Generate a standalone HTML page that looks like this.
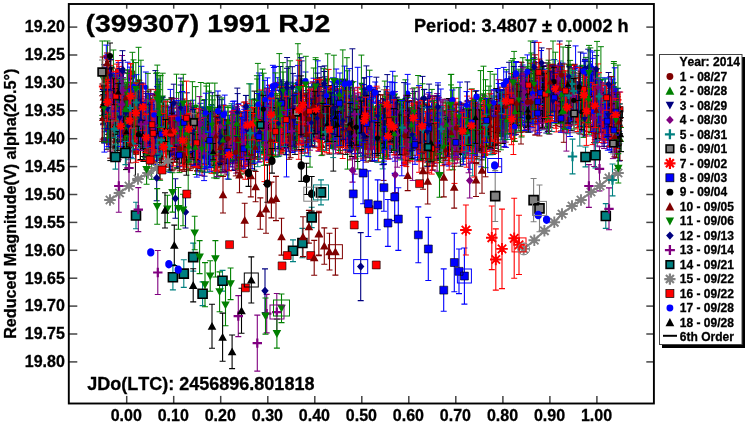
<!DOCTYPE html>
<html><head><meta charset="utf-8"><style>
html,body{margin:0;padding:0;background:#fff;width:748px;height:424px;overflow:hidden}
svg{display:block}
text{font-family:"Liberation Sans",Arial,sans-serif;font-weight:bold;fill:#000;font-kerning:none;stroke:#000;stroke-width:0.3px}
.yl{font-size:16px;text-anchor:end}
.xl{font-size:16px;text-anchor:middle}
.lg{font-size:12px}
</style></head><body>
<svg width="748" height="424" viewBox="0 0 748 424">
<rect width="748" height="424" fill="#fff"/>
<g id="data"><g stroke-width="1" fill="none"><path fill="#008000" d="M413 117.7l3.2 5.7h-6.3zM569.8 100.7l3.2 5.7h-6.3zM429.6 121.9l3.2 5.7h-6.3zM200.4 139.4l3.2 5.7h-6.3zM379.4 134.1l3.2 5.7h-6.3zM295.8 119.2l3.2 5.7h-6.3zM353.5 104.4l3.2 5.7h-6.3zM444.9 139l3.2 5.7h-6.3zM249 142.3l3.2 5.7h-6.3zM283 120l3.2 5.7h-6.3zM347.5 116.8l3.2 5.7h-6.3zM595.3 101.1l3.2 5.7h-6.3zM207.9 145.3l3.2 5.7h-6.3zM442.4 130.9l3.2 5.7h-6.3zM215.7 148.7l3.2 5.7h-6.3zM202.4 124.3l3.2 5.7h-6.3zM533.7 93l3.2 5.7h-6.3zM405.9 128l3.2 5.7h-6.3zM271.8 129.9l3.2 5.7h-6.3zM225.1 128.5l3.2 5.7h-6.3zM341.7 110.7l3.2 5.7h-6.3zM553.7 91.4l3.2 5.7h-6.3zM277.7 113.9l3.2 5.7h-6.3zM504.8 115.1l3.2 5.7h-6.3zM464.8 130.5l3.2 5.7h-6.3zM382.4 141l3.2 5.7h-6.3zM186.1 141l3.2 5.7h-6.3zM283.1 108.6l3.2 5.7h-6.3zM175.7 141.6l3.2 5.7h-6.3zM267.2 135.8l3.2 5.7h-6.3zM363.1 121l3.2 5.7h-6.3zM362.1 107.4l3.2 5.7h-6.3zM137.2 115.4l3.2 5.7h-6.3zM262.2 120.6l3.2 5.7h-6.3zM277.3 122.9l3.2 5.7h-6.3zM232.4 131.5l3.2 5.7h-6.3zM295.7 114.2l3.2 5.7h-6.3zM189.4 135.6l3.2 5.7h-6.3zM349 132.3l3.2 5.7h-6.3zM214.7 119.3l3.2 5.7h-6.3zM517.8 95.4l3.2 5.7h-6.3zM177.7 128.5l3.2 5.7h-6.3zM361.4 114.9l3.2 5.7h-6.3zM503.1 117l3.2 5.7h-6.3zM545.6 96.3l3.2 5.7h-6.3zM282.2 117.2l3.2 5.7h-6.3zM436.5 111.5l3.2 5.7h-6.3zM439.5 127.9l3.2 5.7h-6.3zM320.3 109.8l3.2 5.7h-6.3zM300.8 92l3.2 5.7h-6.3zM547.9 101.6l3.2 5.7h-6.3zM357 119.6l3.2 5.7h-6.3zM376.9 131.2l3.2 5.7h-6.3zM605.6 104.5l3.2 5.7h-6.3zM488.4 120.7l3.2 5.7h-6.3zM194.5 132.2l3.2 5.7h-6.3zM228.8 152.9l3.2 5.7h-6.3zM197.4 138.9l3.2 5.7h-6.3zM568.3 78.3l3.2 5.7h-6.3zM165.1 129.1l3.2 5.7h-6.3zM221 159.1l3.2 5.7h-6.3zM413.2 131.4l3.2 5.7h-6.3zM271.1 135.4l3.2 5.7h-6.3zM238 135.2l3.2 5.7h-6.3zM176.8 146.3l3.2 5.7h-6.3zM246.3 128.4l3.2 5.7h-6.3zM426.8 135.8l3.2 5.7h-6.3zM275.6 107l3.2 5.7h-6.3zM369.7 134.2l3.2 5.7h-6.3zM512.9 102l3.2 5.7h-6.3zM339.6 120.2l3.2 5.7h-6.3zM484 127.2l3.2 5.7h-6.3zM485.1 113.1l3.2 5.7h-6.3zM343.8 106.2l3.2 5.7h-6.3zM340 120.8l3.2 5.7h-6.3zM379.3 118.6l3.2 5.7h-6.3zM527.7 91.8l3.2 5.7h-6.3zM520.5 95l3.2 5.7h-6.3zM331.5 120.6l3.2 5.7h-6.3zM600.4 89.9l3.2 5.7h-6.3zM468.3 134.4l3.2 5.7h-6.3zM270.6 128.1l3.2 5.7h-6.3zM217.6 148.6l3.2 5.7h-6.3zM367.9 114.6l3.2 5.7h-6.3zM512.8 93.2l3.2 5.7h-6.3zM435.8 117.6l3.2 5.7h-6.3zM126.2 118.3l3.2 5.7h-6.3zM440.5 144.6l3.2 5.7h-6.3zM546.8 103.6l3.2 5.7h-6.3zM145.2 134l3.2 5.7h-6.3zM593 80.5l3.2 5.7h-6.3zM116.9 106.7l3.2 5.7h-6.3zM531.1 91.7l3.2 5.7h-6.3zM151.7 136.3l3.2 5.7h-6.3zM386.7 139.2l3.2 5.7h-6.3zM220.3 124.7l3.2 5.7h-6.3zM353.4 113.5l3.2 5.7h-6.3zM494.4 112.5l3.2 5.7h-6.3zM336.5 117.7l3.2 5.7h-6.3zM435.1 136.8l3.2 5.7h-6.3zM247.2 142.5l3.2 5.7h-6.3zM365 135.7l3.2 5.7h-6.3zM620.9 136.3l3.2 5.7h-6.3zM195.7 143.5l3.2 5.7h-6.3zM143.2 125.6l3.2 5.7h-6.3zM211.2 127.2l3.2 5.7h-6.3zM240.8 143.4l3.2 5.7h-6.3zM115.7 112.6l3.2 5.7h-6.3zM194.8 142.5l3.2 5.7h-6.3zM411.7 144.2l3.2 5.7h-6.3zM228 132.1l3.2 5.7h-6.3zM238.4 144l3.2 5.7h-6.3zM618 125.1l3.2 5.7h-6.3zM107.6 109l3.2 5.7h-6.3zM262.9 131l3.2 5.7h-6.3zM252.8 136.3l3.2 5.7h-6.3zM252.9 128.4l3.2 5.7h-6.3zM262.8 122.8l3.2 5.7h-6.3zM214.6 144.8l3.2 5.7h-6.3zM358.3 117.6l3.2 5.7h-6.3zM540.3 80.6l3.2 5.7h-6.3zM385.4 116.7l3.2 5.7h-6.3zM214.1 162.1l3.2 5.7h-6.3zM356.8 110.4l3.2 5.7h-6.3zM402.8 116l3.2 5.7h-6.3zM216.6 146.6l3.2 5.7h-6.3zM489.8 124.7l3.2 5.7h-6.3zM589 108.3l3.2 5.7h-6.3zM196.6 121.7l3.2 5.7h-6.3zM500.2 121.5l3.2 5.7h-6.3zM571.2 87l3.2 5.7h-6.3zM458 138.6l3.2 5.7h-6.3zM500.9 131.4l3.2 5.7h-6.3zM205.3 131.2l3.2 5.7h-6.3zM389.7 114.6l3.2 5.7h-6.3zM137 106.2l3.2 5.7h-6.3zM407.5 116.4l3.2 5.7h-6.3zM550.1 95.9l3.2 5.7h-6.3zM351 97.3l3.2 5.7h-6.3zM188.2 144l3.2 5.7h-6.3zM532.9 85.9l3.2 5.7h-6.3zM565.3 97.6l3.2 5.7h-6.3zM306.4 122.1l3.2 5.7h-6.3zM520.7 96.5l3.2 5.7h-6.3zM250.3 140.2l3.2 5.7h-6.3zM160.1 151.1l3.2 5.7h-6.3zM127.3 127.8l3.2 5.7h-6.3zM133.9 110l3.2 5.7h-6.3zM485.5 120.5l3.2 5.7h-6.3zM253.3 137.3l3.2 5.7h-6.3zM310 124l3.2 5.7h-6.3zM314.3 102.3l3.2 5.7h-6.3zM442.7 127.7l3.2 5.7h-6.3zM296.9 114.9l3.2 5.7h-6.3zM400.6 117.8l3.2 5.7h-6.3zM380.6 128.4l3.2 5.7h-6.3zM452.8 137.1l3.2 5.7h-6.3zM583.6 106.9l3.2 5.7h-6.3zM347.4 110.7l3.2 5.7h-6.3zM561.5 97.9l3.2 5.7h-6.3zM470.1 120.1l3.2 5.7h-6.3zM487.6 115.6l3.2 5.7h-6.3zM118.2 89.8l3.2 5.7h-6.3zM421.4 129.2l3.2 5.7h-6.3zM297.4 106.7l3.2 5.7h-6.3zM329.2 99.8l3.2 5.7h-6.3zM400.9 127.6l3.2 5.7h-6.3zM474.1 125.5l3.2 5.7h-6.3zM134.9 105.1l3.2 5.7h-6.3zM197.3 126.7l3.2 5.7h-6.3zM321.4 125.8l3.2 5.7h-6.3zM354.6 124.3l3.2 5.7h-6.3zM526.9 91.3l3.2 5.7h-6.3zM272 136.8l3.2 5.7h-6.3zM559.8 76.6l3.2 5.7h-6.3zM433.4 127.3l3.2 5.7h-6.3zM347.1 106.7l3.2 5.7h-6.3zM306.2 97.6l3.2 5.7h-6.3zM556.2 104.1l3.2 5.7h-6.3zM108.9 122.9l3.2 5.7h-6.3zM521.5 120.8l3.2 5.7h-6.3zM268.8 139.9l3.2 5.7h-6.3zM386.8 138l3.2 5.7h-6.3zM277.2 114.8l3.2 5.7h-6.3zM275.6 111.8l3.2 5.7h-6.3zM606.7 99.6l3.2 5.7h-6.3zM444.8 130.9l3.2 5.7h-6.3zM533.7 86.3l3.2 5.7h-6.3zM474.2 119.9l3.2 5.7h-6.3zM429.5 131.1l3.2 5.7h-6.3zM586 98.8l3.2 5.7h-6.3zM505.1 110.4l3.2 5.7h-6.3zM472.6 119.6l3.2 5.7h-6.3zM357.7 132.2l3.2 5.7h-6.3zM402.9 117.3l3.2 5.7h-6.3zM573.8 96.5l3.2 5.7h-6.3zM171.4 121.1l3.2 5.7h-6.3zM373.9 122.7l3.2 5.7h-6.3zM135.9 93.7l3.2 5.7h-6.3z"/><path fill="#000" d="M155.6 134a2.6 2.6 0 1 0 5.2 0a2.6 2.6 0 1 0 -5.2 0M252.4 130.1a2.6 2.6 0 1 0 5.2 0a2.6 2.6 0 1 0 -5.2 0M146.1 111.9a2.6 2.6 0 1 0 5.2 0a2.6 2.6 0 1 0 -5.2 0M140.7 139.7a2.6 2.6 0 1 0 5.2 0a2.6 2.6 0 1 0 -5.2 0M243.5 131.3a2.6 2.6 0 1 0 5.2 0a2.6 2.6 0 1 0 -5.2 0M120.7 115.5a2.6 2.6 0 1 0 5.2 0a2.6 2.6 0 1 0 -5.2 0M132.8 139.4a2.6 2.6 0 1 0 5.2 0a2.6 2.6 0 1 0 -5.2 0M539.4 105.6a2.6 2.6 0 1 0 5.2 0a2.6 2.6 0 1 0 -5.2 0M257.5 128.2a2.6 2.6 0 1 0 5.2 0a2.6 2.6 0 1 0 -5.2 0M557.8 95a2.6 2.6 0 1 0 5.2 0a2.6 2.6 0 1 0 -5.2 0M165.1 120a2.6 2.6 0 1 0 5.2 0a2.6 2.6 0 1 0 -5.2 0M373 139.7a2.6 2.6 0 1 0 5.2 0a2.6 2.6 0 1 0 -5.2 0M246.7 142.5a2.6 2.6 0 1 0 5.2 0a2.6 2.6 0 1 0 -5.2 0M346.3 126.1a2.6 2.6 0 1 0 5.2 0a2.6 2.6 0 1 0 -5.2 0M126.2 131.9a2.6 2.6 0 1 0 5.2 0a2.6 2.6 0 1 0 -5.2 0M256.6 115.7a2.6 2.6 0 1 0 5.2 0a2.6 2.6 0 1 0 -5.2 0M446.4 136.3a2.6 2.6 0 1 0 5.2 0a2.6 2.6 0 1 0 -5.2 0M539.9 110.4a2.6 2.6 0 1 0 5.2 0a2.6 2.6 0 1 0 -5.2 0M615.1 118.5a2.6 2.6 0 1 0 5.2 0a2.6 2.6 0 1 0 -5.2 0M262.3 123.1a2.6 2.6 0 1 0 5.2 0a2.6 2.6 0 1 0 -5.2 0M101.2 77.6a2.6 2.6 0 1 0 5.2 0a2.6 2.6 0 1 0 -5.2 0M457.2 130.8a2.6 2.6 0 1 0 5.2 0a2.6 2.6 0 1 0 -5.2 0M513.5 108.5a2.6 2.6 0 1 0 5.2 0a2.6 2.6 0 1 0 -5.2 0M108.7 83.2a2.6 2.6 0 1 0 5.2 0a2.6 2.6 0 1 0 -5.2 0M174.7 126.1a2.6 2.6 0 1 0 5.2 0a2.6 2.6 0 1 0 -5.2 0M362.4 123.4a2.6 2.6 0 1 0 5.2 0a2.6 2.6 0 1 0 -5.2 0M236.4 133.2a2.6 2.6 0 1 0 5.2 0a2.6 2.6 0 1 0 -5.2 0M270.3 115.3a2.6 2.6 0 1 0 5.2 0a2.6 2.6 0 1 0 -5.2 0M353 133.9a2.6 2.6 0 1 0 5.2 0a2.6 2.6 0 1 0 -5.2 0M184.1 121.1a2.6 2.6 0 1 0 5.2 0a2.6 2.6 0 1 0 -5.2 0M156.6 115.7a2.6 2.6 0 1 0 5.2 0a2.6 2.6 0 1 0 -5.2 0M384.2 137.5a2.6 2.6 0 1 0 5.2 0a2.6 2.6 0 1 0 -5.2 0M577.9 108.1a2.6 2.6 0 1 0 5.2 0a2.6 2.6 0 1 0 -5.2 0M243.9 122.2a2.6 2.6 0 1 0 5.2 0a2.6 2.6 0 1 0 -5.2 0M610.9 130.9a2.6 2.6 0 1 0 5.2 0a2.6 2.6 0 1 0 -5.2 0M601.5 112.6a2.6 2.6 0 1 0 5.2 0a2.6 2.6 0 1 0 -5.2 0M181.3 132.1a2.6 2.6 0 1 0 5.2 0a2.6 2.6 0 1 0 -5.2 0M497.2 100.4a2.6 2.6 0 1 0 5.2 0a2.6 2.6 0 1 0 -5.2 0M268.1 123.5a2.6 2.6 0 1 0 5.2 0a2.6 2.6 0 1 0 -5.2 0M493.3 128.1a2.6 2.6 0 1 0 5.2 0a2.6 2.6 0 1 0 -5.2 0M137.8 145.6a2.6 2.6 0 1 0 5.2 0a2.6 2.6 0 1 0 -5.2 0M578 88.7a2.6 2.6 0 1 0 5.2 0a2.6 2.6 0 1 0 -5.2 0M523.5 81.6a2.6 2.6 0 1 0 5.2 0a2.6 2.6 0 1 0 -5.2 0M539.9 91a2.6 2.6 0 1 0 5.2 0a2.6 2.6 0 1 0 -5.2 0M527.9 102.6a2.6 2.6 0 1 0 5.2 0a2.6 2.6 0 1 0 -5.2 0M255.1 135.2a2.6 2.6 0 1 0 5.2 0a2.6 2.6 0 1 0 -5.2 0M347.8 97.6a2.6 2.6 0 1 0 5.2 0a2.6 2.6 0 1 0 -5.2 0M163.2 123.9a2.6 2.6 0 1 0 5.2 0a2.6 2.6 0 1 0 -5.2 0M260.6 124.1a2.6 2.6 0 1 0 5.2 0a2.6 2.6 0 1 0 -5.2 0M522.8 85.4a2.6 2.6 0 1 0 5.2 0a2.6 2.6 0 1 0 -5.2 0M179.3 142.2a2.6 2.6 0 1 0 5.2 0a2.6 2.6 0 1 0 -5.2 0M589.8 81.3a2.6 2.6 0 1 0 5.2 0a2.6 2.6 0 1 0 -5.2 0M416.4 147.3a2.6 2.6 0 1 0 5.2 0a2.6 2.6 0 1 0 -5.2 0M553.4 91.2a2.6 2.6 0 1 0 5.2 0a2.6 2.6 0 1 0 -5.2 0M583.3 107a2.6 2.6 0 1 0 5.2 0a2.6 2.6 0 1 0 -5.2 0M371.8 133.6a2.6 2.6 0 1 0 5.2 0a2.6 2.6 0 1 0 -5.2 0M194.7 138.1a2.6 2.6 0 1 0 5.2 0a2.6 2.6 0 1 0 -5.2 0M613.5 120.7a2.6 2.6 0 1 0 5.2 0a2.6 2.6 0 1 0 -5.2 0M323.5 97.8a2.6 2.6 0 1 0 5.2 0a2.6 2.6 0 1 0 -5.2 0M390.9 130.5a2.6 2.6 0 1 0 5.2 0a2.6 2.6 0 1 0 -5.2 0M432.7 143.6a2.6 2.6 0 1 0 5.2 0a2.6 2.6 0 1 0 -5.2 0M238.7 151.4a2.6 2.6 0 1 0 5.2 0a2.6 2.6 0 1 0 -5.2 0M159.8 139.7a2.6 2.6 0 1 0 5.2 0a2.6 2.6 0 1 0 -5.2 0M365.3 131a2.6 2.6 0 1 0 5.2 0a2.6 2.6 0 1 0 -5.2 0M501.1 101.3a2.6 2.6 0 1 0 5.2 0a2.6 2.6 0 1 0 -5.2 0M548.2 87.3a2.6 2.6 0 1 0 5.2 0a2.6 2.6 0 1 0 -5.2 0M141 135.3a2.6 2.6 0 1 0 5.2 0a2.6 2.6 0 1 0 -5.2 0M342.4 88.5a2.6 2.6 0 1 0 5.2 0a2.6 2.6 0 1 0 -5.2 0M404.6 121.8a2.6 2.6 0 1 0 5.2 0a2.6 2.6 0 1 0 -5.2 0M236.7 146.2a2.6 2.6 0 1 0 5.2 0a2.6 2.6 0 1 0 -5.2 0M294.3 107.5a2.6 2.6 0 1 0 5.2 0a2.6 2.6 0 1 0 -5.2 0M147.4 138.6a2.6 2.6 0 1 0 5.2 0a2.6 2.6 0 1 0 -5.2 0M561.7 90.9a2.6 2.6 0 1 0 5.2 0a2.6 2.6 0 1 0 -5.2 0M487.2 130.4a2.6 2.6 0 1 0 5.2 0a2.6 2.6 0 1 0 -5.2 0M217.9 134.7a2.6 2.6 0 1 0 5.2 0a2.6 2.6 0 1 0 -5.2 0M424.9 124.6a2.6 2.6 0 1 0 5.2 0a2.6 2.6 0 1 0 -5.2 0M192.6 133.9a2.6 2.6 0 1 0 5.2 0a2.6 2.6 0 1 0 -5.2 0M249 133.8a2.6 2.6 0 1 0 5.2 0a2.6 2.6 0 1 0 -5.2 0M243.6 126a2.6 2.6 0 1 0 5.2 0a2.6 2.6 0 1 0 -5.2 0M374.7 110a2.6 2.6 0 1 0 5.2 0a2.6 2.6 0 1 0 -5.2 0M109 79.4a2.6 2.6 0 1 0 5.2 0a2.6 2.6 0 1 0 -5.2 0M265.9 132.4a2.6 2.6 0 1 0 5.2 0a2.6 2.6 0 1 0 -5.2 0M115.2 141.1a2.6 2.6 0 1 0 5.2 0a2.6 2.6 0 1 0 -5.2 0M490.6 128.4a2.6 2.6 0 1 0 5.2 0a2.6 2.6 0 1 0 -5.2 0M381 131.5a2.6 2.6 0 1 0 5.2 0a2.6 2.6 0 1 0 -5.2 0M556 89.7a2.6 2.6 0 1 0 5.2 0a2.6 2.6 0 1 0 -5.2 0M476.6 127.6a2.6 2.6 0 1 0 5.2 0a2.6 2.6 0 1 0 -5.2 0M318 123.8a2.6 2.6 0 1 0 5.2 0a2.6 2.6 0 1 0 -5.2 0M375.4 145.8a2.6 2.6 0 1 0 5.2 0a2.6 2.6 0 1 0 -5.2 0M187.3 129a2.6 2.6 0 1 0 5.2 0a2.6 2.6 0 1 0 -5.2 0M387.7 121.6a2.6 2.6 0 1 0 5.2 0a2.6 2.6 0 1 0 -5.2 0M445.2 132.4a2.6 2.6 0 1 0 5.2 0a2.6 2.6 0 1 0 -5.2 0M437.2 139.1a2.6 2.6 0 1 0 5.2 0a2.6 2.6 0 1 0 -5.2 0M617.5 126.1a2.6 2.6 0 1 0 5.2 0a2.6 2.6 0 1 0 -5.2 0M539.9 109a2.6 2.6 0 1 0 5.2 0a2.6 2.6 0 1 0 -5.2 0M409.5 139.9a2.6 2.6 0 1 0 5.2 0a2.6 2.6 0 1 0 -5.2 0M540.2 96.3a2.6 2.6 0 1 0 5.2 0a2.6 2.6 0 1 0 -5.2 0M205.9 143a2.6 2.6 0 1 0 5.2 0a2.6 2.6 0 1 0 -5.2 0M427.3 154.6a2.6 2.6 0 1 0 5.2 0a2.6 2.6 0 1 0 -5.2 0M445.9 137.6a2.6 2.6 0 1 0 5.2 0a2.6 2.6 0 1 0 -5.2 0M313.6 107.5a2.6 2.6 0 1 0 5.2 0a2.6 2.6 0 1 0 -5.2 0M168.8 118.2a2.6 2.6 0 1 0 5.2 0a2.6 2.6 0 1 0 -5.2 0M476.7 130.4a2.6 2.6 0 1 0 5.2 0a2.6 2.6 0 1 0 -5.2 0M540.4 89.4a2.6 2.6 0 1 0 5.2 0a2.6 2.6 0 1 0 -5.2 0M523.8 104.5a2.6 2.6 0 1 0 5.2 0a2.6 2.6 0 1 0 -5.2 0M397.1 118.4a2.6 2.6 0 1 0 5.2 0a2.6 2.6 0 1 0 -5.2 0M309.9 117a2.6 2.6 0 1 0 5.2 0a2.6 2.6 0 1 0 -5.2 0M111.6 147.4a2.6 2.6 0 1 0 5.2 0a2.6 2.6 0 1 0 -5.2 0M169.3 121.5a2.6 2.6 0 1 0 5.2 0a2.6 2.6 0 1 0 -5.2 0M327.6 105.7a2.6 2.6 0 1 0 5.2 0a2.6 2.6 0 1 0 -5.2 0M222.2 150.7a2.6 2.6 0 1 0 5.2 0a2.6 2.6 0 1 0 -5.2 0M147.1 135.5a2.6 2.6 0 1 0 5.2 0a2.6 2.6 0 1 0 -5.2 0M498.8 105a2.6 2.6 0 1 0 5.2 0a2.6 2.6 0 1 0 -5.2 0M189.9 145.5a2.6 2.6 0 1 0 5.2 0a2.6 2.6 0 1 0 -5.2 0M303.6 114.6a2.6 2.6 0 1 0 5.2 0a2.6 2.6 0 1 0 -5.2 0M381.6 127a2.6 2.6 0 1 0 5.2 0a2.6 2.6 0 1 0 -5.2 0M514.4 104.7a2.6 2.6 0 1 0 5.2 0a2.6 2.6 0 1 0 -5.2 0M606.4 105.5a2.6 2.6 0 1 0 5.2 0a2.6 2.6 0 1 0 -5.2 0M111 91.8a2.6 2.6 0 1 0 5.2 0a2.6 2.6 0 1 0 -5.2 0M446.3 114.9a2.6 2.6 0 1 0 5.2 0a2.6 2.6 0 1 0 -5.2 0M363.7 116.2a2.6 2.6 0 1 0 5.2 0a2.6 2.6 0 1 0 -5.2 0M154.8 124.6a2.6 2.6 0 1 0 5.2 0a2.6 2.6 0 1 0 -5.2 0M485.8 117.6a2.6 2.6 0 1 0 5.2 0a2.6 2.6 0 1 0 -5.2 0M313.4 107.1a2.6 2.6 0 1 0 5.2 0a2.6 2.6 0 1 0 -5.2 0M330.5 122.8a2.6 2.6 0 1 0 5.2 0a2.6 2.6 0 1 0 -5.2 0M445.3 128.6a2.6 2.6 0 1 0 5.2 0a2.6 2.6 0 1 0 -5.2 0M394.9 145a2.6 2.6 0 1 0 5.2 0a2.6 2.6 0 1 0 -5.2 0M417.4 125.4a2.6 2.6 0 1 0 5.2 0a2.6 2.6 0 1 0 -5.2 0M121.8 119.4a2.6 2.6 0 1 0 5.2 0a2.6 2.6 0 1 0 -5.2 0M591.7 111.3a2.6 2.6 0 1 0 5.2 0a2.6 2.6 0 1 0 -5.2 0M193.2 147.1a2.6 2.6 0 1 0 5.2 0a2.6 2.6 0 1 0 -5.2 0M320.5 119.5a2.6 2.6 0 1 0 5.2 0a2.6 2.6 0 1 0 -5.2 0M516.6 101.4a2.6 2.6 0 1 0 5.2 0a2.6 2.6 0 1 0 -5.2 0"/><path fill="#00f" stroke="#000" stroke-width=".6" d="M559.6 92h5.8v5.8h-5.8zM600.7 114.6h5.8v5.8h-5.8zM435.2 136.1h5.8v5.8h-5.8zM407.7 134.3h5.8v5.8h-5.8zM506.5 114.7h5.8v5.8h-5.8zM343.9 121.9h5.8v5.8h-5.8zM379.5 135.6h5.8v5.8h-5.8zM384.6 143.5h5.8v5.8h-5.8zM258 119.5h5.8v5.8h-5.8zM283.6 139.5h5.8v5.8h-5.8zM500.5 112.9h5.8v5.8h-5.8zM154 135.2h5.8v5.8h-5.8zM227.3 143.2h5.8v5.8h-5.8zM359.6 110.4h5.8v5.8h-5.8zM249.4 152.6h5.8v5.8h-5.8zM304.2 115.2h5.8v5.8h-5.8zM357.7 130.2h5.8v5.8h-5.8zM593.7 128.4h5.8v5.8h-5.8zM530.9 87.7h5.8v5.8h-5.8zM602.1 119.2h5.8v5.8h-5.8zM302.4 133.6h5.8v5.8h-5.8zM262.7 126.6h5.8v5.8h-5.8zM298.7 126.1h5.8v5.8h-5.8zM341.1 90.4h5.8v5.8h-5.8zM530.5 98.5h5.8v5.8h-5.8zM316.2 131h5.8v5.8h-5.8zM349.2 129.1h5.8v5.8h-5.8zM293.5 113.9h5.8v5.8h-5.8zM350.2 116.7h5.8v5.8h-5.8zM271.7 131.2h5.8v5.8h-5.8zM527.8 111.4h5.8v5.8h-5.8zM206.3 149.3h5.8v5.8h-5.8zM122.9 119.8h5.8v5.8h-5.8zM343 134.4h5.8v5.8h-5.8zM461 119.8h5.8v5.8h-5.8zM613.5 122.4h5.8v5.8h-5.8zM226.5 136.7h5.8v5.8h-5.8zM288.9 127.9h5.8v5.8h-5.8zM609.5 106.8h5.8v5.8h-5.8zM430.6 132.4h5.8v5.8h-5.8zM468.4 130.9h5.8v5.8h-5.8zM448.7 137.1h5.8v5.8h-5.8zM229.9 131.6h5.8v5.8h-5.8zM402.1 114h5.8v5.8h-5.8zM196.9 145.5h5.8v5.8h-5.8zM386.6 130.4h5.8v5.8h-5.8zM451.9 133.7h5.8v5.8h-5.8zM530 104.2h5.8v5.8h-5.8zM128 134.8h5.8v5.8h-5.8zM548.6 88.6h5.8v5.8h-5.8zM437.9 118.9h5.8v5.8h-5.8zM156.5 136.5h5.8v5.8h-5.8zM518.6 108.8h5.8v5.8h-5.8zM115.1 100.7h5.8v5.8h-5.8zM232 137.7h5.8v5.8h-5.8zM232.1 130.7h5.8v5.8h-5.8zM119.3 118.8h5.8v5.8h-5.8zM275.2 129.6h5.8v5.8h-5.8zM608.4 124.9h5.8v5.8h-5.8zM480.6 135h5.8v5.8h-5.8zM445.9 135.5h5.8v5.8h-5.8zM459.7 136.5h5.8v5.8h-5.8zM269.4 134.9h5.8v5.8h-5.8zM360.5 106.6h5.8v5.8h-5.8zM255.8 119h5.8v5.8h-5.8zM154.9 129.7h5.8v5.8h-5.8zM171.8 124h5.8v5.8h-5.8zM293.5 123.9h5.8v5.8h-5.8zM447.9 120.1h5.8v5.8h-5.8zM442.2 137.1h5.8v5.8h-5.8zM573.9 100.1h5.8v5.8h-5.8zM589.2 113.7h5.8v5.8h-5.8zM156.5 116.2h5.8v5.8h-5.8zM345.9 131.1h5.8v5.8h-5.8zM241.9 131.8h5.8v5.8h-5.8zM414.6 129.7h5.8v5.8h-5.8zM153.5 134.1h5.8v5.8h-5.8zM376.2 113.7h5.8v5.8h-5.8zM578.5 108.2h5.8v5.8h-5.8zM533 93.4h5.8v5.8h-5.8zM197.6 120.2h5.8v5.8h-5.8zM197.8 143.1h5.8v5.8h-5.8zM291.9 120.8h5.8v5.8h-5.8zM143.7 128.8h5.8v5.8h-5.8zM137.5 112h5.8v5.8h-5.8zM594.2 96.4h5.8v5.8h-5.8zM392 123.4h5.8v5.8h-5.8zM232 135.3h5.8v5.8h-5.8zM230.3 138.2h5.8v5.8h-5.8zM234.3 133.5h5.8v5.8h-5.8zM414.6 132.5h5.8v5.8h-5.8zM379.5 124.3h5.8v5.8h-5.8zM565.3 98.2h5.8v5.8h-5.8zM360.1 130.9h5.8v5.8h-5.8zM328 134.4h5.8v5.8h-5.8zM116.2 101.4h5.8v5.8h-5.8zM603.6 123.9h5.8v5.8h-5.8zM607.3 109.9h5.8v5.8h-5.8zM279.8 119.5h5.8v5.8h-5.8zM553.9 90.8h5.8v5.8h-5.8zM329.5 106.6h5.8v5.8h-5.8zM101.9 110.6h5.8v5.8h-5.8zM472.1 138.7h5.8v5.8h-5.8zM167.5 128h5.8v5.8h-5.8zM133 125.2h5.8v5.8h-5.8zM322.2 115.6h5.8v5.8h-5.8zM296 111.7h5.8v5.8h-5.8zM409.5 131.1h5.8v5.8h-5.8zM191.6 144.4h5.8v5.8h-5.8zM394.8 143.4h5.8v5.8h-5.8zM264.5 131.7h5.8v5.8h-5.8zM460.5 139.1h5.8v5.8h-5.8zM606.2 121.4h5.8v5.8h-5.8zM503 121.2h5.8v5.8h-5.8zM424.2 146.3h5.8v5.8h-5.8zM511.7 99.9h5.8v5.8h-5.8zM595.2 102.1h5.8v5.8h-5.8zM540.5 87h5.8v5.8h-5.8zM169.4 126.1h5.8v5.8h-5.8zM167.1 148.1h5.8v5.8h-5.8zM417.6 130.9h5.8v5.8h-5.8zM481.4 131.3h5.8v5.8h-5.8zM549.2 81h5.8v5.8h-5.8zM225.3 134.7h5.8v5.8h-5.8zM518.2 97.6h5.8v5.8h-5.8zM501.5 121.8h5.8v5.8h-5.8zM269 115.7h5.8v5.8h-5.8zM187.4 131.7h5.8v5.8h-5.8zM613.2 128.6h5.8v5.8h-5.8zM535.7 113.3h5.8v5.8h-5.8zM367.8 121.2h5.8v5.8h-5.8zM216.8 130.7h5.8v5.8h-5.8zM455.4 131.9h5.8v5.8h-5.8zM176.1 133.4h5.8v5.8h-5.8zM201.2 141h5.8v5.8h-5.8zM116.6 115h5.8v5.8h-5.8zM203 142.8h5.8v5.8h-5.8zM612.9 113.6h5.8v5.8h-5.8zM470.1 117.7h5.8v5.8h-5.8zM105.4 125.4h5.8v5.8h-5.8zM264.1 142.7h5.8v5.8h-5.8zM209.6 141.6h5.8v5.8h-5.8zM287.9 106.9h5.8v5.8h-5.8zM289.3 133.5h5.8v5.8h-5.8zM368.6 118.3h5.8v5.8h-5.8zM101.5 137.5h5.8v5.8h-5.8zM604.9 122.6h5.8v5.8h-5.8zM130.7 108.7h5.8v5.8h-5.8zM498.5 112h5.8v5.8h-5.8zM201.2 133.6h5.8v5.8h-5.8zM521.7 106.1h5.8v5.8h-5.8zM418.1 129.8h5.8v5.8h-5.8zM243.4 131.6h5.8v5.8h-5.8zM193.9 156.5h5.8v5.8h-5.8zM530 106.2h5.8v5.8h-5.8zM564.8 104.2h5.8v5.8h-5.8zM507.9 107.5h5.8v5.8h-5.8zM276.4 130.3h5.8v5.8h-5.8zM201.7 133.2h5.8v5.8h-5.8zM495.8 102.2h5.8v5.8h-5.8zM196 141.2h5.8v5.8h-5.8zM527 102.2h5.8v5.8h-5.8zM606.8 125.1h5.8v5.8h-5.8zM117.1 106.3h5.8v5.8h-5.8zM153.8 127.8h5.8v5.8h-5.8zM435.1 128.1h5.8v5.8h-5.8zM176.9 124h5.8v5.8h-5.8zM567.1 107.5h5.8v5.8h-5.8zM304.8 122.1h5.8v5.8h-5.8zM336.6 114.8h5.8v5.8h-5.8zM381.1 137.4h5.8v5.8h-5.8zM142.3 129.3h5.8v5.8h-5.8zM251.2 138.8h5.8v5.8h-5.8zM205 146.2h5.8v5.8h-5.8zM145.3 130.8h5.8v5.8h-5.8zM595.5 98.6h5.8v5.8h-5.8zM126.8 112.8h5.8v5.8h-5.8zM561.6 86.7h5.8v5.8h-5.8zM371.4 137.7h5.8v5.8h-5.8zM201.6 152.6h5.8v5.8h-5.8zM356.7 127.4h5.8v5.8h-5.8zM112.4 84.9h5.8v5.8h-5.8zM207.1 150.9h5.8v5.8h-5.8zM602.8 109h5.8v5.8h-5.8zM238.6 135.5h5.8v5.8h-5.8zM472.4 128.7h5.8v5.8h-5.8zM191.4 146.3h5.8v5.8h-5.8zM347.4 123.7h5.8v5.8h-5.8zM284.3 100.3h5.8v5.8h-5.8zM351.6 125.5h5.8v5.8h-5.8zM437.6 124.8h5.8v5.8h-5.8zM565.4 99.4h5.8v5.8h-5.8zM305.4 133h5.8v5.8h-5.8z"/><path fill="#000" d="M493.3 117.4l3.2 5.7h-6.3zM512.4 93.6l3.2 5.7h-6.3zM125.5 106.8l3.2 5.7h-6.3zM382.8 119.2l3.2 5.7h-6.3zM126 131.8l3.2 5.7h-6.3zM265.9 123.9l3.2 5.7h-6.3zM132.3 117.2l3.2 5.7h-6.3zM589.7 92.2l3.2 5.7h-6.3zM157.6 138.5l3.2 5.7h-6.3zM302 125.4l3.2 5.7h-6.3zM255.1 122.3l3.2 5.7h-6.3zM601.2 118.2l3.2 5.7h-6.3zM103.3 105.8l3.2 5.7h-6.3zM286.5 142.8l3.2 5.7h-6.3zM109.2 127.9l3.2 5.7h-6.3zM428.9 129.5l3.2 5.7h-6.3zM126.9 116.8l3.2 5.7h-6.3zM345.8 134.3l3.2 5.7h-6.3zM289.8 120.7l3.2 5.7h-6.3zM345.7 125.3l3.2 5.7h-6.3zM151.3 122.4l3.2 5.7h-6.3zM312.8 112.7l3.2 5.7h-6.3zM613.1 117.5l3.2 5.7h-6.3zM144.2 142.9l3.2 5.7h-6.3zM377.9 102.8l3.2 5.7h-6.3zM108.2 94.8l3.2 5.7h-6.3zM350 99.9l3.2 5.7h-6.3zM262.8 121.3l3.2 5.7h-6.3zM272.1 130.3l3.2 5.7h-6.3zM317.8 107.8l3.2 5.7h-6.3zM163.4 109.2l3.2 5.7h-6.3zM420.7 146.8l3.2 5.7h-6.3zM492.9 127.7l3.2 5.7h-6.3zM526.1 102.4l3.2 5.7h-6.3zM500.2 108.9l3.2 5.7h-6.3zM497.7 128.4l3.2 5.7h-6.3zM203.9 127.1l3.2 5.7h-6.3zM197.3 136.2l3.2 5.7h-6.3zM597.1 100.8l3.2 5.7h-6.3zM481.7 138.7l3.2 5.7h-6.3zM149.2 115.8l3.2 5.7h-6.3zM204.7 150.6l3.2 5.7h-6.3zM400.5 133.3l3.2 5.7h-6.3zM262.9 134.4l3.2 5.7h-6.3zM397.7 117.2l3.2 5.7h-6.3zM439.1 129.2l3.2 5.7h-6.3zM391.6 126.2l3.2 5.7h-6.3zM395.5 120.9l3.2 5.7h-6.3zM296.5 107.3l3.2 5.7h-6.3zM324.5 103.8l3.2 5.7h-6.3zM352.6 127.8l3.2 5.7h-6.3zM345 92.1l3.2 5.7h-6.3zM111.3 133.3l3.2 5.7h-6.3zM298.5 113.9l3.2 5.7h-6.3zM120.5 106.3l3.2 5.7h-6.3zM457.8 129.5l3.2 5.7h-6.3zM330.6 97.4l3.2 5.7h-6.3zM329.4 135.5l3.2 5.7h-6.3zM207.1 132.2l3.2 5.7h-6.3zM316.7 114.2l3.2 5.7h-6.3zM383.5 138.2l3.2 5.7h-6.3zM442.4 127.4l3.2 5.7h-6.3zM199.1 150.8l3.2 5.7h-6.3zM396.8 110.9l3.2 5.7h-6.3zM476.6 130l3.2 5.7h-6.3zM266.3 128.8l3.2 5.7h-6.3zM328.6 123.3l3.2 5.7h-6.3zM240.6 133.9l3.2 5.7h-6.3zM295 133.6l3.2 5.7h-6.3zM204.4 130.6l3.2 5.7h-6.3zM192.1 141.4l3.2 5.7h-6.3zM571 114.8l3.2 5.7h-6.3zM212.1 150.2l3.2 5.7h-6.3zM607 116.6l3.2 5.7h-6.3zM619.9 115.6l3.2 5.7h-6.3zM119 96.7l3.2 5.7h-6.3zM247.5 132.8l3.2 5.7h-6.3zM460.4 146.8l3.2 5.7h-6.3zM351.8 138.5l3.2 5.7h-6.3zM535.1 89.4l3.2 5.7h-6.3zM515.9 114l3.2 5.7h-6.3zM403.4 115.3l3.2 5.7h-6.3zM474.2 109l3.2 5.7h-6.3zM408.5 118.1l3.2 5.7h-6.3zM618.3 123.3l3.2 5.7h-6.3zM161 140.8l3.2 5.7h-6.3zM351.5 126l3.2 5.7h-6.3zM110.7 106.6l3.2 5.7h-6.3zM289.6 112.9l3.2 5.7h-6.3zM597.9 124.4l3.2 5.7h-6.3zM226.8 138.5l3.2 5.7h-6.3zM276.3 122.8l3.2 5.7h-6.3zM609.3 116.8l3.2 5.7h-6.3zM217.6 132.9l3.2 5.7h-6.3zM502.9 121.5l3.2 5.7h-6.3zM486.8 119.6l3.2 5.7h-6.3zM539.2 88.5l3.2 5.7h-6.3zM193.5 135.6l3.2 5.7h-6.3zM129.4 124.7l3.2 5.7h-6.3zM617.1 104l3.2 5.7h-6.3zM215.9 129l3.2 5.7h-6.3zM441.7 128.8l3.2 5.7h-6.3zM220.4 150.1l3.2 5.7h-6.3zM163.3 125.8l3.2 5.7h-6.3zM544.8 102.2l3.2 5.7h-6.3zM617.6 131.7l3.2 5.7h-6.3zM339 121.5l3.2 5.7h-6.3zM132.7 116.5l3.2 5.7h-6.3zM496.2 107.5l3.2 5.7h-6.3zM430 128l3.2 5.7h-6.3zM333.3 132.6l3.2 5.7h-6.3zM222.2 158.3l3.2 5.7h-6.3zM612 110.7l3.2 5.7h-6.3zM357.3 135.1l3.2 5.7h-6.3zM211.1 147.8l3.2 5.7h-6.3zM254.4 127.4l3.2 5.7h-6.3zM423.7 117l3.2 5.7h-6.3zM399.5 131.6l3.2 5.7h-6.3zM542.8 73.5l3.2 5.7h-6.3zM110.3 136.5l3.2 5.7h-6.3zM171.9 121.8l3.2 5.7h-6.3zM544.1 92.8l3.2 5.7h-6.3zM407.9 113.4l3.2 5.7h-6.3zM513.3 99.4l3.2 5.7h-6.3zM208 123.3l3.2 5.7h-6.3zM489.8 123.6l3.2 5.7h-6.3zM424.2 142.3l3.2 5.7h-6.3zM529.5 78.4l3.2 5.7h-6.3zM390.6 113.7l3.2 5.7h-6.3zM186.4 157.9l3.2 5.7h-6.3zM123.4 127l3.2 5.7h-6.3zM115.1 104.5l3.2 5.7h-6.3zM328.2 106.6l3.2 5.7h-6.3zM177.1 154.3l3.2 5.7h-6.3zM272.6 114.8l3.2 5.7h-6.3z"/><path fill="none" stroke="#800080" stroke-width="2.2" d="M598.6 118.5h6.9M602.1 115.1v6.9M244.6 132.5h6.9M248.1 129.1v6.9M487.8 106.4h6.9M491.3 102.9v6.9M429.4 130.2h6.9M432.8 126.8v6.9M358.8 126.5h6.9M362.2 123v6.9M177.7 125.1h6.9M181.2 121.7v6.9M257.6 119.6h6.9M261 116.2v6.9M107.1 101.6h6.9M110.6 98.1v6.9M121.2 109.2h6.9M124.7 105.8v6.9M378.6 126.5h6.9M382.1 123.1v6.9M360.4 123.3h6.9M363.9 119.9v6.9M133.3 128.7h6.9M136.7 125.3v6.9M465.2 139.4h6.9M468.6 136v6.9M262.1 126.2h6.9M265.5 122.8v6.9M577 111h6.9M580.4 107.5v6.9M351.7 109.9h6.9M355.1 106.5v6.9M126.3 132.9h6.9M129.7 129.4v6.9M480.7 119.6h6.9M484.1 116.2v6.9M543.5 87.1h6.9M547 83.7v6.9M274.6 121.6h6.9M278.1 118.1v6.9M326.7 120.7h6.9M330.1 117.3v6.9M412.8 128.3h6.9M416.2 124.8v6.9M468.9 130.7h6.9M472.3 127.2v6.9M434.6 130.1h6.9M438 126.7v6.9M311.8 124.4h6.9M315.2 120.9v6.9M482 126.9h6.9M485.4 123.5v6.9M300.7 124.1h6.9M304.1 120.7v6.9M605.9 127.1h6.9M609.3 123.7v6.9M124.8 100.1h6.9M128.3 96.7v6.9M267.3 111.5h6.9M270.8 108v6.9M354.4 126.9h6.9M357.8 123.5v6.9M171.4 141.4h6.9M174.8 138v6.9M235.6 149.6h6.9M239 146.1v6.9M424.4 122.3h6.9M427.9 118.8v6.9M443.6 131.9h6.9M447 128.5v6.9M239.3 139.6h6.9M242.7 136.2v6.9M186.8 117.4h6.9M190.2 114v6.9M517.5 91.5h6.9M520.9 88.1v6.9M187.7 121.8h6.9M191.2 118.4v6.9M159.9 123.4h6.9M163.3 120v6.9M397.2 134.8h6.9M400.6 131.3v6.9M233.5 129.8h6.9M236.9 126.3v6.9M488.2 120h6.9M491.6 116.6v6.9M536.4 98.2h6.9M539.8 94.8v6.9M244.6 133.2h6.9M248 129.7v6.9M468.1 122.9h6.9M471.6 119.5v6.9M536.5 85.9h6.9M539.9 82.5v6.9M495.6 119.8h6.9M499.1 116.3v6.9M459.2 129.1h6.9M462.6 125.6v6.9M505.9 112.2h6.9M509.4 108.8v6.9M429 126.9h6.9M432.5 123.4v6.9M601.3 113.9h6.9M604.7 110.5v6.9M539.6 90.2h6.9M543 86.8v6.9M141.6 120h6.9M145.1 116.5v6.9M581 93h6.9M584.5 89.5v6.9M341.7 110.2h6.9M345.1 106.8v6.9M172.2 138.4h6.9M175.6 134.9v6.9M481.5 122h6.9M485 118.5v6.9M175.2 130.6h6.9M178.7 127.2v6.9M500.8 119.1h6.9M504.2 115.7v6.9M234.9 128.9h6.9M238.3 125.4v6.9M315.1 107.7h6.9M318.5 104.2v6.9M390.7 119.7h6.9M394.1 116.3v6.9M267.2 104.7h6.9M270.6 101.3v6.9M359.6 137.5h6.9M363 134v6.9M228.7 139h6.9M232.2 135.6v6.9M402.1 138.1h6.9M405.5 134.7v6.9M554.4 96.5h6.9M557.8 93v6.9M553.2 89.6h6.9M556.6 86.1v6.9M143 136.1h6.9M146.4 132.7v6.9M495.1 123.3h6.9M498.5 119.8v6.9M172.8 132.9h6.9M176.2 129.5v6.9M356.4 135.3h6.9M359.9 131.9v6.9M446.9 136h6.9M450.4 132.6v6.9M296.1 118.5h6.9M299.5 115.1v6.9M450.8 128.7h6.9M454.2 125.3v6.9M275.7 129h6.9M279.2 125.6v6.9M435.4 127.3h6.9M438.8 123.9v6.9M386.3 127.9h6.9M389.7 124.5v6.9M612.3 122.1h6.9M615.8 118.7v6.9M308.1 108.3h6.9M311.6 104.9v6.9M147.8 135.2h6.9M151.2 131.7v6.9M197.8 136.7h6.9M201.2 133.3v6.9M238 144.6h6.9M241.5 141.2v6.9M219.4 150.3h6.9M222.9 146.9v6.9M217.4 140.2h6.9M220.8 136.7v6.9M331.3 129.5h6.9M334.7 126.1v6.9M616 113.7h6.9M619.4 110.3v6.9M450.7 145.6h6.9M454.2 142.2v6.9M305.1 103.8h6.9M308.5 100.4v6.9M149.1 122.2h6.9M152.6 118.7v6.9M321.7 113.8h6.9M325.1 110.3v6.9M469.6 133.7h6.9M473.1 130.3v6.9M266.4 117h6.9M269.9 113.5v6.9M368 116.9h6.9M371.4 113.5v6.9M281.7 107.9h6.9M285.1 104.5v6.9M561 98.7h6.9M564.5 95.3v6.9M118.7 94.2h6.9M122.1 90.7v6.9M473.9 128.3h6.9M477.4 124.8v6.9M608.5 109.1h6.9M611.9 105.6v6.9M612.3 126.5h6.9M615.7 123.1v6.9M463.4 127.3h6.9M466.8 123.8v6.9M405.4 139.5h6.9M408.9 136.1v6.9M451.4 137.2h6.9M454.8 133.8v6.9M446.4 127.8h6.9M449.9 124.4v6.9M511.7 100.9h6.9M515.1 97.5v6.9M446.2 119h6.9M449.6 115.6v6.9M486.9 124.1h6.9M490.4 120.7v6.9"/><path fill="none" stroke="#f00" stroke-width="1.9" d="M195.9 137.6h8.5M200.1 133.4v8.5M197.1 134.6l6.1 6.1M197.1 140.7l6.1 -6.1M142 135h8.5M146.3 130.7v8.5M143.2 131.9l6.1 6.1M143.2 138l6.1 -6.1M437.3 130.6h8.5M441.5 126.4v8.5M438.5 127.6l6.1 6.1M438.5 133.7l6.1 -6.1M599.1 111.9h8.5M603.4 107.7v8.5M600.3 108.9l6.1 6.1M600.3 115l6.1 -6.1M379.5 126.1h8.5M383.8 121.8v8.5M380.7 123l6.1 6.1M380.7 129.2l6.1 -6.1M356.4 117.7h8.5M360.6 113.4v8.5M357.6 114.6l6.1 6.1M357.6 120.8l6.1 -6.1M297.8 133h8.5M302 128.7v8.5M299 129.9l6.1 6.1M299 136.1l6.1 -6.1M598.9 110.3h8.5M603.2 106.1v8.5M600.1 107.3l6.1 6.1M600.1 113.4l6.1 -6.1M593.6 93h8.5M597.9 88.7v8.5M594.8 89.9l6.1 6.1M594.8 96l6.1 -6.1M514.6 104.7h8.5M518.9 100.5v8.5M515.8 101.6l6.1 6.1M515.8 107.8l6.1 -6.1M114.8 115.2h8.5M119.1 110.9v8.5M116 112.1l6.1 6.1M116 118.3l6.1 -6.1M437.3 130.3h8.5M441.6 126.1v8.5M438.5 127.3l6.1 6.1M438.5 133.4l6.1 -6.1M172.3 132.2h8.5M176.5 128v8.5M173.5 129.2l6.1 6.1M173.5 135.3l6.1 -6.1M552 103.4h8.5M556.3 99.2v8.5M553.2 100.4l6.1 6.1M553.2 106.5l6.1 -6.1M256.4 132.8h8.5M260.7 128.5v8.5M257.6 129.7l6.1 6.1M257.6 135.8l6.1 -6.1M334.2 124.3h8.5M338.5 120.1v8.5M335.4 121.3l6.1 6.1M335.4 127.4l6.1 -6.1M558.1 114.2h8.5M562.4 109.9v8.5M559.3 111.1l6.1 6.1M559.3 117.2l6.1 -6.1M594.7 91.6h8.5M599 87.3v8.5M595.9 88.5l6.1 6.1M595.9 94.7l6.1 -6.1M288.7 127.5h8.5M292.9 123.3v8.5M289.9 124.5l6.1 6.1M289.9 130.6l6.1 -6.1M154.1 132.4h8.5M158.3 128.2v8.5M155.3 129.4l6.1 6.1M155.3 135.5l6.1 -6.1M392.4 142.1h8.5M396.6 137.8v8.5M393.6 139l6.1 6.1M393.6 145.1l6.1 -6.1M468.4 112.5h8.5M472.7 108.2v8.5M469.6 109.4l6.1 6.1M469.6 115.6l6.1 -6.1M367.3 142.2h8.5M371.6 137.9v8.5M368.5 139.1l6.1 6.1M368.5 145.2l6.1 -6.1M537.1 91.9h8.5M541.3 87.6v8.5M538.2 88.8l6.1 6.1M538.2 94.9l6.1 -6.1M281 104h8.5M285.3 99.7v8.5M282.2 100.9l6.1 6.1M282.2 107l6.1 -6.1M132 115.8h8.5M136.2 111.6v8.5M133.2 112.8l6.1 6.1M133.2 118.9l6.1 -6.1M110.2 120.3h8.5M114.5 116.1v8.5M111.4 117.3l6.1 6.1M111.4 123.4l6.1 -6.1M135.9 139.8h8.5M140.1 135.5v8.5M137.1 136.7l6.1 6.1M137.1 142.8l6.1 -6.1M367.7 121.3h8.5M371.9 117v8.5M368.9 118.2l6.1 6.1M368.9 124.4l6.1 -6.1M452 130.4h8.5M456.2 126.2v8.5M453.2 127.4l6.1 6.1M453.2 133.5l6.1 -6.1M154.3 114.4h8.5M158.5 110.2v8.5M155.5 111.4l6.1 6.1M155.5 117.5l6.1 -6.1M547.2 87h8.5M551.5 82.7v8.5M548.4 83.9l6.1 6.1M548.4 90l6.1 -6.1M601.6 112.8h8.5M605.8 108.6v8.5M602.8 109.8l6.1 6.1M602.8 115.9l6.1 -6.1M380.4 133.1h8.5M384.7 128.8v8.5M381.6 130l6.1 6.1M381.6 136.2l6.1 -6.1M399.4 133.2h8.5M403.7 129v8.5M400.6 130.2l6.1 6.1M400.6 136.3l6.1 -6.1M374.3 132.8h8.5M378.6 128.5v8.5M375.5 129.7l6.1 6.1M375.5 135.8l6.1 -6.1M316 120.9h8.5M320.2 116.6v8.5M317.2 117.8l6.1 6.1M317.2 124l6.1 -6.1M250.3 128.3h8.5M254.5 124.1v8.5M251.4 125.2l6.1 6.1M251.4 131.4l6.1 -6.1M437.9 135.7h8.5M442.2 131.5v8.5M439.1 132.7l6.1 6.1M439.1 138.8l6.1 -6.1M182.7 129.5h8.5M187 125.3v8.5M183.9 126.5l6.1 6.1M183.9 132.6l6.1 -6.1M415.1 121.9h8.5M419.4 117.6v8.5M416.3 118.8l6.1 6.1M416.3 124.9l6.1 -6.1M247 138.2h8.5M251.2 133.9v8.5M248.2 135.1l6.1 6.1M248.2 141.2l6.1 -6.1M558.4 101.4h8.5M562.6 97.1v8.5M559.6 98.3l6.1 6.1M559.6 104.5l6.1 -6.1M579 100.8h8.5M583.3 96.6v8.5M580.2 97.7l6.1 6.1M580.2 103.9l6.1 -6.1M468.4 133.3h8.5M472.7 129v8.5M469.6 130.2l6.1 6.1M469.6 136.4l6.1 -6.1M476.9 124.2h8.5M481.1 119.9v8.5M478.1 121.1l6.1 6.1M478.1 127.2l6.1 -6.1M450.2 141.6h8.5M454.5 137.3v8.5M451.4 138.5l6.1 6.1M451.4 144.7l6.1 -6.1M343.9 114.1h8.5M348.2 109.8v8.5M345.1 111l6.1 6.1M345.1 117.2l6.1 -6.1M211.6 150.5h8.5M215.8 146.3v8.5M212.7 147.4l6.1 6.1M212.7 153.6l6.1 -6.1M270.8 132.7h8.5M275 128.5v8.5M272 129.7l6.1 6.1M272 135.8l6.1 -6.1M510.6 107.3h8.5M514.9 103.1v8.5M511.8 104.2l6.1 6.1M511.8 110.4l6.1 -6.1M441.4 121.2h8.5M445.7 117v8.5M442.6 118.2l6.1 6.1M442.6 124.3l6.1 -6.1M322.4 127.2h8.5M326.6 122.9v8.5M323.6 124.1l6.1 6.1M323.6 130.3l6.1 -6.1M157.8 128.2h8.5M162.1 124v8.5M159 125.2l6.1 6.1M159 131.3l6.1 -6.1M147.5 114.4h8.5M151.7 110.1v8.5M148.7 111.3l6.1 6.1M148.7 117.5l6.1 -6.1M101.7 82.7h8.5M106 78.4v8.5M102.9 79.6l6.1 6.1M102.9 85.8l6.1 -6.1M582.1 109.8h8.5M586.4 105.6v8.5M583.3 106.7l6.1 6.1M583.3 112.9l6.1 -6.1M338.5 132h8.5M342.7 127.7v8.5M339.6 128.9l6.1 6.1M339.6 135.1l6.1 -6.1M98.9 86.5h8.5M103.2 82.2v8.5M100.1 83.4l6.1 6.1M100.1 89.6l6.1 -6.1M360.7 128.3h8.5M365 124v8.5M361.9 125.2l6.1 6.1M361.9 131.3l6.1 -6.1M571.6 101.7h8.5M575.8 97.4v8.5M572.8 98.6l6.1 6.1M572.8 104.7l6.1 -6.1M418.6 135.5h8.5M422.9 131.3v8.5M419.8 132.5l6.1 6.1M419.8 138.6l6.1 -6.1M419.3 119.5h8.5M423.5 115.2v8.5M420.5 116.4l6.1 6.1M420.5 122.6l6.1 -6.1M280.5 112.8h8.5M284.8 108.6v8.5M281.7 109.8l6.1 6.1M281.7 115.9l6.1 -6.1M452.6 140.2h8.5M456.9 136v8.5M453.8 137.1l6.1 6.1M453.8 143.3l6.1 -6.1M450.9 131.7h8.5M455.2 127.5v8.5M452.1 128.7l6.1 6.1M452.1 134.8l6.1 -6.1M211.4 144.8h8.5M215.6 140.6v8.5M212.6 141.8l6.1 6.1M212.6 147.9l6.1 -6.1M194.1 138h8.5M198.4 133.7v8.5M195.3 134.9l6.1 6.1M195.3 141l6.1 -6.1M110.8 113h8.5M115.1 108.7v8.5M112 109.9l6.1 6.1M112 116.1l6.1 -6.1M150.7 131h8.5M155 126.7v8.5M151.9 127.9l6.1 6.1M151.9 134l6.1 -6.1M151.4 120.1h8.5M155.7 115.8v8.5M152.6 117l6.1 6.1M152.6 123.2l6.1 -6.1M202.7 141.6h8.5M206.9 137.4v8.5M203.9 138.6l6.1 6.1M203.9 144.7l6.1 -6.1M429.3 137.7h8.5M433.5 133.5v8.5M430.5 134.6l6.1 6.1M430.5 140.8l6.1 -6.1M575 117.7h8.5M579.2 113.5v8.5M576.2 114.6l6.1 6.1M576.2 120.8l6.1 -6.1M114.5 119h8.5M118.8 114.7v8.5M115.7 115.9l6.1 6.1M115.7 122l6.1 -6.1M178.6 141.6h8.5M182.9 137.3v8.5M179.8 138.5l6.1 6.1M179.8 144.6l6.1 -6.1M162.7 136.2h8.5M167 132v8.5M163.9 133.2l6.1 6.1M163.9 139.3l6.1 -6.1M441.9 127.5h8.5M446.2 123.2v8.5M443.1 124.4l6.1 6.1M443.1 130.6l6.1 -6.1M468 123.6h8.5M472.3 119.3v8.5M469.2 120.5l6.1 6.1M469.2 126.7l6.1 -6.1M147.5 142.8h8.5M151.8 138.5v8.5M148.7 139.7l6.1 6.1M148.7 145.8l6.1 -6.1M593 117.6h8.5M597.3 113.3v8.5M594.2 114.5l6.1 6.1M594.2 120.6l6.1 -6.1M482.2 135.9h8.5M486.5 131.7v8.5M483.4 132.9l6.1 6.1M483.4 139l6.1 -6.1M247.4 116.8h8.5M251.6 112.5v8.5M248.6 113.7l6.1 6.1M248.6 119.9l6.1 -6.1M325.5 112.2h8.5M329.8 108v8.5M326.7 109.2l6.1 6.1M326.7 115.3l6.1 -6.1M545 98.8h8.5M549.2 94.5v8.5M546.1 95.7l6.1 6.1M546.1 101.8l6.1 -6.1M351.4 124.5h8.5M355.7 120.3v8.5M352.6 121.5l6.1 6.1M352.6 127.6l6.1 -6.1M595.3 116.6h8.5M599.5 112.3v8.5M596.5 113.5l6.1 6.1M596.5 119.6l6.1 -6.1M313.9 113.8h8.5M318.2 109.5v8.5M315.1 110.7l6.1 6.1M315.1 116.8l6.1 -6.1M472.2 121.6h8.5M476.5 117.3v8.5M473.4 118.5l6.1 6.1M473.4 124.7l6.1 -6.1M263.5 130.3h8.5M267.8 126v8.5M264.7 127.2l6.1 6.1M264.7 133.3l6.1 -6.1M379.8 119.2h8.5M384.1 115v8.5M381 116.2l6.1 6.1M381 122.3l6.1 -6.1M207.4 157.1h8.5M211.6 152.9v8.5M208.6 154.1l6.1 6.1M208.6 160.2l6.1 -6.1M550.8 90.9h8.5M555.1 86.7v8.5M552 87.9l6.1 6.1M552 94l6.1 -6.1M125 105.8h8.5M129.3 101.5v8.5M126.2 102.7l6.1 6.1M126.2 108.9l6.1 -6.1M222.7 147.4h8.5M227 143.1v8.5M223.9 144.3l6.1 6.1M223.9 150.5l6.1 -6.1M140.7 121.9h8.5M145 117.6v8.5M141.9 118.8l6.1 6.1M141.9 124.9l6.1 -6.1M262.2 115.1h8.5M266.5 110.8v8.5M263.4 112l6.1 6.1M263.4 118.2l6.1 -6.1M542 95.8h8.5M546.2 91.5v8.5M543.2 92.7l6.1 6.1M543.2 98.8l6.1 -6.1M112.8 91.2h8.5M117 86.9v8.5M114 88.1l6.1 6.1M114 94.3l6.1 -6.1M564.3 104.2h8.5M568.6 100v8.5M565.5 101.1l6.1 6.1M565.5 107.3l6.1 -6.1M429.8 129.7h8.5M434 125.5v8.5M431 126.7l6.1 6.1M431 132.8l6.1 -6.1M108.4 101.2h8.5M112.6 96.9v8.5M109.6 98.1l6.1 6.1M109.6 104.3l6.1 -6.1M273.9 135.3h8.5M278.1 131.1v8.5M275.1 132.3l6.1 6.1M275.1 138.4l6.1 -6.1M597.8 103h8.5M602.1 98.7v8.5M599 99.9l6.1 6.1M599 106l6.1 -6.1M233.8 142h8.5M238.1 137.8v8.5M235 139l6.1 6.1M235 145.1l6.1 -6.1M169.1 137.1h8.5M173.3 132.9v8.5M170.2 134.1l6.1 6.1M170.2 140.2l6.1 -6.1M462.4 143.3h8.5M466.7 139v8.5M463.6 140.2l6.1 6.1M463.6 146.3l6.1 -6.1M157.4 135.5h8.5M161.7 131.3v8.5M158.6 132.4l6.1 6.1M158.6 138.6l6.1 -6.1M363.8 122.1h8.5M368.1 117.9v8.5M365 119.1l6.1 6.1M365 125.2l6.1 -6.1M610.5 116.1h8.5M614.8 111.8v8.5M611.7 113l6.1 6.1M611.7 119.2l6.1 -6.1M174.4 128.8h8.5M178.7 124.6v8.5M175.6 125.7l6.1 6.1M175.6 131.9l6.1 -6.1M296.3 111.1h8.5M300.6 106.8v8.5M297.5 108l6.1 6.1M297.5 114.1l6.1 -6.1M506.9 104.1h8.5M511.2 99.8v8.5M508.1 101l6.1 6.1M508.1 107.2l6.1 -6.1M278.7 125.6h8.5M283 121.4v8.5M279.9 122.6l6.1 6.1M279.9 128.7l6.1 -6.1M160.8 117.2h8.5M165.1 112.9v8.5M162 114.1l6.1 6.1M162 120.3l6.1 -6.1M428.2 130h8.5M432.5 125.8v8.5M429.4 127l6.1 6.1M429.4 133.1l6.1 -6.1M346 131.1h8.5M350.2 126.8v8.5M347.1 128l6.1 6.1M347.1 134.1l6.1 -6.1M480.7 126.7h8.5M485 122.4v8.5M481.9 123.6l6.1 6.1M481.9 129.8l6.1 -6.1M526.6 94.8h8.5M530.8 90.6v8.5M527.8 91.8l6.1 6.1M527.8 97.9l6.1 -6.1M482.4 126h8.5M486.6 121.8v8.5M483.6 123l6.1 6.1M483.6 129.1l6.1 -6.1M212.5 148.9h8.5M216.8 144.6v8.5M213.7 145.8l6.1 6.1M213.7 152l6.1 -6.1M299.6 128.5h8.5M303.9 124.3v8.5M300.8 125.5l6.1 6.1M300.8 131.6l6.1 -6.1M451.4 121.2h8.5M455.7 116.9v8.5M452.6 118.1l6.1 6.1M452.6 124.2l6.1 -6.1M580.3 106.5h8.5M584.6 102.2v8.5M581.5 103.4l6.1 6.1M581.5 109.6l6.1 -6.1M513.4 97.5h8.5M517.7 93.2v8.5M514.6 94.4l6.1 6.1M514.6 100.6l6.1 -6.1M588.6 105h8.5M592.9 100.7v8.5M589.8 101.9l6.1 6.1M589.8 108.1l6.1 -6.1M334.3 101.4h8.5M338.6 97.1v8.5M335.5 98.3l6.1 6.1M335.5 104.4l6.1 -6.1M239.1 136.7h8.5M243.3 132.5v8.5M240.3 133.7l6.1 6.1M240.3 139.8l6.1 -6.1M421.2 136.4h8.5M425.5 132.1v8.5M422.4 133.3l6.1 6.1M422.4 139.4l6.1 -6.1M422.6 133.1h8.5M426.8 128.8v8.5M423.8 130l6.1 6.1M423.8 136.2l6.1 -6.1M318.4 132.5h8.5M322.7 128.2v8.5M319.6 129.4l6.1 6.1M319.6 135.6l6.1 -6.1M589.7 110.1h8.5M594 105.9v8.5M590.9 107l6.1 6.1M590.9 113.2l6.1 -6.1M399.7 131.7h8.5M404 127.5v8.5M400.9 128.7l6.1 6.1M400.9 134.8l6.1 -6.1M462.8 119.8h8.5M467.1 115.5v8.5M464 116.7l6.1 6.1M464 122.9l6.1 -6.1M249.1 136.7h8.5M253.4 132.4v8.5M250.3 133.6l6.1 6.1M250.3 139.7l6.1 -6.1M343 123.4h8.5M347.2 119.1v8.5M344.2 120.3l6.1 6.1M344.2 126.4l6.1 -6.1M414.9 129.8h8.5M419.1 125.5v8.5M416.1 126.7l6.1 6.1M416.1 132.9l6.1 -6.1M276.8 126.6h8.5M281 122.3v8.5M278 123.5l6.1 6.1M278 129.7l6.1 -6.1M340.1 129.6h8.5M344.3 125.4v8.5M341.3 126.6l6.1 6.1M341.3 132.7l6.1 -6.1M315.1 110.5h8.5M319.4 106.3v8.5M316.3 107.5l6.1 6.1M316.3 113.6l6.1 -6.1M103.4 114.8h8.5M107.6 110.5v8.5M104.6 111.7l6.1 6.1M104.6 117.9l6.1 -6.1M350.1 108.2h8.5M354.3 103.9v8.5M351.3 105.1l6.1 6.1M351.3 111.2l6.1 -6.1M574.7 95.8h8.5M579 91.6v8.5M575.9 92.7l6.1 6.1M575.9 98.9l6.1 -6.1M241.1 140.6h8.5M245.3 136.3v8.5M242.3 137.5l6.1 6.1M242.3 143.7l6.1 -6.1M411 134.5h8.5M415.3 130.3v8.5M412.2 131.5l6.1 6.1M412.2 137.6l6.1 -6.1M277.3 119.9h8.5M281.6 115.6v8.5M278.5 116.8l6.1 6.1M278.5 122.9l6.1 -6.1M265.2 134.4h8.5M269.5 130.2v8.5M266.4 131.4l6.1 6.1M266.4 137.5l6.1 -6.1M510 108.3h8.5M514.2 104v8.5M511.2 105.2l6.1 6.1M511.2 111.3l6.1 -6.1M545 97.2h8.5M549.2 92.9v8.5M546.1 94.1l6.1 6.1M546.1 100.2l6.1 -6.1M582.1 119.8h8.5M586.4 115.5v8.5M583.3 116.7l6.1 6.1M583.3 122.8l6.1 -6.1M573.5 113h8.5M577.8 108.7v8.5M574.7 109.9l6.1 6.1M574.7 116.1l6.1 -6.1M343.2 124.5h8.5M347.5 120.2v8.5M344.4 121.4l6.1 6.1M344.4 127.5l6.1 -6.1M368.8 129.8h8.5M373.1 125.6v8.5M370 126.8l6.1 6.1M370 132.9l6.1 -6.1M532.6 95.8h8.5M536.9 91.6v8.5M533.8 92.8l6.1 6.1M533.8 98.9l6.1 -6.1M550 87h8.5M554.3 82.7v8.5M551.2 83.9l6.1 6.1M551.2 90l6.1 -6.1M517.4 105.1h8.5M521.7 100.8v8.5M518.6 102l6.1 6.1M518.6 108.2l6.1 -6.1M450.4 138.8h8.5M454.7 134.5v8.5M451.6 135.7l6.1 6.1M451.6 141.8l6.1 -6.1M398.6 151.3h8.5M402.9 147v8.5M399.8 148.2l6.1 6.1M399.8 154.3l6.1 -6.1M329.3 118.7h8.5M333.6 114.4v8.5M330.5 115.6l6.1 6.1M330.5 121.7l6.1 -6.1M295.5 128.1h8.5M299.8 123.8v8.5M296.7 125l6.1 6.1M296.7 131.2l6.1 -6.1M412.3 128.5h8.5M416.6 124.3v8.5M413.5 125.5l6.1 6.1M413.5 131.6l6.1 -6.1M309.8 109.4h8.5M314.1 105.1v8.5M311 106.3l6.1 6.1M311 112.4l6.1 -6.1M314.9 117.8h8.5M319.2 113.5v8.5M316.1 114.7l6.1 6.1M316.1 120.9l6.1 -6.1M444.3 135.6h8.5M448.5 131.4v8.5M445.4 132.6l6.1 6.1M445.4 138.7l6.1 -6.1M600.7 108.4h8.5M605 104.2v8.5M601.9 105.4l6.1 6.1M601.9 111.5l6.1 -6.1M205.4 131.4h8.5M209.7 127.2v8.5M206.6 128.4l6.1 6.1M206.6 134.5l6.1 -6.1M485.4 122.5h8.5M489.7 118.2v8.5M486.6 119.4l6.1 6.1M486.6 125.5l6.1 -6.1M588.5 113.6h8.5M592.7 109.4v8.5M589.7 110.6l6.1 6.1M589.7 116.7l6.1 -6.1M541.4 99.6h8.5M545.7 95.3v8.5M542.6 96.5l6.1 6.1M542.6 102.6l6.1 -6.1M414.9 132.9h8.5M419.1 128.6v8.5M416.1 129.8l6.1 6.1M416.1 135.9l6.1 -6.1M487.4 128.6h8.5M491.6 124.3v8.5M488.6 125.5l6.1 6.1M488.6 131.7l6.1 -6.1M181.8 142h8.5M186.1 137.7v8.5M183 138.9l6.1 6.1M183 145l6.1 -6.1M204.2 138.4h8.5M208.5 134.1v8.5M205.4 135.3l6.1 6.1M205.4 141.5l6.1 -6.1M303.2 130.4h8.5M307.4 126.1v8.5M304.4 127.3l6.1 6.1M304.4 133.5l6.1 -6.1M504 93.1h8.5M508.3 88.8v8.5M505.2 90l6.1 6.1M505.2 96.1l6.1 -6.1M266.7 133.5h8.5M270.9 129.2v8.5M267.9 130.4l6.1 6.1M267.9 136.6l6.1 -6.1M104 73.2h8.5M108.2 68.9v8.5M105.2 70.1l6.1 6.1M105.2 76.3l6.1 -6.1M294.4 126.6h8.5M298.6 122.4v8.5M295.6 123.6l6.1 6.1M295.6 129.7l6.1 -6.1M150.1 138.8h8.5M154.4 134.6v8.5M151.3 135.8l6.1 6.1M151.3 141.9l6.1 -6.1M431.8 142.8h8.5M436.1 138.5v8.5M433 139.7l6.1 6.1M433 145.9l6.1 -6.1M147.5 127h8.5M151.8 122.7v8.5M148.7 123.9l6.1 6.1M148.7 130l6.1 -6.1M607.5 114.4h8.5M611.8 110.1v8.5M608.7 111.3l6.1 6.1M608.7 117.4l6.1 -6.1M129.9 128.3h8.5M134.2 124v8.5M131.1 125.2l6.1 6.1M131.1 131.3l6.1 -6.1M544.5 93.8h8.5M548.8 89.5v8.5M545.7 90.7l6.1 6.1M545.7 96.8l6.1 -6.1M276.5 112.6h8.5M280.7 108.3v8.5M277.7 109.5l6.1 6.1M277.7 115.7l6.1 -6.1M277.1 109h8.5M281.3 104.7v8.5M278.3 105.9l6.1 6.1M278.3 112.1l6.1 -6.1M262.9 113.9h8.5M267.2 109.6v8.5M264.1 110.8l6.1 6.1M264.1 116.9l6.1 -6.1M440.7 137.3h8.5M445 133v8.5M441.9 134.2l6.1 6.1M441.9 140.3l6.1 -6.1M445.1 139.5h8.5M449.4 135.2v8.5M446.3 136.4l6.1 6.1M446.3 142.5l6.1 -6.1M399.7 145.7h8.5M404 141.4v8.5M400.9 142.6l6.1 6.1M400.9 148.7l6.1 -6.1M192.6 138.2h8.5M196.9 134v8.5M193.8 135.1l6.1 6.1M193.8 141.3l6.1 -6.1M551.5 97.3h8.5M555.7 93.1v8.5M552.7 94.3l6.1 6.1M552.7 100.4l6.1 -6.1M260.2 152.4h8.5M264.5 148.1v8.5M261.4 149.3l6.1 6.1M261.4 155.4l6.1 -6.1M582.1 106.3h8.5M586.3 102.1v8.5M583.3 103.3l6.1 6.1M583.3 109.4l6.1 -6.1M612 136.1h8.5M616.3 131.8v8.5M613.2 133l6.1 6.1M613.2 139.2l6.1 -6.1M142.4 129.3h8.5M146.7 125.1v8.5M143.6 126.3l6.1 6.1M143.6 132.4l6.1 -6.1M267.1 120.4h8.5M271.4 116.1v8.5M268.3 117.3l6.1 6.1M268.3 123.4l6.1 -6.1M313.9 119.4h8.5M318.2 115.2v8.5M315.1 116.4l6.1 6.1M315.1 122.5l6.1 -6.1M255.7 133.3h8.5M260 129v8.5M256.9 130.2l6.1 6.1M256.9 136.3l6.1 -6.1M200.7 150.9h8.5M205 146.7v8.5M201.9 147.8l6.1 6.1M201.9 154l6.1 -6.1M240.9 145.9h8.5M245.1 141.7v8.5M242.1 142.9l6.1 6.1M242.1 149l6.1 -6.1"/><path fill="#000080" d="M338.8 112.3l3.2 -5.7h-6.3zM441.7 133l3.2 -5.7h-6.3zM204.6 159.7l3.2 -5.7h-6.3zM222.4 147.4l3.2 -5.7h-6.3zM563.1 97.7l3.2 -5.7h-6.3zM347 106l3.2 -5.7h-6.3zM486 127.4l3.2 -5.7h-6.3zM341.8 107.6l3.2 -5.7h-6.3zM436.6 138.2l3.2 -5.7h-6.3zM546.9 101.1l3.2 -5.7h-6.3zM284.5 123l3.2 -5.7h-6.3zM553.9 92.5l3.2 -5.7h-6.3zM333.7 109.9l3.2 -5.7h-6.3zM549.5 107.4l3.2 -5.7h-6.3zM144.6 143.3l3.2 -5.7h-6.3zM138.4 119.3l3.2 -5.7h-6.3zM548.8 89.3l3.2 -5.7h-6.3zM336.6 107.6l3.2 -5.7h-6.3zM355.6 140.9l3.2 -5.7h-6.3zM537.7 107l3.2 -5.7h-6.3zM374.7 139.1l3.2 -5.7h-6.3zM206.7 136.7l3.2 -5.7h-6.3zM529.1 104.2l3.2 -5.7h-6.3zM327.9 124.4l3.2 -5.7h-6.3zM285.6 134.4l3.2 -5.7h-6.3zM314.5 129.3l3.2 -5.7h-6.3zM545.7 102.8l3.2 -5.7h-6.3zM348.4 115.1l3.2 -5.7h-6.3zM286.2 135.6l3.2 -5.7h-6.3zM546.3 109.2l3.2 -5.7h-6.3zM558.7 80.5l3.2 -5.7h-6.3zM255.4 130.2l3.2 -5.7h-6.3zM154.4 125l3.2 -5.7h-6.3zM162.1 126.4l3.2 -5.7h-6.3zM325.7 117.3l3.2 -5.7h-6.3zM145.6 141.8l3.2 -5.7h-6.3zM578 95.6l3.2 -5.7h-6.3zM560.9 89.6l3.2 -5.7h-6.3zM589.7 89.2l3.2 -5.7h-6.3zM547.8 116.7l3.2 -5.7h-6.3zM594.8 117.4l3.2 -5.7h-6.3zM441.5 142.4l3.2 -5.7h-6.3zM555.8 82l3.2 -5.7h-6.3zM393.3 126.8l3.2 -5.7h-6.3zM604.1 127.1l3.2 -5.7h-6.3zM135.2 107.1l3.2 -5.7h-6.3zM329 131.9l3.2 -5.7h-6.3zM283.5 130l3.2 -5.7h-6.3zM417.6 145.9l3.2 -5.7h-6.3zM104 90.2l3.2 -5.7h-6.3zM283 120.6l3.2 -5.7h-6.3zM465.7 144.7l3.2 -5.7h-6.3zM378 128.8l3.2 -5.7h-6.3zM344.8 104.5l3.2 -5.7h-6.3zM498.6 119.6l3.2 -5.7h-6.3zM533.6 91l3.2 -5.7h-6.3zM591.5 87l3.2 -5.7h-6.3zM282 119.5l3.2 -5.7h-6.3zM619.3 149.3l3.2 -5.7h-6.3zM241 147.3l3.2 -5.7h-6.3zM154.7 135.8l3.2 -5.7h-6.3zM325.3 110.6l3.2 -5.7h-6.3zM162.8 126.4l3.2 -5.7h-6.3zM383.5 114.6l3.2 -5.7h-6.3zM420.7 138.9l3.2 -5.7h-6.3zM146.7 147.5l3.2 -5.7h-6.3zM247.1 132.6l3.2 -5.7h-6.3zM201.8 148.2l3.2 -5.7h-6.3zM286.3 119.4l3.2 -5.7h-6.3zM332.7 113.2l3.2 -5.7h-6.3zM428.5 139.4l3.2 -5.7h-6.3zM196.7 143.5l3.2 -5.7h-6.3zM466.1 125.1l3.2 -5.7h-6.3zM300.7 113.9l3.2 -5.7h-6.3zM417.8 118.7l3.2 -5.7h-6.3zM299.2 112.9l3.2 -5.7h-6.3zM263.3 123.1l3.2 -5.7h-6.3zM600.7 121.5l3.2 -5.7h-6.3zM339.7 115.1l3.2 -5.7h-6.3zM610.9 127.1l3.2 -5.7h-6.3zM599.5 107.8l3.2 -5.7h-6.3zM579.5 107.3l3.2 -5.7h-6.3zM485.2 128.2l3.2 -5.7h-6.3zM305.3 132.7l3.2 -5.7h-6.3zM599.3 103.4l3.2 -5.7h-6.3zM173.2 141.6l3.2 -5.7h-6.3zM463.4 123.7l3.2 -5.7h-6.3zM146.1 110.7l3.2 -5.7h-6.3zM314 123.8l3.2 -5.7h-6.3zM604.8 114l3.2 -5.7h-6.3zM119.5 90.4l3.2 -5.7h-6.3zM567.3 110.9l3.2 -5.7h-6.3zM219.2 133.5l3.2 -5.7h-6.3zM232.8 165.3l3.2 -5.7h-6.3zM357.2 138.4l3.2 -5.7h-6.3zM217.6 151.4l3.2 -5.7h-6.3zM194.3 134.7l3.2 -5.7h-6.3zM288.3 133.4l3.2 -5.7h-6.3zM564.8 116.2l3.2 -5.7h-6.3zM410 137.3l3.2 -5.7h-6.3zM300.9 100.4l3.2 -5.7h-6.3zM414.1 134.1l3.2 -5.7h-6.3zM423.3 127.8l3.2 -5.7h-6.3zM307.6 127.1l3.2 -5.7h-6.3zM228.9 161.1l3.2 -5.7h-6.3zM470.9 137.8l3.2 -5.7h-6.3zM409.2 115.4l3.2 -5.7h-6.3zM149.4 127l3.2 -5.7h-6.3zM378 117.6l3.2 -5.7h-6.3zM331.4 116.4l3.2 -5.7h-6.3zM236.4 144.5l3.2 -5.7h-6.3zM196.2 144.7l3.2 -5.7h-6.3zM337.3 114.5l3.2 -5.7h-6.3zM578.7 105.3l3.2 -5.7h-6.3zM595.5 91l3.2 -5.7h-6.3zM528.7 106.6l3.2 -5.7h-6.3zM319 115.8l3.2 -5.7h-6.3zM315.6 118.3l3.2 -5.7h-6.3zM385.2 118.6l3.2 -5.7h-6.3zM360.4 118.4l3.2 -5.7h-6.3zM487.7 120l3.2 -5.7h-6.3zM365 117.9l3.2 -5.7h-6.3z"/><path fill="#f00" stroke="#000" stroke-width=".6" d="M209.3 131.1h5.8v5.8h-5.8zM596.7 97.2h5.8v5.8h-5.8zM479.7 127.1h5.8v5.8h-5.8zM179.3 124.1h5.8v5.8h-5.8zM244.4 138.1h5.8v5.8h-5.8zM125.4 112.8h5.8v5.8h-5.8zM105.9 112.8h5.8v5.8h-5.8zM232.2 119.4h5.8v5.8h-5.8zM359.5 105.7h5.8v5.8h-5.8zM392.6 122.8h5.8v5.8h-5.8zM425.6 124.6h5.8v5.8h-5.8zM106.2 95.8h5.8v5.8h-5.8zM460.4 119.1h5.8v5.8h-5.8zM325.7 102.9h5.8v5.8h-5.8zM613.3 128.2h5.8v5.8h-5.8zM587.4 100h5.8v5.8h-5.8zM518.8 100h5.8v5.8h-5.8zM601.9 102.6h5.8v5.8h-5.8zM290.4 113.3h5.8v5.8h-5.8zM181.7 148.8h5.8v5.8h-5.8zM348 114.2h5.8v5.8h-5.8zM547.3 71.5h5.8v5.8h-5.8zM107.8 73.9h5.8v5.8h-5.8zM300.5 113.9h5.8v5.8h-5.8zM348.1 119.3h5.8v5.8h-5.8zM250.6 128.8h5.8v5.8h-5.8zM194.3 146.7h5.8v5.8h-5.8zM182 140.5h5.8v5.8h-5.8zM425 135.1h5.8v5.8h-5.8zM615.9 119.5h5.8v5.8h-5.8zM403.2 110.8h5.8v5.8h-5.8zM199.1 150.3h5.8v5.8h-5.8zM325.7 101h5.8v5.8h-5.8zM344 132.8h5.8v5.8h-5.8zM403.2 133.3h5.8v5.8h-5.8zM150.8 127.9h5.8v5.8h-5.8zM351.5 116h5.8v5.8h-5.8zM493.4 115.2h5.8v5.8h-5.8zM290 106.9h5.8v5.8h-5.8zM384.6 109.1h5.8v5.8h-5.8zM376.9 132.1h5.8v5.8h-5.8zM595.8 113.8h5.8v5.8h-5.8zM510.7 111.4h5.8v5.8h-5.8zM447 125.4h5.8v5.8h-5.8zM507.7 118.1h5.8v5.8h-5.8zM515.8 102h5.8v5.8h-5.8zM451.6 150.1h5.8v5.8h-5.8zM397.5 116.9h5.8v5.8h-5.8zM144.5 138.5h5.8v5.8h-5.8zM369.4 135.1h5.8v5.8h-5.8zM478.8 116.3h5.8v5.8h-5.8zM373 133.4h5.8v5.8h-5.8zM525.3 96.8h5.8v5.8h-5.8zM543.7 82.6h5.8v5.8h-5.8zM344.2 114.9h5.8v5.8h-5.8zM154.3 134.5h5.8v5.8h-5.8zM492.4 124.3h5.8v5.8h-5.8zM220.5 144.8h5.8v5.8h-5.8zM437 126.6h5.8v5.8h-5.8zM550.9 93.1h5.8v5.8h-5.8zM482.4 128.1h5.8v5.8h-5.8zM354.4 121.8h5.8v5.8h-5.8zM481.1 117.2h5.8v5.8h-5.8zM409.1 132.6h5.8v5.8h-5.8zM327 118.1h5.8v5.8h-5.8zM617.3 106.5h5.8v5.8h-5.8zM322.7 108.8h5.8v5.8h-5.8zM389 128.3h5.8v5.8h-5.8zM214.9 129.2h5.8v5.8h-5.8zM265.3 141.5h5.8v5.8h-5.8zM238.8 146.5h5.8v5.8h-5.8zM577 96.2h5.8v5.8h-5.8zM461.9 119.2h5.8v5.8h-5.8zM558.2 83.8h5.8v5.8h-5.8zM382.4 132.2h5.8v5.8h-5.8zM247.3 136.3h5.8v5.8h-5.8zM179.1 132h5.8v5.8h-5.8zM324.5 115.2h5.8v5.8h-5.8zM570.8 80.8h5.8v5.8h-5.8zM502.7 92.5h5.8v5.8h-5.8zM613.8 124.1h5.8v5.8h-5.8zM445.1 138.2h5.8v5.8h-5.8zM330.2 117h5.8v5.8h-5.8zM266.2 126.5h5.8v5.8h-5.8zM600.3 114.2h5.8v5.8h-5.8zM548.1 95.3h5.8v5.8h-5.8zM506.8 103.6h5.8v5.8h-5.8zM305.3 122.1h5.8v5.8h-5.8zM544.4 88.9h5.8v5.8h-5.8zM363.9 127.6h5.8v5.8h-5.8zM319.2 129.6h5.8v5.8h-5.8zM341.7 100.7h5.8v5.8h-5.8zM540.7 98.9h5.8v5.8h-5.8zM300.8 116.9h5.8v5.8h-5.8zM237.8 123.4h5.8v5.8h-5.8zM228 131.7h5.8v5.8h-5.8zM405.5 142h5.8v5.8h-5.8zM271.2 114.1h5.8v5.8h-5.8zM287.6 121.6h5.8v5.8h-5.8zM158.3 123.6h5.8v5.8h-5.8zM133.2 148.7h5.8v5.8h-5.8zM319.9 123.3h5.8v5.8h-5.8zM195.3 134.2h5.8v5.8h-5.8zM459 135.2h5.8v5.8h-5.8zM556.7 90.1h5.8v5.8h-5.8zM300.1 117.9h5.8v5.8h-5.8zM418.7 127.3h5.8v5.8h-5.8zM556 82.8h5.8v5.8h-5.8zM599.3 110.9h5.8v5.8h-5.8zM584.1 107.1h5.8v5.8h-5.8zM212.1 142.9h5.8v5.8h-5.8zM105.7 93.5h5.8v5.8h-5.8zM609.7 119.7h5.8v5.8h-5.8zM470.9 122.8h5.8v5.8h-5.8zM576.9 111.2h5.8v5.8h-5.8zM574.6 116.9h5.8v5.8h-5.8zM495 109h5.8v5.8h-5.8zM298.8 123.5h5.8v5.8h-5.8zM369.7 109.6h5.8v5.8h-5.8zM465.3 131.2h5.8v5.8h-5.8zM430.5 124.5h5.8v5.8h-5.8zM376.1 133.8h5.8v5.8h-5.8zM403.5 140h5.8v5.8h-5.8zM476 123.2h5.8v5.8h-5.8zM524.1 98.2h5.8v5.8h-5.8zM447.1 123.9h5.8v5.8h-5.8zM533.2 106.4h5.8v5.8h-5.8zM237.3 142.3h5.8v5.8h-5.8zM244 124.6h5.8v5.8h-5.8zM222.9 147.5h5.8v5.8h-5.8zM446.4 138.1h5.8v5.8h-5.8zM411.5 110.8h5.8v5.8h-5.8zM216.5 128.3h5.8v5.8h-5.8zM547.5 77.7h5.8v5.8h-5.8zM181.9 139.7h5.8v5.8h-5.8zM555.4 100.1h5.8v5.8h-5.8zM220.5 119.3h5.8v5.8h-5.8zM191.8 132.1h5.8v5.8h-5.8zM430.1 139.8h5.8v5.8h-5.8zM265.8 140.2h5.8v5.8h-5.8zM326.3 105.6h5.8v5.8h-5.8zM453.2 123.8h5.8v5.8h-5.8zM368.2 114.9h5.8v5.8h-5.8zM471.5 128h5.8v5.8h-5.8zM303.6 107.7h5.8v5.8h-5.8zM517.1 91.8h5.8v5.8h-5.8zM270.5 134.7h5.8v5.8h-5.8zM166 130h5.8v5.8h-5.8zM283.2 116.8h5.8v5.8h-5.8zM563.7 103.7h5.8v5.8h-5.8zM549.4 102.1h5.8v5.8h-5.8zM189.1 126.6h5.8v5.8h-5.8zM231.2 122.8h5.8v5.8h-5.8zM277.6 134h5.8v5.8h-5.8zM265.9 144.4h5.8v5.8h-5.8zM537.9 87.3h5.8v5.8h-5.8zM253.9 129.3h5.8v5.8h-5.8zM213.9 141.2h5.8v5.8h-5.8zM527.1 101.8h5.8v5.8h-5.8zM425.2 125.1h5.8v5.8h-5.8zM443.9 128.4h5.8v5.8h-5.8zM504.4 104.3h5.8v5.8h-5.8zM141.9 140.7h5.8v5.8h-5.8zM318.1 92.7h5.8v5.8h-5.8zM339.8 92.4h5.8v5.8h-5.8zM585.1 110.5h5.8v5.8h-5.8zM556.4 76.5h5.8v5.8h-5.8zM115.2 69.3h5.8v5.8h-5.8zM402.2 136.4h5.8v5.8h-5.8zM427.9 131.5h5.8v5.8h-5.8zM215.7 122h5.8v5.8h-5.8zM268.7 112.6h5.8v5.8h-5.8zM104.6 95h5.8v5.8h-5.8zM544.8 94.1h5.8v5.8h-5.8zM583 97.9h5.8v5.8h-5.8zM185.3 133.4h5.8v5.8h-5.8zM510.5 124.5h5.8v5.8h-5.8zM288.9 108.6h5.8v5.8h-5.8zM201.9 131h5.8v5.8h-5.8zM131.4 120.3h5.8v5.8h-5.8zM327.2 132.2h5.8v5.8h-5.8zM322.4 102.2h5.8v5.8h-5.8zM372.4 142.7h5.8v5.8h-5.8zM607.5 118.2h5.8v5.8h-5.8zM491.4 125.4h5.8v5.8h-5.8zM336 134.5h5.8v5.8h-5.8zM453.9 139.7h5.8v5.8h-5.8zM183.7 123.7h5.8v5.8h-5.8zM355 98.2h5.8v5.8h-5.8zM471.6 136.9h5.8v5.8h-5.8zM251.1 133.5h5.8v5.8h-5.8zM373.7 108.6h5.8v5.8h-5.8zM385.3 105.1h5.8v5.8h-5.8zM109.1 100.3h5.8v5.8h-5.8zM163.3 141.5h5.8v5.8h-5.8zM131.6 101h5.8v5.8h-5.8zM213.9 142.4h5.8v5.8h-5.8zM194.9 139.4h5.8v5.8h-5.8zM488.1 121.9h5.8v5.8h-5.8zM352.6 144.5h5.8v5.8h-5.8zM110.2 100.2h5.8v5.8h-5.8zM160 130.4h5.8v5.8h-5.8zM580.1 100.7h5.8v5.8h-5.8zM258.3 107.5h5.8v5.8h-5.8zM190.3 139.9h5.8v5.8h-5.8zM494.2 123.6h5.8v5.8h-5.8zM481.7 131.4h5.8v5.8h-5.8zM481.7 119.4h5.8v5.8h-5.8zM607 123.8h5.8v5.8h-5.8zM425.9 133.3h5.8v5.8h-5.8zM273.1 103.2h5.8v5.8h-5.8zM401.7 110.2h5.8v5.8h-5.8zM556.7 66.4h5.8v5.8h-5.8z"/><path fill="#008080" stroke="#000" stroke-width="1.6" d="M431 131.3h6.6v6.6h-6.6zM592.2 126.6h6.6v6.6h-6.6zM551.7 99.8h6.6v6.6h-6.6zM486.8 135.7h6.6v6.6h-6.6zM399.7 138.1h6.6v6.6h-6.6zM450.5 133.3h6.6v6.6h-6.6zM139.7 137.2h6.6v6.6h-6.6zM262.1 137.9h6.6v6.6h-6.6zM128.6 119.1h6.6v6.6h-6.6zM392.9 110.4h6.6v6.6h-6.6zM577.6 108.5h6.6v6.6h-6.6zM331 110.4h6.6v6.6h-6.6zM194.8 154.4h6.6v6.6h-6.6zM485.7 116.3h6.6v6.6h-6.6zM459.2 147.8h6.6v6.6h-6.6zM336.6 140.7h6.6v6.6h-6.6zM306.6 134.5h6.6v6.6h-6.6zM510.6 104.5h6.6v6.6h-6.6zM615.5 111.4h6.6v6.6h-6.6zM263.3 115.9h6.6v6.6h-6.6zM572.7 92.5h6.6v6.6h-6.6zM459.5 123.8h6.6v6.6h-6.6zM115.5 127.7h6.6v6.6h-6.6zM357.3 141.2h6.6v6.6h-6.6zM564.2 112.5h6.6v6.6h-6.6zM530.4 108.9h6.6v6.6h-6.6zM600.8 105.4h6.6v6.6h-6.6zM214 160.6h6.6v6.6h-6.6zM165.6 156.8h6.6v6.6h-6.6zM268.3 133h6.6v6.6h-6.6zM301.4 138h6.6v6.6h-6.6zM329.9 140.8h6.6v6.6h-6.6zM158.4 137.3h6.6v6.6h-6.6zM153.8 144.9h6.6v6.6h-6.6z"/><path fill="#00f" d="M337.3 82.7a2.6 2.6 0 1 0 5.2 0a2.6 2.6 0 1 0 -5.2 0M109.2 102.5a2.6 2.6 0 1 0 5.2 0a2.6 2.6 0 1 0 -5.2 0M457.6 128.6a2.6 2.6 0 1 0 5.2 0a2.6 2.6 0 1 0 -5.2 0M231.8 109.4a2.6 2.6 0 1 0 5.2 0a2.6 2.6 0 1 0 -5.2 0M589.9 108.2a2.6 2.6 0 1 0 5.2 0a2.6 2.6 0 1 0 -5.2 0M501.2 115.5a2.6 2.6 0 1 0 5.2 0a2.6 2.6 0 1 0 -5.2 0M478.6 139.8a2.6 2.6 0 1 0 5.2 0a2.6 2.6 0 1 0 -5.2 0M233.1 129.6a2.6 2.6 0 1 0 5.2 0a2.6 2.6 0 1 0 -5.2 0M116.9 95.3a2.6 2.6 0 1 0 5.2 0a2.6 2.6 0 1 0 -5.2 0M458.9 127.2a2.6 2.6 0 1 0 5.2 0a2.6 2.6 0 1 0 -5.2 0M548.4 90.7a2.6 2.6 0 1 0 5.2 0a2.6 2.6 0 1 0 -5.2 0M311 85a2.6 2.6 0 1 0 5.2 0a2.6 2.6 0 1 0 -5.2 0M520 74.7a2.6 2.6 0 1 0 5.2 0a2.6 2.6 0 1 0 -5.2 0M501.6 114.9a2.6 2.6 0 1 0 5.2 0a2.6 2.6 0 1 0 -5.2 0M503.7 81a2.6 2.6 0 1 0 5.2 0a2.6 2.6 0 1 0 -5.2 0M256.5 98.5a2.6 2.6 0 1 0 5.2 0a2.6 2.6 0 1 0 -5.2 0M348.4 108.4a2.6 2.6 0 1 0 5.2 0a2.6 2.6 0 1 0 -5.2 0M154.5 98.2a2.6 2.6 0 1 0 5.2 0a2.6 2.6 0 1 0 -5.2 0M235.9 112.2a2.6 2.6 0 1 0 5.2 0a2.6 2.6 0 1 0 -5.2 0M271.3 89a2.6 2.6 0 1 0 5.2 0a2.6 2.6 0 1 0 -5.2 0M334.9 98.7a2.6 2.6 0 1 0 5.2 0a2.6 2.6 0 1 0 -5.2 0M457.4 129.8a2.6 2.6 0 1 0 5.2 0a2.6 2.6 0 1 0 -5.2 0M411.3 109.7a2.6 2.6 0 1 0 5.2 0a2.6 2.6 0 1 0 -5.2 0M284.6 98.8a2.6 2.6 0 1 0 5.2 0a2.6 2.6 0 1 0 -5.2 0M532.2 63.1a2.6 2.6 0 1 0 5.2 0a2.6 2.6 0 1 0 -5.2 0M390.6 121.8a2.6 2.6 0 1 0 5.2 0a2.6 2.6 0 1 0 -5.2 0M365.5 101.6a2.6 2.6 0 1 0 5.2 0a2.6 2.6 0 1 0 -5.2 0M116.2 78.2a2.6 2.6 0 1 0 5.2 0a2.6 2.6 0 1 0 -5.2 0M383.8 92.9a2.6 2.6 0 1 0 5.2 0a2.6 2.6 0 1 0 -5.2 0M130.3 94.9a2.6 2.6 0 1 0 5.2 0a2.6 2.6 0 1 0 -5.2 0M612.1 111.2a2.6 2.6 0 1 0 5.2 0a2.6 2.6 0 1 0 -5.2 0M551.6 73.4a2.6 2.6 0 1 0 5.2 0a2.6 2.6 0 1 0 -5.2 0M577.2 84.3a2.6 2.6 0 1 0 5.2 0a2.6 2.6 0 1 0 -5.2 0M197.5 143.2a2.6 2.6 0 1 0 5.2 0a2.6 2.6 0 1 0 -5.2 0M125.1 97.7a2.6 2.6 0 1 0 5.2 0a2.6 2.6 0 1 0 -5.2 0M495.1 90.3a2.6 2.6 0 1 0 5.2 0a2.6 2.6 0 1 0 -5.2 0M609.9 85.6a2.6 2.6 0 1 0 5.2 0a2.6 2.6 0 1 0 -5.2 0M170.8 118.4a2.6 2.6 0 1 0 5.2 0a2.6 2.6 0 1 0 -5.2 0M105 110.3a2.6 2.6 0 1 0 5.2 0a2.6 2.6 0 1 0 -5.2 0M317 100.7a2.6 2.6 0 1 0 5.2 0a2.6 2.6 0 1 0 -5.2 0M316.7 117.4a2.6 2.6 0 1 0 5.2 0a2.6 2.6 0 1 0 -5.2 0M355.1 97.5a2.6 2.6 0 1 0 5.2 0a2.6 2.6 0 1 0 -5.2 0M610.6 110.1a2.6 2.6 0 1 0 5.2 0a2.6 2.6 0 1 0 -5.2 0M573 67.1a2.6 2.6 0 1 0 5.2 0a2.6 2.6 0 1 0 -5.2 0M263.4 107.9a2.6 2.6 0 1 0 5.2 0a2.6 2.6 0 1 0 -5.2 0M523.3 90.6a2.6 2.6 0 1 0 5.2 0a2.6 2.6 0 1 0 -5.2 0M368.9 110.7a2.6 2.6 0 1 0 5.2 0a2.6 2.6 0 1 0 -5.2 0M227 145.4a2.6 2.6 0 1 0 5.2 0a2.6 2.6 0 1 0 -5.2 0M581.3 71.4a2.6 2.6 0 1 0 5.2 0a2.6 2.6 0 1 0 -5.2 0M106.8 83.8a2.6 2.6 0 1 0 5.2 0a2.6 2.6 0 1 0 -5.2 0M188.7 134.6a2.6 2.6 0 1 0 5.2 0a2.6 2.6 0 1 0 -5.2 0M339 91.7a2.6 2.6 0 1 0 5.2 0a2.6 2.6 0 1 0 -5.2 0M614.8 110.3a2.6 2.6 0 1 0 5.2 0a2.6 2.6 0 1 0 -5.2 0M270.3 86.1a2.6 2.6 0 1 0 5.2 0a2.6 2.6 0 1 0 -5.2 0M426.6 116.7a2.6 2.6 0 1 0 5.2 0a2.6 2.6 0 1 0 -5.2 0M429.2 126a2.6 2.6 0 1 0 5.2 0a2.6 2.6 0 1 0 -5.2 0M540.7 86.8a2.6 2.6 0 1 0 5.2 0a2.6 2.6 0 1 0 -5.2 0M535.2 86.3a2.6 2.6 0 1 0 5.2 0a2.6 2.6 0 1 0 -5.2 0M538.4 69.9a2.6 2.6 0 1 0 5.2 0a2.6 2.6 0 1 0 -5.2 0M123.4 104.8a2.6 2.6 0 1 0 5.2 0a2.6 2.6 0 1 0 -5.2 0M294.6 83.9a2.6 2.6 0 1 0 5.2 0a2.6 2.6 0 1 0 -5.2 0M127.3 78.1a2.6 2.6 0 1 0 5.2 0a2.6 2.6 0 1 0 -5.2 0M467.3 137a2.6 2.6 0 1 0 5.2 0a2.6 2.6 0 1 0 -5.2 0M333.6 80.3a2.6 2.6 0 1 0 5.2 0a2.6 2.6 0 1 0 -5.2 0M375.8 110.8a2.6 2.6 0 1 0 5.2 0a2.6 2.6 0 1 0 -5.2 0M133.7 86.5a2.6 2.6 0 1 0 5.2 0a2.6 2.6 0 1 0 -5.2 0M222.1 113.6a2.6 2.6 0 1 0 5.2 0a2.6 2.6 0 1 0 -5.2 0M524.7 71.8a2.6 2.6 0 1 0 5.2 0a2.6 2.6 0 1 0 -5.2 0M429.3 125.2a2.6 2.6 0 1 0 5.2 0a2.6 2.6 0 1 0 -5.2 0M516.1 88.1a2.6 2.6 0 1 0 5.2 0a2.6 2.6 0 1 0 -5.2 0M302.9 81.2a2.6 2.6 0 1 0 5.2 0a2.6 2.6 0 1 0 -5.2 0M604.7 107.1a2.6 2.6 0 1 0 5.2 0a2.6 2.6 0 1 0 -5.2 0M155.3 96.8a2.6 2.6 0 1 0 5.2 0a2.6 2.6 0 1 0 -5.2 0M513.5 73.8a2.6 2.6 0 1 0 5.2 0a2.6 2.6 0 1 0 -5.2 0M220.5 154.3a2.6 2.6 0 1 0 5.2 0a2.6 2.6 0 1 0 -5.2 0M266.3 106.1a2.6 2.6 0 1 0 5.2 0a2.6 2.6 0 1 0 -5.2 0M326 119.7a2.6 2.6 0 1 0 5.2 0a2.6 2.6 0 1 0 -5.2 0M272.5 85.3a2.6 2.6 0 1 0 5.2 0a2.6 2.6 0 1 0 -5.2 0M136.4 98.5a2.6 2.6 0 1 0 5.2 0a2.6 2.6 0 1 0 -5.2 0M587.6 65.6a2.6 2.6 0 1 0 5.2 0a2.6 2.6 0 1 0 -5.2 0M220.8 114.9a2.6 2.6 0 1 0 5.2 0a2.6 2.6 0 1 0 -5.2 0M590 72.8a2.6 2.6 0 1 0 5.2 0a2.6 2.6 0 1 0 -5.2 0M599.4 92.6a2.6 2.6 0 1 0 5.2 0a2.6 2.6 0 1 0 -5.2 0M284.3 113a2.6 2.6 0 1 0 5.2 0a2.6 2.6 0 1 0 -5.2 0M215.3 111a2.6 2.6 0 1 0 5.2 0a2.6 2.6 0 1 0 -5.2 0M344.3 127.7a2.6 2.6 0 1 0 5.2 0a2.6 2.6 0 1 0 -5.2 0M230.3 114.4a2.6 2.6 0 1 0 5.2 0a2.6 2.6 0 1 0 -5.2 0M171.6 133.7a2.6 2.6 0 1 0 5.2 0a2.6 2.6 0 1 0 -5.2 0M525 86.9a2.6 2.6 0 1 0 5.2 0a2.6 2.6 0 1 0 -5.2 0M275.2 84.1a2.6 2.6 0 1 0 5.2 0a2.6 2.6 0 1 0 -5.2 0M315.1 80.5a2.6 2.6 0 1 0 5.2 0a2.6 2.6 0 1 0 -5.2 0M286.1 108.9a2.6 2.6 0 1 0 5.2 0a2.6 2.6 0 1 0 -5.2 0M607.4 86.6a2.6 2.6 0 1 0 5.2 0a2.6 2.6 0 1 0 -5.2 0M127.8 120a2.6 2.6 0 1 0 5.2 0a2.6 2.6 0 1 0 -5.2 0M403.8 109.6a2.6 2.6 0 1 0 5.2 0a2.6 2.6 0 1 0 -5.2 0M435.4 98.6a2.6 2.6 0 1 0 5.2 0a2.6 2.6 0 1 0 -5.2 0M392 101.2a2.6 2.6 0 1 0 5.2 0a2.6 2.6 0 1 0 -5.2 0M501.1 84.6a2.6 2.6 0 1 0 5.2 0a2.6 2.6 0 1 0 -5.2 0M428.9 121.5a2.6 2.6 0 1 0 5.2 0a2.6 2.6 0 1 0 -5.2 0M498.4 118.1a2.6 2.6 0 1 0 5.2 0a2.6 2.6 0 1 0 -5.2 0M390.5 130a2.6 2.6 0 1 0 5.2 0a2.6 2.6 0 1 0 -5.2 0M307.3 99.1a2.6 2.6 0 1 0 5.2 0a2.6 2.6 0 1 0 -5.2 0M342.7 109.8a2.6 2.6 0 1 0 5.2 0a2.6 2.6 0 1 0 -5.2 0M389.3 98.3a2.6 2.6 0 1 0 5.2 0a2.6 2.6 0 1 0 -5.2 0M612.2 89a2.6 2.6 0 1 0 5.2 0a2.6 2.6 0 1 0 -5.2 0M346.6 83.3a2.6 2.6 0 1 0 5.2 0a2.6 2.6 0 1 0 -5.2 0M190.4 121.5a2.6 2.6 0 1 0 5.2 0a2.6 2.6 0 1 0 -5.2 0M473.8 96.7a2.6 2.6 0 1 0 5.2 0a2.6 2.6 0 1 0 -5.2 0M364.9 121.3a2.6 2.6 0 1 0 5.2 0a2.6 2.6 0 1 0 -5.2 0M434.7 108.5a2.6 2.6 0 1 0 5.2 0a2.6 2.6 0 1 0 -5.2 0M510.5 108.6a2.6 2.6 0 1 0 5.2 0a2.6 2.6 0 1 0 -5.2 0M466.9 132a2.6 2.6 0 1 0 5.2 0a2.6 2.6 0 1 0 -5.2 0M501.3 110.3a2.6 2.6 0 1 0 5.2 0a2.6 2.6 0 1 0 -5.2 0M138.8 84.7a2.6 2.6 0 1 0 5.2 0a2.6 2.6 0 1 0 -5.2 0M222.4 129.5a2.6 2.6 0 1 0 5.2 0a2.6 2.6 0 1 0 -5.2 0M143.2 87.3a2.6 2.6 0 1 0 5.2 0a2.6 2.6 0 1 0 -5.2 0M508.4 96.3a2.6 2.6 0 1 0 5.2 0a2.6 2.6 0 1 0 -5.2 0M430.8 129.8a2.6 2.6 0 1 0 5.2 0a2.6 2.6 0 1 0 -5.2 0M172.6 141a2.6 2.6 0 1 0 5.2 0a2.6 2.6 0 1 0 -5.2 0M295.2 86.2a2.6 2.6 0 1 0 5.2 0a2.6 2.6 0 1 0 -5.2 0M372.6 92.6a2.6 2.6 0 1 0 5.2 0a2.6 2.6 0 1 0 -5.2 0M257.1 95.6a2.6 2.6 0 1 0 5.2 0a2.6 2.6 0 1 0 -5.2 0M520.1 107.2a2.6 2.6 0 1 0 5.2 0a2.6 2.6 0 1 0 -5.2 0M373.8 125.3a2.6 2.6 0 1 0 5.2 0a2.6 2.6 0 1 0 -5.2 0M331.1 88.4a2.6 2.6 0 1 0 5.2 0a2.6 2.6 0 1 0 -5.2 0M405 96.4a2.6 2.6 0 1 0 5.2 0a2.6 2.6 0 1 0 -5.2 0M132.7 109.1a2.6 2.6 0 1 0 5.2 0a2.6 2.6 0 1 0 -5.2 0M166.2 124.8a2.6 2.6 0 1 0 5.2 0a2.6 2.6 0 1 0 -5.2 0M588.1 94.9a2.6 2.6 0 1 0 5.2 0a2.6 2.6 0 1 0 -5.2 0M589.8 68a2.6 2.6 0 1 0 5.2 0a2.6 2.6 0 1 0 -5.2 0M117.2 95.1a2.6 2.6 0 1 0 5.2 0a2.6 2.6 0 1 0 -5.2 0M367 87.9a2.6 2.6 0 1 0 5.2 0a2.6 2.6 0 1 0 -5.2 0M209.4 112.4a2.6 2.6 0 1 0 5.2 0a2.6 2.6 0 1 0 -5.2 0M282.8 104.5a2.6 2.6 0 1 0 5.2 0a2.6 2.6 0 1 0 -5.2 0M242.1 127.9a2.6 2.6 0 1 0 5.2 0a2.6 2.6 0 1 0 -5.2 0M341.9 84a2.6 2.6 0 1 0 5.2 0a2.6 2.6 0 1 0 -5.2 0M118 120.2a2.6 2.6 0 1 0 5.2 0a2.6 2.6 0 1 0 -5.2 0M411.1 130.8a2.6 2.6 0 1 0 5.2 0a2.6 2.6 0 1 0 -5.2 0M103.6 56.7a2.6 2.6 0 1 0 5.2 0a2.6 2.6 0 1 0 -5.2 0M401.8 126.1a2.6 2.6 0 1 0 5.2 0a2.6 2.6 0 1 0 -5.2 0M364.5 102.9a2.6 2.6 0 1 0 5.2 0a2.6 2.6 0 1 0 -5.2 0M583.5 101.2a2.6 2.6 0 1 0 5.2 0a2.6 2.6 0 1 0 -5.2 0M405 93.2a2.6 2.6 0 1 0 5.2 0a2.6 2.6 0 1 0 -5.2 0M457.4 103.6a2.6 2.6 0 1 0 5.2 0a2.6 2.6 0 1 0 -5.2 0M241.6 121.2a2.6 2.6 0 1 0 5.2 0a2.6 2.6 0 1 0 -5.2 0M330.3 97.9a2.6 2.6 0 1 0 5.2 0a2.6 2.6 0 1 0 -5.2 0M530.6 65.2a2.6 2.6 0 1 0 5.2 0a2.6 2.6 0 1 0 -5.2 0M447.3 125.1a2.6 2.6 0 1 0 5.2 0a2.6 2.6 0 1 0 -5.2 0M182.8 122.2a2.6 2.6 0 1 0 5.2 0a2.6 2.6 0 1 0 -5.2 0M582.4 75.7a2.6 2.6 0 1 0 5.2 0a2.6 2.6 0 1 0 -5.2 0M569.6 99.7a2.6 2.6 0 1 0 5.2 0a2.6 2.6 0 1 0 -5.2 0M535.4 102.4a2.6 2.6 0 1 0 5.2 0a2.6 2.6 0 1 0 -5.2 0M424.7 114.9a2.6 2.6 0 1 0 5.2 0a2.6 2.6 0 1 0 -5.2 0M234.4 140.7a2.6 2.6 0 1 0 5.2 0a2.6 2.6 0 1 0 -5.2 0M270.2 110.2a2.6 2.6 0 1 0 5.2 0a2.6 2.6 0 1 0 -5.2 0M112.4 93.5a2.6 2.6 0 1 0 5.2 0a2.6 2.6 0 1 0 -5.2 0M207.9 121.6a2.6 2.6 0 1 0 5.2 0a2.6 2.6 0 1 0 -5.2 0M416.4 102.6a2.6 2.6 0 1 0 5.2 0a2.6 2.6 0 1 0 -5.2 0M419.5 128a2.6 2.6 0 1 0 5.2 0a2.6 2.6 0 1 0 -5.2 0M255.3 112.6a2.6 2.6 0 1 0 5.2 0a2.6 2.6 0 1 0 -5.2 0M522.2 82.2a2.6 2.6 0 1 0 5.2 0a2.6 2.6 0 1 0 -5.2 0M370.7 94.9a2.6 2.6 0 1 0 5.2 0a2.6 2.6 0 1 0 -5.2 0M179.5 109a2.6 2.6 0 1 0 5.2 0a2.6 2.6 0 1 0 -5.2 0M147 107.1a2.6 2.6 0 1 0 5.2 0a2.6 2.6 0 1 0 -5.2 0M240.3 122.4a2.6 2.6 0 1 0 5.2 0a2.6 2.6 0 1 0 -5.2 0M602.2 99a2.6 2.6 0 1 0 5.2 0a2.6 2.6 0 1 0 -5.2 0M144.5 117.5a2.6 2.6 0 1 0 5.2 0a2.6 2.6 0 1 0 -5.2 0M449.8 100.1a2.6 2.6 0 1 0 5.2 0a2.6 2.6 0 1 0 -5.2 0M264.9 96.4a2.6 2.6 0 1 0 5.2 0a2.6 2.6 0 1 0 -5.2 0M522.1 88.9a2.6 2.6 0 1 0 5.2 0a2.6 2.6 0 1 0 -5.2 0M399.2 138.2a2.6 2.6 0 1 0 5.2 0a2.6 2.6 0 1 0 -5.2 0M127.5 127.4a2.6 2.6 0 1 0 5.2 0a2.6 2.6 0 1 0 -5.2 0M292.4 109.5a2.6 2.6 0 1 0 5.2 0a2.6 2.6 0 1 0 -5.2 0"/><path fill="#800000" d="M426.4 133.3a2.6 2.6 0 1 0 5.2 0a2.6 2.6 0 1 0 -5.2 0M408.1 119.7a2.6 2.6 0 1 0 5.2 0a2.6 2.6 0 1 0 -5.2 0M521.4 112.9a2.6 2.6 0 1 0 5.2 0a2.6 2.6 0 1 0 -5.2 0M542.6 93.6a2.6 2.6 0 1 0 5.2 0a2.6 2.6 0 1 0 -5.2 0M206.3 137.1a2.6 2.6 0 1 0 5.2 0a2.6 2.6 0 1 0 -5.2 0M241.2 121a2.6 2.6 0 1 0 5.2 0a2.6 2.6 0 1 0 -5.2 0M223.3 135.5a2.6 2.6 0 1 0 5.2 0a2.6 2.6 0 1 0 -5.2 0M531.8 88a2.6 2.6 0 1 0 5.2 0a2.6 2.6 0 1 0 -5.2 0M569.8 80.8a2.6 2.6 0 1 0 5.2 0a2.6 2.6 0 1 0 -5.2 0M157.8 134.4a2.6 2.6 0 1 0 5.2 0a2.6 2.6 0 1 0 -5.2 0M491.6 130.4a2.6 2.6 0 1 0 5.2 0a2.6 2.6 0 1 0 -5.2 0M363.9 133.4a2.6 2.6 0 1 0 5.2 0a2.6 2.6 0 1 0 -5.2 0M177.4 145.8a2.6 2.6 0 1 0 5.2 0a2.6 2.6 0 1 0 -5.2 0M215.3 144.2a2.6 2.6 0 1 0 5.2 0a2.6 2.6 0 1 0 -5.2 0M464.4 130.9a2.6 2.6 0 1 0 5.2 0a2.6 2.6 0 1 0 -5.2 0M494.3 112.1a2.6 2.6 0 1 0 5.2 0a2.6 2.6 0 1 0 -5.2 0M108.2 82.5a2.6 2.6 0 1 0 5.2 0a2.6 2.6 0 1 0 -5.2 0M474.4 147.5a2.6 2.6 0 1 0 5.2 0a2.6 2.6 0 1 0 -5.2 0M282 119.3a2.6 2.6 0 1 0 5.2 0a2.6 2.6 0 1 0 -5.2 0M436.3 125a2.6 2.6 0 1 0 5.2 0a2.6 2.6 0 1 0 -5.2 0M481 146a2.6 2.6 0 1 0 5.2 0a2.6 2.6 0 1 0 -5.2 0M449.7 138.3a2.6 2.6 0 1 0 5.2 0a2.6 2.6 0 1 0 -5.2 0M154.6 129.9a2.6 2.6 0 1 0 5.2 0a2.6 2.6 0 1 0 -5.2 0M522.4 110.1a2.6 2.6 0 1 0 5.2 0a2.6 2.6 0 1 0 -5.2 0M116.9 116.8a2.6 2.6 0 1 0 5.2 0a2.6 2.6 0 1 0 -5.2 0M187.5 140.7a2.6 2.6 0 1 0 5.2 0a2.6 2.6 0 1 0 -5.2 0M410.2 125.2a2.6 2.6 0 1 0 5.2 0a2.6 2.6 0 1 0 -5.2 0M381 149.1a2.6 2.6 0 1 0 5.2 0a2.6 2.6 0 1 0 -5.2 0M349.3 120.2a2.6 2.6 0 1 0 5.2 0a2.6 2.6 0 1 0 -5.2 0M396.2 117.7a2.6 2.6 0 1 0 5.2 0a2.6 2.6 0 1 0 -5.2 0M560.2 105.9a2.6 2.6 0 1 0 5.2 0a2.6 2.6 0 1 0 -5.2 0M266.7 119.2a2.6 2.6 0 1 0 5.2 0a2.6 2.6 0 1 0 -5.2 0M132.2 111.5a2.6 2.6 0 1 0 5.2 0a2.6 2.6 0 1 0 -5.2 0M551.6 81.1a2.6 2.6 0 1 0 5.2 0a2.6 2.6 0 1 0 -5.2 0M465.4 135.8a2.6 2.6 0 1 0 5.2 0a2.6 2.6 0 1 0 -5.2 0M472.3 122.7a2.6 2.6 0 1 0 5.2 0a2.6 2.6 0 1 0 -5.2 0M347.4 150.5a2.6 2.6 0 1 0 5.2 0a2.6 2.6 0 1 0 -5.2 0M148.7 134a2.6 2.6 0 1 0 5.2 0a2.6 2.6 0 1 0 -5.2 0M440.2 148.6a2.6 2.6 0 1 0 5.2 0a2.6 2.6 0 1 0 -5.2 0M497.3 105.3a2.6 2.6 0 1 0 5.2 0a2.6 2.6 0 1 0 -5.2 0M474.3 126.7a2.6 2.6 0 1 0 5.2 0a2.6 2.6 0 1 0 -5.2 0M177.1 135.2a2.6 2.6 0 1 0 5.2 0a2.6 2.6 0 1 0 -5.2 0M533 111.1a2.6 2.6 0 1 0 5.2 0a2.6 2.6 0 1 0 -5.2 0M223.7 155.3a2.6 2.6 0 1 0 5.2 0a2.6 2.6 0 1 0 -5.2 0M540.3 94.6a2.6 2.6 0 1 0 5.2 0a2.6 2.6 0 1 0 -5.2 0M373.5 124.8a2.6 2.6 0 1 0 5.2 0a2.6 2.6 0 1 0 -5.2 0M576.2 90.7a2.6 2.6 0 1 0 5.2 0a2.6 2.6 0 1 0 -5.2 0M561 106.3a2.6 2.6 0 1 0 5.2 0a2.6 2.6 0 1 0 -5.2 0M446.5 125.1a2.6 2.6 0 1 0 5.2 0a2.6 2.6 0 1 0 -5.2 0M133 131.6a2.6 2.6 0 1 0 5.2 0a2.6 2.6 0 1 0 -5.2 0M329.7 124.6a2.6 2.6 0 1 0 5.2 0a2.6 2.6 0 1 0 -5.2 0M142.9 102.3a2.6 2.6 0 1 0 5.2 0a2.6 2.6 0 1 0 -5.2 0M565.5 99.4a2.6 2.6 0 1 0 5.2 0a2.6 2.6 0 1 0 -5.2 0M104.3 128.8a2.6 2.6 0 1 0 5.2 0a2.6 2.6 0 1 0 -5.2 0M286.5 130a2.6 2.6 0 1 0 5.2 0a2.6 2.6 0 1 0 -5.2 0M236.7 133.2a2.6 2.6 0 1 0 5.2 0a2.6 2.6 0 1 0 -5.2 0M392.6 125.2a2.6 2.6 0 1 0 5.2 0a2.6 2.6 0 1 0 -5.2 0M598.9 105.4a2.6 2.6 0 1 0 5.2 0a2.6 2.6 0 1 0 -5.2 0M267.1 123.1a2.6 2.6 0 1 0 5.2 0a2.6 2.6 0 1 0 -5.2 0M300.7 104.8a2.6 2.6 0 1 0 5.2 0a2.6 2.6 0 1 0 -5.2 0M552.7 102.3a2.6 2.6 0 1 0 5.2 0a2.6 2.6 0 1 0 -5.2 0M344.8 98.4a2.6 2.6 0 1 0 5.2 0a2.6 2.6 0 1 0 -5.2 0M538.5 81.2a2.6 2.6 0 1 0 5.2 0a2.6 2.6 0 1 0 -5.2 0M281 104.2a2.6 2.6 0 1 0 5.2 0a2.6 2.6 0 1 0 -5.2 0M194 143.9a2.6 2.6 0 1 0 5.2 0a2.6 2.6 0 1 0 -5.2 0M170.3 146.1a2.6 2.6 0 1 0 5.2 0a2.6 2.6 0 1 0 -5.2 0M378 109.5a2.6 2.6 0 1 0 5.2 0a2.6 2.6 0 1 0 -5.2 0M474.5 134.3a2.6 2.6 0 1 0 5.2 0a2.6 2.6 0 1 0 -5.2 0M461.2 125.6a2.6 2.6 0 1 0 5.2 0a2.6 2.6 0 1 0 -5.2 0M274.4 125.7a2.6 2.6 0 1 0 5.2 0a2.6 2.6 0 1 0 -5.2 0M426.8 135a2.6 2.6 0 1 0 5.2 0a2.6 2.6 0 1 0 -5.2 0M564.1 102.8a2.6 2.6 0 1 0 5.2 0a2.6 2.6 0 1 0 -5.2 0M566.6 107.6a2.6 2.6 0 1 0 5.2 0a2.6 2.6 0 1 0 -5.2 0M166.8 154.4a2.6 2.6 0 1 0 5.2 0a2.6 2.6 0 1 0 -5.2 0M332.2 107.6a2.6 2.6 0 1 0 5.2 0a2.6 2.6 0 1 0 -5.2 0M167.1 123.2a2.6 2.6 0 1 0 5.2 0a2.6 2.6 0 1 0 -5.2 0M123.7 96.7a2.6 2.6 0 1 0 5.2 0a2.6 2.6 0 1 0 -5.2 0M467.1 125.8a2.6 2.6 0 1 0 5.2 0a2.6 2.6 0 1 0 -5.2 0M567.3 95.8a2.6 2.6 0 1 0 5.2 0a2.6 2.6 0 1 0 -5.2 0M586.3 115.1a2.6 2.6 0 1 0 5.2 0a2.6 2.6 0 1 0 -5.2 0M530.8 90.9a2.6 2.6 0 1 0 5.2 0a2.6 2.6 0 1 0 -5.2 0M430 149.7a2.6 2.6 0 1 0 5.2 0a2.6 2.6 0 1 0 -5.2 0M441.7 120.9a2.6 2.6 0 1 0 5.2 0a2.6 2.6 0 1 0 -5.2 0M596.8 120.1a2.6 2.6 0 1 0 5.2 0a2.6 2.6 0 1 0 -5.2 0M551.4 100.4a2.6 2.6 0 1 0 5.2 0a2.6 2.6 0 1 0 -5.2 0M260.4 124.5a2.6 2.6 0 1 0 5.2 0a2.6 2.6 0 1 0 -5.2 0M360.9 129.5a2.6 2.6 0 1 0 5.2 0a2.6 2.6 0 1 0 -5.2 0M148.6 118.8a2.6 2.6 0 1 0 5.2 0a2.6 2.6 0 1 0 -5.2 0M146.8 124a2.6 2.6 0 1 0 5.2 0a2.6 2.6 0 1 0 -5.2 0M352.2 139.1a2.6 2.6 0 1 0 5.2 0a2.6 2.6 0 1 0 -5.2 0M561.6 84.7a2.6 2.6 0 1 0 5.2 0a2.6 2.6 0 1 0 -5.2 0M194.6 161.2a2.6 2.6 0 1 0 5.2 0a2.6 2.6 0 1 0 -5.2 0M130.9 119.5a2.6 2.6 0 1 0 5.2 0a2.6 2.6 0 1 0 -5.2 0M360.1 135.3a2.6 2.6 0 1 0 5.2 0a2.6 2.6 0 1 0 -5.2 0M536.8 97.5a2.6 2.6 0 1 0 5.2 0a2.6 2.6 0 1 0 -5.2 0M360.1 133.9a2.6 2.6 0 1 0 5.2 0a2.6 2.6 0 1 0 -5.2 0M431.6 115.5a2.6 2.6 0 1 0 5.2 0a2.6 2.6 0 1 0 -5.2 0M351.2 128.8a2.6 2.6 0 1 0 5.2 0a2.6 2.6 0 1 0 -5.2 0M414.7 122.5a2.6 2.6 0 1 0 5.2 0a2.6 2.6 0 1 0 -5.2 0M531.9 88.5a2.6 2.6 0 1 0 5.2 0a2.6 2.6 0 1 0 -5.2 0M205.6 136.7a2.6 2.6 0 1 0 5.2 0a2.6 2.6 0 1 0 -5.2 0M285.1 122.5a2.6 2.6 0 1 0 5.2 0a2.6 2.6 0 1 0 -5.2 0M375.3 116.3a2.6 2.6 0 1 0 5.2 0a2.6 2.6 0 1 0 -5.2 0M136.7 102.7a2.6 2.6 0 1 0 5.2 0a2.6 2.6 0 1 0 -5.2 0M374.6 106.9a2.6 2.6 0 1 0 5.2 0a2.6 2.6 0 1 0 -5.2 0M509.4 108.7a2.6 2.6 0 1 0 5.2 0a2.6 2.6 0 1 0 -5.2 0M491.8 136.5a2.6 2.6 0 1 0 5.2 0a2.6 2.6 0 1 0 -5.2 0M496.6 107.7a2.6 2.6 0 1 0 5.2 0a2.6 2.6 0 1 0 -5.2 0M166.3 133.9a2.6 2.6 0 1 0 5.2 0a2.6 2.6 0 1 0 -5.2 0M315.7 98.9a2.6 2.6 0 1 0 5.2 0a2.6 2.6 0 1 0 -5.2 0M328.5 113.7a2.6 2.6 0 1 0 5.2 0a2.6 2.6 0 1 0 -5.2 0M593 101.4a2.6 2.6 0 1 0 5.2 0a2.6 2.6 0 1 0 -5.2 0M184.5 147.3a2.6 2.6 0 1 0 5.2 0a2.6 2.6 0 1 0 -5.2 0M335.2 112.5a2.6 2.6 0 1 0 5.2 0a2.6 2.6 0 1 0 -5.2 0M493.3 121.8a2.6 2.6 0 1 0 5.2 0a2.6 2.6 0 1 0 -5.2 0M364.7 128.5a2.6 2.6 0 1 0 5.2 0a2.6 2.6 0 1 0 -5.2 0M212.2 131a2.6 2.6 0 1 0 5.2 0a2.6 2.6 0 1 0 -5.2 0M440.2 120.4a2.6 2.6 0 1 0 5.2 0a2.6 2.6 0 1 0 -5.2 0M479.2 137.6a2.6 2.6 0 1 0 5.2 0a2.6 2.6 0 1 0 -5.2 0M276.9 103.5a2.6 2.6 0 1 0 5.2 0a2.6 2.6 0 1 0 -5.2 0M287.6 121.7a2.6 2.6 0 1 0 5.2 0a2.6 2.6 0 1 0 -5.2 0M424.4 138.8a2.6 2.6 0 1 0 5.2 0a2.6 2.6 0 1 0 -5.2 0M566.1 115.8a2.6 2.6 0 1 0 5.2 0a2.6 2.6 0 1 0 -5.2 0M587.9 114.5a2.6 2.6 0 1 0 5.2 0a2.6 2.6 0 1 0 -5.2 0M417.2 132.1a2.6 2.6 0 1 0 5.2 0a2.6 2.6 0 1 0 -5.2 0M372.1 131.2a2.6 2.6 0 1 0 5.2 0a2.6 2.6 0 1 0 -5.2 0M132.4 128.8a2.6 2.6 0 1 0 5.2 0a2.6 2.6 0 1 0 -5.2 0M591.4 126.7a2.6 2.6 0 1 0 5.2 0a2.6 2.6 0 1 0 -5.2 0M443.2 141.2a2.6 2.6 0 1 0 5.2 0a2.6 2.6 0 1 0 -5.2 0M343.4 114.6a2.6 2.6 0 1 0 5.2 0a2.6 2.6 0 1 0 -5.2 0M185.8 132.2a2.6 2.6 0 1 0 5.2 0a2.6 2.6 0 1 0 -5.2 0M592.9 120.8a2.6 2.6 0 1 0 5.2 0a2.6 2.6 0 1 0 -5.2 0M474 121.8a2.6 2.6 0 1 0 5.2 0a2.6 2.6 0 1 0 -5.2 0M494.9 120.6a2.6 2.6 0 1 0 5.2 0a2.6 2.6 0 1 0 -5.2 0M171.7 138.7a2.6 2.6 0 1 0 5.2 0a2.6 2.6 0 1 0 -5.2 0M427.3 125.5a2.6 2.6 0 1 0 5.2 0a2.6 2.6 0 1 0 -5.2 0M219.8 146.6a2.6 2.6 0 1 0 5.2 0a2.6 2.6 0 1 0 -5.2 0M323.6 126.6a2.6 2.6 0 1 0 5.2 0a2.6 2.6 0 1 0 -5.2 0M608.8 106.8a2.6 2.6 0 1 0 5.2 0a2.6 2.6 0 1 0 -5.2 0M532.4 112.3a2.6 2.6 0 1 0 5.2 0a2.6 2.6 0 1 0 -5.2 0M546.5 72.2a2.6 2.6 0 1 0 5.2 0a2.6 2.6 0 1 0 -5.2 0M404.9 111.2a2.6 2.6 0 1 0 5.2 0a2.6 2.6 0 1 0 -5.2 0M365.9 119.9a2.6 2.6 0 1 0 5.2 0a2.6 2.6 0 1 0 -5.2 0M363.4 147.5a2.6 2.6 0 1 0 5.2 0a2.6 2.6 0 1 0 -5.2 0M149 115.9a2.6 2.6 0 1 0 5.2 0a2.6 2.6 0 1 0 -5.2 0M244 138.3a2.6 2.6 0 1 0 5.2 0a2.6 2.6 0 1 0 -5.2 0M239 130.4a2.6 2.6 0 1 0 5.2 0a2.6 2.6 0 1 0 -5.2 0M236.1 147.1a2.6 2.6 0 1 0 5.2 0a2.6 2.6 0 1 0 -5.2 0M343.4 107.2a2.6 2.6 0 1 0 5.2 0a2.6 2.6 0 1 0 -5.2 0M148.1 112.9a2.6 2.6 0 1 0 5.2 0a2.6 2.6 0 1 0 -5.2 0M357.1 125.7a2.6 2.6 0 1 0 5.2 0a2.6 2.6 0 1 0 -5.2 0M550.4 87.6a2.6 2.6 0 1 0 5.2 0a2.6 2.6 0 1 0 -5.2 0M324.4 108.5a2.6 2.6 0 1 0 5.2 0a2.6 2.6 0 1 0 -5.2 0M431.5 144.9a2.6 2.6 0 1 0 5.2 0a2.6 2.6 0 1 0 -5.2 0M169 121.3a2.6 2.6 0 1 0 5.2 0a2.6 2.6 0 1 0 -5.2 0M572.7 89.7a2.6 2.6 0 1 0 5.2 0a2.6 2.6 0 1 0 -5.2 0M293.5 112.7a2.6 2.6 0 1 0 5.2 0a2.6 2.6 0 1 0 -5.2 0M517.7 108.5a2.6 2.6 0 1 0 5.2 0a2.6 2.6 0 1 0 -5.2 0M555.2 84.7a2.6 2.6 0 1 0 5.2 0a2.6 2.6 0 1 0 -5.2 0"/><path fill="#000080" d="M149.2 104.2l2.7 3 -2.7 3 -2.7 -3zM596.2 65.9l2.7 3 -2.7 3 -2.7 -3zM422.5 95.2l2.7 3 -2.7 3 -2.7 -3zM541.6 59.8l2.7 3 -2.7 3 -2.7 -3zM367 115.9l2.7 3 -2.7 3 -2.7 -3zM267.4 117l2.7 3 -2.7 3 -2.7 -3zM306.3 92.3l2.7 3 -2.7 3 -2.7 -3zM429.1 93.8l2.7 3 -2.7 3 -2.7 -3zM186.9 105.8l2.7 3 -2.7 3 -2.7 -3zM155.4 91.2l2.7 3 -2.7 3 -2.7 -3zM237.6 105.8l2.7 3 -2.7 3 -2.7 -3zM171.6 114.1l2.7 3 -2.7 3 -2.7 -3zM559.7 61l2.7 3 -2.7 3 -2.7 -3zM324.7 77.6l2.7 3 -2.7 3 -2.7 -3zM226.5 147.5l2.7 3 -2.7 3 -2.7 -3zM324.8 83.4l2.7 3 -2.7 3 -2.7 -3zM428.8 116.9l2.7 3 -2.7 3 -2.7 -3zM129.9 95.8l2.7 3 -2.7 3 -2.7 -3zM246 103.3l2.7 3 -2.7 3 -2.7 -3zM240 128.2l2.7 3 -2.7 3 -2.7 -3zM366.4 100.3l2.7 3 -2.7 3 -2.7 -3zM159.8 127.1l2.7 3 -2.7 3 -2.7 -3zM162.8 117.4l2.7 3 -2.7 3 -2.7 -3zM516.9 85.7l2.7 3 -2.7 3 -2.7 -3zM418.3 111.9l2.7 3 -2.7 3 -2.7 -3zM204.1 106.8l2.7 3 -2.7 3 -2.7 -3zM221 139.1l2.7 3 -2.7 3 -2.7 -3zM366.4 88l2.7 3 -2.7 3 -2.7 -3zM284.8 106.3l2.7 3 -2.7 3 -2.7 -3zM371.9 109.6l2.7 3 -2.7 3 -2.7 -3zM123.4 82.3l2.7 3 -2.7 3 -2.7 -3zM364.1 87.1l2.7 3 -2.7 3 -2.7 -3zM387.3 94.2l2.7 3 -2.7 3 -2.7 -3zM488.5 122.1l2.7 3 -2.7 3 -2.7 -3zM123 66.1l2.7 3 -2.7 3 -2.7 -3zM372.5 135.6l2.7 3 -2.7 3 -2.7 -3zM103 104.1l2.7 3 -2.7 3 -2.7 -3zM280.3 88l2.7 3 -2.7 3 -2.7 -3zM261.5 120.5l2.7 3 -2.7 3 -2.7 -3zM585 65.3l2.7 3 -2.7 3 -2.7 -3zM588.2 64.3l2.7 3 -2.7 3 -2.7 -3zM293 84.1l2.7 3 -2.7 3 -2.7 -3zM438 103.9l2.7 3 -2.7 3 -2.7 -3zM587.7 103l2.7 3 -2.7 3 -2.7 -3zM461.8 114.6l2.7 3 -2.7 3 -2.7 -3zM584.7 80.4l2.7 3 -2.7 3 -2.7 -3zM321 83.3l2.7 3 -2.7 3 -2.7 -3zM585.9 94.7l2.7 3 -2.7 3 -2.7 -3zM583.9 106.1l2.7 3 -2.7 3 -2.7 -3zM544 86.1l2.7 3 -2.7 3 -2.7 -3zM478.2 119.7l2.7 3 -2.7 3 -2.7 -3zM364 89.8l2.7 3 -2.7 3 -2.7 -3zM394.1 106.4l2.7 3 -2.7 3 -2.7 -3zM180.9 100.1l2.7 3 -2.7 3 -2.7 -3zM212.3 109.7l2.7 3 -2.7 3 -2.7 -3zM449.1 116.3l2.7 3 -2.7 3 -2.7 -3zM616.4 113.6l2.7 3 -2.7 3 -2.7 -3zM376.4 93.1l2.7 3 -2.7 3 -2.7 -3zM358.9 138.9l2.7 3 -2.7 3 -2.7 -3zM480.4 116l2.7 3 -2.7 3 -2.7 -3zM109.4 95.5l2.7 3 -2.7 3 -2.7 -3zM373.2 107.2l2.7 3 -2.7 3 -2.7 -3zM193.5 138.8l2.7 3 -2.7 3 -2.7 -3zM509.1 76.9l2.7 3 -2.7 3 -2.7 -3zM183.3 128.4l2.7 3 -2.7 3 -2.7 -3zM221.3 109.8l2.7 3 -2.7 3 -2.7 -3zM526.8 89.7l2.7 3 -2.7 3 -2.7 -3zM404.1 96.7l2.7 3 -2.7 3 -2.7 -3zM424.3 95.4l2.7 3 -2.7 3 -2.7 -3zM138.3 106.1l2.7 3 -2.7 3 -2.7 -3zM576.7 101.5l2.7 3 -2.7 3 -2.7 -3zM343.6 116.6l2.7 3 -2.7 3 -2.7 -3zM418.5 113.3l2.7 3 -2.7 3 -2.7 -3zM594 83.3l2.7 3 -2.7 3 -2.7 -3zM173.8 99.9l2.7 3 -2.7 3 -2.7 -3zM328 118.1l2.7 3 -2.7 3 -2.7 -3zM120.9 117.2l2.7 3 -2.7 3 -2.7 -3zM276.9 121.5l2.7 3 -2.7 3 -2.7 -3zM122.5 67.8l2.7 3 -2.7 3 -2.7 -3zM270.7 125.4l2.7 3 -2.7 3 -2.7 -3zM219.3 104.3l2.7 3 -2.7 3 -2.7 -3zM424.2 95.2l2.7 3 -2.7 3 -2.7 -3zM104 99.5l2.7 3 -2.7 3 -2.7 -3zM323.1 112.5l2.7 3 -2.7 3 -2.7 -3zM467.3 97.9l2.7 3 -2.7 3 -2.7 -3zM352.4 79.2l2.7 3 -2.7 3 -2.7 -3zM533.1 89.4l2.7 3 -2.7 3 -2.7 -3zM534.2 64.2l2.7 3 -2.7 3 -2.7 -3zM282.8 89.3l2.7 3 -2.7 3 -2.7 -3zM301.7 78.8l2.7 3 -2.7 3 -2.7 -3zM520.7 85.6l2.7 3 -2.7 3 -2.7 -3zM324.2 80.6l2.7 3 -2.7 3 -2.7 -3zM513.8 74.6l2.7 3 -2.7 3 -2.7 -3zM317.8 117.9l2.7 3 -2.7 3 -2.7 -3zM371.6 102.9l2.7 3 -2.7 3 -2.7 -3zM245.9 104.8l2.7 3 -2.7 3 -2.7 -3zM287.1 84.7l2.7 3 -2.7 3 -2.7 -3zM447.5 133.8l2.7 3 -2.7 3 -2.7 -3zM580.6 64.5l2.7 3 -2.7 3 -2.7 -3zM437.6 118.4l2.7 3 -2.7 3 -2.7 -3zM520.9 89l2.7 3 -2.7 3 -2.7 -3zM608.6 81.1l2.7 3 -2.7 3 -2.7 -3zM491.8 105.9l2.7 3 -2.7 3 -2.7 -3zM414.3 112.5l2.7 3 -2.7 3 -2.7 -3zM365.1 112.9l2.7 3 -2.7 3 -2.7 -3zM389.9 119.6l2.7 3 -2.7 3 -2.7 -3zM259.8 126.7l2.7 3 -2.7 3 -2.7 -3zM396.5 108.1l2.7 3 -2.7 3 -2.7 -3z"/><path fill="#800000" d="M472.6 131.9l3.2 5.7h-6.3zM428.8 134.6l3.2 5.7h-6.3zM296.1 113.2l3.2 5.7h-6.3zM482.8 127.1l3.2 5.7h-6.3zM217.8 140.8l3.2 5.7h-6.3zM282.1 109.5l3.2 5.7h-6.3zM548.9 92.3l3.2 5.7h-6.3zM109.5 129.7l3.2 5.7h-6.3zM411.5 116.8l3.2 5.7h-6.3zM288.4 120.5l3.2 5.7h-6.3zM485.5 141.1l3.2 5.7h-6.3zM314.9 133.3l3.2 5.7h-6.3zM212 124.1l3.2 5.7h-6.3zM609 135.4l3.2 5.7h-6.3zM250 148.5l3.2 5.7h-6.3zM485.9 120.8l3.2 5.7h-6.3zM286.6 120.4l3.2 5.7h-6.3zM126.1 128l3.2 5.7h-6.3zM126.7 118.3l3.2 5.7h-6.3zM244.1 148.5l3.2 5.7h-6.3zM620 136.2l3.2 5.7h-6.3zM505.7 117.5l3.2 5.7h-6.3zM216.5 144.5l3.2 5.7h-6.3zM519.5 104.4l3.2 5.7h-6.3zM502.2 102.7l3.2 5.7h-6.3zM189.9 142.3l3.2 5.7h-6.3zM133.6 126.6l3.2 5.7h-6.3zM270.9 131.4l3.2 5.7h-6.3zM601.2 97.5l3.2 5.7h-6.3zM156.5 150.4l3.2 5.7h-6.3zM541.8 98l3.2 5.7h-6.3zM108.1 117l3.2 5.7h-6.3zM277.1 115.6l3.2 5.7h-6.3zM216.6 142.7l3.2 5.7h-6.3zM148.6 122.5l3.2 5.7h-6.3zM312 123.1l3.2 5.7h-6.3zM155.7 128.9l3.2 5.7h-6.3zM145.4 129.2l3.2 5.7h-6.3zM548.9 113.2l3.2 5.7h-6.3zM215 120.8l3.2 5.7h-6.3zM319.8 109.4l3.2 5.7h-6.3zM578.3 109.3l3.2 5.7h-6.3zM412 131.7l3.2 5.7h-6.3zM407.7 147.8l3.2 5.7h-6.3zM432.3 132.9l3.2 5.7h-6.3zM190.3 116.6l3.2 5.7h-6.3zM609.3 121.4l3.2 5.7h-6.3zM517.8 95l3.2 5.7h-6.3zM540.9 91.4l3.2 5.7h-6.3zM563.8 105.6l3.2 5.7h-6.3zM315.2 102.2l3.2 5.7h-6.3zM495.3 131.7l3.2 5.7h-6.3zM305 122.7l3.2 5.7h-6.3zM482.9 119.7l3.2 5.7h-6.3zM447.6 132l3.2 5.7h-6.3zM160.4 140.2l3.2 5.7h-6.3zM463.1 143.8l3.2 5.7h-6.3zM545.9 99.7l3.2 5.7h-6.3zM289.6 108.9l3.2 5.7h-6.3zM216.2 129.4l3.2 5.7h-6.3zM616.4 130.3l3.2 5.7h-6.3zM414.9 131.4l3.2 5.7h-6.3zM199 143l3.2 5.7h-6.3zM263.8 119.2l3.2 5.7h-6.3zM521 99.9l3.2 5.7h-6.3zM609.9 105.5l3.2 5.7h-6.3zM148.3 132.6l3.2 5.7h-6.3zM392.7 122.9l3.2 5.7h-6.3zM343.1 110.6l3.2 5.7h-6.3zM558.6 93.8l3.2 5.7h-6.3zM161.6 147.4l3.2 5.7h-6.3zM606.6 110.3l3.2 5.7h-6.3zM386.5 137.7l3.2 5.7h-6.3zM550.5 106.1l3.2 5.7h-6.3zM322.4 142.3l3.2 5.7h-6.3zM282 123.6l3.2 5.7h-6.3zM307.1 132.1l3.2 5.7h-6.3zM191.1 149.5l3.2 5.7h-6.3zM436.9 143.2l3.2 5.7h-6.3zM271.8 133.1l3.2 5.7h-6.3zM220 152.4l3.2 5.7h-6.3zM583.7 100.9l3.2 5.7h-6.3zM558.5 98.2l3.2 5.7h-6.3zM160.3 133.9l3.2 5.7h-6.3zM349.6 120.2l3.2 5.7h-6.3zM212.9 146.1l3.2 5.7h-6.3zM548.8 107.7l3.2 5.7h-6.3zM131.2 123.7l3.2 5.7h-6.3zM161.5 134.1l3.2 5.7h-6.3zM132.8 125.5l3.2 5.7h-6.3zM294.9 110.8l3.2 5.7h-6.3zM432.9 149.4l3.2 5.7h-6.3zM435.6 114.8l3.2 5.7h-6.3zM298.2 86l3.2 5.7h-6.3zM530.8 103.6l3.2 5.7h-6.3zM514.5 117.7l3.2 5.7h-6.3zM153.7 142.4l3.2 5.7h-6.3zM153.9 115.3l3.2 5.7h-6.3zM121.2 98.3l3.2 5.7h-6.3zM426.9 126.3l3.2 5.7h-6.3zM436.3 137.4l3.2 5.7h-6.3zM280.8 125.5l3.2 5.7h-6.3zM587.4 100.2l3.2 5.7h-6.3zM304.5 127.8l3.2 5.7h-6.3zM106.2 87.9l3.2 5.7h-6.3zM110.2 132.3l3.2 5.7h-6.3zM312 120.3l3.2 5.7h-6.3zM340.7 129.6l3.2 5.7h-6.3zM382.2 127.8l3.2 5.7h-6.3zM337 129.5l3.2 5.7h-6.3zM238.7 149.5l3.2 5.7h-6.3zM313.2 100l3.2 5.7h-6.3zM281 129.8l3.2 5.7h-6.3zM184.2 146.5l3.2 5.7h-6.3zM113.3 130.6l3.2 5.7h-6.3zM448.1 124l3.2 5.7h-6.3zM264.3 111.4l3.2 5.7h-6.3zM382.6 101.2l3.2 5.7h-6.3zM193.9 147l3.2 5.7h-6.3zM165.6 142.7l3.2 5.7h-6.3zM560.3 113.3l3.2 5.7h-6.3zM275.7 111.9l3.2 5.7h-6.3zM307.9 110.9l3.2 5.7h-6.3zM168.9 132.6l3.2 5.7h-6.3zM614.4 133.9l3.2 5.7h-6.3zM560.9 107.4l3.2 5.7h-6.3zM303.1 118.1l3.2 5.7h-6.3zM171.9 155.9l3.2 5.7h-6.3zM195.5 141.2l3.2 5.7h-6.3zM584.6 112.7l3.2 5.7h-6.3zM128.1 125.4l3.2 5.7h-6.3zM296.7 131.4l3.2 5.7h-6.3zM177.7 136.4l3.2 5.7h-6.3zM316.8 110.7l3.2 5.7h-6.3zM559.9 82.7l3.2 5.7h-6.3zM186.1 134.3l3.2 5.7h-6.3zM165.2 124l3.2 5.7h-6.3zM482.1 139.8l3.2 5.7h-6.3zM240.6 146l3.2 5.7h-6.3zM107.9 104.8l3.2 5.7h-6.3zM409.9 116.5l3.2 5.7h-6.3zM179.1 151.1l3.2 5.7h-6.3zM422.6 146.4l3.2 5.7h-6.3zM402.7 121.5l3.2 5.7h-6.3zM148.9 141.2l3.2 5.7h-6.3zM300.7 118.4l3.2 5.7h-6.3zM514 102.4l3.2 5.7h-6.3zM102.7 94.9l3.2 5.7h-6.3zM616.5 122l3.2 5.7h-6.3zM159.8 150.4l3.2 5.7h-6.3zM251.4 132.5l3.2 5.7h-6.3zM237.9 147.6l3.2 5.7h-6.3zM407 139.2l3.2 5.7h-6.3zM290.6 133.4l3.2 5.7h-6.3zM574.8 80.3l3.2 5.7h-6.3zM476.2 143.3l3.2 5.7h-6.3zM536 79.9l3.2 5.7h-6.3zM283.8 113l3.2 5.7h-6.3zM292.5 120.3l3.2 5.7h-6.3zM184.3 115.9l3.2 5.7h-6.3zM554.8 105.9l3.2 5.7h-6.3zM371 122.4l3.2 5.7h-6.3zM418 123.2l3.2 5.7h-6.3zM289.1 132.6l3.2 5.7h-6.3zM260.3 116.7l3.2 5.7h-6.3zM538.5 96.8l3.2 5.7h-6.3zM130.3 100.1l3.2 5.7h-6.3zM498.7 121.8l3.2 5.7h-6.3zM539.3 86.9l3.2 5.7h-6.3zM356.3 128.3l3.2 5.7h-6.3z"/><path fill="#800080" d="M312.9 102.9l2.7 3 -2.7 3 -2.7 -3zM232.2 121.5l2.7 3 -2.7 3 -2.7 -3zM397.3 146.7l2.7 3 -2.7 3 -2.7 -3zM526.1 79.4l2.7 3 -2.7 3 -2.7 -3zM257.8 129.6l2.7 3 -2.7 3 -2.7 -3zM509.1 106.7l2.7 3 -2.7 3 -2.7 -3zM432.3 142l2.7 3 -2.7 3 -2.7 -3zM236.2 154.5l2.7 3 -2.7 3 -2.7 -3zM116.4 91.8l2.7 3 -2.7 3 -2.7 -3zM521.6 91.3l2.7 3 -2.7 3 -2.7 -3zM321.1 127l2.7 3 -2.7 3 -2.7 -3zM479 120.6l2.7 3 -2.7 3 -2.7 -3zM507.4 112.6l2.7 3 -2.7 3 -2.7 -3zM227.4 141.2l2.7 3 -2.7 3 -2.7 -3zM457.4 140.6l2.7 3 -2.7 3 -2.7 -3zM315 102l2.7 3 -2.7 3 -2.7 -3zM335 101.8l2.7 3 -2.7 3 -2.7 -3zM467.5 127.3l2.7 3 -2.7 3 -2.7 -3zM122 84.1l2.7 3 -2.7 3 -2.7 -3zM355 134.1l2.7 3 -2.7 3 -2.7 -3zM361 114.8l2.7 3 -2.7 3 -2.7 -3zM157.7 114.1l2.7 3 -2.7 3 -2.7 -3zM517.4 105l2.7 3 -2.7 3 -2.7 -3zM227.1 135.5l2.7 3 -2.7 3 -2.7 -3zM121.8 113.8l2.7 3 -2.7 3 -2.7 -3zM574.5 104.4l2.7 3 -2.7 3 -2.7 -3zM604.1 121.6l2.7 3 -2.7 3 -2.7 -3zM492.3 135l2.7 3 -2.7 3 -2.7 -3zM616.6 130.9l2.7 3 -2.7 3 -2.7 -3zM162.6 129.1l2.7 3 -2.7 3 -2.7 -3zM334.3 133.5l2.7 3 -2.7 3 -2.7 -3zM437.1 129.4l2.7 3 -2.7 3 -2.7 -3zM181.6 137.1l2.7 3 -2.7 3 -2.7 -3zM412.6 131.6l2.7 3 -2.7 3 -2.7 -3zM150.4 137.7l2.7 3 -2.7 3 -2.7 -3zM533.1 109.2l2.7 3 -2.7 3 -2.7 -3zM148.6 100.4l2.7 3 -2.7 3 -2.7 -3zM315.7 125.3l2.7 3 -2.7 3 -2.7 -3zM192.2 136.3l2.7 3 -2.7 3 -2.7 -3zM560.3 88.5l2.7 3 -2.7 3 -2.7 -3zM245 152.1l2.7 3 -2.7 3 -2.7 -3zM584.9 87l2.7 3 -2.7 3 -2.7 -3zM125.7 113.9l2.7 3 -2.7 3 -2.7 -3zM433.9 126.6l2.7 3 -2.7 3 -2.7 -3zM392.3 136.9l2.7 3 -2.7 3 -2.7 -3zM560.8 93.9l2.7 3 -2.7 3 -2.7 -3zM586.5 105.2l2.7 3 -2.7 3 -2.7 -3zM319.5 112.3l2.7 3 -2.7 3 -2.7 -3zM516.8 97.6l2.7 3 -2.7 3 -2.7 -3zM232.8 150.1l2.7 3 -2.7 3 -2.7 -3zM255.5 122.7l2.7 3 -2.7 3 -2.7 -3zM289.4 112.2l2.7 3 -2.7 3 -2.7 -3zM566.4 112.5l2.7 3 -2.7 3 -2.7 -3zM574 91.5l2.7 3 -2.7 3 -2.7 -3zM246.3 137.1l2.7 3 -2.7 3 -2.7 -3zM541.4 108.7l2.7 3 -2.7 3 -2.7 -3zM329.3 120.5l2.7 3 -2.7 3 -2.7 -3zM286.4 129.9l2.7 3 -2.7 3 -2.7 -3zM548.6 98.3l2.7 3 -2.7 3 -2.7 -3zM313.8 99.7l2.7 3 -2.7 3 -2.7 -3zM449.9 134.3l2.7 3 -2.7 3 -2.7 -3zM110 124.4l2.7 3 -2.7 3 -2.7 -3zM206.6 150.1l2.7 3 -2.7 3 -2.7 -3zM456.8 124.7l2.7 3 -2.7 3 -2.7 -3zM234.3 145.8l2.7 3 -2.7 3 -2.7 -3zM551.1 84.8l2.7 3 -2.7 3 -2.7 -3zM515.3 98.1l2.7 3 -2.7 3 -2.7 -3zM587.1 101.7l2.7 3 -2.7 3 -2.7 -3zM397.4 136.9l2.7 3 -2.7 3 -2.7 -3zM264.5 143.4l2.7 3 -2.7 3 -2.7 -3zM549.5 121.5l2.7 3 -2.7 3 -2.7 -3zM156.6 101.4l2.7 3 -2.7 3 -2.7 -3zM188.9 123.7l2.7 3 -2.7 3 -2.7 -3zM143 110l2.7 3 -2.7 3 -2.7 -3zM150.1 116.1l2.7 3 -2.7 3 -2.7 -3zM160.5 142.3l2.7 3 -2.7 3 -2.7 -3zM403.9 128l2.7 3 -2.7 3 -2.7 -3zM137.3 103l2.7 3 -2.7 3 -2.7 -3zM414 130.3l2.7 3 -2.7 3 -2.7 -3zM200.4 140.7l2.7 3 -2.7 3 -2.7 -3zM428.7 132.6l2.7 3 -2.7 3 -2.7 -3zM123.2 118.3l2.7 3 -2.7 3 -2.7 -3zM400.4 132.3l2.7 3 -2.7 3 -2.7 -3zM529.4 110.9l2.7 3 -2.7 3 -2.7 -3zM346.9 97.7l2.7 3 -2.7 3 -2.7 -3zM539.2 109.4l2.7 3 -2.7 3 -2.7 -3zM612.9 120.9l2.7 3 -2.7 3 -2.7 -3zM483.6 135.8l2.7 3 -2.7 3 -2.7 -3zM393.9 119.7l2.7 3 -2.7 3 -2.7 -3zM614.2 101.9l2.7 3 -2.7 3 -2.7 -3zM432.6 117.3l2.7 3 -2.7 3 -2.7 -3zM146.6 116.2l2.7 3 -2.7 3 -2.7 -3zM335.6 137.7l2.7 3 -2.7 3 -2.7 -3zM597.2 128.3l2.7 3 -2.7 3 -2.7 -3zM176.3 115.8l2.7 3 -2.7 3 -2.7 -3zM465 131.2l2.7 3 -2.7 3 -2.7 -3zM523.8 91.9l2.7 3 -2.7 3 -2.7 -3zM310 126.7l2.7 3 -2.7 3 -2.7 -3zM505.7 102.1l2.7 3 -2.7 3 -2.7 -3zM135.6 133.5l2.7 3 -2.7 3 -2.7 -3zM370.2 135.9l2.7 3 -2.7 3 -2.7 -3zM454 127l2.7 3 -2.7 3 -2.7 -3zM395 132.1l2.7 3 -2.7 3 -2.7 -3zM155.5 124.8l2.7 3 -2.7 3 -2.7 -3zM217 156.4l2.7 3 -2.7 3 -2.7 -3zM465 128.7l2.7 3 -2.7 3 -2.7 -3zM609.8 121.7l2.7 3 -2.7 3 -2.7 -3zM144.3 125.9l2.7 3 -2.7 3 -2.7 -3zM119.7 120.3l2.7 3 -2.7 3 -2.7 -3zM247 138.8l2.7 3 -2.7 3 -2.7 -3zM599.9 100l2.7 3 -2.7 3 -2.7 -3zM513.9 122.5l2.7 3 -2.7 3 -2.7 -3zM134 99.4l2.7 3 -2.7 3 -2.7 -3zM512.9 101.7l2.7 3 -2.7 3 -2.7 -3zM461.3 122l2.7 3 -2.7 3 -2.7 -3zM407.3 130.8l2.7 3 -2.7 3 -2.7 -3zM224.8 154.8l2.7 3 -2.7 3 -2.7 -3zM544.2 95.4l2.7 3 -2.7 3 -2.7 -3zM212.5 134.7l2.7 3 -2.7 3 -2.7 -3zM543.7 116l2.7 3 -2.7 3 -2.7 -3zM415.3 113.1l2.7 3 -2.7 3 -2.7 -3zM231.8 126.3l2.7 3 -2.7 3 -2.7 -3zM503 124.8l2.7 3 -2.7 3 -2.7 -3zM605.2 104.4l2.7 3 -2.7 3 -2.7 -3zM368.2 129.4l2.7 3 -2.7 3 -2.7 -3zM520.5 83.7l2.7 3 -2.7 3 -2.7 -3zM558.7 98.9l2.7 3 -2.7 3 -2.7 -3zM120.6 84.8l2.7 3 -2.7 3 -2.7 -3zM280.4 129.9l2.7 3 -2.7 3 -2.7 -3zM131.4 120l2.7 3 -2.7 3 -2.7 -3zM407.2 118.9l2.7 3 -2.7 3 -2.7 -3zM446.1 123.4l2.7 3 -2.7 3 -2.7 -3zM363.4 118.5l2.7 3 -2.7 3 -2.7 -3zM358.6 106.2l2.7 3 -2.7 3 -2.7 -3zM557.2 92.9l2.7 3 -2.7 3 -2.7 -3zM334.8 117l2.7 3 -2.7 3 -2.7 -3zM114 109.1l2.7 3 -2.7 3 -2.7 -3zM183.7 136.4l2.7 3 -2.7 3 -2.7 -3zM601.5 99.6l2.7 3 -2.7 3 -2.7 -3zM303.2 118.5l2.7 3 -2.7 3 -2.7 -3zM271.8 107.2l2.7 3 -2.7 3 -2.7 -3zM248 146.9l2.7 3 -2.7 3 -2.7 -3zM419.1 133.9l2.7 3 -2.7 3 -2.7 -3zM441 106.3l2.7 3 -2.7 3 -2.7 -3zM601.2 111.2l2.7 3 -2.7 3 -2.7 -3zM264.8 127.8l2.7 3 -2.7 3 -2.7 -3zM372 130.2l2.7 3 -2.7 3 -2.7 -3z"/><path fill="none" stroke="#008080" stroke-width="2.2" d="M552.8 95.5h6.9M556.3 92v6.9M289 107h6.9M292.4 103.6v6.9M595.6 95.9h6.9M599 92.5v6.9M539.3 106.2h6.9M542.7 102.7v6.9M170.7 122.7h6.9M174.2 119.3v6.9M349.8 123.3h6.9M353.3 119.9v6.9M416 125.3h6.9M419.5 121.9v6.9M216.1 130.2h6.9M219.5 126.7v6.9M142.9 137.5h6.9M146.3 134v6.9M136.2 128.1h6.9M139.6 124.6v6.9M379.3 134h6.9M382.7 130.6v6.9M169.9 123.9h6.9M173.3 120.5v6.9M228.2 118.3h6.9M231.6 114.9v6.9M254.3 139.2h6.9M257.7 135.7v6.9M289.8 123.6h6.9M293.2 120.2v6.9M145.2 120.7h6.9M148.7 117.3v6.9M485.1 121.8h6.9M488.6 118.3v6.9M399.3 131.6h6.9M402.7 128.1v6.9M150.4 152h6.9M153.8 148.5v6.9M271 114.8h6.9M274.4 111.4v6.9M331.4 111.3h6.9M334.9 107.9v6.9M177.8 132.9h6.9M181.2 129.4v6.9M241.2 126.1h6.9M244.6 122.6v6.9M231.1 128.6h6.9M234.5 125.1v6.9M203.6 134.4h6.9M207.1 131v6.9M124.7 147h6.9M128.1 143.5v6.9M266.7 138.5h6.9M270.2 135v6.9M266.6 123.6h6.9M270.1 120.1v6.9M325.8 126.5h6.9M329.2 123.1v6.9M396 125.8h6.9M399.4 122.4v6.9M474.1 121.3h6.9M477.5 117.9v6.9M136.3 124.5h6.9M139.7 121.1v6.9M114 130.8h6.9M117.5 127.4v6.9M576.4 106.1h6.9M579.8 102.6v6.9M548.4 105.2h6.9M551.8 101.8v6.9M510.6 113.1h6.9M514 109.7v6.9M196.4 132.6h6.9M199.8 129.2v6.9M147.2 116.3h6.9M150.6 112.9v6.9M481.7 128.5h6.9M485.1 125.1v6.9M363.8 105.1h6.9M367.2 101.7v6.9M438.2 131h6.9M441.6 127.5v6.9M258.7 133.7h6.9M262.1 130.3v6.9M473.4 151.4h6.9M476.8 148v6.9M251.1 128.5h6.9M254.6 125.1v6.9M296.2 117.2h6.9M299.6 113.8v6.9M104.8 126.4h6.9M108.3 123v6.9M313.6 113.9h6.9M317 110.5v6.9M490.6 115.1h6.9M494 111.7v6.9M455.2 139.7h6.9M458.6 136.3v6.9M570.2 106.3h6.9M573.6 102.8v6.9M226.5 137.2h6.9M229.9 133.8v6.9M146.6 130.2h6.9M150.1 126.7v6.9M366.3 136.9h6.9M369.7 133.5v6.9M368.7 137.9h6.9M372.2 134.4v6.9M112.5 124.3h6.9M115.9 120.8v6.9M330.4 113.9h6.9M333.8 110.5v6.9M367.2 122.8h6.9M370.6 119.3v6.9M477 133.2h6.9M480.4 129.8v6.9M508.9 121.4h6.9M512.4 117.9v6.9M317.6 103.2h6.9M321.1 99.7v6.9M351.5 116.2h6.9M354.9 112.8v6.9M269.3 113.9h6.9M272.8 110.4v6.9M595 103.9h6.9M598.4 100.4v6.9M286.8 116.4h6.9M290.3 112.9v6.9M571.4 101h6.9M574.9 97.6v6.9M488.6 117h6.9M492 113.5v6.9M295.6 131.2h6.9M299 127.7v6.9M335.7 118.6h6.9M339.1 115.2v6.9M406.5 134.8h6.9M409.9 131.3v6.9M292.5 114h6.9M295.9 110.6v6.9M185.4 143.8h6.9M188.8 140.4v6.9M150.2 131.7h6.9M153.6 128.2v6.9M423.4 124.6h6.9M426.8 121.2v6.9M333.5 121.1h6.9M336.9 117.7v6.9M453 139.7h6.9M456.5 136.2v6.9M208.6 139.1h6.9M212 135.6v6.9M522.1 107.6h6.9M525.6 104.1v6.9M165 137.2h6.9M168.4 133.8v6.9M430.6 141.2h6.9M434.1 137.7v6.9M293.8 98.9h6.9M297.3 95.5v6.9M392.6 136.1h6.9M396 132.7v6.9M292.2 111.8h6.9M295.6 108.3v6.9M386.2 118.5h6.9M389.6 115.1v6.9M279.4 97.2h6.9M282.9 93.8v6.9M373.9 146.6h6.9M377.3 143.1v6.9M263.1 108.9h6.9M266.6 105.5v6.9M488.5 126.4h6.9M491.9 123v6.9M118.4 99.5h6.9M121.9 96.1v6.9M592.6 99.3h6.9M596.1 95.8v6.9M139.4 131.3h6.9M142.8 127.9v6.9M370.1 119.1h6.9M373.5 115.7v6.9M247.2 114.2h6.9M250.7 110.8v6.9M504.3 121.2h6.9M507.7 117.8v6.9M207.5 143.3h6.9M210.9 139.9v6.9M208.1 139h6.9M211.5 135.5v6.9M443.6 119.2h6.9M447 115.8v6.9M537.7 86.8h6.9M541.1 83.3v6.9M161.4 116.8h6.9M164.8 113.3v6.9M469.3 143.8h6.9M472.7 140.3v6.9M594.4 124.1h6.9M597.8 120.7v6.9M487.8 135.5h6.9M491.2 132v6.9M262.3 112.4h6.9M265.7 109v6.9M436.6 123.3h6.9M440 119.8v6.9M309.2 124.4h6.9M312.6 120.9v6.9M346.1 129.7h6.9M349.5 126.3v6.9M556.4 77h6.9M559.8 73.6v6.9M143.6 119.8h6.9M147.1 116.3v6.9M142.5 136.7h6.9M146 133.2v6.9M388.1 139.6h6.9M391.5 136.2v6.9M462.1 130.9h6.9M465.6 127.5v6.9M614.4 119.3h6.9M617.8 115.9v6.9M601.6 90.7h6.9M605 87.3v6.9M354.7 124.9h6.9M358.2 121.4v6.9M576.1 110.6h6.9M579.5 107.2v6.9M592.2 108h6.9M595.6 104.6v6.9M117.7 88.3h6.9M121.1 84.8v6.9M117.1 134.8h6.9M120.5 131.3v6.9M264.1 123.2h6.9M267.5 119.7v6.9M281.1 133.3h6.9M284.5 129.8v6.9M183.1 125.3h6.9M186.6 121.8v6.9M245.8 129.5h6.9M249.3 126.1v6.9M119.4 100.6h6.9M122.8 97.2v6.9M307.3 124.6h6.9M310.7 121.1v6.9M204.1 152h6.9M207.6 148.5v6.9"/><path fill="#008000" d="M319.1 112.8l3.2 -5.7h-6.3zM102.3 81.3l3.2 -5.7h-6.3zM132.4 88.2l3.2 -5.7h-6.3zM494.2 107.2l3.2 -5.7h-6.3zM313.7 103.8l3.2 -5.7h-6.3zM156.1 122.3l3.2 -5.7h-6.3zM514.1 77.5l3.2 -5.7h-6.3zM453.8 112.9l3.2 -5.7h-6.3zM600.9 84.8l3.2 -5.7h-6.3zM548.6 82.4l3.2 -5.7h-6.3zM107.4 81l3.2 -5.7h-6.3zM590.3 81.4l3.2 -5.7h-6.3zM506.4 103.2l3.2 -5.7h-6.3zM534.2 87.6l3.2 -5.7h-6.3zM450.8 107.9l3.2 -5.7h-6.3zM188.2 134.7l3.2 -5.7h-6.3zM471.9 121.8l3.2 -5.7h-6.3zM321.8 106.8l3.2 -5.7h-6.3zM315.6 91.6l3.2 -5.7h-6.3zM613.9 91.7l3.2 -5.7h-6.3zM256.9 112.4l3.2 -5.7h-6.3zM395 99.1l3.2 -5.7h-6.3zM568.9 69.9l3.2 -5.7h-6.3zM209.5 112l3.2 -5.7h-6.3zM249.2 120l3.2 -5.7h-6.3zM138.6 85l3.2 -5.7h-6.3zM606.3 122.3l3.2 -5.7h-6.3zM299.5 92.1l3.2 -5.7h-6.3zM613.8 87.8l3.2 -5.7h-6.3zM589.9 87.7l3.2 -5.7h-6.3zM531.4 88l3.2 -5.7h-6.3zM116.4 99.6l3.2 -5.7h-6.3zM257.1 108.6l3.2 -5.7h-6.3zM483.5 98.9l3.2 -5.7h-6.3zM178.7 119.2l3.2 -5.7h-6.3zM522.8 85.2l3.2 -5.7h-6.3zM431.9 116.3l3.2 -5.7h-6.3zM263.7 122.5l3.2 -5.7h-6.3zM334.1 115.6l3.2 -5.7h-6.3zM422.5 114.3l3.2 -5.7h-6.3zM133.5 108.2l3.2 -5.7h-6.3zM405.4 116.5l3.2 -5.7h-6.3zM297.9 96.6l3.2 -5.7h-6.3zM573.7 102l3.2 -5.7h-6.3zM418.1 111.7l3.2 -5.7h-6.3zM200.8 112l3.2 -5.7h-6.3zM553 78.8l3.2 -5.7h-6.3zM179.4 141.4l3.2 -5.7h-6.3zM563.1 84.1l3.2 -5.7h-6.3zM490.2 104.4l3.2 -5.7h-6.3zM323.6 104.9l3.2 -5.7h-6.3zM451.3 108.1l3.2 -5.7h-6.3zM127.5 106.5l3.2 -5.7h-6.3zM355.4 120.2l3.2 -5.7h-6.3zM585.9 92l3.2 -5.7h-6.3zM305.8 87.6l3.2 -5.7h-6.3zM315.7 89.5l3.2 -5.7h-6.3zM513 85.7l3.2 -5.7h-6.3zM157.3 97.3l3.2 -5.7h-6.3zM407.4 135.4l3.2 -5.7h-6.3zM162.7 101.1l3.2 -5.7h-6.3zM167.4 136.2l3.2 -5.7h-6.3zM522.8 95.9l3.2 -5.7h-6.3zM346.9 94.5l3.2 -5.7h-6.3zM282.9 89.6l3.2 -5.7h-6.3zM257.9 114.6l3.2 -5.7h-6.3zM176.5 107.1l3.2 -5.7h-6.3zM392 123.9l3.2 -5.7h-6.3zM160.7 103.2l3.2 -5.7h-6.3zM290.1 106.8l3.2 -5.7h-6.3zM597 73.7l3.2 -5.7h-6.3zM157 102.5l3.2 -5.7h-6.3zM127.2 108.6l3.2 -5.7h-6.3zM192.4 111.5l3.2 -5.7h-6.3zM147.9 108.5l3.2 -5.7h-6.3zM369.6 105.2l3.2 -5.7h-6.3zM113.4 79.1l3.2 -5.7h-6.3zM183.3 106.7l3.2 -5.7h-6.3zM485.5 119l3.2 -5.7h-6.3zM555.4 80.8l3.2 -5.7h-6.3zM548.6 104.2l3.2 -5.7h-6.3zM617.9 101.7l3.2 -5.7h-6.3zM293.4 119.2l3.2 -5.7h-6.3zM208.8 116.6l3.2 -5.7h-6.3zM195.7 110.4l3.2 -5.7h-6.3zM232.5 140.5l3.2 -5.7h-6.3zM206.2 120.1l3.2 -5.7h-6.3zM451 110.2l3.2 -5.7h-6.3zM327.7 84l3.2 -5.7h-6.3zM333.2 120l3.2 -5.7h-6.3zM333.9 84.2l3.2 -5.7h-6.3zM140.9 92.6l3.2 -5.7h-6.3zM182.6 118.2l3.2 -5.7h-6.3zM159.5 119.8l3.2 -5.7h-6.3zM511.5 94.6l3.2 -5.7h-6.3zM385.2 124.6l3.2 -5.7h-6.3zM131.6 109.6l3.2 -5.7h-6.3zM158.2 117.3l3.2 -5.7h-6.3zM159.1 104.3l3.2 -5.7h-6.3zM149.3 122.7l3.2 -5.7h-6.3zM206.4 120.1l3.2 -5.7h-6.3zM214.8 120.8l3.2 -5.7h-6.3zM262.5 96.4l3.2 -5.7h-6.3zM570.1 82.9l3.2 -5.7h-6.3zM212.9 133.9l3.2 -5.7h-6.3zM589 76.2l3.2 -5.7h-6.3zM530.7 74.3l3.2 -5.7h-6.3zM384.8 118.3l3.2 -5.7h-6.3zM135.8 92l3.2 -5.7h-6.3zM596.9 89.5l3.2 -5.7h-6.3zM288.5 104l3.2 -5.7h-6.3zM528.9 93.7l3.2 -5.7h-6.3zM204.7 136.3l3.2 -5.7h-6.3zM361.4 88.5l3.2 -5.7h-6.3z"/><path fill="#808080" stroke="#000" stroke-width="1.6" d="M380.5 123.6h6.6v6.6h-6.6zM127.1 114.1h6.6v6.6h-6.6zM346.2 115h6.6v6.6h-6.6zM288.8 113h6.6v6.6h-6.6zM539.2 112.6h6.6v6.6h-6.6zM214.5 140.4h6.6v6.6h-6.6zM440.6 110.9h6.6v6.6h-6.6zM608.2 132.7h6.6v6.6h-6.6zM404.9 142.3h6.6v6.6h-6.6zM487.6 119.4h6.6v6.6h-6.6zM446.1 113.7h6.6v6.6h-6.6zM550.1 88.9h6.6v6.6h-6.6zM223.7 156h6.6v6.6h-6.6zM533.5 77.7h6.6v6.6h-6.6zM512 89.3h6.6v6.6h-6.6zM177 121.7h6.6v6.6h-6.6zM244.3 136.3h6.6v6.6h-6.6zM152 112.3h6.6v6.6h-6.6zM555.5 80.7h6.6v6.6h-6.6zM562 114.3h6.6v6.6h-6.6zM475.8 126.3h6.6v6.6h-6.6zM240.7 123.8h6.6v6.6h-6.6zM106.7 99.6h6.6v6.6h-6.6zM489 123.1h6.6v6.6h-6.6zM214.3 139.9h6.6v6.6h-6.6zM187.6 128.3h6.6v6.6h-6.6zM108.6 124.6h6.6v6.6h-6.6zM300.1 127.3h6.6v6.6h-6.6zM344.4 100.6h6.6v6.6h-6.6zM439.4 135.4h6.6v6.6h-6.6z"/><path stroke="#800000" d="M109.4 93v26.9m-3 -26.9h6m-6 26.9h6M121.9 70.1v30.4m-3 -30.4h6m-6 30.4h6M134.8 85.3v36.4m-3 -36.4h6m-6 36.4h6M109.8 80.4v39.3m-3 -39.3h6m-6 39.3h6"/><path stroke="#f00" d="M128.7 73.2v32.9m-3 -32.9h6m-6 32.9h6M129.6 85.2v17.2m-3 -17.2h6m-6 17.2h6M119.3 66.4v20.4m-3 -20.4h6m-6 20.4h6M112.8 68.3v25.1m-3 -25.1h6m-6 25.1h6M114.6 85v16.2m-3 -16.2h6m-6 16.2h6M134.5 108.6v19.2m-3 -19.2h6m-6 19.2h6M111.6 80.6v17.3m-3 -17.3h6m-6 17.3h6M124 118.5v17.9m-3 -17.9h6m-6 17.9h6M116.8 64.1v30.7m-3 -30.7h6m-6 30.7h6M105.2 89.8v35.3m-3 -35.3h6m-6 35.3h6M130.9 63.8v21.6m-3 -21.6h6m-6 21.6h6M109 97.7v29.5m-3 -29.5h6m-6 29.5h6"/><path fill="#800000" d="M109.4 102.4l4 7.2h-8z"/><path fill="#800000" d="M118.6 85.2a3.3 3.3 0 1 0 6.6 0a3.3 3.3 0 1 0 -6.6 0M131.5 103.5a3.3 3.3 0 1 0 6.6 0a3.3 3.3 0 1 0 -6.6 0M106.5 100.1a3.3 3.3 0 1 0 6.6 0a3.3 3.3 0 1 0 -6.6 0"/><path fill="#f00" stroke="#000" stroke-width=".6" d="M125 86h7.4v7.4h-7.4zM125.9 90.1h7.4v7.4h-7.4zM115.7 72.9h7.4v7.4h-7.4zM109.1 77.2h7.4v7.4h-7.4zM120.3 123.8h7.4v7.4h-7.4zM113.1 75.7h7.4v7.4h-7.4zM127.2 70.9h7.4v7.4h-7.4z"/><path fill="none" stroke="#f00" stroke-width="1.9" d="M109.2 93.1h10.8M114.6 87.7v10.8M110.7 89.2l7.8 7.8M110.7 97l7.8 -7.8M129.1 118.2h10.8M134.5 112.8v10.8M130.6 114.3l7.8 7.8M130.6 122.1l7.8 -7.8M106.2 89.3h10.8M111.6 83.8v10.8M107.7 85.4l7.8 7.8M107.7 93.2l7.8 -7.8M99.8 107.5h10.8M105.2 102.1v10.8M101.3 103.6l7.8 7.8M101.3 111.4l7.8 -7.8M103.6 112.4h10.8M109 107v10.8M105.1 108.5l7.8 7.8M105.1 116.3l7.8 -7.8"/><path stroke="#008000" d="M413 93.4v54.8m-3 -54.8h6m-6 54.8h6M569.8 83.4v40.9m-3 -40.9h6m-6 40.9h6M429.6 102.2v45.7m-3 -45.7h6m-6 45.7h6M200.4 113.1v58.9m-3 -58.9h6m-6 58.9h6M379.4 123.7v27.1m-3 -27.1h6m-6 27.1h6M319.1 77.6v64.1m-3 -64.1h6m-6 64.1h6M295.8 99.9v44.8m-3 -44.8h6m-6 44.8h6M353.5 81.7v51.7m-3 -51.7h6m-6 51.7h6M444.9 130v24.2m-3 -24.2h6m-6 24.2h6M102.3 41v74.4m-3 -74.4h6m-6 74.4h6M132.4 52.3v65.5m-3 -65.5h6m-6 65.5h6M249 125.1v40.8m-3 -40.8h6m-6 40.8h6M283 93.3v59.7m-3 -59.7h6m-6 59.7h6M494.2 74.2v59.7m-3 -59.7h6m-6 59.7h6M313.7 68v65.2m-3 -65.2h6m-6 65.2h6M347.5 70.8v98.3m-3 -98.3h6m-6 98.3h6M156.1 73.3v91.7m-3 -91.7h6m-6 91.7h6M514.1 51.4v45.8m-3 -45.8h6m-6 45.8h6M453.8 87.8v44m-3 -44h6m-6 44h6M595.3 75.3v58m-3 -58h6m-6 58h6M600.9 46.7v69.9m-3 -69.9h6m-6 69.9h6M207.9 133.3v30.2m-3 -30.2h6m-6 30.2h6M442.4 115.4v37.2m-3 -37.2h6m-6 37.2h6M548.6 60.2v38.1m-3 -38.1h6m-6 38.1h6M107.4 41v73.6m-3 -73.6h6m-6 73.6h6M590.3 47.9v60.5m-3 -60.5h6m-6 60.5h6M215.7 130v43.7m-3 -43.7h6m-6 43.7h6M202.4 108.1v38.7m-3 -38.7h6m-6 38.7h6M533.7 73.3v45.6m-3 -45.6h6m-6 45.6h6M405.9 108.9v44.6m-3 -44.6h6m-6 44.6h6M506.4 69.7v60.6m-3 -60.6h6m-6 60.6h6M271.8 122.5v21m-3 -21h6m-6 21h6M534.2 57.6v53.7m-3 -53.7h6m-6 53.7h6M225.1 107.1v49.3m-3 -49.3h6m-6 49.3h6M341.7 94.2v39.2m-3 -39.2h6m-6 39.2h6M553.7 73.1v43m-3 -43h6m-6 43h6M450.8 74.5v60.5m-3 -60.5h6m-6 60.5h6M277.7 98.1v37.8m-3 -37.8h6m-6 37.8h6"/><path stroke="#000" d="M158.2 125.9v16.2m-3 -16.2h6m-6 16.2h6M493.3 101.9v37.2m-3 -37.2h6m-6 37.2h6M512.4 73.6v46.4m-3 -46.4h6m-6 46.4h6M125.5 90.5v38.9m-3 -38.9h6m-6 38.9h6M255.1 108.8v42.6m-3 -42.6h6m-6 42.6h6M148.7 91v41.8m-3 -41.8h6m-6 41.8h6M382.8 102.5v39.7m-3 -39.7h6m-6 39.7h6M143.3 117.9v43.5m-3 -43.5h6m-6 43.5h6M126 100.4v69.2m-3 -69.2h6m-6 69.2h6M265.9 108v38.1m-3 -38.1h6m-6 38.1h6M246.1 116v30.5m-3 -30.5h6m-6 30.5h6M132.3 98.8v43.1m-3 -43.1h6m-6 43.1h6M589.7 81.8v27.3m-3 -27.3h6m-6 27.3h6M157.6 130.4v22.6m-3 -22.6h6m-6 22.6h6M302 114.2v28.9m-3 -28.9h6m-6 28.9h6M123.3 100.7v29.6m-3 -29.6h6m-6 29.6h6M135.4 98.7v81.4m-3 -81.4h6m-6 81.4h6M255.1 116.9v17.2m-3 -17.2h6m-6 17.2h6M542 83.6v44m-3 -44h6m-6 44h6M601.2 111.2v20.4m-3 -20.4h6m-6 20.4h6M260.1 109.4v37.5m-3 -37.5h6m-6 37.5h6M560.4 73.6v42.8m-3 -42.8h6m-6 42.8h6M167.7 107.7v24.7m-3 -24.7h6m-6 24.7h6M375.6 126.1v27.3m-3 -27.3h6m-6 27.3h6M249.3 121.9v41.2m-3 -41.2h6m-6 41.2h6M103.3 94.5v28.8m-3 -28.8h6m-6 28.8h6M286.5 137v17.8m-3 -17.8h6m-6 17.8h6M109.2 117.9v26.3m-3 -26.3h6m-6 26.3h6M349 106.4v39.2m-3 -39.2h6m-6 39.2h6M428.9 118.4v28.6m-3 -28.6h6m-6 28.6h6M126.9 109.1v21.8m-3 -21.8h6m-6 21.8h6M345.8 120.5v33.9m-3 -33.9h6m-6 33.9h6M289.8 105.3v37.2m-3 -37.2h6m-6 37.2h6M128.8 119.9v23.9m-3 -23.9h6m-6 23.9h6M259.2 95v41.3m-3 -41.3h6m-6 41.3h6M345.7 107.1v42.9m-3 -42.9h6m-6 42.9h6M151.3 113.6v24.1m-3 -24.1h6m-6 24.1h6M449.1 128v16.6m-3 -16.6h6m-6 16.6h6M312.8 95v41.7m-3 -41.7h6m-6 41.7h6M542.5 99.7v21.6m-3 -21.6h6m-6 21.6h6"/><path stroke="#00f" d="M562.4 63.1v63.6m-3 -63.6h6m-6 63.6h6M339.9 73v19.5m-3 -19.5h6m-6 19.5h6M603.6 91.7v51.6m-3 -51.6h6m-6 51.6h6M111.8 92.7v19.6m-3 -19.6h6m-6 19.6h6M438 118.7v40.5m-3 -40.5h6m-6 40.5h6M460.2 107.2v42.8m-3 -42.8h6m-6 42.8h6M234.4 101.1v16.5m-3 -16.5h6m-6 16.5h6M592.5 92.1v32.3m-3 -32.3h6m-6 32.3h6M503.9 99.4v32.3m-3 -32.3h6m-6 32.3h6M481.2 112.7v54.1m-3 -54.1h6m-6 54.1h6M235.7 118.5v22.2m-3 -22.2h6m-6 22.2h6M119.5 78.2v34.3m-3 -34.3h6m-6 34.3h6M461.5 105.3v44m-3 -44h6m-6 44h6M410.6 117.3v39.8m-3 -39.8h6m-6 39.8h6M551 74.4v32.7m-3 -32.7h6m-6 32.7h6M509.4 101.8v31.6m-3 -31.6h6m-6 31.6h6M346.8 111.6v26.5m-3 -26.5h6m-6 26.5h6M313.6 78.2v13.7m-3 -13.7h6m-6 13.7h6M382.4 112.3v52.4m-3 -52.4h6m-6 52.4h6M387.5 134.3v24.2m-3 -24.2h6m-6 24.2h6M522.6 65v19.3m-3 -19.3h6m-6 19.3h6M260.9 105.8v33.2m-3 -33.2h6m-6 33.2h6M286.5 107.8v69.1m-3 -69.1h6m-6 69.1h6M503.4 95.3v40.9m-3 -40.9h6m-6 40.9h6M156.8 111.5v53m-3 -53h6m-6 53h6M230.2 125.4v41.2m-3 -41.2h6m-6 41.2h6M504.2 94.7v40.2m-3 -40.2h6m-6 40.2h6M362.4 98.5v29.5m-3 -29.5h6m-6 29.5h6M506.3 71.9v18.2m-3 -18.2h6m-6 18.2h6M252.2 142.4v26.2m-3 -26.2h6m-6 26.2h6M307 96.4v43.2m-3 -43.2h6m-6 43.2h6M360.6 113.3v39.4m-3 -39.4h6m-6 39.4h6M596.6 120.8v21m-3 -21h6m-6 21h6M259.1 73v51m-3 -51h6m-6 51h6M533.8 73.9v33.5m-3 -33.5h6m-6 33.5h6M604.9 106.5v31.3m-3 -31.3h6m-6 31.3h6M351 95.3v26.2m-3 -26.2h6m-6 26.2h6M305.3 120v33.1m-3 -33.1h6m-6 33.1h6M265.5 115.7v27.6m-3 -27.6h6m-6 27.6h6M157.1 86.6v23.3m-3 -23.3h6m-6 23.3h6M238.5 103.7v16.9m-3 -16.9h6m-6 16.9h6M301.6 106.8v44.5m-3 -44.5h6m-6 44.5h6M273.9 67.5v43.2m-3 -43.2h6m-6 43.2h6M337.6 81.6v34.3m-3 -34.3h6m-6 34.3h6M344 81.1v24.3m-3 -24.3h6m-6 24.3h6M460.1 110.7v38.3m-3 -38.3h6m-6 38.3h6M413.9 98.3v22.8m-3 -22.8h6m-6 22.8h6M287.3 89.5v18.7m-3 -18.7h6m-6 18.7h6M533.3 81.3v40m-3 -40h6m-6 40h6M319.1 116.7v34.5m-3 -34.5h6m-6 34.5h6M352.1 114.6v34.8m-3 -34.8h6m-6 34.8h6M534.9 41v44.3m-3 -44.3h6m-6 44.3h6M393.2 109.1v25.3m-3 -25.3h6m-6 25.3h6"/><path stroke="#800080" d="M602.1 90.4v56.1m-3 -56.1h6m-6 56.1h6M312.9 81.7v48.3m-3 -48.3h6m-6 48.3h6M248.1 107.5v50.1m-3 -50.1h6m-6 50.1h6M491.3 93.8v25.1m-3 -25.1h6m-6 25.1h6M432.8 107.7v45m-3 -45h6m-6 45h6M362.2 108v36.8m-3 -36.8h6m-6 36.8h6M232.2 105.8v37.5m-3 -37.5h6m-6 37.5h6M397.3 132.2v35m-3 -35h6m-6 35h6M181.2 109.4v31.4m-3 -31.4h6m-6 31.4h6M526.1 73.9v17.1m-3 -17.1h6m-6 17.1h6M261 105.8v27.5m-3 -27.5h6m-6 27.5h6M110.6 75v53.2m-3 -53.2h6m-6 53.2h6M257.8 116.3v32.6m-3 -32.6h6m-6 32.6h6M509.1 89.9v39.6m-3 -39.6h6m-6 39.6h6M432.3 119.7v50.7m-3 -50.7h6m-6 50.7h6M236.2 141.9v31.2m-3 -31.2h6m-6 31.2h6M124.7 84.6v49.3m-3 -49.3h6m-6 49.3h6M116.4 74.4v40.9m-3 -40.9h6m-6 40.9h6M382.1 102.6v47.9m-3 -47.9h6m-6 47.9h6M521.6 62.5v63.7m-3 -63.7h6m-6 63.7h6M321.1 110.7v38.8m-3 -38.8h6m-6 38.8h6M479 99.5v48.2m-3 -48.2h6m-6 48.2h6M363.9 110.3v26m-3 -26h6m-6 26h6M507.4 102.2v27m-3 -27h6m-6 27h6M227.4 127v34.6m-3 -34.6h6m-6 34.6h6M136.7 107.8v41.8m-3 -41.8h6m-6 41.8h6M468.6 106v66.8m-3 -66.8h6m-6 66.8h6M457.4 124.4v38.5m-3 -38.5h6m-6 38.5h6M315 96.2v17.6m-3 -17.6h6m-6 17.6h6M265.5 91.7v69.1m-3 -69.1h6m-6 69.1h6M335 89.1v31.3m-3 -31.3h6m-6 31.3h6M580.4 87.8v46.4m-3 -46.4h6m-6 46.4h6M355.1 93.1v33.7m-3 -33.7h6m-6 33.7h6M467.5 116.9v26.8m-3 -26.8h6m-6 26.8h6M129.7 114.8v36.1m-3 -36.1h6m-6 36.1h6M484.1 95.2v48.8m-3 -48.8h6m-6 48.8h6M547 62.9v48.4m-3 -48.4h6m-6 48.4h6M278.1 108.2v26.7m-3 -26.7h6m-6 26.7h6"/><path stroke="#f00" d="M200.1 120.8v33.7m-3 -33.7h6m-6 33.7h6M212.2 124.5v19m-3 -19h6m-6 19h6M146.3 117.4v35.1m-3 -35.1h6m-6 35.1h6M441.5 108v45.3m-3 -45.3h6m-6 45.3h6M599.6 88.1v24m-3 -24h6m-6 24h6M482.6 114.2v31.7m-3 -31.7h6m-6 31.7h6M182.2 116.1v21.6m-3 -21.6h6m-6 21.6h6M247.3 125.2v31.7m-3 -31.7h6m-6 31.7h6M128.3 99v33.4m-3 -33.4h6m-6 33.4h6M108.8 104.1v23.3m-3 -23.3h6m-6 23.3h6M603.4 88.1v47.8m-3 -47.8h6m-6 47.8h6M383.8 110.2v31.8m-3 -31.8h6m-6 31.8h6M235.1 108.6v27.3m-3 -27.3h6m-6 27.3h6M360.6 92.4v50.6m-3 -50.6h6m-6 50.6h6M302 112.8v40.4m-3 -40.4h6m-6 40.4h6M362.4 84.6v48.1m-3 -48.1h6m-6 48.1h6M603.2 89.5v41.6m-3 -41.6h6m-6 41.6h6M395.5 110.8v29.8m-3 -29.8h6m-6 29.8h6M428.5 107.4v40.1m-3 -40.1h6m-6 40.1h6M597.9 63.9v58.2m-3 -58.2h6m-6 58.2h6M518.9 82.3v44.9m-3 -44.9h6m-6 44.9h6M109.1 87.2v23m-3 -23h6m-6 23h6M463.3 109.3v25.4m-3 -25.4h6m-6 25.4h6M119.1 95.6v39.2m-3 -39.2h6m-6 39.2h6M441.6 107.1v46.4m-3 -46.4h6m-6 46.4h6M328.6 85.7v40.2m-3 -40.2h6m-6 40.2h6M176.5 102.3v59.9m-3 -59.9h6m-6 59.9h6M616.1 110v42.2m-3 -42.2h6m-6 42.2h6M590.3 78.2v49.3m-3 -49.3h6m-6 49.3h6M556.3 74.9v57m-3 -57h6m-6 57h6M260.7 107.8v50m-3 -50h6m-6 50h6M338.5 96v56.6m-3 -56.6h6m-6 56.6h6M562.4 101.2v25.8m-3 -25.8h6m-6 25.8h6M521.7 85.2v35.3m-3 -35.3h6m-6 35.3h6M599 72.7v37.8m-3 -37.8h6m-6 37.8h6M292.9 108.4v38.2m-3 -38.2h6m-6 38.2h6M604.7 90.9v29.1m-3 -29.1h6m-6 29.1h6M158.3 110.1v44.6m-3 -44.6h6m-6 44.6h6M396.6 128.9v26.3m-3 -26.3h6m-6 26.3h6M293.3 100.4v31.6m-3 -31.6h6m-6 31.6h6M184.6 137.4v28.7m-3 -28.7h6m-6 28.7h6M350.8 97.3v39.5m-3 -39.5h6m-6 39.5h6M472.7 98.8v27.4m-3 -27.4h6m-6 27.4h6M371.6 129.3v25.8m-3 -25.8h6m-6 25.8h6M550.2 65.1v18.6m-3 -18.6h6m-6 18.6h6M541.3 66.9v49.9m-3 -49.9h6m-6 49.9h6M285.3 83.5v41m-3 -41h6m-6 41h6M110.7 65.4v23m-3 -23h6m-6 23h6M136.2 95.6v40.5m-3 -40.5h6m-6 40.5h6M114.5 98.5v43.7m-3 -43.7h6m-6 43.7h6M140.1 119v41.6m-3 -41.6h6m-6 41.6h6M371.9 93.7v55.2m-3 -55.2h6m-6 55.2h6M303.4 106.1v21.4m-3 -21.4h6m-6 21.4h6M456.2 102.2v56.5m-3 -56.5h6m-6 56.5h6M158.5 99.8v29.3m-3 -29.3h6m-6 29.3h6M351 105.2v33.9m-3 -33.9h6m-6 33.9h6"/><path stroke="#000080" d="M338.8 98.6v21.1m-3 -21.1h6m-6 21.1h6M441.7 107.9v44m-3 -44h6m-6 44h6M149.2 95.3v23.8m-3 -23.8h6m-6 23.8h6M596.2 55.6v26.7m-3 -26.7h6m-6 26.7h6M204.6 137v39.2m-3 -39.2h6m-6 39.2h6M422.5 76.4v43.7m-3 -43.7h6m-6 43.7h6M222.4 132.1v24.4m-3 -24.4h6m-6 24.4h6M563.1 85.8v17.4m-3 -17.4h6m-6 17.4h6M541.6 47.9v29.9m-3 -29.9h6m-6 29.9h6M347 86.4v32.9m-3 -32.9h6m-6 32.9h6M486 98.7v51.1m-3 -51.1h6m-6 51.1h6M341.8 79.5v49.8m-3 -49.8h6m-6 49.8h6M436.6 110.9v48.2m-3 -48.2h6m-6 48.2h6M367 96.7v44.3m-3 -44.3h6m-6 44.3h6M546.9 81.1v33.8m-3 -33.8h6m-6 33.8h6M284.5 93.6v52.4m-3 -52.4h6m-6 52.4h6M267.4 95.5v48.9m-3 -48.9h6m-6 48.9h6M553.9 69.2v40.3m-3 -40.3h6m-6 40.3h6M333.7 88.1v37.2m-3 -37.2h6m-6 37.2h6M306.3 83.4v23.8m-3 -23.8h6m-6 23.8h6M429.1 84.1v25.5m-3 -25.5h6m-6 25.5h6M186.9 92.8v32m-3 -32h6m-6 32h6M549.5 84.9v38.7m-3 -38.7h6m-6 38.7h6M144.6 130.5v19.2m-3 -19.2h6m-6 19.2h6M155.4 70.6v47.3m-3 -47.3h6m-6 47.3h6M138.4 103.9v24.3m-3 -24.3h6m-6 24.3h6M237.6 93.6v30.5m-3 -30.5h6m-6 30.5h6M548.8 65.2v41.9m-3 -41.9h6m-6 41.9h6M336.6 90v28.9m-3 -28.9h6m-6 28.9h6"/><path stroke="#008080" d="M434.3 114.7v39.8m-3 -39.8h6m-6 39.8h6M595.5 116.9v26m-3 -26h6m-6 26h6M555 87.8v30.6m-3 -30.6h6m-6 30.6h6M556.3 79.7v31.5m-3 -31.5h6m-6 31.5h6M292.4 96.6v20.9m-3 -20.9h6m-6 20.9h6M490.1 123.4v31.3m-3 -31.3h6m-6 31.3h6M403 131.1v20.7m-3 -20.7h6m-6 20.7h6M453.8 125.8v21.5m-3 -21.5h6m-6 21.5h6M599 82.1v27.6m-3 -27.6h6m-6 27.6h6M542.7 82.4v47.5m-3 -47.5h6m-6 47.5h6M174.2 102.5v40.5m-3 -40.5h6m-6 40.5h6M353.3 106.6v33.6m-3 -33.6h6m-6 33.6h6M419.5 101.7v47.3m-3 -47.3h6m-6 47.3h6M219.5 117.7v25.1m-3 -25.1h6m-6 25.1h6M146.3 115.4v44.2m-3 -44.2h6m-6 44.2h6M139.6 110.9v34.3m-3 -34.3h6m-6 34.3h6M382.7 99.2v69.7m-3 -69.7h6m-6 69.7h6M143 130.1v20.7m-3 -20.7h6m-6 20.7h6M265.4 131.4v19.6m-3 -19.6h6m-6 19.6h6M173.3 111.4v24.9m-3 -24.9h6m-6 24.9h6M231.6 103.7v29.2m-3 -29.2h6m-6 29.2h6M131.9 111.5v21.7m-3 -21.7h6m-6 21.7h6M257.7 111.7v55m-3 -55h6m-6 55h6M293.2 102.8v41.6m-3 -41.6h6m-6 41.6h6M148.7 97.6v46.3m-3 -46.3h6m-6 46.3h6M396.2 102.2v23m-3 -23h6m-6 23h6M488.6 100.7v42m-3 -42h6m-6 42h6M402.7 107.9v47.5m-3 -47.5h6m-6 47.5h6M153.8 142.4v19.1m-3 -19.1h6m-6 19.1h6"/><path stroke="#800000" d="M429 113.7v39.2m-3 -39.2h6m-6 39.2h6M472.6 119.5v31.1m-3 -31.1h6m-6 31.1h6M410.7 108.1v23.2m-3 -23.2h6m-6 23.2h6M428.8 113.9v47.8m-3 -47.8h6m-6 47.8h6M524 93.8v38.2m-3 -38.2h6m-6 38.2h6M296.1 101.8v29.3m-3 -29.3h6m-6 29.3h6M482.8 110.7v39.1m-3 -39.1h6m-6 39.1h6M545.2 77.6v32m-3 -32h6m-6 32h6M208.9 118.3v37.8m-3 -37.8h6m-6 37.8h6M217.8 131.7v24.5m-3 -24.5h6m-6 24.5h6M282.1 100.2v25.1m-3 -25.1h6m-6 25.1h6M243.8 102.2v37.5m-3 -37.5h6m-6 37.5h6M226 120v30.9m-3 -30.9h6m-6 30.9h6M548.9 85.4v20.1m-3 -20.1h6m-6 20.1h6M109.5 121.4v22.8m-3 -22.8h6m-6 22.8h6M411.5 100.5v38.8m-3 -38.8h6m-6 38.8h6M534.4 67v42m-3 -42h6m-6 42h6M572.4 68v25.6m-3 -25.6h6m-6 25.6h6M288.4 107.2v32.8m-3 -32.8h6m-6 32.8h6M160.5 118.1v32.5m-3 -32.5h6m-6 32.5h6M485.5 111.8v65m-3 -65h6m-6 65h6M314.9 125.3v22.4m-3 -22.4h6m-6 22.4h6M212 113.9v26.8m-3 -26.8h6m-6 26.8h6M609 129.9v17.2m-3 -17.2h6m-6 17.2h6M250 125.3v52.7m-3 -52.7h6m-6 52.7h6M485.9 111.1v25.6m-3 -25.6h6m-6 25.6h6M286.6 104.3v38.5m-3 -38.5h6m-6 38.5h6M494.2 107.8v45.3m-3 -45.3h6m-6 45.3h6M366.5 123.9v19m-3 -19h6m-6 19h6M180 137v17.5m-3 -17.5h6m-6 17.5h6M126.1 107.7v46.9m-3 -46.9h6m-6 46.9h6M217.9 121.1v46.1m-3 -46.1h6m-6 46.1h6M126.7 110.9v21.2m-3 -21.2h6m-6 21.2h6M467.1 113v35.9m-3 -35.9h6m-6 35.9h6M244.1 130.2v43m-3 -43h6m-6 43h6M496.9 96v32.3m-3 -32.3h6m-6 32.3h6M620 118.3v42.1m-3 -42.1h6m-6 42.1h6M505.7 99.2v42.9m-3 -42.9h6m-6 42.9h6M216.5 138.7v18.1m-3 -18.1h6m-6 18.1h6M519.5 94v27.3m-3 -27.3h6m-6 27.3h6M110.8 59.9v45m-3 -45h6m-6 45h6M477 136.5v22.1m-3 -22.1h6m-6 22.1h6M502.2 89.6v32.6m-3 -32.6h6m-6 32.6h6M284.6 102.9v32.7m-3 -32.7h6m-6 32.7h6M438.9 113.3v23.3m-3 -23.3h6m-6 23.3h6M189.9 126.2v38.4m-3 -38.4h6m-6 38.4h6M133.6 107.5v44.4m-3 -44.4h6m-6 44.4h6M483.7 135.4v21.2m-3 -21.2h6m-6 21.2h6M270.9 112.1v44.9m-3 -44.9h6m-6 44.9h6M452.3 117.8v41m-3 -41h6m-6 41h6"/><path stroke="#808080" d="M383.8 89.7v74.6m-3 -74.6h6m-6 74.6h6M130.4 102.2v30.4m-3 -30.4h6m-6 30.4h6M349.5 102.7v31.3m-3 -31.3h6m-6 31.3h6M292.1 96.8v39.1m-3 -39.1h6m-6 39.1h6M542.5 103.1v25.7m-3 -25.7h6m-6 25.7h6"/><path stroke="#000080" d="M171.6 99.8v34.6m-3 -34.6h6m-6 34.6h6M355.6 116.6v42.3m-3 -42.3h6m-6 42.3h6M537.7 85.6v36.5m-3 -36.5h6m-6 36.5h6M374.7 110.8v50.3m-3 -50.3h6m-6 50.3h6M559.7 41v46.1m-3 -46.1h6m-6 46.1h6M324.7 65.9v29.4m-3 -29.4h6m-6 29.4h6M226.5 130.9v39.4m-3 -39.4h6m-6 39.4h6M324.8 76.8v19.3m-3 -19.3h6m-6 19.3h6M206.7 109.9v47.4m-3 -47.4h6m-6 47.4h6M428.8 107.5v25m-3 -25h6m-6 25h6M529.1 83.1v35.8m-3 -35.8h6m-6 35.8h6M327.9 96.8v48.8m-3 -48.8h6m-6 48.8h6M129.9 89.3v19.2m-3 -19.2h6m-6 19.2h6M285.6 108.1v46.4m-3 -46.4h6m-6 46.4h6M314.5 106.1v40.1m-3 -40.1h6m-6 40.1h6M246 95.4v21.8m-3 -21.8h6m-6 21.8h6M240 113.3v35.9m-3 -35.9h6m-6 35.9h6M545.7 81.6v36m-3 -36h6m-6 36h6M348.4 87.1v49.6m-3 -49.6h6m-6 49.6h6M286.2 118.1v28.7m-3 -28.7h6m-6 28.7h6M366.4 88v30.7m-3 -30.7h6m-6 30.7h6M546.3 79.1v53.9m-3 -53.9h6m-6 53.9h6M159.8 111.2v37.8m-3 -37.8h6m-6 37.8h6M558.7 66.6v21.4m-3 -21.4h6m-6 21.4h6M162.8 97.2v46.4m-3 -46.4h6m-6 46.4h6M255.4 114.4v25.4m-3 -25.4h6m-6 25.4h6M154.4 104.6v34.5m-3 -34.5h6m-6 34.5h6M516.9 71v35.5m-3 -35.5h6m-6 35.5h6M162.1 99.2v48m-3 -48h6m-6 48h6M325.7 89.5v49.1m-3 -49.1h6m-6 49.1h6M145.6 123.6v30.1m-3 -30.1h6m-6 30.1h6"/><path stroke="#800000" d="M601.2 84.1v33.1m-3 -33.1h6m-6 33.1h6M156.5 138.3v30.6m-3 -30.6h6m-6 30.6h6M541.8 79.1v44.1m-3 -44.1h6m-6 44.1h6M108.1 99.3v41.8m-3 -41.8h6m-6 41.8h6M277.1 102v33.6m-3 -33.6h6m-6 33.6h6M216.6 120.7v50.2m-3 -50.2h6m-6 50.2h6M157.2 108.4v42.9m-3 -42.9h6m-6 42.9h6M148.6 107.2v36.8m-3 -36.8h6m-6 36.8h6M312 106.4v39.7m-3 -39.7h6m-6 39.7h6M155.7 115.7v32.7m-3 -32.7h6m-6 32.7h6M145.4 113.9v37m-3 -37h6m-6 37h6M525 89.3v41.7m-3 -41.7h6m-6 41.7h6M119.5 106.4v20.8m-3 -20.8h6m-6 20.8h6M190.1 110.8v59.8m-3 -59.8h6m-6 59.8h6M412.8 105.2v40.1m-3 -40.1h6m-6 40.1h6M548.9 106v20.7m-3 -20.7h6m-6 20.7h6M215 109v30m-3 -30h6m-6 30h6M319.8 77.7v69.7m-3 -69.7h6m-6 69.7h6M383.6 117.9v62.5m-3 -62.5h6m-6 62.5h6M578.3 97.6v29.9m-3 -29.9h6m-6 29.9h6M351.9 109.9v20.6m-3 -20.6h6m-6 20.6h6M398.8 104.7v26m-3 -26h6m-6 26h6M412 122.1v25.6m-3 -25.6h6m-6 25.6h6M407.7 139.7v22.5m-3 -22.5h6m-6 22.5h6M432.3 116.7v38.6m-3 -38.6h6m-6 38.6h6M190.3 100.8v37.8m-3 -37.8h6m-6 37.8h6M609.3 103.3v42.6m-3 -42.6h6m-6 42.6h6M517.8 75.8v44.8m-3 -44.8h6m-6 44.8h6M540.9 74v41.2m-3 -41.2h6m-6 41.2h6M563.8 75.2v67.1m-3 -67.1h6m-6 67.1h6M562.8 89.3v33.2m-3 -33.2h6m-6 33.2h6M269.3 107.3v23.8m-3 -23.8h6m-6 23.8h6M134.8 98.2v26.7m-3 -26.7h6m-6 26.7h6M315.2 91.2v28.3m-3 -28.3h6m-6 28.3h6M554.2 66.1v30.1m-3 -30.1h6m-6 30.1h6M468 116.3v38.8m-3 -38.8h6m-6 38.8h6M474.9 99.4v46.6m-3 -46.6h6m-6 46.6h6M350 141.1v18.8m-3 -18.8h6m-6 18.8h6M495.3 125.2v19.4m-3 -19.4h6m-6 19.4h6M305 106.1v39.6m-3 -39.6h6m-6 39.6h6M151.3 114.8v38.5m-3 -38.5h6m-6 38.5h6M482.9 101.9v42m-3 -42h6m-6 42h6M442.8 139.8v17.5m-3 -17.5h6m-6 17.5h6M447.6 119.4v31.4m-3 -31.4h6m-6 31.4h6M499.9 87.1v36.4m-3 -36.4h6m-6 36.4h6M476.9 103.4v46.6m-3 -46.6h6m-6 46.6h6M179.7 112.8v44.9m-3 -44.9h6m-6 44.9h6M535.6 100v22.1m-3 -22.1h6m-6 22.1h6M160.4 127.1v32.6m-3 -32.6h6m-6 32.6h6M463.1 129.8v34.4m-3 -34.4h6m-6 34.4h6M545.9 93.5v18.6m-3 -18.6h6m-6 18.6h6M226.3 135.7v39.3m-3 -39.3h6m-6 39.3h6M542.9 75v39.3m-3 -39.3h6m-6 39.3h6M376.2 112.7v24.1m-3 -24.1h6m-6 24.1h6M578.8 75.1v31.2m-3 -31.2h6m-6 31.2h6"/><path stroke="#f00" d="M253.5 109.2v44.8m-3 -44.8h6m-6 44.8h6M551.5 64.4v45.2m-3 -45.2h6m-6 45.2h6M605.8 83v59.6m-3 -59.6h6m-6 59.6h6M384.7 108.9v48.4m-3 -48.4h6m-6 48.4h6M197.2 128.1v43m-3 -43h6m-6 43h6M184.9 122.5v41.9m-3 -41.9h6m-6 41.9h6M403.7 113.1v40.3m-3 -40.3h6m-6 40.3h6M378.6 103.7v58.2m-3 -58.2h6m-6 58.2h6M427.9 123.6v28.8m-3 -28.8h6m-6 28.8h6M320.2 92.1v57.6m-3 -57.6h6m-6 57.6h6M618.8 99.9v45m-3 -45h6m-6 45h6M254.5 99.6v57.5m-3 -57.5h6m-6 57.5h6M442.2 105.7v60m-3 -60h6m-6 60h6M406.1 95.3v36.9m-3 -36.9h6m-6 36.9h6M202 130.8v44.8m-3 -44.8h6m-6 44.8h6M187 104.8v49.4m-3 -49.4h6m-6 49.4h6M419.4 104.4v34.9m-3 -34.9h6m-6 34.9h6M328.6 69.4v68.9m-3 -68.9h6m-6 68.9h6M346.9 123.1v25.1m-3 -25.1h6m-6 25.1h6M251.2 120.6v35.1m-3 -35.1h6m-6 35.1h6M562.6 70.7v61.4m-3 -61.4h6m-6 61.4h6M583.3 73.9v53.8m-3 -53.8h6m-6 53.8h6M406.1 119.8v32.6m-3 -32.6h6m-6 32.6h6M153.7 109.8v42m-3 -42h6m-6 42h6M354.4 109.8v18.2m-3 -18.2h6m-6 18.2h6M472.7 116v34.5m-3 -34.5h6m-6 34.5h6M496.3 106.6v23.1m-3 -23.1h6m-6 23.1h6M481.1 97.4v53.5m-3 -53.5h6m-6 53.5h6M292.9 85.5v48.5m-3 -48.5h6m-6 48.5h6M454.5 129.4v24.5m-3 -24.5h6m-6 24.5h6M348.2 99.9v28.4m-3 -28.4h6m-6 28.4h6M215.8 130.6v39.9m-3 -39.9h6m-6 39.9h6M387.5 96.2v31.6m-3 -31.6h6m-6 31.6h6M275 116.3v32.9m-3 -32.9h6m-6 32.9h6M379.8 116.5v36.8m-3 -36.8h6m-6 36.8h6M598.7 96.4v40.5m-3 -40.5h6m-6 40.5h6M513.6 94.3v39.9m-3 -39.9h6m-6 39.9h6M449.9 107v42.7m-3 -42.7h6m-6 42.7h6M514.9 82.2v50.2m-3 -50.2h6m-6 50.2h6M510.6 102.5v36.9m-3 -36.9h6m-6 36.9h6M518.7 84.9v40.1m-3 -40.1h6m-6 40.1h6M445.7 99.4v43.7m-3 -43.7h6m-6 43.7h6M454.5 122.5v60.9m-3 -60.9h6m-6 60.9h6M326.6 101.6v51.2m-3 -51.2h6m-6 51.2h6M162.1 106.7v43m-3 -43h6m-6 43h6M400.4 111.6v16.4m-3 -16.4h6m-6 16.4h6M147.4 125.7v31.3m-3 -31.3h6m-6 31.3h6M372.3 129.8v16.6m-3 -16.6h6m-6 16.6h6M481.7 104.4v29.5m-3 -29.5h6m-6 29.5h6M375.8 124v24.4m-3 -24.4h6m-6 24.4h6M151.7 99.6v29.5m-3 -29.5h6m-6 29.5h6M528.2 82.4v34.6m-3 -34.6h6m-6 34.6h6M106 55.8v53.8m-3 -53.8h6m-6 53.8h6M546.6 72.8v25.3m-3 -25.3h6m-6 25.3h6M586.4 88.2v43.3m-3 -43.3h6m-6 43.3h6M342.7 105.4v53.1m-3 -53.1h6m-6 53.1h6M103.2 68.5v36.1m-3 -36.1h6m-6 36.1h6M347.1 93.2v49.2m-3 -49.2h6m-6 49.2h6"/><path stroke="#008000" d="M504.8 107.9v20.8m-3 -20.8h6m-6 20.8h6M188.2 111.4v40.4m-3 -40.4h6m-6 40.4h6M464.8 109.3v48.8m-3 -48.8h6m-6 48.8h6M471.9 88.9v59.4m-3 -59.4h6m-6 59.4h6M382.4 126.1v36m-3 -36h6m-6 36h6M321.8 80.1v47.1m-3 -47.1h6m-6 47.1h6M186.1 130.6v27.2m-3 -27.2h6m-6 27.2h6M283.1 84.2v55.2m-3 -55.2h6m-6 55.2h6M175.7 134.5v20.4m-3 -20.4h6m-6 20.4h6M267.2 118.3v41.2m-3 -41.2h6m-6 41.2h6M363.1 102v44.3m-3 -44.3h6m-6 44.3h6M315.6 57.7v61.5m-3 -61.5h6m-6 61.5h6M362.1 89.3v42.5m-3 -42.5h6m-6 42.5h6M137.2 101.4v34.4m-3 -34.4h6m-6 34.4h6M262.2 100.2v47.1m-3 -47.1h6m-6 47.1h6M277.3 113.8v24.7m-3 -24.7h6m-6 24.7h6M613.9 61.5v54.1m-3 -54.1h6m-6 54.1h6M256.9 75.7v67.1m-3 -67.1h6m-6 67.1h6M232.4 107.9v53.5m-3 -53.5h6m-6 53.5h6M395 76v39.9m-3 -39.9h6m-6 39.9h6M295.7 87.4v59.9m-3 -59.9h6m-6 59.9h6M568.9 41v51.6m-3 -51.6h6m-6 51.6h6M209.5 83.1v51.4m-3 -51.4h6m-6 51.4h6M189.4 115.9v45.7m-3 -45.7h6m-6 45.7h6M349 122.8v25.2m-3 -25.2h6m-6 25.2h6M214.7 107.4v30.3m-3 -30.3h6m-6 30.3h6M517.8 78.6v39.8m-3 -39.8h6m-6 39.8h6M177.7 107.7v48m-3 -48h6m-6 48h6M361.4 88.2v59.7m-3 -59.7h6m-6 59.7h6M249.2 83.8v66m-3 -66h6m-6 66h6M138.6 47.3v69.2m-3 -69.2h6m-6 69.2h6M503.1 105.3v29.6m-3 -29.6h6m-6 29.6h6M606.3 98.8v40.6m-3 -40.6h6m-6 40.6h6M299.5 53.9v70m-3 -70h6m-6 70h6M613.8 63.4v42.6m-3 -42.6h6m-6 42.6h6M545.6 71.9v55.1m-3 -55.1h6m-6 55.1h6M282.2 94.9v50.9m-3 -50.9h6m-6 50.9h6M436.5 100.4v28.5m-3 -28.5h6m-6 28.5h6M439.5 110.7v40.7m-3 -40.7h6m-6 40.7h6M320.3 83.2v59.5m-3 -59.5h6m-6 59.5h6M300.8 78.8v32.8m-3 -32.8h6m-6 32.8h6M547.9 81.2v47.1m-3 -47.1h6m-6 47.1h6M357 104.6v36.3m-3 -36.3h6m-6 36.3h6M376.9 111.8v45.2m-3 -45.2h6m-6 45.2h6M589.9 61.6v45.8m-3 -45.8h6m-6 45.8h6"/><path stroke="#800080" d="M330.1 93.1v55.3m-3 -55.3h6m-6 55.3h6M416.2 109.1v38.4m-3 -38.4h6m-6 38.4h6M122 55.5v63.2m-3 -63.2h6m-6 63.2h6M472.3 103.3v54.8m-3 -54.8h6m-6 54.8h6M355 116.7v40.9m-3 -40.9h6m-6 40.9h6M438 105.7v48.8m-3 -48.8h6m-6 48.8h6M361 99v37.8m-3 -37.8h6m-6 37.8h6M157.7 106.4v21.5m-3 -21.5h6m-6 21.5h6M315.2 107.6v33.6m-3 -33.6h6m-6 33.6h6M485.4 98.6v56.7m-3 -56.7h6m-6 56.7h6M304.1 106.3v35.7m-3 -35.7h6m-6 35.7h6M609.3 107.9v38.4m-3 -38.4h6m-6 38.4h6M517.4 87.8v40.4m-3 -40.4h6m-6 40.4h6M227.1 115.4v46.2m-3 -46.2h6m-6 46.2h6M121.8 91.6v50.5m-3 -50.5h6m-6 50.5h6M128.3 70.4v59.6m-3 -59.6h6m-6 59.6h6M574.5 82.9v49.2m-3 -49.2h6m-6 49.2h6M604.1 100.7v47.8m-3 -47.8h6m-6 47.8h6M492.3 127.6v20.9m-3 -20.9h6m-6 20.9h6M616.6 113.1v41.5m-3 -41.5h6m-6 41.5h6M162.6 112.8v38.7m-3 -38.7h6m-6 38.7h6M270.8 96.7v29.6m-3 -29.6h6m-6 29.6h6M357.8 97.6v58.7m-3 -58.7h6m-6 58.7h6M334.3 127.1v18.8m-3 -18.8h6m-6 18.8h6M437.1 93.6v77.6m-3 -77.6h6m-6 77.6h6M174.8 121.6v39.7m-3 -39.7h6m-6 39.7h6M239 132.3v34.5m-3 -34.5h6m-6 34.5h6M427.9 94.1v56.3m-3 -56.3h6m-6 56.3h6M181.6 116.2v47.8m-3 -47.8h6m-6 47.8h6M412.6 88.8v91.6m-3 -91.6h6m-6 91.6h6M150.4 117.5v46.4m-3 -46.4h6m-6 46.4h6M533.1 93.4v37.6m-3 -37.6h6m-6 37.6h6M447 99v65.9m-3 -65.9h6m-6 65.9h6M148.6 93.3v20.2m-3 -20.2h6m-6 20.2h6M242.7 119.7v39.9m-3 -39.9h6m-6 39.9h6M315.7 118.2v20.2m-3 -20.2h6m-6 20.2h6M192.2 120.9v36.7m-3 -36.7h6m-6 36.7h6M560.3 65.6v51.7m-3 -51.7h6m-6 51.7h6M190.2 103.1v28.6m-3 -28.6h6m-6 28.6h6M520.9 76.9v29.1m-3 -29.1h6m-6 29.1h6"/><path stroke="#008080" d="M274.4 98.7v32.3m-3 -32.3h6m-6 32.3h6M334.9 87.6v47.4m-3 -47.4h6m-6 47.4h6M181.2 102.3v61.1m-3 -61.1h6m-6 61.1h6M244.6 115.1v21.9m-3 -21.9h6m-6 21.9h6M234.5 106.2v44.7m-3 -44.7h6m-6 44.7h6M207.1 125.4v18.1m-3 -18.1h6m-6 18.1h6M128.1 134.3v25.4m-3 -25.4h6m-6 25.4h6M270.2 126.6v23.7m-3 -23.7h6m-6 23.7h6M580.9 97.1v29.2m-3 -29.2h6m-6 29.2h6M270.1 106.9v33.4m-3 -33.4h6m-6 33.4h6M334.3 103.1v21.1m-3 -21.1h6m-6 21.1h6M329.2 111.3v30.4m-3 -30.4h6m-6 30.4h6M198.1 144.6v26.1m-3 -26.1h6m-6 26.1h6M489 99.7v39.7m-3 -39.7h6m-6 39.7h6M399.4 103.8v44m-3 -44h6m-6 44h6M477.5 101.9v38.8m-3 -38.8h6m-6 38.8h6M139.7 101.4v46.3m-3 -46.3h6m-6 46.3h6M117.5 108.4v44.8m-3 -44.8h6m-6 44.8h6M579.8 66.1v79.9m-3 -79.9h6m-6 79.9h6"/><path stroke="#000" d="M613.1 102.3v36.6m-3 -36.6h6m-6 36.6h6M144.2 131.1v29.9m-3 -29.9h6m-6 29.9h6M617.7 99.8v37.3m-3 -37.3h6m-6 37.3h6M377.9 91.7v28.4m-3 -28.4h6m-6 28.4h6M108.2 61.4v73m-3 -73h6m-6 73h6M350 87.9v30.3m-3 -30.3h6m-6 30.3h6M262.8 106.3v36.2m-3 -36.2h6m-6 36.2h6M264.9 114.7v16.8m-3 -16.8h6m-6 16.8h6M272.1 112.2v42.7m-3 -42.7h6m-6 42.7h6M103.9 69.1v17m-3 -17h6m-6 17h6M317.8 98.8v24.3m-3 -24.3h6m-6 24.3h6M163.4 101v22.7m-3 -22.7h6m-6 22.7h6M420.7 139.8v20.3m-3 -20.3h6m-6 20.3h6M492.9 107.5v46.8m-3 -46.8h6m-6 46.8h6M459.9 111.5v38.6m-3 -38.6h6m-6 38.6h6M516.1 94.2v28.7m-3 -28.7h6m-6 28.7h6M111.3 67.9v30.6m-3 -30.6h6m-6 30.6h6M526.1 83.5v44m-3 -44h6m-6 44h6M500.2 91v42.2m-3 -42.2h6m-6 42.2h6M497.7 117.7v27.6m-3 -27.6h6m-6 27.6h6M177.3 115.7v20.8m-3 -20.8h6m-6 20.8h6M365 110.3v26.3m-3 -26.3h6m-6 26.3h6M203.9 110v40.5m-3 -40.5h6m-6 40.5h6M197.3 118.1v42.5m-3 -42.5h6m-6 42.5h6M239 124.8v16.9m-3 -16.9h6m-6 16.9h6M597.1 89.7v28.4m-3 -28.4h6m-6 28.4h6M272.9 105.2v20.2m-3 -20.2h6m-6 20.2h6M481.7 123.9v36m-3 -36h6m-6 36h6M355.6 114.2v39.5m-3 -39.5h6m-6 39.5h6M186.7 106.2v29.8m-3 -29.8h6m-6 29.8h6M149.2 103.5v30.8m-3 -30.8h6m-6 30.8h6M159.3 102.1v27.2m-3 -27.2h6m-6 27.2h6M386.8 119.8v35.3m-3 -35.3h6m-6 35.3h6"/><path stroke="#00f" d="M368.1 87.4v28.5m-3 -28.5h6m-6 28.5h6M296.4 95.6v42.4m-3 -42.4h6m-6 42.4h6M118.8 62.6v31.2m-3 -31.2h6m-6 31.2h6M353.1 108v23.1m-3 -23.1h6m-6 23.1h6M274.6 117.1v33.9m-3 -33.9h6m-6 33.9h6M530.7 103.8v21.1m-3 -21.1h6m-6 21.1h6M386.4 86.6v12.6m-3 -12.6h6m-6 12.6h6M132.9 82.2v25.2m-3 -25.2h6m-6 25.2h6M614.7 100.9v20.5m-3 -20.5h6m-6 20.5h6M209.2 137.6v29.2m-3 -29.2h6m-6 29.2h6M554.3 59.6v27.6m-3 -27.6h6m-6 27.6h6M579.8 70.1v28.4m-3 -28.4h6m-6 28.4h6M200.1 131.1v24.3m-3 -24.3h6m-6 24.3h6M127.7 62.2v71.1m-3 -71.1h6m-6 71.1h6M497.7 68.5v43.4m-3 -43.4h6m-6 43.4h6M612.5 79.1v13.2m-3 -13.2h6m-6 13.2h6M125.8 110.9v23.6m-3 -23.6h6m-6 23.6h6M345.9 124.7v25.1m-3 -25.1h6m-6 25.1h6M463.9 111.4v22.7m-3 -22.7h6m-6 22.7h6M173.4 98.3v40.3m-3 -40.3h6m-6 40.3h6M107.6 89.2v42.1m-3 -42.1h6m-6 42.1h6M616.4 97.7v55.2m-3 -55.2h6m-6 55.2h6M319.6 85.4v30.6m-3 -30.6h6m-6 30.6h6M319.3 97.3v40.3m-3 -40.3h6m-6 40.3h6M357.7 67.3v60.5m-3 -60.5h6m-6 60.5h6M229.4 115.6v48m-3 -48h6m-6 48h6M291.7 110.8v39.9m-3 -39.9h6m-6 39.9h6M613.2 103v14.2m-3 -14.2h6m-6 14.2h6M612.4 86v47.3m-3 -47.3h6m-6 47.3h6M575.6 45.9v42.4m-3 -42.4h6m-6 42.4h6M433.5 107.4v55.9m-3 -55.9h6m-6 55.9h6M471.3 122.1v23.4m-3 -23.4h6m-6 23.4h6M451.6 122.7v34.5m-3 -34.5h6m-6 34.5h6M232.8 111.6v45.7m-3 -45.7h6m-6 45.7h6M266 97.4v21.1m-3 -21.1h6m-6 21.1h6M525.9 83.6v14m-3 -14h6m-6 14h6M371.5 103.1v15.2m-3 -15.2h6m-6 15.2h6M405 100.3v33.2m-3 -33.2h6m-6 33.2h6M199.8 121.7v53.4m-3 -53.4h6m-6 53.4h6M229.6 138.9v12.9m-3 -12.9h6m-6 12.9h6M389.5 119.2v28.2m-3 -28.2h6m-6 28.2h6M454.8 117.6v37.9m-3 -37.9h6m-6 37.9h6M532.8 86.9v40.4m-3 -40.4h6m-6 40.4h6M583.9 53.2v36.5m-3 -36.5h6m-6 36.5h6M130.9 118v39.4m-3 -39.4h6m-6 39.4h6M551.5 77.3v28.4m-3 -28.4h6m-6 28.4h6M440.8 89v65.7m-3 -65.7h6m-6 65.7h6M109.4 68.2v31.3m-3 -31.3h6m-6 31.3h6M191.3 124.4v20.5m-3 -20.5h6m-6 20.5h6M159.4 124.8v29.2m-3 -29.2h6m-6 29.2h6M341.7 82.5v18.3m-3 -18.3h6m-6 18.3h6M521.4 93v37.4m-3 -37.4h6m-6 37.4h6M117.9 89.5v28.2m-3 -28.2h6m-6 28.2h6"/><path stroke="#808080" d="M217.8 122.7v42m-3 -42h6m-6 42h6M443.9 99.1v30.1m-3 -30.1h6m-6 30.1h6M611.5 119.8v32.3m-3 -32.3h6m-6 32.3h6M408.2 128.3v34.7m-3 -34.7h6m-6 34.7h6"/><path stroke="#00f" d="M234.9 122v37.3m-3 -37.3h6m-6 37.3h6M235 109.1v48.9m-3 -48.9h6m-6 48.9h6M122.2 95.3v52.8m-3 -52.8h6m-6 52.8h6M278.1 108.4v48.2m-3 -48.2h6m-6 48.2h6M617.5 88.6v43.4m-3 -43.4h6m-6 43.4h6M611.3 103.3v49m-3 -49h6m-6 49h6M272.9 65.3v41.8m-3 -41.8h6m-6 41.8h6M483.5 118.8v38.3m-3 -38.3h6m-6 38.3h6M429.2 92.6v48.2m-3 -48.2h6m-6 48.2h6M431.8 112.5v26.8m-3 -26.8h6m-6 26.8h6M448.8 110.6v55.5m-3 -55.5h6m-6 55.5h6M462.6 119.6v39.5m-3 -39.5h6m-6 39.5h6M272.3 126.7v22m-3 -22h6m-6 22h6M543.4 65.8v41.9m-3 -41.9h6m-6 41.9h6M363.4 84.5v50.1m-3 -50.1h6m-6 50.1h6M537.8 67.7v37.1m-3 -37.1h6m-6 37.1h6M541 50.5v39m-3 -39h6m-6 39h6M258.7 109.4v25.1m-3 -25.1h6m-6 25.1h6M157.8 104.9v55.4m-3 -55.4h6m-6 55.4h6M174.7 114.2v25.5m-3 -25.5h6m-6 25.5h6M296.4 104.3v45.1m-3 -45.1h6m-6 45.1h6M450.8 98.6v48.8m-3 -48.8h6m-6 48.8h6M445.1 115.5v49.1m-3 -49.1h6m-6 49.1h6M576.8 92.4v21.2m-3 -21.2h6m-6 21.2h6M126.1 91.8v26m-3 -26h6m-6 26h6M592.1 97.2v38.7m-3 -38.7h6m-6 38.7h6M297.2 75.9v16m-3 -16h6m-6 16h6M159.4 81.3v75.5m-3 -75.5h6m-6 75.5h6M348.8 115.2v37.4m-3 -37.4h6m-6 37.4h6M129.9 67.1v21.9m-3 -21.9h6m-6 21.9h6M244.8 123.8v21.7m-3 -21.7h6m-6 21.7h6M417.5 107.3v50.5m-3 -50.5h6m-6 50.5h6M470 104.8v64.5m-3 -64.5h6m-6 64.5h6M336.2 69v22.5m-3 -22.5h6m-6 22.5h6M378.4 100.5v20.8m-3 -20.8h6m-6 20.8h6M156.4 126.7v20.7m-3 -20.7h6m-6 20.7h6M136.4 74.6v24m-3 -24h6m-6 24h6M224.7 95.1v37m-3 -37h6m-6 37h6M379.1 104.7v23.8m-3 -23.8h6m-6 23.8h6M527.4 54.9v33.7m-3 -33.7h6m-6 33.7h6M432 106.2v37.9m-3 -37.9h6m-6 37.9h6M518.7 73v30.2m-3 -30.2h6m-6 30.2h6M305.5 72v18.6m-3 -18.6h6m-6 18.6h6M581.4 90.2v41.7m-3 -41.7h6m-6 41.7h6M535.9 75.2v42.3m-3 -42.3h6m-6 42.3h6M607.3 94.1v26.2m-3 -26.2h6m-6 26.2h6M158 79.1v35.5m-3 -35.5h6m-6 35.5h6M516.1 61.5v24.6m-3 -24.6h6m-6 24.6h6M200.5 103.3v39.6m-3 -39.6h6m-6 39.6h6M223.1 138.9v30.8m-3 -30.8h6m-6 30.8h6M200.7 128.5v34.8m-3 -34.8h6m-6 34.8h6M268.9 85.4v41.5m-3 -41.5h6m-6 41.5h6M328.6 103.3v32.9m-3 -32.9h6m-6 32.9h6M294.8 96.2v55m-3 -55h6m-6 55h6M146.6 119.7v24m-3 -24h6m-6 24h6M140.4 87.4v54.9m-3 -54.9h6m-6 54.9h6M597.1 74.1v50.6m-3 -50.6h6m-6 50.6h6"/><path stroke="#000" d="M580.5 98.8v18.5m-3 -18.5h6m-6 18.5h6M204.7 135.5v36.6m-3 -36.6h6m-6 36.6h6M246.5 112.3v19.9m-3 -19.9h6m-6 19.9h6M613.5 109.9v41.9m-3 -41.9h6m-6 41.9h6M400.5 123v26.9m-3 -26.9h6m-6 26.9h6M604.1 92.2v40.9m-3 -40.9h6m-6 40.9h6M183.9 110.6v43.1m-3 -43.1h6m-6 43.1h6M262.9 122.8v29.5m-3 -29.5h6m-6 29.5h6M397.7 99.4v41.9m-3 -41.9h6m-6 41.9h6M499.8 92.4v16.2m-3 -16.2h6m-6 16.2h6M439.1 113.6v37.4m-3 -37.4h6m-6 37.4h6M391.6 106.2v46.2m-3 -46.2h6m-6 46.2h6M395.5 102v44.1m-3 -44.1h6m-6 44.1h6M296.5 96.2v28.6m-3 -28.6h6m-6 28.6h6M324.5 85.2v43.5m-3 -43.5h6m-6 43.5h6M270.7 111.8v23.4m-3 -23.4h6m-6 23.4h6M352.6 121.3v19.4m-3 -19.4h6m-6 19.4h6M345 81.4v27.6m-3 -27.6h6m-6 27.6h6M495.9 108v40.3m-3 -40.3h6m-6 40.3h6M111.3 125.5v22.1m-3 -22.1h6m-6 22.1h6M298.5 93.3v47.6m-3 -47.6h6m-6 47.6h6M140.5 131.8v27.7m-3 -27.7h6m-6 27.7h6M120.5 98.3v22.3m-3 -22.3h6m-6 22.3h6M580.6 71.3v34.7m-3 -34.7h6m-6 34.7h6M526.1 69v25.1m-3 -25.1h6m-6 25.1h6M542.5 77.7v26.6m-3 -26.6h6m-6 26.6h6M530.5 81v43m-3 -43h6m-6 43h6M257.8 113.6v43.1m-3 -43.1h6m-6 43.1h6M457.8 118.9v27.6m-3 -27.6h6m-6 27.6h6M350.4 87.7v20m-3 -20h6m-6 20h6M330.6 85.6v29.9m-3 -29.9h6m-6 29.9h6M165.9 105.2v37.6m-3 -37.6h6m-6 37.6h6M263.2 116.1v16m-3 -16h6m-6 16h6M525.4 75v20.8m-3 -20.8h6m-6 20.8h6M181.9 121.4v41.5m-3 -41.5h6m-6 41.5h6M329.4 123.2v30.9m-3 -30.9h6m-6 30.9h6M592.4 68.1v26.4m-3 -26.4h6m-6 26.4h6M419.1 134.5v25.5m-3 -25.5h6m-6 25.5h6M207.1 124.7v21.3m-3 -21.3h6m-6 21.3h6M556 72.3v37.8m-3 -37.8h6m-6 37.8h6M585.9 87.5v38.9m-3 -38.9h6m-6 38.9h6M316.7 103.7v27.2m-3 -27.2h6m-6 27.2h6M374.4 123v21.3m-3 -21.3h6m-6 21.3h6M197.3 123.4v29.4m-3 -29.4h6m-6 29.4h6M616.2 99.9v41.5m-3 -41.5h6m-6 41.5h6"/><path stroke="#800000" d="M563.6 85.8v41.1m-3 -41.1h6m-6 41.1h6M289.6 102.6v18.8m-3 -18.8h6m-6 18.8h6M216.2 112.1v40.9m-3 -40.9h6m-6 40.9h6M616.4 114.9v37.1m-3 -37.1h6m-6 37.1h6M414.9 120.4v28.3m-3 -28.3h6m-6 28.3h6M199 123.8v44.7m-3 -44.7h6m-6 44.7h6M449.1 116v18.1m-3 -18.1h6m-6 18.1h6M263.8 101.1v42.5m-3 -42.5h6m-6 42.5h6M135.6 110.8v41.4m-3 -41.4h6m-6 41.4h6M521 62.1v81.9m-3 -81.9h6m-6 81.9h6M332.3 101.1v47m-3 -47h6m-6 47h6M609.9 88.4v40.6m-3 -40.6h6m-6 40.6h6M148.3 116v39.4m-3 -39.4h6m-6 39.4h6M145.5 91.7v21m-3 -21h6m-6 21h6M392.7 112.9v26.2m-3 -26.2h6m-6 26.2h6M343.1 96.9v33.7m-3 -33.7h6m-6 33.7h6M568.1 75.6v47.5m-3 -47.5h6m-6 47.5h6M558.6 73.6v46.9m-3 -46.9h6m-6 46.9h6M161.6 134v33.1m-3 -33.1h6m-6 33.1h6M106.9 108v41.6m-3 -41.6h6m-6 41.6h6M289.2 100.6v58.7m-3 -58.7h6m-6 58.7h6M606.6 94.3v38.3m-3 -38.3h6m-6 38.3h6M386.5 126.7v28.3m-3 -28.3h6m-6 28.3h6M239.3 123.5v19.4m-3 -19.4h6m-6 19.4h6M550.5 90.8v36.7m-3 -36.7h6m-6 36.7h6M395.2 104.7v41.2m-3 -41.2h6m-6 41.2h6M322.4 136v18.9m-3 -18.9h6m-6 18.9h6M282 103.1v47.2m-3 -47.2h6m-6 47.2h6M601.5 85.2v40.5m-3 -40.5h6m-6 40.5h6M269.7 107.4v31.3m-3 -31.3h6m-6 31.3h6M303.3 82.8v44.1m-3 -44.1h6m-6 44.1h6M555.4 79v46.6m-3 -46.6h6m-6 46.6h6M347.4 83.9v29.1m-3 -29.1h6m-6 29.1h6M307.1 122.5v25.5m-3 -25.5h6m-6 25.5h6M191.1 136.5v32.3m-3 -32.3h6m-6 32.3h6M436.9 132.1v28.5m-3 -28.5h6m-6 28.5h6M541.1 72.9v16.6m-3 -16.6h6m-6 16.6h6M271.8 113.7v44.9m-3 -44.9h6m-6 44.9h6M283.6 94.3v19.8m-3 -19.8h6m-6 19.8h6M220 138.5v34.1m-3 -34.1h6m-6 34.1h6M196.6 122.9v42.2m-3 -42.2h6m-6 42.2h6M172.9 122.1v47.8m-3 -47.8h6m-6 47.8h6M583.7 90.9v26.3m-3 -26.3h6m-6 26.3h6M380.6 94.9v29.3m-3 -29.3h6m-6 29.3h6M477.1 112.2v44.3m-3 -44.3h6m-6 44.3h6M558.5 79v44.8m-3 -44.8h6m-6 44.8h6M463.8 103.2v44.8m-3 -44.8h6m-6 44.8h6M160.3 115.5v43m-3 -43h6m-6 43h6M349.6 114.2v18.4m-3 -18.4h6m-6 18.4h6"/><path stroke="#008000" d="M531.4 53v63.7m-3 -63.7h6m-6 63.7h6M605.6 78.9v57.5m-3 -57.5h6m-6 57.5h6M116.4 77.2v38.3m-3 -38.3h6m-6 38.3h6M488.4 99.2v49.3m-3 -49.3h6m-6 49.3h6M194.5 105.4v59.9m-3 -59.9h6m-6 59.9h6M257.1 79v52.9m-3 -52.9h6m-6 52.9h6M228.8 132.9v46.4m-3 -46.4h6m-6 46.4h6M483.5 66.2v59.2m-3 -59.2h6m-6 59.2h6M197.4 113.5v57m-3 -57h6m-6 57h6M178.7 92.6v46.9m-3 -46.9h6m-6 46.9h6M522.8 57.7v48.7m-3 -48.7h6m-6 48.7h6M568.3 47.5v68m-3 -68h6m-6 68h6M165.1 113.4v37.7m-3 -37.7h6m-6 37.7h6M221 149.1v26.3m-3 -26.3h6m-6 26.3h6M431.9 89.4v47.3m-3 -47.3h6m-6 47.3h6M413.2 113.6v42m-3 -42h6m-6 42h6M271.1 113.5v50.1m-3 -50.1h6m-6 50.1h6M238 119.6v37.5m-3 -37.5h6m-6 37.5h6M176.8 131.3v36.3m-3 -36.3h6m-6 36.3h6M263.7 73.2v92.1m-3 -92.1h6m-6 92.1h6M246.3 108.8v45.6m-3 -45.6h6m-6 45.6h6M426.8 112v53.9m-3 -53.9h6m-6 53.9h6M275.6 95.5v29.2m-3 -29.2h6m-6 29.2h6M369.7 113.8v47.2m-3 -47.2h6m-6 47.2h6M334.1 84.2v56.6m-3 -56.6h6m-6 56.6h6M512.9 82.3v45.7m-3 -45.7h6m-6 45.7h6M339.6 96.2v54.3m-3 -54.3h6m-6 54.3h6M484 106.3v48.2m-3 -48.2h6m-6 48.2h6M485.1 96.2v40m-3 -40h6m-6 40h6M422.5 83.8v54.9m-3 -54.9h6m-6 54.9h6M133.5 59.9v90.2m-3 -90.2h6m-6 90.2h6M405.4 79.8v67.1m-3 -67.1h6m-6 67.1h6M297.9 43.7v99.6m-3 -99.6h6m-6 99.6h6M343.8 86.9v44.8m-3 -44.8h6m-6 44.8h6M573.7 72.8v52.2m-3 -52.2h6m-6 52.2h6M418.1 75.5v66.1m-3 -66.1h6m-6 66.1h6M340 101.5v44.8m-3 -44.8h6m-6 44.8h6M200.8 82.5v52.6m-3 -52.6h6m-6 52.6h6"/><path stroke="#008080" d="M551.8 79v52.5m-3 -52.5h6m-6 52.5h6M514 94.2v37.9m-3 -37.9h6m-6 37.9h6M199.8 117.2v30.9m-3 -30.9h6m-6 30.9h6M150.6 100.1v32.5m-3 -32.5h6m-6 32.5h6M462.5 141v20.3m-3 -20.3h6m-6 20.3h6M485.1 116.9v23.3m-3 -23.3h6m-6 23.3h6M367.2 94.1v22.1m-3 -22.1h6m-6 22.1h6M441.6 118v25.9m-3 -25.9h6m-6 25.9h6M262.1 114.1v39.3m-3 -39.3h6m-6 39.3h6M476.8 143.1v16.6m-3 -16.6h6m-6 16.6h6M254.6 98.8v59.4m-3 -59.4h6m-6 59.4h6M339.9 133.8v20.3m-3 -20.3h6m-6 20.3h6M299.6 97v40.5m-3 -40.5h6m-6 40.5h6M108.3 103.8v45.1m-3 -45.1h6m-6 45.1h6M317 92.5v42.9m-3 -42.9h6m-6 42.9h6M494 106.9v16.5m-3 -16.5h6m-6 16.5h6M458.6 129.1v21.2m-3 -21.2h6m-6 21.2h6M573.6 90.7v31.1m-3 -31.1h6m-6 31.1h6M309.9 128.5v18.7m-3 -18.7h6m-6 18.7h6M229.9 119.5v35.4m-3 -35.4h6m-6 35.4h6M150.1 108.2v43.8m-3 -43.8h6m-6 43.8h6M369.7 119.1v35.6m-3 -35.6h6m-6 35.6h6M372.2 115.1v45.4m-3 -45.4h6m-6 45.4h6"/><path stroke="#000080" d="M418.3 99.3v31.2m-3 -31.2h6m-6 31.2h6M578 81.8v21.2m-3 -21.2h6m-6 21.2h6M204.1 100.4v18.9m-3 -18.9h6m-6 18.9h6M560.9 70.1v32.7m-3 -32.7h6m-6 32.7h6M589.7 71.4v29.2m-3 -29.2h6m-6 29.2h6M221 120.6v43m-3 -43h6m-6 43h6M366.4 65.9v50.4m-3 -50.4h6m-6 50.4h6M547.8 95.5v36m-3 -36h6m-6 36h6M594.8 88.9v50.7m-3 -50.7h6m-6 50.7h6M441.5 130.8v16.9m-3 -16.9h6m-6 16.9h6M555.8 70.1v17.4m-3 -17.4h6m-6 17.4h6M393.3 108.6v30.1m-3 -30.1h6m-6 30.1h6M604.1 101.6v44.7m-3 -44.7h6m-6 44.7h6M284.8 96.5v25.5m-3 -25.5h6m-6 25.5h6M371.9 90.8v43.6m-3 -43.6h6m-6 43.6h6M123.4 72.4v25.9m-3 -25.9h6m-6 25.9h6M135.2 92.3v23.4m-3 -23.4h6m-6 23.4h6M364.1 78.1v24m-3 -24h6m-6 24h6M387.3 74.6v45.3m-3 -45.3h6m-6 45.3h6M329 111.6v34.2m-3 -34.2h6m-6 34.2h6M283.5 105.1v43.5m-3 -43.5h6m-6 43.5h6M488.5 112.9v24.4m-3 -24.4h6m-6 24.4h6M417.6 125.7v34.3m-3 -34.3h6m-6 34.3h6M104 64.7v44.8m-3 -44.8h6m-6 44.8h6M123 60.4v17.4m-3 -17.4h6m-6 17.4h6M283 91.8v51.3m-3 -51.3h6m-6 51.3h6M372.5 115.8v45.5m-3 -45.5h6m-6 45.5h6M103 89.5v35.2m-3 -35.2h6m-6 35.2h6M465.7 124.9v33.2m-3 -33.2h6m-6 33.2h6M280.3 66.5v49m-3 -49h6m-6 49h6"/><path stroke="#800080" d="M191.2 103.6v36.5m-3 -36.5h6m-6 36.5h6M163.3 107.5v31.9m-3 -31.9h6m-6 31.9h6M245 143.7v22.8m-3 -22.8h6m-6 22.8h6M584.9 77.4v25.3m-3 -25.3h6m-6 25.3h6M125.7 105.3v23.4m-3 -23.4h6m-6 23.4h6M433.9 109.5v40.3m-3 -40.3h6m-6 40.3h6M400.6 122.4v24.7m-3 -24.7h6m-6 24.7h6M236.9 106.7v46.1m-3 -46.1h6m-6 46.1h6M392.3 131.4v17m-3 -17h6m-6 17h6M491.6 90.6v58.9m-3 -58.9h6m-6 58.9h6M539.8 82.5v31.5m-3 -31.5h6m-6 31.5h6M560.8 83v27.8m-3 -27.8h6m-6 27.8h6M586.5 95.9v24.6m-3 -24.6h6m-6 24.6h6M248 115.5v35.2m-3 -35.2h6m-6 35.2h6M471.6 98.1v49.6m-3 -49.6h6m-6 49.6h6M319.5 90.8v49m-3 -49h6m-6 49h6M539.9 71.4v29m-3 -29h6m-6 29h6M516.8 75.6v50.1m-3 -50.1h6m-6 50.1h6M499.1 107.3v24.9m-3 -24.9h6m-6 24.9h6M232.8 142.7v20.9m-3 -20.9h6m-6 20.9h6M255.5 113.7v24.1m-3 -24.1h6m-6 24.1h6M289.4 89.5v51.6m-3 -51.6h6m-6 51.6h6M566.4 79.9v71.2m-3 -71.2h6m-6 71.2h6M462.6 110.4v37.3m-3 -37.3h6m-6 37.3h6M574 79.2v30.8m-3 -30.8h6m-6 30.8h6M509.4 87.2v50m-3 -50h6m-6 50h6M432.5 100.1v53.6m-3 -53.6h6m-6 53.6h6M246.3 119.7v40.8m-3 -40.8h6m-6 40.8h6M541.4 97.4v28.7m-3 -28.7h6m-6 28.7h6M604.7 87v53.7m-3 -53.7h6m-6 53.7h6M329.3 112.5v21.9m-3 -21.9h6m-6 21.9h6M286.4 116.9v32m-3 -32h6m-6 32h6M543 62.9v54.5m-3 -54.5h6m-6 54.5h6M548.6 77.7v47.2m-3 -47.2h6m-6 47.2h6M313.8 93.4v18.7m-3 -18.7h6m-6 18.7h6M145.1 96.3v47.3m-3 -47.3h6m-6 47.3h6M584.5 79.4v27.2m-3 -27.2h6m-6 27.2h6M345.1 90.8v38.8m-3 -38.8h6m-6 38.8h6"/><path stroke="#f00" d="M365 102.5v51.5m-3 -51.5h6m-6 51.5h6M575.8 78.9v45.6m-3 -45.6h6m-6 45.6h6M157.2 121.9v30.9m-3 -30.9h6m-6 30.9h6M422.9 117.5v36.1m-3 -36.1h6m-6 36.1h6M495.3 115.3v23.8m-3 -23.8h6m-6 23.8h6M223.4 130.4v34.5m-3 -34.5h6m-6 34.5h6M439.9 110.6v37.8m-3 -37.8h6m-6 37.8h6M423.5 100.3v38.4m-3 -38.4h6m-6 38.4h6M284.8 84.6v56.5m-3 -56.5h6m-6 56.5h6M456.9 128.1v24.2m-3 -24.2h6m-6 24.2h6M553.7 87v17.8m-3 -17.8h6m-6 17.8h6M485.3 108.2v45.6m-3 -45.6h6m-6 45.6h6M357.3 107.7v34m-3 -34h6m-6 34h6M484 100.5v39.2m-3 -39.2h6m-6 39.2h6M455.2 104.9v53.5m-3 -53.5h6m-6 53.5h6M412 109.8v51.4m-3 -51.4h6m-6 51.4h6M215.6 120.9v47.9m-3 -47.9h6m-6 47.9h6M198.4 108.5v58.9m-3 -58.9h6m-6 58.9h6M115.1 99v28m-3 -28h6m-6 28h6M329.9 106.8v28.5m-3 -28.5h6m-6 28.5h6M620.2 92.1v34.6m-3 -34.6h6m-6 34.6h6M155 112.3v37.3m-3 -37.3h6m-6 37.3h6M325.6 87.9v47.6m-3 -47.6h6m-6 47.6h6M155.7 89.7v60.9m-3 -60.9h6m-6 60.9h6M206.9 113.4v56.4m-3 -56.4h6m-6 56.4h6M391.9 111.9v38.6m-3 -38.6h6m-6 38.6h6M433.5 109.3v56.7m-3 -56.7h6m-6 56.7h6M579.2 101.9v31.7m-3 -31.7h6m-6 31.7h6M118.8 87.7v62.5m-3 -62.5h6m-6 62.5h6M217.8 110.2v43.7m-3 -43.7h6m-6 43.7h6M268.2 129.8v29.3m-3 -29.3h6m-6 29.3h6M182.9 113.5v56.1m-3 -56.1h6m-6 56.1h6M167 110.7v51m-3 -51h6m-6 51h6M446.2 112.2v30.6m-3 -30.6h6m-6 30.6h6M472.3 100.6v46m-3 -46h6m-6 46h6M151.8 123.8v37.9m-3 -37.9h6m-6 37.9h6M597.3 97.3v40.5m-3 -40.5h6m-6 40.5h6M241.7 127.4v43.9m-3 -43.9h6m-6 43.9h6M486.5 117.8v36.2m-3 -36.2h6m-6 36.2h6M579.9 77.3v43.5m-3 -43.5h6m-6 43.5h6M464.8 109.7v24.8m-3 -24.8h6m-6 24.8h6M251.6 99.9v33.7m-3 -33.7h6m-6 33.7h6M561.1 73.5v26.3m-3 -26.3h6m-6 26.3h6M329.8 87.6v49.3m-3 -49.3h6m-6 49.3h6M385.3 114.8v40.6m-3 -40.6h6m-6 40.6h6M250.2 126.3v25.8m-3 -25.8h6m-6 25.8h6M182 117.1v35.5m-3 -35.5h6m-6 35.5h6M549.2 80.2v37.1m-3 -37.1h6m-6 37.1h6M327.4 103v30.1m-3 -30.1h6m-6 30.1h6M573.6 65.5v36.4m-3 -36.4h6m-6 36.4h6M505.6 85.7v19.3m-3 -19.3h6m-6 19.3h6M355.7 107.8v33.5m-3 -33.5h6m-6 33.5h6M616.7 118.3v17.5m-3 -17.5h6m-6 17.5h6M448 125.1v31.9m-3 -31.9h6m-6 31.9h6M333.1 95.8v48m-3 -48h6m-6 48h6M269.1 121.3v16.1m-3 -16.1h6m-6 16.1h6M603.2 94.2v45.7m-3 -45.7h6m-6 45.7h6M551 75.5v45.3m-3 -45.3h6m-6 45.3h6"/><path stroke="#000" d="M326.1 86.9v21.8m-3 -21.8h6m-6 21.8h6M383.5 118.1v46.5m-3 -46.5h6m-6 46.5h6M393.5 111.9v37.3m-3 -37.3h6m-6 37.3h6M435.3 131.4v24.4m-3 -24.4h6m-6 24.4h6M241.3 136.8v29.1m-3 -29.1h6m-6 29.1h6M162.4 122.4v34.7m-3 -34.7h6m-6 34.7h6M442.4 118.6v24m-3 -24h6m-6 24h6M199.1 141v25.9m-3 -25.9h6m-6 25.9h6M396.8 97.2v33.9m-3 -33.9h6m-6 33.9h6M476.6 124.5v17.4m-3 -17.4h6m-6 17.4h6M266.3 114.2v35.5m-3 -35.5h6m-6 35.5h6M328.6 116v21m-3 -21h6m-6 21h6M367.9 104.2v53.5m-3 -53.5h6m-6 53.5h6M240.6 116.7v40.7m-3 -40.7h6m-6 40.7h6M503.7 80.2v42.2m-3 -42.2h6m-6 42.2h6M295 119v35.4m-3 -35.4h6m-6 35.4h6M204.4 110.3v46.8m-3 -46.8h6m-6 46.8h6M550.8 78.2v18.2m-3 -18.2h6m-6 18.2h6M192.1 129.2v30.7m-3 -30.7h6m-6 30.7h6M143.6 114.1v42.4m-3 -42.4h6m-6 42.4h6M571 105.6v24.8m-3 -24.8h6m-6 24.8h6M345 79.2v18.6m-3 -18.6h6m-6 18.6h6M212.1 140.9v25.1m-3 -25.1h6m-6 25.1h6M407.2 110.7v22.2m-3 -22.2h6m-6 22.2h6M607 111.8v16.1m-3 -16.1h6m-6 16.1h6M239.3 134.9v22.6m-3 -22.6h6m-6 22.6h6M296.9 92.7v29.8m-3 -29.8h6m-6 29.8h6M619.9 103.9v29.7m-3 -29.7h6m-6 29.7h6M119 86v27.6m-3 -27.6h6m-6 27.6h6M247.5 127.9v16.2m-3 -16.2h6m-6 16.2h6M150 121.8v33.6m-3 -33.6h6m-6 33.6h6M564.4 78v25.9m-3 -25.9h6m-6 25.9h6M460.4 133.7v32.5m-3 -32.5h6m-6 32.5h6M489.8 111.3v38.2m-3 -38.2h6m-6 38.2h6M220.6 117.9v33.6m-3 -33.6h6m-6 33.6h6"/><path stroke="#00f" d="M394.9 91.5v69.7m-3 -69.7h6m-6 69.7h6M275.1 66.4v37.8m-3 -37.8h6m-6 37.8h6M234.8 114v48.5m-3 -48.5h6m-6 48.5h6M233.2 124.8v32.6m-3 -32.6h6m-6 32.6h6M237.2 109.7v53.4m-3 -53.4h6m-6 53.4h6M417.5 113.6v43.6m-3 -43.6h6m-6 43.6h6M382.4 102.1v50.2m-3 -50.2h6m-6 50.2h6M139.1 92v12.8m-3 -12.8h6m-6 12.8h6M590.2 50.8v29.6m-3 -29.6h6m-6 29.6h6M568.2 74.9v52.4m-3 -52.4h6m-6 52.4h6M363 107.2v53.2m-3 -53.2h6m-6 53.2h6M223.4 104.9v19.9m-3 -19.9h6m-6 19.9h6M592.6 58.3v28.8m-3 -28.8h6m-6 28.8h6M602 85.3v14.6m-3 -14.6h6m-6 14.6h6M286.9 100.7v24.5m-3 -24.5h6m-6 24.5h6M330.9 126v22.6m-3 -22.6h6m-6 22.6h6M217.9 91v40.1m-3 -40.1h6m-6 40.1h6M346.9 113.6v28.2m-3 -28.2h6m-6 28.2h6M119.1 77v54.5m-3 -54.5h6m-6 54.5h6M606.5 116.1v21.3m-3 -21.3h6m-6 21.3h6M610.2 97.3v31m-3 -31h6m-6 31h6M282.7 103.4v38m-3 -38h6m-6 38h6M556.8 66.2v55m-3 -55h6m-6 55h6M332.4 81.7v55.5m-3 -55.5h6m-6 55.5h6M104.8 95.1v36.7m-3 -36.7h6m-6 36.7h6M475 128.3v26.6m-3 -26.6h6m-6 26.6h6M232.9 101.3v26.2m-3 -26.2h6m-6 26.2h6M174.2 112.7v42m-3 -42h6m-6 42h6M527.6 71.7v30.3m-3 -30.3h6m-6 30.3h6M277.8 77.7v12.8m-3 -12.8h6m-6 12.8h6M170.4 89.4v83m-3 -83h6m-6 83h6M317.7 60.8v39.5m-3 -39.5h6m-6 39.5h6M288.7 91.9v34m-3 -34h6m-6 34h6M610 77v19.1m-3 -19.1h6m-6 19.1h6M135.9 106.5v43.2m-3 -43.2h6m-6 43.2h6M325.1 94.3v48.5m-3 -48.5h6m-6 48.5h6M130.5 100.9v38.2m-3 -38.2h6m-6 38.2h6M406.4 96.7v25.7m-3 -25.7h6m-6 25.7h6M438 82.8v31.7m-3 -31.7h6m-6 31.7h6M298.9 88.7v51.8m-3 -51.8h6m-6 51.8h6M412.4 110v48m-3 -48h6m-6 48h6M394.6 82.6v37.2m-3 -37.2h6m-6 37.2h6M503.7 67.4v34.4m-3 -34.4h6m-6 34.4h6M194.5 129.9v34.6m-3 -34.6h6m-6 34.6h6M431.5 101.5v40m-3 -40h6m-6 40h6M397.7 135.1v22.4m-3 -22.4h6m-6 22.4h6M267.4 115.9v37.4m-3 -37.4h6m-6 37.4h6M463.4 119.3v45.5m-3 -45.5h6m-6 45.5h6M501 104.2v27.7m-3 -27.7h6m-6 27.7h6M393.1 123.7v12.6m-3 -12.6h6m-6 12.6h6M609.1 112.3v23.9m-3 -23.9h6m-6 23.9h6M505.9 100.7v46.7m-3 -46.7h6m-6 46.7h6M427.1 137.6v23.1m-3 -23.1h6m-6 23.1h6M514.5 75.4v54.7m-3 -54.7h6m-6 54.7h6M598.1 85.8v38.2m-3 -38.2h6m-6 38.2h6M310 86.7v24.9m-3 -24.9h6m-6 24.9h6M543.4 69.3v41.1m-3 -41.1h6m-6 41.1h6"/><path stroke="#800000" d="M212.9 138.4v21.8m-3 -21.8h6m-6 21.8h6M277 112.6v26.3m-3 -26.3h6m-6 26.3h6M548.8 90.7v40.3m-3 -40.3h6m-6 40.3h6M429.4 115.5v39m-3 -39h6m-6 39h6M566.7 82.2v41.2m-3 -41.2h6m-6 41.2h6M131.2 111.9v29.9m-3 -29.9h6m-6 29.9h6M161.5 117.2v40.2m-3 -40.2h6m-6 40.2h6M569.2 88.9v37.5m-3 -37.5h6m-6 37.5h6M169.4 145.2v18.3m-3 -18.3h6m-6 18.3h6M132.8 115.7v25.9m-3 -25.9h6m-6 25.9h6M334.8 97.8v19.6m-3 -19.6h6m-6 19.6h6M169.7 106.9v32.6m-3 -32.6h6m-6 32.6h6M126.3 84.1v25.3m-3 -25.3h6m-6 25.3h6M469.7 104.2v43.3m-3 -43.3h6m-6 43.3h6M569.9 81v29.6m-3 -29.6h6m-6 29.6h6M588.9 104v22.2m-3 -22.2h6m-6 22.2h6M294.9 105.3v17.4m-3 -17.4h6m-6 17.4h6M432.9 135.2v34.7m-3 -34.7h6m-6 34.7h6M435.6 108.8v18.5m-3 -18.5h6m-6 18.5h6M533.4 70.6v40.6m-3 -40.6h6m-6 40.6h6M298.2 80.1v18.2m-3 -18.2h6m-6 18.2h6M530.8 90.5v32.6m-3 -32.6h6m-6 32.6h6M514.5 100.3v41.2m-3 -41.2h6m-6 41.2h6M432.6 140.7v18.1m-3 -18.1h6m-6 18.1h6M153.7 128.2v34.8m-3 -34.8h6m-6 34.8h6M444.3 111v19.8m-3 -19.8h6m-6 19.8h6M599.4 107.5v25.1m-3 -25.1h6m-6 25.1h6M554 85.2v30.5m-3 -30.5h6m-6 30.5h6M153.9 95.1v46.7m-3 -46.7h6m-6 46.7h6M263 102.7v43.6m-3 -43.6h6m-6 43.6h6M121.2 91.8v19.2m-3 -19.2h6m-6 19.2h6M426.9 119.5v20m-3 -20h6m-6 20h6M436.3 132.5v16.1m-3 -16.1h6m-6 16.1h6M280.8 105.1v47.1m-3 -47.1h6m-6 47.1h6M587.4 84.1v38.6m-3 -38.6h6m-6 38.6h6M363.5 115.5v28.1m-3 -28.1h6m-6 28.1h6M151.2 109v19.5m-3 -19.5h6m-6 19.5h6M304.5 120v21.8m-3 -21.8h6m-6 21.8h6"/><path stroke="#f00" d="M599.5 90.7v51.8m-3 -51.8h6m-6 51.8h6M318.2 87.6v52.3m-3 -52.3h6m-6 52.3h6M476.5 97.9v47.4m-3 -47.4h6m-6 47.4h6M267.8 103.4v53.7m-3 -53.7h6m-6 53.7h6M509.7 81.5v49.9m-3 -49.9h6m-6 49.9h6M384.1 99v40.6m-3 -40.6h6m-6 40.6h6M308.1 107.1v35.7m-3 -35.7h6m-6 35.7h6M211.6 140.9v32.4m-3 -32.4h6m-6 32.4h6M547.3 81.8v20.1m-3 -20.1h6m-6 20.1h6M366.8 111.9v37.3m-3 -37.3h6m-6 37.3h6M555.1 66.7v48.4m-3 -48.4h6m-6 48.4h6M322.1 122.4v20.2m-3 -20.2h6m-6 20.2h6M129.3 93.8v24m-3 -24h6m-6 24h6M227 125.3v44.2m-3 -44.2h6m-6 44.2h6M145 101.3v41.2m-3 -41.2h6m-6 41.2h6M344.6 85.5v36.1m-3 -36.1h6m-6 36.1h6M266.5 93v44.1m-3 -44.1h6m-6 44.1h6M543.6 92.5v18.5m-3 -18.5h6m-6 18.5h6M303.7 97.8v44.1m-3 -44.1h6m-6 44.1h6M240.7 111.4v29.8m-3 -29.8h6m-6 29.8h6M230.9 112.2v44.9m-3 -44.9h6m-6 44.9h6M408.4 129v31.7m-3 -31.7h6m-6 31.7h6M546.2 78.5v34.5m-3 -34.5h6m-6 34.5h6M117 78.6v25.1m-3 -25.1h6m-6 25.1h6M568.6 76.1v56.2m-3 -56.2h6m-6 56.2h6M434 102.4v54.7m-3 -54.7h6m-6 54.7h6M274 93.7v46.7m-3 -46.7h6m-6 46.7h6M290.5 104.9v39.2m-3 -39.2h6m-6 39.2h6M161.2 105.5v41.9m-3 -41.9h6m-6 41.9h6M136.1 140.9v21.4m-3 -21.4h6m-6 21.4h6M322.8 113.1v26.2m-3 -26.2h6m-6 26.2h6M112.6 80v42.4m-3 -42.4h6m-6 42.4h6M198.2 119.1v36m-3 -36h6m-6 36h6M461.9 124.1v28m-3 -28h6m-6 28h6M559.6 67.2v51.5m-3 -51.5h6m-6 51.5h6M303 97.1v47.4m-3 -47.4h6m-6 47.4h6M421.5 111.3v37.7m-3 -37.7h6m-6 37.7h6M558.9 75.2v20.9m-3 -20.9h6m-6 20.9h6M602.2 88.8v50m-3 -50h6m-6 50h6M278.1 122.4v25.9m-3 -25.9h6m-6 25.9h6M587 88.5v42.9m-3 -42.9h6m-6 42.9h6M602.1 85.6v34.7m-3 -34.7h6m-6 34.7h6M215 120.6v50.2m-3 -50.2h6m-6 50.2h6M108.6 84.3v24.1m-3 -24.1h6m-6 24.1h6M238.1 115.7v52.7m-3 -52.7h6m-6 52.7h6M612.6 99.5v46.2m-3 -46.2h6m-6 46.2h6M473.8 102.9v45.5m-3 -45.5h6m-6 45.5h6M579.7 100.7v26.7m-3 -26.7h6m-6 26.7h6M577.5 111.5v16.5m-3 -16.5h6m-6 16.5h6M497.9 99.5v24.8m-3 -24.8h6m-6 24.8h6M173.3 108.3v57.6m-3 -57.6h6m-6 57.6h6M466.7 119.4v47.8m-3 -47.8h6m-6 47.8h6M301.7 102.4v48m-3 -48h6m-6 48h6M161.7 123.3v24.5m-3 -24.5h6m-6 24.5h6M372.6 96.1v32.8m-3 -32.8h6m-6 32.8h6M368.1 90.4v63.4m-3 -63.4h6m-6 63.4h6"/><path stroke="#800080" d="M175.6 122.7v31.4m-3 -31.4h6m-6 31.4h6M485 108.8v26.4m-3 -26.4h6m-6 26.4h6M449.9 123.2v28.3m-3 -28.3h6m-6 28.3h6M178.7 116.9v27.5m-3 -27.5h6m-6 27.5h6M504.2 91.1v56m-3 -56h6m-6 56h6M110 103.7v47.5m-3 -47.5h6m-6 47.5h6M238.3 104.5v48.8m-3 -48.8h6m-6 48.8h6M206.6 138.6v29.1m-3 -29.1h6m-6 29.1h6M456.8 103.6v48.1m-3 -48.1h6m-6 48.1h6M234.3 128.3v41.1m-3 -41.1h6m-6 41.1h6M318.5 93.2v28.9m-3 -28.9h6m-6 28.9h6M394.1 92v55.3m-3 -55.3h6m-6 55.3h6M551.1 66.4v42.9m-3 -42.9h6m-6 42.9h6M270.6 91.9v25.8m-3 -25.8h6m-6 25.8h6M515.3 83.3v35.7m-3 -35.7h6m-6 35.7h6M587.1 86.6v36.3m-3 -36.3h6m-6 36.3h6M397.4 124v31.8m-3 -31.8h6m-6 31.8h6M363 115.8v43.3m-3 -43.3h6m-6 43.3h6M264.5 133.9v25.2m-3 -25.2h6m-6 25.2h6M232.2 111v56m-3 -56h6m-6 56h6M549.5 114.9v19.3m-3 -19.3h6m-6 19.3h6M405.5 111.7v52.9m-3 -52.9h6m-6 52.9h6M156.6 92.2v24.4m-3 -24.4h6m-6 24.4h6M188.9 108.1v37.1m-3 -37.1h6m-6 37.1h6M143 83.2v59.6m-3 -59.6h6m-6 59.6h6M557.8 79.2v34.6m-3 -34.6h6m-6 34.6h6M556.6 71.7v35.7m-3 -35.7h6m-6 35.7h6M150.1 102.5v33.2m-3 -33.2h6m-6 33.2h6M146.4 115.8v40.6m-3 -40.6h6m-6 40.6h6M160.5 130.5v29.8m-3 -29.8h6m-6 29.8h6M403.9 109.5v43.1m-3 -43.1h6m-6 43.1h6M137.3 87.5v37m-3 -37h6m-6 37h6"/><path stroke="#008000" d="M553 41v69.3m-3 -69.3h6m-6 69.3h6M179.4 103.8v68.8m-3 -68.8h6m-6 68.8h6M563.1 47v67.8m-3 -67.8h6m-6 67.8h6M490.2 71.5v59.5m-3 -59.5h6m-6 59.5h6M379.3 109.2v25.1m-3 -25.1h6m-6 25.1h6M527.7 59.9v70.1m-3 -70.1h6m-6 70.1h6M520.5 78.6v39.2m-3 -39.2h6m-6 39.2h6M331.5 99.1v49.3m-3 -49.3h6m-6 49.3h6M600.4 80.1v26m-3 -26h6m-6 26h6M323.6 68.7v66.1m-3 -66.1h6m-6 66.1h6M468.3 125.7v23.7m-3 -23.7h6m-6 23.7h6M270.6 121.3v20.1m-3 -20.1h6m-6 20.1h6M217.6 131.8v40m-3 -40h6m-6 40h6M367.9 91.7v52.1m-3 -52.1h6m-6 52.1h6M451.3 74.3v61.3m-3 -61.3h6m-6 61.3h6M127.5 69.8v67m-3 -67h6m-6 67h6M512.8 82.2v28.4m-3 -28.4h6m-6 28.4h6M435.8 103.9v33.9m-3 -33.9h6m-6 33.9h6M355.4 97.4v39.3m-3 -39.3h6m-6 39.3h6M126.2 92.4v58.2m-3 -58.2h6m-6 58.2h6M440.5 133.1v29.3m-3 -29.3h6m-6 29.3h6M546.8 91.7v30.1m-3 -30.1h6m-6 30.1h6M145.2 116.7v40.9m-3 -40.9h6m-6 40.9h6M593 68.2v30.9m-3 -30.9h6m-6 30.9h6M116.9 99.1v21.7m-3 -21.7h6m-6 21.7h6M531.1 70.1v49.5m-3 -49.5h6m-6 49.5h6M585.9 57.4v63m-3 -63h6m-6 63h6M305.8 56.3v56.2m-3 -56.2h6m-6 56.2h6M151.7 99.7v79.6m-3 -79.6h6m-6 79.6h6M386.7 126.2v32.4m-3 -32.4h6m-6 32.4h6M220.3 116.7v22.3m-3 -22.3h6m-6 22.3h6M353.4 95.8v41.7m-3 -41.7h6m-6 41.7h6M494.4 97v37.3m-3 -37.3h6m-6 37.3h6M336.5 94.6v52.5m-3 -52.5h6m-6 52.5h6M435.1 124.8v30.2m-3 -30.2h6m-6 30.2h6M247.2 132.2v26.9m-3 -26.9h6m-6 26.9h6M365 120.6v36.4m-3 -36.4h6m-6 36.4h6M315.7 59.6v53.6m-3 -53.6h6m-6 53.6h6M620.9 127.5v24m-3 -24h6m-6 24h6M195.7 118.9v55.6m-3 -55.6h6m-6 55.6h6M143.2 109.4v38.6m-3 -38.6h6m-6 38.6h6M513 58.6v47.9m-3 -47.9h6m-6 47.9h6M211.2 104.5v51.8m-3 -51.8h6m-6 51.8h6M240.8 118.8v55.4m-3 -55.4h6m-6 55.4h6M115.7 75.5v80.5m-3 -80.5h6m-6 80.5h6M194.8 124.1v43.2m-3 -43.2h6m-6 43.2h6M411.7 135.5v23.8m-3 -23.8h6m-6 23.8h6M157.3 65.1v58m-3 -58h6m-6 58h6M228 105.8v58.9m-3 -58.9h6m-6 58.9h6"/><path stroke="#000080" d="M261.5 115.2v16.8m-3 -16.8h6m-6 16.8h6M378 112.7v25.9m-3 -25.9h6m-6 25.9h6M585 59.4v17.9m-3 -17.9h6m-6 17.9h6M344.8 80.6v41.5m-3 -41.5h6m-6 41.5h6M588.2 49.2v36.1m-3 -36.1h6m-6 36.1h6M498.6 101.9v29.2m-3 -29.2h6m-6 29.2h6M293 73.4v27.5m-3 -27.5h6m-6 27.5h6M438 85.1v43.5m-3 -43.5h6m-6 43.5h6M587.7 95.2v21.5m-3 -21.5h6m-6 21.5h6M461.8 109.1v17m-3 -17h6m-6 17h6M533.6 73.3v29.2m-3 -29.2h6m-6 29.2h6M591.5 74.4v19.1m-3 -19.1h6m-6 19.1h6M282 90.4v51.8m-3 -51.8h6m-6 51.8h6M584.7 61.4v44.1m-3 -44.1h6m-6 44.1h6M619.3 131.3v29.7m-3 -29.7h6m-6 29.7h6M321 66.7v39.4m-3 -39.4h6m-6 39.4h6M241 119.2v49.9m-3 -49.9h6m-6 49.9h6M154.7 108.9v47.5m-3 -47.5h6m-6 47.5h6M325.3 83.2v48.3m-3 -48.3h6m-6 48.3h6M585.9 74v47.5m-3 -47.5h6m-6 47.5h6M583.9 87.4v43.4m-3 -43.4h6m-6 43.4h6M544 66.5v45.4m-3 -45.4h6m-6 45.4h6M478.2 97v51.6m-3 -51.6h6m-6 51.6h6M364 77.7v30.2m-3 -30.2h6m-6 30.2h6M394.1 99.4v20.1m-3 -20.1h6m-6 20.1h6M180.9 78.1v50.2m-3 -50.2h6m-6 50.2h6M212.3 92.7v40m-3 -40h6m-6 40h6M449.1 111.3v16.1m-3 -16.1h6m-6 16.1h6M162.8 114.2v18.1m-3 -18.1h6m-6 18.1h6M383.5 98.6v25.7m-3 -25.7h6m-6 25.7h6M616.4 95.1v43m-3 -43h6m-6 43h6M420.7 121.9v27.7m-3 -27.7h6m-6 27.7h6M376.4 77.2v37.8m-3 -37.8h6m-6 37.8h6M358.9 130.4v23.2m-3 -23.2h6m-6 23.2h6M146.7 131.7v25.2m-3 -25.2h6m-6 25.2h6M247.1 103.7v51.4m-3 -51.4h6m-6 51.4h6M480.4 104.8v28.4m-3 -28.4h6m-6 28.4h6M109.4 81.6v33.9m-3 -33.9h6m-6 33.9h6M373.2 89.4v41.6m-3 -41.6h6m-6 41.6h6M201.8 133.8v22.5m-3 -22.5h6m-6 22.5h6"/><path stroke="#808080" d="M490.9 104.3v36.8m-3 -36.8h6m-6 36.8h6M449.4 108.5v16.9m-3 -16.9h6m-6 16.9h6M553.4 69.7v45m-3 -45h6m-6 45h6M227 145.4v27.8m-3 -27.8h6m-6 27.8h6M536.8 64.1v33.9m-3 -33.9h6m-6 33.9h6M515.3 81.7v21.9m-3 -21.9h6m-6 21.9h6M180.3 106.6v36.8m-3 -36.8h6m-6 36.8h6M247.6 119v41.1m-3 -41.1h6m-6 41.1h6M155.3 97.7v35.7m-3 -35.7h6m-6 35.7h6M558.8 70.7v26.5m-3 -26.5h6m-6 26.5h6M565.3 109.3v16.7m-3 -16.7h6m-6 16.7h6"/><path stroke="#008080" d="M513.9 91.6v32.4m-3 -32.4h6m-6 32.4h6M115.9 100.3v47.9m-3 -47.9h6m-6 47.9h6M333.8 95.5v37m-3 -37h6m-6 37h6M370.6 103.8v37.9m-3 -37.9h6m-6 37.9h6M480.4 121.9v22.6m-3 -22.6h6m-6 22.6h6M512.4 108.5v25.8m-3 -25.8h6m-6 25.8h6M618.8 104.2v21m-3 -21h6m-6 21h6M321.1 83.6v39.1m-3 -39.1h6m-6 39.1h6M266.6 99.5v39.5m-3 -39.5h6m-6 39.5h6M354.9 107.4v17.7m-3 -17.7h6m-6 17.7h6M576 76.1v39.3m-3 -39.3h6m-6 39.3h6M462.8 113.3v27.5m-3 -27.5h6m-6 27.5h6M272.8 94.2v39.4m-3 -39.4h6m-6 39.4h6M598.4 94.4v18.9m-3 -18.9h6m-6 18.9h6M290.3 93.7v45.4m-3 -45.4h6m-6 45.4h6M574.9 78.5v44.9m-3 -44.9h6m-6 44.9h6M492 95.8v42.3m-3 -42.3h6m-6 42.3h6M299 115.3v31.8m-3 -31.8h6m-6 31.8h6M339.1 99v39.1m-3 -39.1h6m-6 39.1h6M409.9 113.5v42.6m-3 -42.6h6m-6 42.6h6"/><path stroke="#f00" d="M468.2 109.8v48.6m-3 -48.6h6m-6 48.6h6M433.4 110.7v33.3m-3 -33.3h6m-6 33.3h6M614.8 88.9v54.5m-3 -54.5h6m-6 54.5h6M178.7 105.9v45.9m-3 -45.9h6m-6 45.9h6M378.9 122.4v28.7m-3 -28.7h6m-6 28.7h6M300.6 97.5v27.2m-3 -27.2h6m-6 27.2h6M511.2 73.5v61.1m-3 -61.1h6m-6 61.1h6M283 100.1v51.1m-3 -51.1h6m-6 51.1h6M165.1 102.1v30.3m-3 -30.3h6m-6 30.3h6M432.5 98.3v63.4m-3 -63.4h6m-6 63.4h6M406.3 119.2v47.4m-3 -47.4h6m-6 47.4h6M478.9 107.8v36.4m-3 -36.4h6m-6 36.4h6M527 88.3v25.6m-3 -25.6h6m-6 25.6h6M450 113.7v26.1m-3 -26.1h6m-6 26.1h6M350.2 110.9v40.4m-3 -40.4h6m-6 40.4h6M485 98v57.5m-3 -57.5h6m-6 57.5h6M536 83.6v51.3m-3 -51.3h6m-6 51.3h6M530.8 63.3v63.2m-3 -63.2h6m-6 63.2h6M240.2 120.1v50.2m-3 -50.2h6m-6 50.2h6M246.9 103.4v48.2m-3 -48.2h6m-6 48.2h6M486.6 100.7v50.7m-3 -50.7h6m-6 50.7h6M216.8 130.7v36.5m-3 -36.5h6m-6 36.5h6M225.8 131v38.7m-3 -38.7h6m-6 38.7h6M449.2 112v58m-3 -58h6m-6 58h6M414.4 104.9v17.6m-3 -17.6h6m-6 17.6h6M219.4 111.1v40.1m-3 -40.1h6m-6 40.1h6M303.9 108.2v40.7m-3 -40.7h6m-6 40.7h6M455.7 98.3v45.7m-3 -45.7h6m-6 45.7h6M584.6 90.1v32.8m-3 -32.8h6m-6 32.8h6M550.4 67.6v26m-3 -26h6m-6 26h6M184.8 130.6v24.1m-3 -24.1h6m-6 24.1h6M558.3 94.3v17.5m-3 -17.5h6m-6 17.5h6M223.4 105.3v33.9m-3 -33.9h6m-6 33.9h6M517.7 77.3v40.4m-3 -40.4h6m-6 40.4h6M592.9 87.1v35.8m-3 -35.8h6m-6 35.8h6M338.6 88.7v25.3m-3 -25.3h6m-6 25.3h6M243.3 105.6v62.3m-3 -62.3h6m-6 62.3h6M425.5 111.6v49.5m-3 -49.5h6m-6 49.5h6M426.8 103.4v59.3m-3 -59.3h6m-6 59.3h6M194.7 115.9v38.2m-3 -38.2h6m-6 38.2h6M433 125.6v34.1m-3 -34.1h6m-6 34.1h6M268.7 132v22.2m-3 -22.2h6m-6 22.2h6M322.7 113.4v38.1m-3 -38.1h6m-6 38.1h6M594 84.6v51.1m-3 -51.1h6m-6 51.1h6M329.2 86.6v43.8m-3 -43.8h6m-6 43.8h6M404 100.2v63.1m-3 -63.1h6m-6 63.1h6M456.1 110.8v31.8m-3 -31.8h6m-6 31.8h6M467.1 96.1v47.4m-3 -47.4h6m-6 47.4h6M371.1 101.1v33.4m-3 -33.4h6m-6 33.4h6M253.4 109.1v55.1m-3 -55.1h6m-6 55.1h6M347.2 94.4v57.8m-3 -57.8h6m-6 57.8h6M474.4 118.5v24.8m-3 -24.8h6m-6 24.8h6M419.1 87.3v85m-3 -85h6m-6 85h6M281 99.3v54.5m-3 -54.5h6m-6 54.5h6M344.3 112.5v34.3m-3 -34.3h6m-6 34.3h6M319.4 79.3v62.4m-3 -62.4h6m-6 62.4h6M306.4 94.4v32.5m-3 -32.5h6m-6 32.5h6M107.6 100.2v29.2m-3 -29.2h6m-6 29.2h6M520 80.7v28m-3 -28h6m-6 28h6M273.4 119.6v36m-3 -36h6m-6 36h6M168.9 124.6v16.6m-3 -16.6h6m-6 16.6h6M354.3 90.2v35.9m-3 -35.9h6m-6 35.9h6M286.1 100.5v38.5m-3 -38.5h6m-6 38.5h6"/><path stroke="#00f" d="M345.3 95.5v28.6m-3 -28.6h6m-6 28.6h6M172.3 105v47.9m-3 -47.9h6m-6 47.9h6M392 82.1v32.4m-3 -32.4h6m-6 32.4h6M170 135.6v30.8m-3 -30.8h6m-6 30.8h6M420.5 117.7v32.2m-3 -32.2h6m-6 32.2h6M484.3 110.7v47m-3 -47h6m-6 47h6M614.8 67.8v42.6m-3 -42.6h6m-6 42.6h6M349.2 68.6v29.3m-3 -29.3h6m-6 29.3h6M193 100.2v42.6m-3 -42.6h6m-6 42.6h6M552.1 71.6v24.6m-3 -24.6h6m-6 24.6h6M228.1 122.4v30.4m-3 -30.4h6m-6 30.4h6M521.1 78.4v44.1m-3 -44.1h6m-6 44.1h6M476.4 90.7v12.1m-3 -12.1h6m-6 12.1h6M367.5 108.7v25.2m-3 -25.2h6m-6 25.2h6M504.4 102.7v43.9m-3 -43.9h6m-6 43.9h6M437.3 96.7v23.5m-3 -23.5h6m-6 23.5h6M271.9 101.4v34.4m-3 -34.4h6m-6 34.4h6M513.2 90v37.2m-3 -37.2h6m-6 37.2h6M190.3 116.3v36.5m-3 -36.5h6m-6 36.5h6M469.5 112.7v38.5m-3 -38.5h6m-6 38.5h6M616.1 105.1v52.8m-3 -52.8h6m-6 52.8h6M503.9 89.7v41.3m-3 -41.3h6m-6 41.3h6M141.4 66.3v36.9m-3 -36.9h6m-6 36.9h6M225.1 111.2v36.7m-3 -36.7h6m-6 36.7h6M145.8 72v30.5m-3 -30.5h6m-6 30.5h6M511 76.9v38.8m-3 -38.8h6m-6 38.8h6M538.6 102.2v28.1m-3 -28.1h6m-6 28.1h6M433.4 117.2v25.3m-3 -25.3h6m-6 25.3h6M175.2 124.1v33.8m-3 -33.8h6m-6 33.8h6M370.7 99.4v49.3m-3 -49.3h6m-6 49.3h6M219.7 115v37.1m-3 -37.1h6m-6 37.1h6M297.9 65.4v41.5m-3 -41.5h6m-6 41.5h6M375.2 82v21.3m-3 -21.3h6m-6 21.3h6M259.7 75.3v40.5m-3 -40.5h6m-6 40.5h6M522.7 89.5v35.4m-3 -35.4h6m-6 35.4h6M458.3 112.4v44.8m-3 -44.8h6m-6 44.8h6M179 126v20.6m-3 -20.6h6m-6 20.6h6M204.1 107.2v73.4m-3 -73.4h6m-6 73.4h6M119.5 98.7v38.5m-3 -38.5h6m-6 38.5h6M205.9 122.7v46.1m-3 -46.1h6m-6 46.1h6M376.4 110.9v28.8m-3 -28.8h6m-6 28.8h6M333.7 82.2v12.5m-3 -12.5h6m-6 12.5h6M615.7 91.5v50m-3 -50h6m-6 50h6M472.9 106.5v28.2m-3 -28.2h6m-6 28.2h6M108.3 110v36.6m-3 -36.6h6m-6 36.6h6M407.7 74.4v44m-3 -44h6m-6 44h6M135.3 88.8v40.5m-3 -40.5h6m-6 40.5h6M168.8 106.9v36m-3 -36h6m-6 36h6M266.9 131.9v27.4m-3 -27.4h6m-6 27.4h6M590.7 73.2v43.4m-3 -43.4h6m-6 43.4h6M212.5 134.2v20.6m-3 -20.6h6m-6 20.6h6M592.4 52v32.1m-3 -32.1h6m-6 32.1h6M290.8 82.2v55.1m-3 -55.1h6m-6 55.1h6"/><path stroke="#800000" d="M149.4 107.8v32.5m-3 -32.5h6m-6 32.5h6M106.2 79.5v23.2m-3 -23.2h6m-6 23.2h6M110.2 112.6v45.6m-3 -45.6h6m-6 45.6h6M312 101.2v44.5m-3 -44.5h6m-6 44.5h6M340.7 112v41.6m-3 -41.6h6m-6 41.6h6M354.8 130.5v17.1m-3 -17.1h6m-6 17.1h6M382.2 119.5v22.9m-3 -22.9h6m-6 22.9h6M564.2 64v41.5m-3 -41.5h6m-6 41.5h6M197.2 151.5v19.3m-3 -19.3h6m-6 19.3h6M337 123.8v17.7m-3 -17.7h6m-6 17.7h6M238.7 142.2v20.9m-3 -20.9h6m-6 20.9h6M313.2 91.5v23.4m-3 -23.4h6m-6 23.4h6M133.5 107.2v24.6m-3 -24.6h6m-6 24.6h6M281 116.6v32.6m-3 -32.6h6m-6 32.6h6M362.7 112.6v45.4m-3 -45.4h6m-6 45.4h6M184.2 128v43.4m-3 -43.4h6m-6 43.4h6M539.4 59.1v76.8m-3 -76.8h6m-6 76.8h6M362.7 111.5v44.8m-3 -44.8h6m-6 44.8h6M113.3 117.6v32.3m-3 -32.3h6m-6 32.3h6M434.2 96.4v38.2m-3 -38.2h6m-6 38.2h6M353.8 120.1v17.5m-3 -17.5h6m-6 17.5h6M417.3 110.4v24.3m-3 -24.3h6m-6 24.3h6M534.6 71.1v34.8m-3 -34.8h6m-6 34.8h6M448.1 105.8v42.8m-3 -42.8h6m-6 42.8h6M208.2 114.5v44.5m-3 -44.5h6m-6 44.5h6M264.3 102.3v24.5m-3 -24.5h6m-6 24.5h6M382.6 94.9v18.8m-3 -18.8h6m-6 18.8h6M193.9 136.2v27.9m-3 -27.9h6m-6 27.9h6M287.7 107.9v29.2m-3 -29.2h6m-6 29.2h6M165.6 124.6v42.4m-3 -42.4h6m-6 42.4h6M560.3 106.5v19.9m-3 -19.9h6m-6 19.9h6M377.9 101.8v29m-3 -29h6m-6 29h6M139.3 80.3v44.7m-3 -44.7h6m-6 44.7h6M275.7 95.5v39.2m-3 -39.2h6m-6 39.2h6M377.2 88v37.8m-3 -37.8h6m-6 37.8h6M512 96.4v24.5m-3 -24.5h6m-6 24.5h6M494.4 122.4v28.1m-3 -28.1h6m-6 28.1h6M307.9 90.4v47.2m-3 -47.2h6m-6 47.2h6M499.2 99.5v16.4m-3 -16.4h6m-6 16.4h6M168.9 118.4v30.9m-3 -30.9h6m-6 30.9h6M318.3 84.8v28.1m-3 -28.1h6m-6 28.1h6M168.9 120.9v29.6m-3 -29.6h6m-6 29.6h6M614.4 117.3v39.5m-3 -39.5h6m-6 39.5h6M331.1 89.7v47.9m-3 -47.9h6m-6 47.9h6"/><path stroke="#000080" d="M286.3 106.6v19.4m-3 -19.4h6m-6 19.4h6M193.5 117.1v49.4m-3 -49.4h6m-6 49.4h6M509.1 62.3v35.1m-3 -35.1h6m-6 35.1h6M332.7 99.5v20.9m-3 -20.9h6m-6 20.9h6M183.3 106.3v50.3m-3 -50.3h6m-6 50.3h6M221.3 99.7v26.2m-3 -26.2h6m-6 26.2h6M526.8 80.2v25.1m-3 -25.1h6m-6 25.1h6M428.5 111v50.5m-3 -50.5h6m-6 50.5h6M404.1 82.6v34.1m-3 -34.1h6m-6 34.1h6M196.7 119.5v41.6m-3 -41.6h6m-6 41.6h6M424.3 89.6v17.6m-3 -17.6h6m-6 17.6h6M466.1 105.9v32.1m-3 -32.1h6m-6 32.1h6M138.3 83.7v51m-3 -51h6m-6 51h6M300.7 85.6v50.3m-3 -50.3h6m-6 50.3h6M417.8 105.6v20m-3 -20h6m-6 20h6M299.2 84.6v50.3m-3 -50.3h6m-6 50.3h6M576.7 94.2v20.6m-3 -20.6h6m-6 20.6h6M343.6 109.3v20.6m-3 -20.6h6m-6 20.6h6M263.3 110.9v18.1m-3 -18.1h6m-6 18.1h6M418.5 105.2v22.3m-3 -22.3h6m-6 22.3h6M600.7 104.6v27.5m-3 -27.5h6m-6 27.5h6M594 71.2v30.4m-3 -30.4h6m-6 30.4h6M339.7 99.7v24.5m-3 -24.5h6m-6 24.5h6M173.8 84.2v37.6m-3 -37.6h6m-6 37.6h6M328 105.1v31.9m-3 -31.9h6m-6 31.9h6M120.9 103.5v33.4m-3 -33.4h6m-6 33.4h6M610.9 109.1v29.7m-3 -29.7h6m-6 29.7h6M599.5 82.5v44.3m-3 -44.3h6m-6 44.3h6M579.5 81.9v44.4m-3 -44.4h6m-6 44.4h6M276.9 108.6v31.9m-3 -31.9h6m-6 31.9h6M122.5 50.7v40.4m-3 -40.4h6m-6 40.4h6M270.7 103.9v49.2m-3 -49.2h6m-6 49.2h6M485.2 113.9v22.1m-3 -22.1h6m-6 22.1h6"/><path stroke="#008080" d="M295.9 93.1v41.9m-3 -41.9h6m-6 41.9h6M188.8 127.4v32.8m-3 -32.8h6m-6 32.8h6M153.6 109.2v44.9m-3 -44.9h6m-6 44.9h6M426.8 102.6v44.1m-3 -44.1h6m-6 44.1h6M336.9 94.5v53.3m-3 -53.3h6m-6 53.3h6M456.5 125.3v28.7m-3 -28.7h6m-6 28.7h6M212 121.1v35.9m-3 -35.9h6m-6 35.9h6M525.6 96.7v21.8m-3 -21.8h6m-6 21.8h6M168.4 125.2v24.1m-3 -24.1h6m-6 24.1h6M434.1 122.1v38.1m-3 -38.1h6m-6 38.1h6M297.3 89.4v19.1m-3 -19.1h6m-6 19.1h6M118.8 113v36.2m-3 -36.2h6m-6 36.2h6M360.6 132.6v23.8m-3 -23.8h6m-6 23.8h6M396 122.4v27.4m-3 -27.4h6m-6 27.4h6M295.6 93.5v36.5m-3 -36.5h6m-6 36.5h6M389.6 106.8v23.4m-3 -23.4h6m-6 23.4h6M282.9 84.1v26.4m-3 -26.4h6m-6 26.4h6M567.5 97.8v35.9m-3 -35.9h6m-6 35.9h6M533.7 99.6v25.1m-3 -25.1h6m-6 25.1h6M377.3 130.9v31.4m-3 -31.4h6m-6 31.4h6M604.1 99.6v18.2m-3 -18.2h6m-6 18.2h6M266.6 87.8v42.3m-3 -42.3h6m-6 42.3h6M491.9 110.3v32.3m-3 -32.3h6m-6 32.3h6M121.9 84.2v30.6m-3 -30.6h6m-6 30.6h6M596.1 83.4v31.9m-3 -31.9h6m-6 31.9h6"/><path stroke="#008000" d="M238.4 136.8v20.6m-3 -20.6h6m-6 20.6h6M618 88.2v80.2m-3 -80.2h6m-6 80.2h6M407.4 114.1v36.3m-3 -36.3h6m-6 36.3h6M162.7 73.2v49.5m-3 -49.5h6m-6 49.5h6M107.6 82.3v59.7m-3 -59.7h6m-6 59.7h6M167.4 99.4v67.2m-3 -67.2h6m-6 67.2h6M262.9 121.9v24.5m-3 -24.5h6m-6 24.5h6M252.8 118v42.8m-3 -42.8h6m-6 42.8h6M522.8 71.3v42.8m-3 -42.8h6m-6 42.8h6M346.9 57.7v67.3m-3 -67.3h6m-6 67.3h6M252.9 99.3v64.5m-3 -64.5h6m-6 64.5h6M262.8 99v54.1m-3 -54.1h6m-6 54.1h6M282.9 62.6v47.8m-3 -47.8h6m-6 47.8h6M214.6 123.5v48.9m-3 -48.9h6m-6 48.9h6M257.9 63.4v96.1m-3 -96.1h6m-6 96.1h6M358.3 96.3v48.9m-3 -48.9h6m-6 48.9h6M540.3 67.6v32.4m-3 -32.4h6m-6 32.4h6M385.4 105.2v29.3m-3 -29.3h6m-6 29.3h6M176.5 74.2v59.5m-3 -59.5h6m-6 59.5h6M392 94.2v53.2m-3 -53.2h6m-6 53.2h6M214.1 152.7v25.2m-3 -25.2h6m-6 25.2h6M160.7 75.7v48.5m-3 -48.5h6m-6 48.5h6M290.1 60.8v85.8m-3 -85.8h6m-6 85.8h6M356.8 101v25m-3 -25h6m-6 25h6M402.8 105.3v27.6m-3 -27.6h6m-6 27.6h6M597 41.4v58.3m-3 -58.3h6m-6 58.3h6M216.6 121.1v57.5m-3 -57.5h6m-6 57.5h6M157 72.8v53.2m-3 -53.2h6m-6 53.2h6M127.2 73.3v64.4m-3 -64.4h6m-6 64.4h6M489.8 109.2v37.3m-3 -37.3h6m-6 37.3h6M589 88.8v45.4m-3 -45.4h6m-6 45.4h6M196.6 112.3v25.1m-3 -25.1h6m-6 25.1h6M192.4 81.7v53.5m-3 -53.5h6m-6 53.5h6M147.9 73.4v63.9m-3 -63.9h6m-6 63.9h6M500.2 112.9v23.6m-3 -23.6h6m-6 23.6h6M369.6 70.2v63.7m-3 -63.7h6m-6 63.7h6M113.4 50v51.9m-3 -51.9h6m-6 51.9h6M183.3 74.3v58.5m-3 -58.5h6m-6 58.5h6M571.2 64.3v51.7m-3 -51.7h6m-6 51.7h6M458 124.5v34.6m-3 -34.6h6m-6 34.6h6M485.5 90.4v50.8m-3 -50.8h6m-6 50.8h6M555.4 52.2v50.7m-3 -50.7h6m-6 50.7h6"/><path stroke="#800080" d="M414 125.2v16.4m-3 -16.4h6m-6 16.4h6M200.4 121.6v44.3m-3 -44.3h6m-6 44.3h6M498.5 79.7v87.1m-3 -87.1h6m-6 87.1h6M428.7 121.5v28.2m-3 -28.2h6m-6 28.2h6M123.2 103.3v36m-3 -36h6m-6 36h6M176.2 115.4v35m-3 -35h6m-6 35h6M359.9 117.9v34.8m-3 -34.8h6m-6 34.8h6M400.4 112.4v45.8m-3 -45.8h6m-6 45.8h6M529.4 98.9v30m-3 -30h6m-6 30h6M346.9 92.7v16m-3 -16h6m-6 16h6M539.2 92.4v40m-3 -40h6m-6 40h6M612.9 89.2v69.4m-3 -69.4h6m-6 69.4h6M483.6 124.4v28.9m-3 -28.9h6m-6 28.9h6M393.9 100.9v43.6m-3 -43.6h6m-6 43.6h6M614.2 92.8v24.2m-3 -24.2h6m-6 24.2h6M450.4 121.6v28.9m-3 -28.9h6m-6 28.9h6M432.6 95.6v49.3m-3 -49.3h6m-6 49.3h6M299.5 93.4v50.2m-3 -50.2h6m-6 50.2h6M454.2 108.9v39.6m-3 -39.6h6m-6 39.6h6M146.6 109.3v20m-3 -20h6m-6 20h6M335.6 127.5v26.3m-3 -26.3h6m-6 26.3h6M279.2 103.3v51.5m-3 -51.5h6m-6 51.5h6M597.2 116.7v29.3m-3 -29.3h6m-6 29.3h6M438.8 97.4v59.9m-3 -59.9h6m-6 59.9h6M176.3 98.6v40.4m-3 -40.4h6m-6 40.4h6M465 117.2v33.9m-3 -33.9h6m-6 33.9h6M389.7 108v39.8m-3 -39.8h6m-6 39.8h6M615.8 93.3v57.6m-3 -57.6h6m-6 57.6h6M311.6 87.8v41.1m-3 -41.1h6m-6 41.1h6"/><path stroke="#000" d="M427.5 105.7v37.7m-3 -37.7h6m-6 37.7h6M351.8 126.9v29.6m-3 -29.6h6m-6 29.6h6M535.1 73.6v37.9m-3 -37.9h6m-6 37.9h6M195.2 113.6v40.5m-3 -40.5h6m-6 40.5h6M251.6 112.5v42.6m-3 -42.6h6m-6 42.6h6M246.2 110.4v31.2m-3 -31.2h6m-6 31.2h6M515.9 100v34.3m-3 -34.3h6m-6 34.3h6M377.3 94.4v31m-3 -31h6m-6 31h6M111.6 67.1v24.6m-3 -24.6h6m-6 24.6h6M268.5 121.9v20.9m-3 -20.9h6m-6 20.9h6M403.4 100.9v35.1m-3 -35.1h6m-6 35.1h6M117.8 131.6v19.1m-3 -19.1h6m-6 19.1h6M474.2 103.9v16.4m-3 -16.4h6m-6 16.4h6M493.2 110.9v35m-3 -35h6m-6 35h6M383.6 119.7v23.6m-3 -23.6h6m-6 23.6h6M408.5 113v16.6m-3 -16.6h6m-6 16.6h6M618.3 107.2v38.6m-3 -38.6h6m-6 38.6h6M161 125.3v37.3m-3 -37.3h6m-6 37.3h6M351.5 110.9v36.7m-3 -36.7h6m-6 36.7h6M110.7 101.4v16.7m-3 -16.7h6m-6 16.7h6M558.6 80.7v18m-3 -18h6m-6 18h6M289.6 98.8v34.7m-3 -34.7h6m-6 34.7h6M597.9 116.8v21.6m-3 -21.6h6m-6 21.6h6M479.2 106v43.1m-3 -43.1h6m-6 43.1h6M320.6 109.5v28.4m-3 -28.4h6m-6 28.4h6M226.8 120v43.4m-3 -43.4h6m-6 43.4h6M276.3 110.8v30.4m-3 -30.4h6m-6 30.4h6M609.3 105.2v29.5m-3 -29.5h6m-6 29.5h6M378 136.3v19m-3 -19h6m-6 19h6M217.6 95.3v81.5m-3 -81.5h6m-6 81.5h6M189.9 117.6v22.8m-3 -22.8h6m-6 22.8h6M390.3 102.6v38m-3 -38h6m-6 38h6M447.8 115.6v33.7m-3 -33.7h6m-6 33.7h6M439.8 120v38.2m-3 -38.2h6m-6 38.2h6M502.9 105.8v37.7m-3 -37.7h6m-6 37.7h6M620.1 110.8v30.5m-3 -30.5h6m-6 30.5h6M486.8 99.3v46.9m-3 -46.9h6m-6 46.9h6M539.2 72.6v37.9m-3 -37.9h6m-6 37.9h6M542.5 89.7v38.6m-3 -38.6h6m-6 38.6h6M412.1 121.4v37m-3 -37h6m-6 37h6M542.9 78.6v35.4m-3 -35.4h6m-6 35.4h6M208.5 121.4v43.2m-3 -43.2h6m-6 43.2h6M193.5 123.7v30m-3 -30h6m-6 30h6M429.9 143.3v22.7m-3 -22.7h6m-6 22.7h6"/><path stroke="#808080" d="M479.1 94.3v70.5m-3 -70.5h6m-6 70.5h6M244 106.3v41.5m-3 -41.5h6m-6 41.5h6M110 84.4v37m-3 -37h6m-6 37h6M492.3 112.6v27.5m-3 -27.5h6m-6 27.5h6"/><path stroke="#800000" d="M595.6 83.1v36.7m-3 -36.7h6m-6 36.7h6M187.1 125.3v44m-3 -44h6m-6 44h6M337.8 90.6v43.7m-3 -43.7h6m-6 43.7h6M560.9 90.3v40.6m-3 -40.6h6m-6 40.6h6M303.1 107.7v27.1m-3 -27.1h6m-6 27.1h6M495.9 103.9v35.8m-3 -35.8h6m-6 35.8h6M171.9 147.2v23.7m-3 -23.7h6m-6 23.7h6M367.4 112.6v31.7m-3 -31.7h6m-6 31.7h6M195.5 121.6v45.5m-3 -45.5h6m-6 45.5h6M584.6 97.2v37.4m-3 -37.4h6m-6 37.4h6M128.1 106.6v43.9m-3 -43.9h6m-6 43.9h6M296.7 119v31.2m-3 -31.2h6m-6 31.2h6M214.8 113.1v35.7m-3 -35.7h6m-6 35.7h6M177.7 121.8v35.5m-3 -35.5h6m-6 35.5h6M442.8 102.1v36.7m-3 -36.7h6m-6 36.7h6M316.8 97.9v31.9m-3 -31.9h6m-6 31.9h6M481.8 128.5v18.2m-3 -18.2h6m-6 18.2h6M279.5 87.4v32.3m-3 -32.3h6m-6 32.3h6M559.9 77.5v16.7m-3 -16.7h6m-6 16.7h6M186.1 115.3v44.4m-3 -44.4h6m-6 44.4h6M165.2 106.3v41.6m-3 -41.6h6m-6 41.6h6M290.3 108v27.3m-3 -27.3h6m-6 27.3h6M482.1 133.2v19.4m-3 -19.4h6m-6 19.4h6M240.6 138.6v21.2m-3 -21.2h6m-6 21.2h6M427.1 104.5v68.6m-3 -68.6h6m-6 68.6h6M568.7 106.6v18.4m-3 -18.4h6m-6 18.4h6M107.9 99v17.9m-3 -17.9h6m-6 17.9h6M590.5 96.4v36.1m-3 -36.1h6m-6 36.1h6M419.8 118.5v27.2m-3 -27.2h6m-6 27.2h6M374.7 113.5v35.4m-3 -35.4h6m-6 35.4h6M135 111.9v33.8m-3 -33.8h6m-6 33.8h6M594 110.7v31.9m-3 -31.9h6m-6 31.9h6M445.8 127.5v27.4m-3 -27.4h6m-6 27.4h6M409.9 107.8v23.8m-3 -23.8h6m-6 23.8h6M346 98.1v33m-3 -33h6m-6 33h6M179.1 142.3v24.1m-3 -24.1h6m-6 24.1h6M188.4 113.5v37.4m-3 -37.4h6m-6 37.4h6M595.6 104.4v32.9m-3 -32.9h6m-6 32.9h6M422.6 131.1v37m-3 -37h6m-6 37h6M476.6 109.3v25m-3 -25h6m-6 25h6M402.7 109.3v30.7m-3 -30.7h6m-6 30.7h6M148.9 120.7v47.4m-3 -47.4h6m-6 47.4h6M300.7 109.7v23.6m-3 -23.6h6m-6 23.6h6M497.5 110v21.2m-3 -21.2h6m-6 21.2h6M514 84.6v41.8m-3 -41.8h6m-6 41.8h6M102.7 57v82.1m-3 -82.1h6m-6 82.1h6"/><path stroke="#f00" d="M566.6 94.1v24.9m-3 -24.9h6m-6 24.9h6M579 67.4v56.8m-3 -56.8h6m-6 56.8h6M245.3 101.9v77.4m-3 -77.4h6m-6 77.4h6M415.3 120.4v28.2m-3 -28.2h6m-6 28.2h6M281.6 96.4v46.9m-3 -46.9h6m-6 46.9h6M552.3 89.1v31.8m-3 -31.8h6m-6 31.8h6M269.5 85.1v98.7m-3 -98.7h6m-6 98.7h6M514.2 78v60.5m-3 -60.5h6m-6 60.5h6M191.9 113.4v32.2m-3 -32.2h6m-6 32.2h6M234.1 110.3v30.8m-3 -30.8h6m-6 30.8h6M280.5 125.3v23.2m-3 -23.2h6m-6 23.2h6M268.8 131.9v30.7m-3 -30.7h6m-6 30.7h6M540.8 73.7v33m-3 -33h6m-6 33h6M256.8 123v18.5m-3 -18.5h6m-6 18.5h6M216.8 116.6v55m-3 -55h6m-6 55h6M549.2 77.9v38.6m-3 -38.6h6m-6 38.6h6M530 85.4v38.5m-3 -38.5h6m-6 38.5h6M428.1 111.8v32.3m-3 -32.3h6m-6 32.3h6M586.4 103.5v32.5m-3 -32.5h6m-6 32.5h6M577.8 94.5v37m-3 -37h6m-6 37h6M347.5 100.2v48.4m-3 -48.4h6m-6 48.4h6M446.8 105.3v51.9m-3 -51.9h6m-6 51.9h6M507.3 82.4v49.6m-3 -49.6h6m-6 49.6h6M144.8 134.8v17.6m-3 -17.6h6m-6 17.6h6M320.9 79.7v31.7m-3 -31.7h6m-6 31.7h6M373.1 111.4v36.8m-3 -36.8h6m-6 36.8h6M342.7 86.5v17.6m-3 -17.6h6m-6 17.6h6M588 102.1v22.6m-3 -22.6h6m-6 22.6h6M559.3 65.7v27.4m-3 -27.4h6m-6 27.4h6M118.1 60.6v23.2m-3 -23.2h6m-6 23.2h6M536.9 66.9v57.8m-3 -57.8h6m-6 57.8h6M405.1 115.2v48.1m-3 -48.1h6m-6 48.1h6M554.3 72.1v29.7m-3 -29.7h6m-6 29.7h6M521.7 74.3v61.6m-3 -61.6h6m-6 61.6h6M430.8 110.8v47.2m-3 -47.2h6m-6 47.2h6M454.7 114.3v49m-3 -49h6m-6 49h6M402.9 137.1v28.4m-3 -28.4h6m-6 28.4h6M333.6 105.7v26m-3 -26h6m-6 26h6M299.8 115.7v24.7m-3 -24.7h6m-6 24.7h6M218.6 115.4v18.8m-3 -18.8h6m-6 18.8h6M416.6 101.8v53.4m-3 -53.4h6m-6 53.4h6M314.1 90.1v38.5m-3 -38.5h6m-6 38.5h6M271.5 98.1v34.8m-3 -34.8h6m-6 34.8h6M319.2 87.6v60.5m-3 -60.5h6m-6 60.5h6M448.5 107v57.2m-3 -57.2h6m-6 57.2h6M605 83v51m-3 -51h6m-6 51h6M107.5 80.1v35.6m-3 -35.6h6m-6 35.6h6M209.7 108.9v45m-3 -45h6m-6 45h6M489.7 93.8v57.4m-3 -57.4h6m-6 57.4h6M547.7 71.9v50.2m-3 -50.2h6m-6 50.2h6M585.9 88.4v24.8m-3 -24.8h6m-6 24.8h6M188.2 115.2v42.2m-3 -42.2h6m-6 42.2h6M592.7 82.7v61.9m-3 -61.9h6m-6 61.9h6M545.7 76.9v45.3m-3 -45.3h6m-6 45.3h6M513.4 100.3v54.2m-3 -54.2h6m-6 54.2h6M291.8 87.3v48.3m-3 -48.3h6m-6 48.3h6M419.1 104.1v57.6m-3 -57.6h6m-6 57.6h6M204.8 118.5v30.7m-3 -30.7h6m-6 30.7h6M134.2 115v16.4m-3 -16.4h6m-6 16.4h6M330.1 126.5v17.2m-3 -17.2h6m-6 17.2h6M325.3 94v22.2m-3 -22.2h6m-6 22.2h6M375.3 133.9v23.4m-3 -23.4h6m-6 23.4h6"/><path stroke="#000" d="M129.4 107.7v40.2m-3 -40.2h6m-6 40.2h6M617.1 94.3v25.7m-3 -25.7h6m-6 25.7h6M448.5 120.2v34.7m-3 -34.7h6m-6 34.7h6M215.9 117.4v29.7m-3 -29.7h6m-6 29.7h6M316.2 91.8v31.2m-3 -31.2h6m-6 31.2h6M441.7 118.4v27.2m-3 -27.2h6m-6 27.2h6M171.4 97.8v40.7m-3 -40.7h6m-6 40.7h6M220.4 142.1v22.3m-3 -22.3h6m-6 22.3h6M163.3 114.2v29.4m-3 -29.4h6m-6 29.4h6M479.3 109.9v41m-3 -41h6m-6 41h6M544.8 93.8v23.1m-3 -23.1h6m-6 23.1h6M543 79.9v19m-3 -19h6m-6 19h6M617.6 121.1v27.4m-3 -27.4h6m-6 27.4h6M339 113v23.2m-3 -23.2h6m-6 23.2h6M526.4 87.1v34.8m-3 -34.8h6m-6 34.8h6M132.7 97.4v44.5m-3 -44.5h6m-6 44.5h6M496.2 88.6v44.1m-3 -44.1h6m-6 44.1h6M430 119.9v22.4m-3 -22.4h6m-6 22.4h6M333.3 100.3v70.8m-3 -70.8h6m-6 70.8h6M399.8 100.5v35.9m-3 -35.9h6m-6 35.9h6M312.5 103.3v27.4m-3 -27.4h6m-6 27.4h6M114.2 134.4v26m-3 -26h6m-6 26h6M222.2 150.6v21.6m-3 -21.6h6m-6 21.6h6M171.9 113.2v16.4m-3 -16.4h6m-6 16.4h6M330.2 92.9v25.7m-3 -25.7h6m-6 25.7h6M612 103.8v20.1m-3 -20.1h6m-6 20.1h6M224.8 130v41.4m-3 -41.4h6m-6 41.4h6M357.3 114.9v46.6m-3 -46.6h6m-6 46.6h6M211.1 140.9v20.1m-3 -20.1h6m-6 20.1h6M149.7 124.1v22.8m-3 -22.8h6m-6 22.8h6M254.4 91.1v79.1m-3 -79.1h6m-6 79.1h6M501.4 90.2v29.6m-3 -29.6h6m-6 29.6h6M423.7 99.1v42m-3 -42h6m-6 42h6"/><path stroke="#00f" d="M292.2 120.2v32.3m-3 -32.3h6m-6 32.3h6M371.5 97.5v47.3m-3 -47.3h6m-6 47.3h6M104.4 128.6v23.5m-3 -23.5h6m-6 23.5h6M607.8 100.9v49.3m-3 -49.3h6m-6 49.3h6M119.8 78.8v32.5m-3 -32.5h6m-6 32.5h6M369.6 76.7v22.4m-3 -22.4h6m-6 22.4h6M212 105.2v14.4m-3 -14.4h6m-6 14.4h6M285.4 85.3v38.4m-3 -38.4h6m-6 38.4h6M244.7 107v41.9m-3 -41.9h6m-6 41.9h6M344.5 66.1v35.8m-3 -35.8h6m-6 35.8h6M120.6 94v52.5m-3 -52.5h6m-6 52.5h6M413.7 122.7v16.3m-3 -16.3h6m-6 16.3h6M133.6 88.8v45.6m-3 -45.6h6m-6 45.6h6M106.3 45.1v23.1m-3 -23.1h6m-6 23.1h6M501.4 90v49.8m-3 -49.8h6m-6 49.8h6M404.4 104.8v42.7m-3 -42.7h6m-6 42.7h6M204.1 109.2v54.4m-3 -54.4h6m-6 54.4h6M524.6 87.4v43m-3 -43h6m-6 43h6M421 111.7v42m-3 -42h6m-6 42h6M246.3 107.5v54m-3 -54h6m-6 54h6M196.8 141.7v35.4m-3 -35.4h6m-6 35.4h6M367.1 90.9v24m-3 -24h6m-6 24h6M532.9 94.5v29.1m-3 -29.1h6m-6 29.1h6M567.7 92.8v28.6m-3 -28.6h6m-6 28.6h6M510.8 98.4v23.9m-3 -23.9h6m-6 23.9h6M279.3 119.8v26.8m-3 -26.8h6m-6 26.8h6M204.6 113.4v45.3m-3 -45.3h6m-6 45.3h6M586.2 79.5v43.4m-3 -43.4h6m-6 43.4h6M498.7 83.5v43.1m-3 -43.1h6m-6 43.1h6M198.9 126.2v35.7m-3 -35.7h6m-6 35.7h6M407.6 84v18.3m-3 -18.3h6m-6 18.3h6M529.9 78.2v53.8m-3 -53.8h6m-6 53.8h6M609.7 106.3v43.4m-3 -43.4h6m-6 43.4h6M460 82.1v43m-3 -43h6m-6 43h6M244.2 109.3v23.8m-3 -23.8h6m-6 23.8h6M332.9 77.8v40.1m-3 -40.1h6m-6 40.1h6M533.2 58.8v12.9m-3 -12.9h6m-6 12.9h6M120 82.6v53.1m-3 -53.1h6m-6 53.1h6M449.9 109.6v31m-3 -31h6m-6 31h6M185.4 106.9v30.5m-3 -30.5h6m-6 30.5h6M156.7 114.1v33.1m-3 -33.1h6m-6 33.1h6M585 60.7v30m-3 -30h6m-6 30h6M572.2 78.9v41.6m-3 -41.6h6m-6 41.6h6M438 118.4v25.2m-3 -25.2h6m-6 25.2h6M538 81.2v42.4m-3 -42.4h6m-6 42.4h6"/><path stroke="#000080" d="M305.3 112.5v34.1m-3 -34.1h6m-6 34.1h6M599.3 90.3v19.9m-3 -19.9h6m-6 19.9h6M173.2 122v32.9m-3 -32.9h6m-6 32.9h6M463.4 104.8v31.5m-3 -31.5h6m-6 31.5h6M146.1 93.7v27.7m-3 -27.7h6m-6 27.7h6M314 112.6v16.1m-3 -16.1h6m-6 16.1h6M604.8 93.2v35.1m-3 -35.1h6m-6 35.1h6M119.5 68.4v37.6m-3 -37.6h6m-6 37.6h6M219.3 96.9v20.7m-3 -20.7h6m-6 20.7h6M424.2 89.3v18m-3 -18h6m-6 18h6M104 90.3v24.3m-3 -24.3h6m-6 24.3h6M567.3 94.8v25.9m-3 -25.9h6m-6 25.9h6M219.2 111v38.7m-3 -38.7h6m-6 38.7h6M323.1 91.6v48m-3 -48h6m-6 48h6M232.8 153.7v16.8m-3 -16.8h6m-6 16.8h6M467.3 81.9v38m-3 -38h6m-6 38h6M357.2 124.5v21.4m-3 -21.4h6m-6 21.4h6M352.4 48.8v66.9m-3 -66.9h6m-6 66.9h6M533.1 80.7v23.5m-3 -23.5h6m-6 23.5h6M217.6 131.4v33.7m-3 -33.7h6m-6 33.7h6M194.3 107.9v47.2m-3 -47.2h6m-6 47.2h6M288.3 109.2v42m-3 -42h6m-6 42h6M564.8 96.6v33m-3 -33h6m-6 33h6M534.2 42.5v49.5m-3 -49.5h6m-6 49.5h6M410 117.1v34.1m-3 -34.1h6m-6 34.1h6M282.8 81.8v21.2m-3 -21.2h6m-6 21.2h6M301.7 60.9v41.8m-3 -41.8h6m-6 41.8h6M520.7 75.8v25.6m-3 -25.6h6m-6 25.6h6M300.9 57.7v79.2m-3 -79.2h6m-6 79.2h6M414.1 113.5v34.9m-3 -34.9h6m-6 34.9h6M324.2 71.5v24.3m-3 -24.3h6m-6 24.3h6"/><path stroke="#008000" d="M548.6 68.4v65.3m-3 -65.3h6m-6 65.3h6M617.9 65.1v66.8m-3 -66.8h6m-6 66.8h6M500.9 119.4v30.4m-3 -30.4h6m-6 30.4h6M293.4 83.2v65.6m-3 -65.6h6m-6 65.6h6M205.3 117v34.6m-3 -34.6h6m-6 34.6h6M208.8 91.1v44.8m-3 -44.8h6m-6 44.8h6M389.7 92.3v50.9m-3 -50.9h6m-6 50.9h6M195.7 86.6v41.2m-3 -41.2h6m-6 41.2h6M232.5 114.9v44.9m-3 -44.9h6m-6 44.9h6M206.2 83.3v67.3m-3 -67.3h6m-6 67.3h6M137 88.5v41.8m-3 -41.8h6m-6 41.8h6M407.5 97.5v44.1m-3 -44.1h6m-6 44.1h6M550.1 85.5v27m-3 -27h6m-6 27h6M351 83.4v34m-3 -34h6m-6 34h6M188.2 100.8v92.7m-3 -92.7h6m-6 92.7h6M451 84.9v44.3m-3 -44.3h6m-6 44.3h6M327.7 53.8v54m-3 -54h6m-6 54h6M333.2 95v43.6m-3 -43.6h6m-6 43.6h6M333.9 55.2v51.8m-3 -51.8h6m-6 51.8h6M532.9 71.2v35.7m-3 -35.7h6m-6 35.7h6M140.9 60.2v58.4m-3 -58.4h6m-6 58.4h6M565.3 71.9v57.6m-3 -57.6h6m-6 57.6h6M306.4 113.3v23.8m-3 -23.8h6m-6 23.8h6M520.7 86.6v26.3m-3 -26.3h6m-6 26.3h6M250.3 132.1v22.6m-3 -22.6h6m-6 22.6h6M160.1 128.2v52.1m-3 -52.1h6m-6 52.1h6M182.6 81.4v67.4m-3 -67.4h6m-6 67.4h6M127.3 106.7v48.7m-3 -48.7h6m-6 48.7h6M133.9 86.7v52.8m-3 -52.8h6m-6 52.8h6M485.5 79.7v88m-3 -88h6m-6 88h6M159.5 89.7v53.8m-3 -53.8h6m-6 53.8h6M511.5 60.8v61.2m-3 -61.2h6m-6 61.2h6M385.2 96.8v49.3m-3 -49.3h6m-6 49.3h6M253.3 119v43m-3 -43h6m-6 43h6M131.6 82.8v47.2m-3 -47.2h6m-6 47.2h6M158.2 84.5v59.3m-3 -59.3h6m-6 59.3h6M159.1 75.3v51.5m-3 -51.5h6m-6 51.5h6M310 87.3v79.8m-3 -79.8h6m-6 79.8h6M314.3 86.1v38.8m-3 -38.8h6m-6 38.8h6M442.7 110.2v41.3m-3 -41.3h6m-6 41.3h6M296.9 95.7v44.7m-3 -44.7h6m-6 44.7h6M400.6 99.4v43.3m-3 -43.3h6m-6 43.3h6M380.6 104.6v53.8m-3 -53.8h6m-6 53.8h6M452.8 110.8v59m-3 -59h6m-6 59h6M149.3 98.5v41.9m-3 -41.9h6m-6 41.9h6M583.6 82.8v54.6m-3 -54.6h6m-6 54.6h6M347.4 91.5v44.6m-3 -44.6h6m-6 44.6h6M561.5 83.9v34.4m-3 -34.4h6m-6 34.4h6M206.4 86.1v61.6m-3 -61.6h6m-6 61.6h6M470.1 102.1v42.4m-3 -42.4h6m-6 42.4h6M487.6 99.7v38.1m-3 -38.1h6m-6 38.1h6M118.2 79.5v26.9m-3 -26.9h6m-6 26.9h6"/><path stroke="#008080" d="M142.8 116.8v28.9m-3 -28.9h6m-6 28.9h6M373.5 98.7v40.9m-3 -40.9h6m-6 40.9h6M250.7 83.9v60.7m-3 -60.7h6m-6 60.7h6M507.7 103v36.5m-3 -36.5h6m-6 36.5h6M210.9 120.2v46.3m-3 -46.3h6m-6 46.3h6M211.5 117.6v42.8m-3 -42.8h6m-6 42.8h6M217.3 151.1v25.7m-3 -25.7h6m-6 25.7h6M447 100.8v37m-3 -37h6m-6 37h6M541.1 69.2v35.2m-3 -35.2h6m-6 35.2h6M164.8 101.1v31.4m-3 -31.4h6m-6 31.4h6M472.7 111.7v64.2m-3 -64.2h6m-6 64.2h6M597.8 107.9v32.5m-3 -32.5h6m-6 32.5h6M168.9 148.6v23.1m-3 -23.1h6m-6 23.1h6M491.2 116.4v38.3m-3 -38.3h6m-6 38.3h6M265.7 92.9v39.1m-3 -39.1h6m-6 39.1h6M271.6 118.6v35.4m-3 -35.4h6m-6 35.4h6M440 106.9v32.7m-3 -32.7h6m-6 32.7h6M312.6 105.5v37.7m-3 -37.7h6m-6 37.7h6M349.5 110.3v38.8m-3 -38.8h6m-6 38.8h6M559.8 61v32m-3 -32h6m-6 32h6M304.7 127.1v28.6m-3 -28.6h6m-6 28.6h6"/><path stroke="#800080" d="M151.2 106.4v57.6m-3 -57.6h6m-6 57.6h6M201.2 109.7v54.1m-3 -54.1h6m-6 54.1h6M241.5 130.3v28.7m-3 -28.7h6m-6 28.7h6M523.8 84.7v20.6m-3 -20.6h6m-6 20.6h6M310 109.4v40.8m-3 -40.8h6m-6 40.8h6M222.9 127.9v44.9m-3 -44.9h6m-6 44.9h6M220.8 119.3v41.7m-3 -41.7h6m-6 41.7h6M505.7 80.1v50m-3 -50h6m-6 50h6M135.6 128.2v16.5m-3 -16.5h6m-6 16.5h6M370.2 127.7v22.3m-3 -22.3h6m-6 22.3h6M454 105v50.1m-3 -50.1h6m-6 50.1h6M395 115.6v39.1m-3 -39.1h6m-6 39.1h6M155.5 110.8v34.1m-3 -34.1h6m-6 34.1h6M217 142.2v34.4m-3 -34.4h6m-6 34.4h6M465 110.9v41.6m-3 -41.6h6m-6 41.6h6M334.7 109.4v40.3m-3 -40.3h6m-6 40.3h6M619.4 92v43.4m-3 -43.4h6m-6 43.4h6M454.2 127.4v36.4m-3 -36.4h6m-6 36.4h6M308.5 83.2v41.2m-3 -41.2h6m-6 41.2h6M609.8 115.7v18m-3 -18h6m-6 18h6M152.6 93.5v57.4m-3 -57.4h6m-6 57.4h6M144.3 119.3v19.3m-3 -19.3h6m-6 19.3h6M325.1 89.5v48.4m-3 -48.4h6m-6 48.4h6M119.7 109.2v28.2m-3 -28.2h6m-6 28.2h6M473.1 104.8v57.8m-3 -57.8h6m-6 57.8h6M247 119.5v44.6m-3 -44.6h6m-6 44.6h6M599.9 81.7v42.6m-3 -42.6h6m-6 42.6h6M513.9 115.9v19.3m-3 -19.3h6m-6 19.3h6M134 91v22.8m-3 -22.8h6m-6 22.8h6M269.9 94.5v44.9m-3 -44.9h6m-6 44.9h6M512.9 81.2v47.1m-3 -47.1h6m-6 47.1h6M371.4 101.9v30m-3 -30h6m-6 30h6M461.3 105.7v38.6m-3 -38.6h6m-6 38.6h6M407.3 119.9v27.7m-3 -27.7h6m-6 27.7h6M224.8 143.2v29.2m-3 -29.2h6m-6 29.2h6M285.1 86.6v42.6m-3 -42.6h6m-6 42.6h6M544.2 78.9v39.1m-3 -39.1h6m-6 39.1h6M564.5 73.6v50.2m-3 -50.2h6m-6 50.2h6M212.5 115.3v45m-3 -45h6m-6 45h6M122.1 73.8v40.8m-3 -40.8h6m-6 40.8h6M543.7 109.1v19.9m-3 -19.9h6m-6 19.9h6M415.3 91.6v49.1m-3 -49.1h6m-6 49.1h6M231.8 111.7v35.2m-3 -35.2h6m-6 35.2h6"/><path stroke="#808080" d="M217.6 125.1v36.2m-3 -36.2h6m-6 36.2h6M190.9 113.1v37m-3 -37h6m-6 37h6M111.9 106.5v42.8m-3 -42.8h6m-6 42.8h6M303.4 121.9v17.4m-3 -17.4h6m-6 17.4h6"/><path stroke="#f00" d="M491.6 115.7v25.7m-3 -25.7h6m-6 25.7h6M186.1 116.7v50.5m-3 -50.5h6m-6 50.5h6M208.5 126.3v24.1m-3 -24.1h6m-6 24.1h6M307.4 107.8v45.1m-3 -45.1h6m-6 45.1h6M610.4 95.6v51.1m-3 -51.1h6m-6 51.1h6M508.3 80.8v24.6m-3 -24.6h6m-6 24.6h6M494.3 103v50.5m-3 -50.5h6m-6 50.5h6M338.9 127.5v19.7m-3 -19.7h6m-6 19.7h6M456.8 125.4v34.4m-3 -34.4h6m-6 34.4h6M186.6 114.3v24.4m-3 -24.4h6m-6 24.4h6M270.9 121.2v24.6m-3 -24.6h6m-6 24.6h6M357.9 87.3v27.6m-3 -27.6h6m-6 27.6h6M108.2 59.3v27.8m-3 -27.8h6m-6 27.8h6M298.6 108.4v36.6m-3 -36.6h6m-6 36.6h6M154.4 115.8v46.1m-3 -46.1h6m-6 46.1h6M474.5 102.6v74.5m-3 -74.5h6m-6 74.5h6M436.1 122.6v40.3m-3 -40.3h6m-6 40.3h6M151.8 99.7v54.4m-3 -54.4h6m-6 54.4h6M254 113.5v45.8m-3 -45.8h6m-6 45.8h6M376.6 86.2v50.6m-3 -50.6h6m-6 50.6h6M388.2 92.9v30.3m-3 -30.3h6m-6 30.3h6M611.8 84.9v58.9m-3 -58.9h6m-6 58.9h6M134.2 110.7v35.1m-3 -35.1h6m-6 35.1h6M112 79.3v47.7m-3 -47.7h6m-6 47.7h6M548.8 65.9v55.7m-3 -55.7h6m-6 55.7h6M280.7 98.3v28.5m-3 -28.5h6m-6 28.5h6M166.2 121.7v45.4m-3 -45.4h6m-6 45.4h6M281.3 86.6v44.8m-3 -44.8h6m-6 44.8h6M134.5 88.3v31m-3 -31h6m-6 31h6M216.8 120.3v49.8m-3 -49.8h6m-6 49.8h6M197.8 125.4v33.8m-3 -33.8h6m-6 33.8h6M490.9 109.7v30.3m-3 -30.3h6m-6 30.3h6M267.2 88.5v50.8m-3 -50.8h6m-6 50.8h6M355.5 136.3v22.3m-3 -22.3h6m-6 22.3h6M113.1 87.9v30.4m-3 -30.4h6m-6 30.4h6M162.9 113.6v39.5m-3 -39.5h6m-6 39.5h6M583 92.6v22.1m-3 -22.1h6m-6 22.1h6M261.2 90v40.9m-3 -40.9h6m-6 40.9h6M445 119.8v34.9m-3 -34.9h6m-6 34.9h6M449.4 116.1v46.8m-3 -46.8h6m-6 46.8h6M193.2 118.6v48.3m-3 -48.3h6m-6 48.3h6M404 128.9v33.5m-3 -33.5h6m-6 33.5h6M196.9 108.7v59m-3 -59h6m-6 59h6M555.7 66.4v61.8m-3 -61.8h6m-6 61.8h6M264.5 123.1v58.5m-3 -58.5h6m-6 58.5h6M586.3 88.7v35.2m-3 -35.2h6m-6 35.2h6M616.3 123.6v25m-3 -25h6m-6 25h6M146.7 113.8v31.1m-3 -31.1h6m-6 31.1h6M271.4 91v58.8m-3 -58.8h6m-6 58.8h6M318.2 87.9v63m-3 -63h6m-6 63h6M497 110.6v31.7m-3 -31.7h6m-6 31.7h6M260 104.9v56.8m-3 -56.8h6m-6 56.8h6M484.6 116v36.6m-3 -36.6h6m-6 36.6h6M484.6 105.5v33.6m-3 -33.6h6m-6 33.6h6M205 137.2v27.5m-3 -27.5h6m-6 27.5h6M609.9 107.2v39.1m-3 -39.1h6m-6 39.1h6M428.8 100.1v72.2m-3 -72.2h6m-6 72.2h6M276 83v46.3m-3 -46.3h6m-6 46.3h6M245.1 126.6v38.7m-3 -38.7h6m-6 38.7h6M404.5 101.5v23.3m-3 -23.3h6m-6 23.3h6M559.5 44.1v50.4m-3 -50.4h6m-6 50.4h6"/><path stroke="#008000" d="M421.4 105.3v54.3m-3 -54.3h6m-6 54.3h6M297.4 97v25.7m-3 -25.7h6m-6 25.7h6M214.8 83.1v69m-3 -69h6m-6 69h6M329.2 91.3v23.3m-3 -23.3h6m-6 23.3h6M400.9 101.5v58.4m-3 -58.4h6m-6 58.4h6M474.1 117.8v21.6m-3 -21.6h6m-6 21.6h6M262.5 69.1v48.3m-3 -48.3h6m-6 48.3h6M570.1 60.4v38.7m-3 -38.7h6m-6 38.7h6M134.9 82.4v51.8m-3 -51.8h6m-6 51.8h6M212.9 99.9v61.6m-3 -61.6h6m-6 61.6h6M197.3 118.4v22.9m-3 -22.9h6m-6 22.9h6M321.4 102.3v53.3m-3 -53.3h6m-6 53.3h6M589 45.4v55.3m-3 -55.3h6m-6 55.3h6M530.7 41v60.3m-3 -60.3h6m-6 60.3h6M354.6 107v40.9m-3 -40.9h6m-6 40.9h6M526.9 66.7v55.4m-3 -55.4h6m-6 55.4h6M272 123.5v33m-3 -33h6m-6 33h6M559.8 65.3v29m-3 -29h6m-6 29h6M384.8 81.1v68m-3 -68h6m-6 68h6M433.4 100.9v59.1m-3 -59.1h6m-6 59.1h6M347.1 93v33.7m-3 -33.7h6m-6 33.7h6M306.2 86.5v28.5m-3 -28.5h6m-6 28.5h6M556.2 90.8v32.9m-3 -32.9h6m-6 32.9h6M135.8 62.6v52.4m-3 -52.4h6m-6 52.4h6M108.9 114.2v23.7m-3 -23.7h6m-6 23.7h6M521.5 110.9v26.1m-3 -26.1h6m-6 26.1h6M268.8 130.8v24.5m-3 -24.5h6m-6 24.5h6M386.8 125.8v30.6m-3 -30.6h6m-6 30.6h6M277.2 93.7v48.6m-3 -48.6h6m-6 48.6h6M275.6 72.9v84.1m-3 -84.1h6m-6 84.1h6M606.7 92.2v21.2m-3 -21.2h6m-6 21.2h6M444.8 116.6v34.9m-3 -34.9h6m-6 34.9h6M596.9 50.4v71.8m-3 -71.8h6m-6 71.8h6M533.7 70.2v38.4m-3 -38.4h6m-6 38.4h6M474.2 99.2v47.7m-3 -47.7h6m-6 47.7h6M288.5 66.7v68.3m-3 -68.3h6m-6 68.3h6M429.5 108.2v52.1m-3 -52.1h6m-6 52.1h6M586 79.8v44.2m-3 -44.2h6m-6 44.2h6M505.1 87.4v52.4m-3 -52.4h6m-6 52.4h6M528.9 60.3v60.5m-3 -60.5h6m-6 60.5h6M204.7 99.5v67.4m-3 -67.4h6m-6 67.4h6M472.6 109.4v26.7m-3 -26.7h6m-6 26.7h6M357.7 101.7v67.3m-3 -67.3h6m-6 67.3h6M402.9 101.6v37.8m-3 -37.8h6m-6 37.8h6M361.4 55.1v60.6m-3 -60.6h6m-6 60.6h6M573.8 70.3v58.7m-3 -58.7h6m-6 58.7h6M171.4 101.9v44.7m-3 -44.7h6m-6 44.7h6M373.9 106.9v37.9m-3 -37.9h6m-6 37.9h6M135.9 82.8v28.2m-3 -28.2h6m-6 28.2h6"/><path stroke="#800080" d="M503 113.5v28.6m-3 -28.6h6m-6 28.6h6M477.4 104.4v47.7m-3 -47.7h6m-6 47.7h6M611.9 88.6v40.9m-3 -40.9h6m-6 40.9h6M605.2 95.4v24m-3 -24h6m-6 24h6M615.7 100.4v52.3m-3 -52.3h6m-6 52.3h6M368.2 107.6v49.6m-3 -49.6h6m-6 49.6h6M520.5 75.4v22.6m-3 -22.6h6m-6 22.6h6M466.8 101.1v52.3m-3 -52.3h6m-6 52.3h6M558.7 85.9v32.2m-3 -32.2h6m-6 32.2h6M408.9 122.4v34.2m-3 -34.2h6m-6 34.2h6M120.6 71.9v31.8m-3 -31.8h6m-6 31.8h6M454.8 121.3v31.9m-3 -31.9h6m-6 31.9h6M280.4 118.5v28.9m-3 -28.9h6m-6 28.9h6M449.9 115.6v24.4m-3 -24.4h6m-6 24.4h6M131.4 102.2v41.7m-3 -41.7h6m-6 41.7h6M407.2 96.3v51.3m-3 -51.3h6m-6 51.3h6M446.1 114.1v24.6m-3 -24.6h6m-6 24.6h6M363.4 104.4v34.3m-3 -34.3h6m-6 34.3h6M358.6 93.9v30.7m-3 -30.7h6m-6 30.7h6M557.2 81.3v29.3m-3 -29.3h6m-6 29.3h6M334.8 96.6v46.9m-3 -46.9h6m-6 46.9h6M114 101.2v21.9m-3 -21.9h6m-6 21.9h6M183.7 127.3v24.1m-3 -24.1h6m-6 24.1h6M601.5 91.6v22.1m-3 -22.1h6m-6 22.1h6M303.2 99.7v43.6m-3 -43.6h6m-6 43.6h6M271.8 98v24.4m-3 -24.4h6m-6 24.4h6M248 135.4v29.1m-3 -29.1h6m-6 29.1h6M515.1 75.8v50.2m-3 -50.2h6m-6 50.2h6M449.6 100.3v37.3m-3 -37.3h6m-6 37.3h6M419.1 122.1v29.6m-3 -29.6h6m-6 29.6h6M441 100.9v16.8m-3 -16.8h6m-6 16.8h6M490.4 98.6v50.9m-3 -50.9h6m-6 50.9h6M601.2 88.8v51m-3 -51h6m-6 51h6M264.8 116.4v28.7m-3 -28.7h6m-6 28.7h6M372 117.4v31.6m-3 -31.6h6m-6 31.6h6"/><path stroke="#800000" d="M174.4 115.2v47m-3 -47h6m-6 47h6M430 109.5v31.9m-3 -31.9h6m-6 31.9h6M616.5 92.8v64.8m-3 -64.8h6m-6 64.8h6M159.8 128.2v50.9m-3 -50.9h6m-6 50.9h6M222.4 134.1v25m-3 -25h6m-6 25h6M326.2 103.1v47.1m-3 -47.1h6m-6 47.1h6M251.4 116v39.3m-3 -39.3h6m-6 39.3h6M611.4 76.6v60.3m-3 -60.3h6m-6 60.3h6M535 89.7v45.3m-3 -45.3h6m-6 45.3h6M237.9 128.9v43.8m-3 -43.8h6m-6 43.8h6M549.1 48.8v46.8m-3 -46.8h6m-6 46.8h6M407.5 101.5v19.5m-3 -19.5h6m-6 19.5h6M368.6 110.7v18.4m-3 -18.4h6m-6 18.4h6M407 130.8v23.2m-3 -23.2h6m-6 23.2h6M290.6 115.5v42.2m-3 -42.2h6m-6 42.2h6M574.8 64.3v38.4m-3 -38.4h6m-6 38.4h6M366 133v29.1m-3 -29.1h6m-6 29.1h6M151.6 102v27.6m-3 -27.6h6m-6 27.6h6M246.6 123.8v29m-3 -29h6m-6 29h6M476.2 130.5v32m-3 -32h6m-6 32h6M536 62.4v41.4m-3 -41.4h6m-6 41.4h6M283.8 97.8v36.7m-3 -36.7h6m-6 36.7h6M241.7 112.5v35.8m-3 -35.8h6m-6 35.8h6M292.5 106.9v33.2m-3 -33.2h6m-6 33.2h6M238.7 128.9v36.4m-3 -36.4h6m-6 36.4h6M184.3 99v40m-3 -40h6m-6 40h6M346 90.6v33.3m-3 -33.3h6m-6 33.3h6M150.7 89.3v47.2m-3 -47.2h6m-6 47.2h6M554.8 95.7v26.7m-3 -26.7h6m-6 26.7h6M371 90.4v70.4m-3 -70.4h6m-6 70.4h6M418 102.8v47m-3 -47h6m-6 47h6M289.1 125.1v21.4m-3 -21.4h6m-6 21.4h6M359.7 106.3v38.9m-3 -38.9h6m-6 38.9h6M553 64.3v46.6m-3 -46.6h6m-6 46.6h6M327.1 99.4v18.2m-3 -18.2h6m-6 18.2h6M260.3 105.1v29.5m-3 -29.5h6m-6 29.5h6M434.2 123.5v42.6m-3 -42.6h6m-6 42.6h6M538.5 78.6v42.7m-3 -42.7h6m-6 42.7h6M171.6 98.8v45m-3 -45h6m-6 45h6M575.4 77.8v23.8m-3 -23.8h6m-6 23.8h6M130.3 86.9v32.7m-3 -32.7h6m-6 32.7h6M296.1 93.6v38.2m-3 -38.2h6m-6 38.2h6M498.7 106.6v36.8m-3 -36.8h6m-6 36.8h6M539.3 76.8v26.6m-3 -26.6h6m-6 26.6h6M356.3 115.1v32.7m-3 -32.7h6m-6 32.7h6M520.4 84.8v47.5m-3 -47.5h6m-6 47.5h6M557.9 75.9v17.6m-3 -17.6h6m-6 17.6h6"/><path stroke="#00f" d="M179.8 111.1v31.7m-3 -31.7h6m-6 31.7h6M427.3 107.2v15.5m-3 -15.5h6m-6 15.5h6M570 84.3v52.2m-3 -52.2h6m-6 52.2h6M307.7 102.6v44.7m-3 -44.7h6m-6 44.7h6M237 125.5v30.4m-3 -30.4h6m-6 30.4h6M272.8 90.6v39.3m-3 -39.3h6m-6 39.3h6M339.5 90.1v55.3m-3 -55.3h6m-6 55.3h6M384 119.6v41.5m-3 -41.5h6m-6 41.5h6M115.1 75.9v35.2m-3 -35.2h6m-6 35.2h6M145.2 117.1v30.3m-3 -30.3h6m-6 30.3h6M254.1 120.1v43.2m-3 -43.2h6m-6 43.2h6M207.9 131.6v34.9m-3 -34.9h6m-6 34.9h6M210.5 107.2v28.8m-3 -28.8h6m-6 28.8h6M148.2 120.9v25.6m-3 -25.6h6m-6 25.6h6M598.4 80.6v41.7m-3 -41.7h6m-6 41.7h6M419 85.6v34m-3 -34h6m-6 34h6M422.1 113.7v28.7m-3 -28.7h6m-6 28.7h6M129.7 89v53.3m-3 -53.3h6m-6 53.3h6M257.9 105.8v13.5m-3 -13.5h6m-6 13.5h6M564.5 76.9v25.3m-3 -25.3h6m-6 25.3h6M524.9 76.1v12.1m-3 -12.1h6m-6 12.1h6M374.3 120.6v40m-3 -40h6m-6 40h6M204.5 142.4v26.2m-3 -26.2h6m-6 26.2h6M359.6 114.1v32.5m-3 -32.5h6m-6 32.5h6M373.3 87.7v14.5m-3 -14.5h6m-6 14.5h6M115.3 73.5v28.7m-3 -28.7h6m-6 28.7h6M210 136.3v35m-3 -35h6m-6 35h6M605.7 94.9v33.9m-3 -33.9h6m-6 33.9h6M182.2 91.5v34.9m-3 -34.9h6m-6 34.9h6M149.6 93.9v26.4m-3 -26.4h6m-6 26.4h6M241.5 117.5v41.9m-3 -41.9h6m-6 41.9h6M475.3 108v47.1m-3 -47.1h6m-6 47.1h6M242.9 112.4v20m-3 -20h6m-6 20h6M604.8 77.8v42.4m-3 -42.4h6m-6 42.4h6M194.3 132.9v32.5m-3 -32.5h6m-6 32.5h6M350.3 102.2v48.7m-3 -48.7h6m-6 48.7h6M147.1 111.2v12.6m-3 -12.6h6m-6 12.6h6M452.4 90v20.1m-3 -20.1h6m-6 20.1h6M267.5 77.9v36.9m-3 -36.9h6m-6 36.9h6M287.1 84.3v37.8m-3 -37.8h6m-6 37.8h6M524.7 75.3v27.2m-3 -27.2h6m-6 27.2h6M354.5 103.2v50.5m-3 -50.5h6m-6 50.5h6M440.5 112.8v29.9m-3 -29.9h6m-6 29.9h6M401.8 100.5v75.3m-3 -75.3h6m-6 75.3h6M568.3 76.3v52.1m-3 -52.1h6m-6 52.1h6M130.2 120.5v13.8m-3 -13.8h6m-6 13.8h6M308.3 115.2v41.4m-3 -41.4h6m-6 41.4h6M295 94.3v30.3m-3 -30.3h6m-6 30.3h6"/><path stroke="#808080" d="M347.7 84.5v38.8m-3 -38.8h6m-6 38.8h6M442.7 117v43.3m-3 -43.3h6m-6 43.3h6"/><path stroke="#000" d="M399.5 115v39.5m-3 -39.5h6m-6 39.5h6M192.5 133.2v24.6m-3 -24.6h6m-6 24.6h6M306.2 93v43.2m-3 -43.2h6m-6 43.2h6M384.3 106.2v41.7m-3 -41.7h6m-6 41.7h6M542.8 66v21.2m-3 -21.2h6m-6 21.2h6M517 83.9v41.5m-3 -41.5h6m-6 41.5h6M110.3 118.8v41.8m-3 -41.8h6m-6 41.8h6M171.9 102.6v44.7m-3 -44.7h6m-6 44.7h6M544.1 73.7v44.6m-3 -44.6h6m-6 44.6h6M407.9 95.3v42.4m-3 -42.4h6m-6 42.4h6M513.3 80.7v43.7m-3 -43.7h6m-6 43.7h6M609 84.3v42.5m-3 -42.5h6m-6 42.5h6M113.6 78.8v25.8m-3 -25.8h6m-6 25.8h6M449 98.5v32.8m-3 -32.8h6m-6 32.8h6M366.3 95.5v41.3m-3 -41.3h6m-6 41.3h6M208 111.6v29.6m-3 -29.6h6m-6 29.6h6M489.8 105.8v42m-3 -42h6m-6 42h6M157.4 115.7v17.9m-3 -17.9h6m-6 17.9h6M424.2 132.4v26.2m-3 -26.2h6m-6 26.2h6M529.5 69.9v23.5m-3 -23.5h6m-6 23.5h6M390.6 95v43.7m-3 -43.7h6m-6 43.7h6M488.4 98.6v37.9m-3 -37.9h6m-6 37.9h6M186.4 146.9v28.3m-3 -28.3h6m-6 28.3h6M316 95.8v22.7m-3 -22.7h6m-6 22.7h6M333.1 104.2v37.3m-3 -37.3h6m-6 37.3h6M447.9 119.6v18m-3 -18h6m-6 18h6M397.5 135.7v18.6m-3 -18.6h6m-6 18.6h6M123.4 112.3v35.8m-3 -35.8h6m-6 35.8h6M420.1 108v35m-3 -35h6m-6 35h6M115.1 88.6v38.1m-3 -38.1h6m-6 38.1h6M328.2 98.5v22.5m-3 -22.5h6m-6 22.5h6M177.1 146.1v22.7m-3 -22.7h6m-6 22.7h6M124.4 98.8v41.3m-3 -41.3h6m-6 41.3h6M594.3 96.2v30.2m-3 -30.2h6m-6 30.2h6M195.8 134.6v25.1m-3 -25.1h6m-6 25.1h6M323.1 103.5v31.9m-3 -31.9h6m-6 31.9h6M519.3 91.4v20.1m-3 -20.1h6m-6 20.1h6M272.6 107.7v20.6m-3 -20.6h6m-6 20.6h6"/><path stroke="#008080" d="M147.1 101.1v37.4m-3 -37.4h6m-6 37.4h6M146 125.6v22.2m-3 -22.2h6m-6 22.2h6M391.5 131.6v16.1m-3 -16.1h6m-6 16.1h6M465.6 106.7v48.4m-3 -48.4h6m-6 48.4h6M617.8 110.3v17.9m-3 -17.9h6m-6 17.9h6M605 78.8v23.8m-3 -23.8h6m-6 23.8h6M358.2 109.7v30.3m-3 -30.3h6m-6 30.3h6M579.5 88.1v45m-3 -45h6m-6 45h6M333.2 130.5v27.1m-3 -27.1h6m-6 27.1h6M595.6 85.7v44.6m-3 -44.6h6m-6 44.6h6M121.1 77.4v21.8m-3 -21.8h6m-6 21.8h6M161.7 126.2v28.7m-3 -28.7h6m-6 28.7h6M120.5 124.6v20.4m-3 -20.4h6m-6 20.4h6M267.5 105.9v34.6m-3 -34.6h6m-6 34.6h6M284.5 120v26.5m-3 -26.5h6m-6 26.5h6M186.6 116.9v16.9m-3 -16.9h6m-6 16.9h6M249.3 110.1v38.9m-3 -38.9h6m-6 38.9h6M122.8 85.2v30.9m-3 -30.9h6m-6 30.9h6M310.7 109.7v29.7m-3 -29.7h6m-6 29.7h6M157.1 139.3v17.7m-3 -17.7h6m-6 17.7h6M207.6 131.2v41.4m-3 -41.4h6m-6 41.4h6"/><path stroke="#000080" d="M513.8 66.5v22.4m-3 -22.4h6m-6 22.4h6M423.3 108v33.2m-3 -33.2h6m-6 33.2h6M307.6 114.8v18.3m-3 -18.3h6m-6 18.3h6M228.9 145.4v25m-3 -25h6m-6 25h6M470.9 123.8v21.8m-3 -21.8h6m-6 21.8h6M317.8 110.2v21.5m-3 -21.5h6m-6 21.5h6M409.2 101.7v21.2m-3 -21.2h6m-6 21.2h6M149.4 104.6v38.5m-3 -38.5h6m-6 38.5h6M371.6 89.8v32.2m-3 -32.2h6m-6 32.2h6M378 91.4v46m-3 -46h6m-6 46h6M331.4 92.9v40.6m-3 -40.6h6m-6 40.6h6M236.4 122v38.8m-3 -38.8h6m-6 38.8h6M245.9 95.5v24.5m-3 -24.5h6m-6 24.5h6M196.2 118.8v45.4m-3 -45.4h6m-6 45.4h6M337.3 86.4v49.8m-3 -49.8h6m-6 49.8h6M287.1 57.5v60.5m-3 -60.5h6m-6 60.5h6M578.7 91.5v21.3m-3 -21.3h6m-6 21.3h6M595.5 71.4v32.7m-3 -32.7h6m-6 32.7h6M447.5 117.4v38.8m-3 -38.8h6m-6 38.8h6M528.7 84.5v37.9m-3 -37.9h6m-6 37.9h6M580.6 52.1v30.9m-3 -30.9h6m-6 30.9h6M319 86.7v51.9m-3 -51.9h6m-6 51.9h6M315.6 96.5v37.3m-3 -37.3h6m-6 37.3h6M437.6 95.7v51.5m-3 -51.5h6m-6 51.5h6M520.9 66.6v50.8m-3 -50.8h6m-6 50.8h6M608.6 72.5v23.3m-3 -23.3h6m-6 23.3h6M385.2 99.8v31.3m-3 -31.3h6m-6 31.3h6M491.8 100.9v16.1m-3 -16.1h6m-6 16.1h6M414.3 91.4v48.3m-3 -48.3h6m-6 48.3h6M365.1 94.2v43.5m-3 -43.5h6m-6 43.5h6M360.4 97.3v35.9m-3 -35.9h6m-6 35.9h6M389.9 102.3v40.7m-3 -40.7h6m-6 40.7h6M487.7 105.8v22.1m-3 -22.1h6m-6 22.1h6M365 88.9v51.6m-3 -51.6h6m-6 51.6h6M259.8 107.9v43.5m-3 -43.5h6m-6 43.5h6M396.5 98v26.2m-3 -26.2h6m-6 26.2h6"/><path stroke="#00f" d="M287.7 109.5v22.7m-3 -22.7h6m-6 22.7h6M335 96.9v42.1m-3 -42.1h6m-6 42.1h6M339.4 91.9v22.8m-3 -22.8h6m-6 22.8h6M466.5 91.6v26.9m-3 -26.9h6m-6 26.9h6M607.2 107.6v27m-3 -27h6m-6 27h6M469.4 102.2v41.4m-3 -41.4h6m-6 41.4h6M493.9 89.7v26.2m-3 -26.2h6m-6 26.2h6M183.9 102.2v40.6m-3 -40.6h6m-6 40.6h6M455.8 129.6v25.6m-3 -25.6h6m-6 25.6h6M366.8 113v21.5m-3 -21.5h6m-6 21.5h6M385.5 126.9v22.8m-3 -22.8h6m-6 22.8h6M560.5 65.7v54m-3 -54h6m-6 54h6M392.7 71.3v43.7m-3 -43.7h6m-6 43.7h6M179.4 143.4v23.4m-3 -23.4h6m-6 23.4h6M561 104.1v28.2m-3 -28.2h6m-6 28.2h6M514.6 117.9v17m-3 -17h6m-6 17h6M161.4 116.1v35.8m-3 -35.8h6m-6 35.8h6M264.9 80.3v38.5m-3 -38.5h6m-6 38.5h6M537.7 92.4v41.5m-3 -41.5h6m-6 41.5h6M243.7 129.1v39.1m-3 -39.1h6m-6 39.1h6M227.7 123.7v55.3m-3 -55.3h6m-6 55.3h6M178.1 100.4v37.3m-3 -37.3h6m-6 37.3h6M256.7 117.6v34.8m-3 -34.8h6m-6 34.8h6M390 82v76.9m-3 -76.9h6m-6 76.9h6M205.8 93.2v39.3m-3 -39.3h6m-6 39.3h6M415 124.7v39.6m-3 -39.6h6m-6 39.6h6M271.5 88.2v12.3m-3 -12.3h6m-6 12.3h6M486.6 98.3v44.1m-3 -44.1h6m-6 44.1h6M428.8 113.2v30.4m-3 -30.4h6m-6 30.4h6M209.7 113.3v54.2m-3 -54.2h6m-6 54.2h6M540.6 82.3v21m-3 -21h6m-6 21h6M613.8 114.3v31.7m-3 -31.7h6m-6 31.7h6M593.4 91.4v40.1m-3 -40.1h6m-6 40.1h6M554.4 72.8v49.7m-3 -49.7h6m-6 49.7h6M258.8 110.9v51.2m-3 -51.2h6m-6 51.2h6M326.5 86.8v17.6m-3 -17.6h6m-6 17.6h6M133.8 76v20.6m-3 -20.6h6m-6 20.6h6M515.8 62.5v21.1m-3 -21.1h6m-6 21.1h6M537.7 84.1v34.9m-3 -34.9h6m-6 34.9h6M615.9 88.9v46m-3 -46h6m-6 46h6M153.8 100.9v28.1m-3 -28.1h6m-6 28.1h6M258 93.5v21.7m-3 -21.7h6m-6 21.7h6M281.8 92.1v22.2m-3 -22.2h6m-6 22.2h6M532.7 86.6v13.6m-3 -13.6h6m-6 13.6h6M171.3 116.1v35.6m-3 -35.6h6m-6 35.6h6M472.1 101.5v40.9m-3 -40.9h6m-6 40.9h6M264.8 106.5v34.2m-3 -34.2h6m-6 34.2h6"/><path stroke="#800080" d="M258.4 103.4v28.2m-3 -28.2h6m-6 28.2h6M540.3 76.7v46.5m-3 -46.5h6m-6 46.5h6M308.9 112.7v19.3m-3 -19.3h6m-6 19.3h6M199.4 96.6v55.4m-3 -55.4h6m-6 55.4h6M121.7 80v49.4m-3 -49.4h6m-6 49.4h6M533.4 83.3v28.1m-3 -28.1h6m-6 28.1h6M259.1 110.4v25.8m-3 -25.8h6m-6 25.8h6M405.9 113v35.1m-3 -35.1h6m-6 35.1h6M203.8 117.5v36.2m-3 -36.2h6m-6 36.2h6M123.1 77.8v25.3m-3 -25.3h6m-6 25.3h6M266.1 107.5v37.6m-3 -37.6h6m-6 37.6h6M455.1 131.3v28.6m-3 -28.6h6m-6 28.6h6M513.9 78.6v39.2m-3 -39.2h6m-6 39.2h6M594.2 69.2v97.3m-3 -97.3h6m-6 97.3h6M442.8 99.7v49.3m-3 -49.3h6m-6 49.3h6M111.7 72.3v46.3m-3 -46.3h6m-6 46.3h6M397.6 110.8v47.9m-3 -47.9h6m-6 47.9h6M154 112.5v26.3m-3 -26.3h6m-6 26.3h6M220.7 115.4v22.2m-3 -22.2h6m-6 22.2h6M527.4 78.9v50.6m-3 -50.6h6m-6 50.6h6M308.1 93.3v31.6m-3 -31.6h6m-6 31.6h6M242.2 126.7v30.6m-3 -30.6h6m-6 30.6h6M266.6 90v67.2m-3 -67.2h6m-6 67.2h6M458.3 127.6v29.9m-3 -29.9h6m-6 29.9h6M141.2 98.3v52.2m-3 -52.2h6m-6 52.2h6M524.6 73v38m-3 -38h6m-6 38h6M557.9 65.1v55.4m-3 -55.4h6m-6 55.4h6M523 67.4v32.1m-3 -32.1h6m-6 32.1h6M266.2 111.1v36m-3 -36h6m-6 36h6M598 78.6v18m-3 -18h6m-6 18h6M558.7 70.6v16.5m-3 -16.5h6m-6 16.5h6M354.7 97v77.2m-3 -77.2h6m-6 77.2h6M564.9 97.9v34.8m-3 -34.8h6m-6 34.8h6M449.2 110.4v31.4m-3 -31.4h6m-6 31.4h6M146.4 99.2v46.9m-3 -46.9h6m-6 46.9h6M390.9 110.5v33.7m-3 -33.7h6m-6 33.7h6M601.4 83.1v50.9m-3 -50.9h6m-6 50.9h6M354.6 87.9v52.7m-3 -52.7h6m-6 52.7h6M454.2 118.6v39m-3 -39h6m-6 39h6M291.7 111.3v39.3m-3 -39.3h6m-6 39.3h6M214.3 112.1v44.5m-3 -44.5h6m-6 44.5h6M178 105.9v45.2m-3 -45.2h6m-6 45.2h6M572.6 67.7v57.4m-3 -57.4h6m-6 57.4h6"/><path stroke="#800000" d="M404.9 116.7v38.3m-3 -38.3h6m-6 38.3h6M215.7 116.6v38.5m-3 -38.5h6m-6 38.5h6M516.6 82.7v41.5m-3 -41.5h6m-6 41.5h6M320.8 105.7v20.6m-3 -20.6h6m-6 20.6h6M614.5 127.5v17.8m-3 -17.8h6m-6 17.8h6M170.1 116.3v29.2m-3 -29.2h6m-6 29.2h6M349.3 116.4v22.9m-3 -22.9h6m-6 22.9h6M561.7 66.8v16.7m-3 -16.7h6m-6 16.7h6M179.8 126.5v44.3m-3 -44.3h6m-6 44.3h6M490.3 104.4v42.1m-3 -42.1h6m-6 42.1h6M255.4 136.5v21.6m-3 -21.6h6m-6 21.6h6M124.7 109.2v46.4m-3 -46.4h6m-6 46.4h6M445.6 139v21.3m-3 -21.3h6m-6 21.3h6M527.5 90.2v24.1m-3 -24.1h6m-6 24.1h6M556.6 74v47.3m-3 -47.3h6m-6 47.3h6M489.9 105.1v26.3m-3 -26.3h6m-6 26.3h6M570.7 81.4v25.6m-3 -25.6h6m-6 25.6h6M456.3 104.3v47.3m-3 -47.3h6m-6 47.3h6M498 105.6v46.1m-3 -46.1h6m-6 46.1h6M235.8 128.7v47.2m-3 -47.2h6m-6 47.2h6M505.8 94.6v23.8m-3 -23.8h6m-6 23.8h6M102.1 95.8v45.5m-3 -45.5h6m-6 45.5h6M237.4 126.6v25.2m-3 -25.2h6m-6 25.2h6M313.4 82.8v45m-3 -45h6m-6 45h6M309.1 98.4v41.3m-3 -41.3h6m-6 41.3h6M306.8 126.1v16.1m-3 -16.1h6m-6 16.1h6M560 71.2v34.6m-3 -34.6h6m-6 34.6h6M125.4 88.4v18.8m-3 -18.8h6m-6 18.8h6M227.9 120.8v35.7m-3 -35.7h6m-6 35.7h6M531 84.8v34.1m-3 -34.1h6m-6 34.1h6M221.3 125.6v36m-3 -36h6m-6 36h6M550 72.2v19.2m-3 -19.2h6m-6 19.2h6M618.4 113.3v17.1m-3 -17.1h6m-6 17.1h6M305.6 93.8v39.9m-3 -39.9h6m-6 39.9h6M293 104v24.5m-3 -24.5h6m-6 24.5h6M596.3 86.6v47.1m-3 -47.1h6m-6 47.1h6M535 54.8v63.7m-3 -63.7h6m-6 63.7h6M451.2 111.4v42.5m-3 -42.5h6m-6 42.5h6M183.7 141.9v28m-3 -28h6m-6 28h6M130.5 125.1v37.8m-3 -37.8h6m-6 37.8h6M270.5 124.4v30.1m-3 -30.1h6m-6 30.1h6M220.2 133.3v28.6m-3 -28.6h6m-6 28.6h6"/><path stroke="#000080" d="M396.5 103.8v48.2m-3 -48.2h6m-6 48.2h6M349.8 125v26.2m-3 -26.2h6m-6 26.2h6M281.4 79.9v20.1m-3 -20.1h6m-6 20.1h6M363.4 114v41.2m-3 -41.2h6m-6 41.2h6M550.6 71.2v44.3m-3 -44.3h6m-6 44.3h6M552.8 65.9v31.2m-3 -31.2h6m-6 31.2h6M259.7 122.8v18.3m-3 -18.3h6m-6 18.3h6M293.9 95.4v50.6m-3 -50.6h6m-6 50.6h6M412.2 118.3v32.3m-3 -32.3h6m-6 32.3h6M511.6 105.4v28m-3 -28h6m-6 28h6M180.6 85v45.8m-3 -45.8h6m-6 45.8h6M237.3 88.1v48.4m-3 -48.4h6m-6 48.4h6M552.9 91.8v20m-3 -20h6m-6 20h6M342.8 102v37.3m-3 -37.3h6m-6 37.3h6M221.1 114.2v44.7m-3 -44.7h6m-6 44.7h6M119.9 94.7v46.8m-3 -46.8h6m-6 46.8h6M317.2 103.8v29.1m-3 -29.1h6m-6 29.1h6M220 122v41.3m-3 -41.3h6m-6 41.3h6M140.4 99v42.2m-3 -42.2h6m-6 42.2h6M317.4 73.1v22.2m-3 -22.2h6m-6 22.2h6M246.9 105.3v49.7m-3 -49.7h6m-6 49.7h6M364 97.3v40.7m-3 -40.7h6m-6 40.7h6M170.9 121.9v16.9m-3 -16.9h6m-6 16.9h6M110.7 59.6v30.6m-3 -30.6h6m-6 30.6h6M128.3 109.7v32.7m-3 -32.7h6m-6 32.7h6M334.5 83.1v51.4m-3 -51.4h6m-6 51.4h6M348.2 117.2v26m-3 -26h6m-6 26h6M278.5 98.4v50m-3 -50h6m-6 50h6M608.1 94.3v42.2m-3 -42.2h6m-6 42.2h6M427.4 98.5v68.1m-3 -68.1h6m-6 68.1h6M377.6 91.3v49.6m-3 -49.6h6m-6 49.6h6M287 68.3v29.8m-3 -29.8h6m-6 29.8h6M141.1 83.1v40.3m-3 -40.3h6m-6 40.3h6M155.3 124.5v23.9m-3 -23.9h6m-6 23.9h6M584.6 102.9v33.1m-3 -33.1h6m-6 33.1h6M107.6 89.5v39.5m-3 -39.5h6m-6 39.5h6M125.9 96.1v35.3m-3 -35.3h6m-6 35.3h6M311.5 99.2v47m-3 -47h6m-6 47h6M292.3 66.7v41.6m-3 -41.6h6m-6 41.6h6M569 66.8v19.6m-3 -19.6h6m-6 19.6h6M192.9 109.5v42m-3 -42h6m-6 42h6M429 106.5v37.7m-3 -37.7h6m-6 37.7h6"/><path stroke="#008080" d="M272.3 95.3v43m-3 -43h6m-6 43h6M325.5 113.8v36.5m-3 -36.5h6m-6 36.5h6M599.2 77.7v37.2m-3 -37.2h6m-6 37.2h6M161.4 127.3v25.9m-3 -25.9h6m-6 25.9h6M157.7 145v22.6m-3 -22.6h6m-6 22.6h6M130.1 94.8v26.4m-3 -26.4h6m-6 26.4h6M132.7 128.4v30.3m-3 -30.3h6m-6 30.3h6M568.5 74.5v42.1m-3 -42.1h6m-6 42.1h6M441.3 106.6v44.4m-3 -44.4h6m-6 44.4h6M136.2 89.5v26m-3 -26h6m-6 26h6M260.5 91.7v66.7m-3 -66.7h6m-6 66.7h6M402.4 109.2v37m-3 -37h6m-6 37h6M428.1 131.9v30.4m-3 -30.4h6m-6 30.4h6M572.1 74.6v18.5m-3 -18.5h6m-6 18.5h6M169.2 131.1v29.5m-3 -29.5h6m-6 29.5h6M422.9 107.5v44.8m-3 -44.8h6m-6 44.8h6M114.3 120.8v16.9m-3 -16.9h6m-6 16.9h6M573.7 70.5v41.2m-3 -41.2h6m-6 41.2h6M466.3 118.9v32.5m-3 -32.5h6m-6 32.5h6M486.6 114.2v21.9m-3 -21.9h6m-6 21.9h6M250.5 105.4v55.4m-3 -55.4h6m-6 55.4h6M501.3 92.1v21.7m-3 -21.7h6m-6 21.7h6"/><path stroke="#f00" d="M528.6 71.5v27.2m-3 -27.2h6m-6 27.2h6M229.1 139.2v31.6m-3 -31.6h6m-6 31.6h6M538.7 42.4v60.1m-3 -60.1h6m-6 60.1h6M316 79.4v59.7m-3 -59.7h6m-6 59.7h6M166.1 101.2v63.1m-3 -63.1h6m-6 63.1h6M135.8 83v60m-3 -60h6m-6 60h6M298.8 60.2v99.1m-3 -99.1h6m-6 99.1h6M565.4 70.8v40.3m-3 -40.3h6m-6 40.3h6M511.2 80.7v41.1m-3 -41.1h6m-6 41.1h6M388.2 113.1v46.1m-3 -46.1h6m-6 46.1h6M422 100.6v51.3m-3 -51.3h6m-6 51.3h6M413.2 103.3v29.2m-3 -29.2h6m-6 29.2h6M188.8 113.6v30.5m-3 -30.5h6m-6 30.5h6M107.4 82.8v38.5m-3 -38.5h6m-6 38.5h6M120.7 94.9v62.3m-3 -62.3h6m-6 62.3h6M258.4 104v36.9m-3 -36.9h6m-6 36.9h6M151.9 101v47.3m-3 -47.3h6m-6 47.3h6M606.6 85.3v24.9m-3 -24.9h6m-6 24.9h6M146.1 114.4v46.1m-3 -46.1h6m-6 46.1h6M171.3 116.4v35.4m-3 -35.4h6m-6 35.4h6M309.5 89.2v43.7m-3 -43.7h6m-6 43.7h6M182.6 115.4v50.4m-3 -50.4h6m-6 50.4h6M329.4 106.1v46.9m-3 -46.9h6m-6 46.9h6M386.8 89.9v29.2m-3 -29.2h6m-6 29.2h6M163.6 128.4v36.7m-3 -36.7h6m-6 36.7h6M302.8 85.5v38.6m-3 -38.6h6m-6 38.6h6M505.8 87.9v26.7m-3 -26.7h6m-6 26.7h6M365.4 97.2v36.9m-3 -36.9h6m-6 36.9h6M511.6 93v51.7m-3 -51.7h6m-6 51.7h6M129.4 98.8v43.8m-3 -43.8h6m-6 43.8h6M186.5 81.1v74.3m-3 -74.3h6m-6 74.3h6M390.2 104.9v39.4m-3 -39.4h6m-6 39.4h6M393.8 99.8v55.1m-3 -55.1h6m-6 55.1h6M271.2 98.3v32.7m-3 -32.7h6m-6 32.7h6M595.1 84.6v42.9m-3 -42.9h6m-6 42.9h6M115.8 71.4v49.6m-3 -49.6h6m-6 49.6h6M555.6 74.4v28.7m-3 -28.7h6m-6 28.7h6M364.3 107v27.4m-3 -27.4h6m-6 27.4h6M615.6 98.4v33.1m-3 -33.1h6m-6 33.1h6M464.6 117.4v28m-3 -28h6m-6 28h6M567.2 89.5v35.7m-3 -35.7h6m-6 35.7h6M462.4 112.3v37.9m-3 -37.9h6m-6 37.9h6M253.1 107.5v32.3m-3 -32.3h6m-6 32.3h6M545.4 70.7v46.8m-3 -46.8h6m-6 46.8h6M172.9 116v31.5m-3 -31.5h6m-6 31.5h6M471.4 89.4v72.5m-3 -72.5h6m-6 72.5h6M196.6 119.2v47.1m-3 -47.1h6m-6 47.1h6M389.3 106.8v27.6m-3 -27.6h6m-6 27.6h6M247.4 110.4v29.6m-3 -29.6h6m-6 29.6h6M275.6 120.5v22m-3 -22h6m-6 22h6M142.8 84.2v46.1m-3 -46.1h6m-6 46.1h6M286.1 96.3v46.6m-3 -46.6h6m-6 46.6h6M583.8 67.5v55.3m-3 -55.3h6m-6 55.3h6M153.2 111.2v44.4m-3 -44.4h6m-6 44.4h6M130.6 63.7v64.4m-3 -64.4h6m-6 64.4h6M586.4 77v68.4m-3 -68.4h6m-6 68.4h6M431.7 123.2v50.9m-3 -50.9h6m-6 50.9h6M583.7 67.8v42.9m-3 -42.9h6m-6 42.9h6"/><path stroke="#000" d="M335.5 106.8v20.5m-3 -20.5h6m-6 20.5h6M377.4 122.6v31m-3 -31h6m-6 31h6M356.3 109.2v35.9m-3 -35.9h6m-6 35.9h6M213.1 143.5v16.3m-3 -16.3h6m-6 16.3h6M527.8 94v32.1m-3 -32.1h6m-6 32.1h6M560.9 101.8v20.5m-3 -20.5h6m-6 20.5h6M142.7 120.3v28.4m-3 -28.4h6m-6 28.4h6M431 123.7v38.1m-3 -38.1h6m-6 38.1h6M118.2 83.7v16.2m-3 -16.2h6m-6 16.2h6M126.4 116.6v30m-3 -30h6m-6 30h6M102.5 91.6v27m-3 -27h6m-6 27h6M528.3 102.1v30.1m-3 -30.1h6m-6 30.1h6M315 91.3v42.5m-3 -42.5h6m-6 42.5h6M568 45.4v77.7m-3 -77.7h6m-6 77.7h6M327.1 106.5v34.8m-3 -34.8h6m-6 34.8h6M350.1 103.4v42.4m-3 -42.4h6m-6 42.4h6M301.1 75.9v58.9m-3 -58.9h6m-6 58.9h6M475.5 91.2v52.2m-3 -52.2h6m-6 52.2h6M468.9 110v35.3m-3 -35.3h6m-6 35.3h6M621 117.7v34m-3 -34h6m-6 34h6M581.9 93.9v35.8m-3 -35.8h6m-6 35.8h6M263.3 95.3v27.6m-3 -27.6h6m-6 27.6h6M573.7 78.5v43.4m-3 -43.4h6m-6 43.4h6M553.9 67.3v28.8m-3 -28.8h6m-6 28.8h6M138.4 126.2v17.1m-3 -17.1h6m-6 17.1h6M361.5 101v31.9m-3 -31.9h6m-6 31.9h6M165.5 119.5v22m-3 -22h6m-6 22h6M393.8 108.6v41.8m-3 -41.8h6m-6 41.8h6M337.2 111.7v24.9m-3 -24.9h6m-6 24.9h6M579.2 73.1v27.4m-3 -27.4h6m-6 27.4h6M169.6 151v19m-3 -19h6m-6 19h6M390.9 124.3v17.5m-3 -17.5h6m-6 17.5h6"/><path stroke="#808080" d="M613.1 133.1v20.8m-3 -20.8h6m-6 20.8h6M296.5 104.6v16m-3 -16h6m-6 16h6M574.2 94.2v38.6m-3 -38.6h6m-6 38.6h6M193.9 113.7v16.9m-3 -16.9h6m-6 16.9h6"/><path stroke="#008000" d="M561.8 100.2v22.9m-3 -22.9h6m-6 22.9h6M443.6 133.9v24.5m-3 -24.5h6m-6 24.5h6M279.3 53.6v102.4m-3 -102.4h6m-6 102.4h6M548.1 63v55.6m-3 -55.6h6m-6 55.6h6M588.3 72.6v49.9m-3 -49.9h6m-6 49.9h6M561.4 74.4v39.6m-3 -39.6h6m-6 39.6h6M188.8 129.8v32.3m-3 -32.3h6m-6 32.3h6M414.2 87.9v47.9m-3 -47.9h6m-6 47.9h6M488.9 86.1v40.9m-3 -40.9h6m-6 40.9h6M125.1 79.2v59.9m-3 -59.9h6m-6 59.9h6M615.9 101.4v38.6m-3 -38.6h6m-6 38.6h6M480.6 70.6v59m-3 -59h6m-6 59h6M176 120.4v22.6m-3 -22.6h6m-6 22.6h6M185.8 121.8v22m-3 -22h6m-6 22h6M201.8 127.7v43.3m-3 -43.3h6m-6 43.3h6M514.9 82.1v59.1m-3 -59.1h6m-6 59.1h6M507.1 105.5v28.5m-3 -28.5h6m-6 28.5h6M256.3 100.4v37.7m-3 -37.7h6m-6 37.7h6M342.8 49.9v69.3m-3 -69.3h6m-6 69.3h6M472.9 100.8v52.7m-3 -52.7h6m-6 52.7h6M238.7 112v56.9m-3 -56.9h6m-6 56.9h6M534.1 59.6v50.2m-3 -50.2h6m-6 50.2h6M518.8 69.2v61.9m-3 -61.9h6m-6 61.9h6M236.5 111.5v24m-3 -24h6m-6 24h6M452 108.7v52.2m-3 -52.2h6m-6 52.2h6M339.4 79v30.1m-3 -30.1h6m-6 30.1h6M228 107.4v28.4m-3 -28.4h6m-6 28.4h6M283.2 72v38.6m-3 -38.6h6m-6 38.6h6M211.9 95.8v58.9m-3 -58.9h6m-6 58.9h6M126.6 82.3v54.6m-3 -54.6h6m-6 54.6h6M280.7 101.7v25.6m-3 -25.6h6m-6 25.6h6M411.3 107.2v35.1m-3 -35.1h6m-6 35.1h6M222.1 98v37.9m-3 -37.9h6m-6 37.9h6M582.3 65.3v55.5m-3 -55.5h6m-6 55.5h6M195.3 132.1v30m-3 -30h6m-6 30h6M563.8 94.1v34.3m-3 -34.3h6m-6 34.3h6M467.4 108.4v26.9m-3 -26.9h6m-6 26.9h6M247.6 135.2v21.1m-3 -21.1h6m-6 21.1h6M467.3 118.7v25.6m-3 -25.6h6m-6 25.6h6M256.3 103.1v41.9m-3 -41.9h6m-6 41.9h6M104.1 75.7v66.3m-3 -66.3h6m-6 66.3h6M394.3 116.7v33.3m-3 -33.3h6m-6 33.3h6M458.9 87.6v59m-3 -59h6m-6 59h6M446.3 103v42.6m-3 -42.6h6m-6 42.6h6M222.8 125.4v29m-3 -29h6m-6 29h6M180.6 105.6v45.8m-3 -45.8h6m-6 45.8h6M159.3 99.3v28.2m-3 -28.2h6m-6 28.2h6"/><path fill="#00f" d="M285.1 120.9a2.6 2.6 0 1 0 5.2 0a2.6 2.6 0 1 0 -5.2 0M332.4 117.9a2.6 2.6 0 1 0 5.2 0a2.6 2.6 0 1 0 -5.2 0M463.9 105.1a2.6 2.6 0 1 0 5.2 0a2.6 2.6 0 1 0 -5.2 0M466.8 122.9a2.6 2.6 0 1 0 5.2 0a2.6 2.6 0 1 0 -5.2 0M491.3 102.8a2.6 2.6 0 1 0 5.2 0a2.6 2.6 0 1 0 -5.2 0M382.8 138.3a2.6 2.6 0 1 0 5.2 0a2.6 2.6 0 1 0 -5.2 0M557.9 92.7a2.6 2.6 0 1 0 5.2 0a2.6 2.6 0 1 0 -5.2 0M390.1 93.1a2.6 2.6 0 1 0 5.2 0a2.6 2.6 0 1 0 -5.2 0M512 126.4a2.6 2.6 0 1 0 5.2 0a2.6 2.6 0 1 0 -5.2 0M262.3 99.6a2.6 2.6 0 1 0 5.2 0a2.6 2.6 0 1 0 -5.2 0M175.5 119a2.6 2.6 0 1 0 5.2 0a2.6 2.6 0 1 0 -5.2 0M254.1 134.9a2.6 2.6 0 1 0 5.2 0a2.6 2.6 0 1 0 -5.2 0M387.4 120.4a2.6 2.6 0 1 0 5.2 0a2.6 2.6 0 1 0 -5.2 0M203.2 112.9a2.6 2.6 0 1 0 5.2 0a2.6 2.6 0 1 0 -5.2 0M268.9 94.4a2.6 2.6 0 1 0 5.2 0a2.6 2.6 0 1 0 -5.2 0M590.8 111.4a2.6 2.6 0 1 0 5.2 0a2.6 2.6 0 1 0 -5.2 0M323.9 95.6a2.6 2.6 0 1 0 5.2 0a2.6 2.6 0 1 0 -5.2 0M131.2 86.4a2.6 2.6 0 1 0 5.2 0a2.6 2.6 0 1 0 -5.2 0M513.2 73a2.6 2.6 0 1 0 5.2 0a2.6 2.6 0 1 0 -5.2 0M151.2 114.9a2.6 2.6 0 1 0 5.2 0a2.6 2.6 0 1 0 -5.2 0M255.4 104.4a2.6 2.6 0 1 0 5.2 0a2.6 2.6 0 1 0 -5.2 0M530 93.4a2.6 2.6 0 1 0 5.2 0a2.6 2.6 0 1 0 -5.2 0M168.7 133.9a2.6 2.6 0 1 0 5.2 0a2.6 2.6 0 1 0 -5.2 0M469.4 121.9a2.6 2.6 0 1 0 5.2 0a2.6 2.6 0 1 0 -5.2 0M262.2 123.6a2.6 2.6 0 1 0 5.2 0a2.6 2.6 0 1 0 -5.2 0"/><path fill="#800080" d="M258.4 114.5l2.7 3 -2.7 3 -2.7 -3zM540.3 96.9l2.7 3 -2.7 3 -2.7 -3zM308.9 119.4l2.7 3 -2.7 3 -2.7 -3zM259.1 120.2l2.7 3 -2.7 3 -2.7 -3zM405.9 127.5l2.7 3 -2.7 3 -2.7 -3zM266.1 123.3l2.7 3 -2.7 3 -2.7 -3zM442.8 121.4l2.7 3 -2.7 3 -2.7 -3zM111.7 92.5l2.7 3 -2.7 3 -2.7 -3zM397.6 131.7l2.7 3 -2.7 3 -2.7 -3zM220.7 123.5l2.7 3 -2.7 3 -2.7 -3zM527.4 101.2l2.7 3 -2.7 3 -2.7 -3zM266.6 120.5l2.7 3 -2.7 3 -2.7 -3zM524.6 89l2.7 3 -2.7 3 -2.7 -3zM266.2 126.1l2.7 3 -2.7 3 -2.7 -3zM598 84.6l2.7 3 -2.7 3 -2.7 -3zM558.7 75.8l2.7 3 -2.7 3 -2.7 -3zM354.7 132.6l2.7 3 -2.7 3 -2.7 -3zM146.4 119.6l2.7 3 -2.7 3 -2.7 -3zM390.9 124.4l2.7 3 -2.7 3 -2.7 -3zM601.4 105.5l2.7 3 -2.7 3 -2.7 -3zM454.2 135.1l2.7 3 -2.7 3 -2.7 -3zM178 125.4l2.7 3 -2.7 3 -2.7 -3z"/><path fill="#800000" d="M402.3 135.8a2.6 2.6 0 1 0 5.2 0a2.6 2.6 0 1 0 -5.2 0M514 103.5a2.6 2.6 0 1 0 5.2 0a2.6 2.6 0 1 0 -5.2 0M318.2 116a2.6 2.6 0 1 0 5.2 0a2.6 2.6 0 1 0 -5.2 0M559 75.1a2.6 2.6 0 1 0 5.2 0a2.6 2.6 0 1 0 -5.2 0M177.1 148.7a2.6 2.6 0 1 0 5.2 0a2.6 2.6 0 1 0 -5.2 0M122.1 132.4a2.6 2.6 0 1 0 5.2 0a2.6 2.6 0 1 0 -5.2 0M524.9 102.2a2.6 2.6 0 1 0 5.2 0a2.6 2.6 0 1 0 -5.2 0M554 97.6a2.6 2.6 0 1 0 5.2 0a2.6 2.6 0 1 0 -5.2 0M487.3 118.3a2.6 2.6 0 1 0 5.2 0a2.6 2.6 0 1 0 -5.2 0M568 94.2a2.6 2.6 0 1 0 5.2 0a2.6 2.6 0 1 0 -5.2 0M453.7 128a2.6 2.6 0 1 0 5.2 0a2.6 2.6 0 1 0 -5.2 0M233.2 152.3a2.6 2.6 0 1 0 5.2 0a2.6 2.6 0 1 0 -5.2 0M503.2 106.5a2.6 2.6 0 1 0 5.2 0a2.6 2.6 0 1 0 -5.2 0M306.5 119.1a2.6 2.6 0 1 0 5.2 0a2.6 2.6 0 1 0 -5.2 0M225.3 138.6a2.6 2.6 0 1 0 5.2 0a2.6 2.6 0 1 0 -5.2 0M528.4 101.9a2.6 2.6 0 1 0 5.2 0a2.6 2.6 0 1 0 -5.2 0M218.7 143.6a2.6 2.6 0 1 0 5.2 0a2.6 2.6 0 1 0 -5.2 0M302.9 113.7a2.6 2.6 0 1 0 5.2 0a2.6 2.6 0 1 0 -5.2 0M532.4 86.6a2.6 2.6 0 1 0 5.2 0a2.6 2.6 0 1 0 -5.2 0M181.1 155.9a2.6 2.6 0 1 0 5.2 0a2.6 2.6 0 1 0 -5.2 0"/><path fill="#000080" d="M396.5 124.8l2.7 3 -2.7 3 -2.7 -3zM281.4 86.9l2.7 3 -2.7 3 -2.7 -3zM363.4 131.6l2.7 3 -2.7 3 -2.7 -3zM259.7 128.9l2.7 3 -2.7 3 -2.7 -3zM412.2 131.4l2.7 3 -2.7 3 -2.7 -3zM180.6 104.8l2.7 3 -2.7 3 -2.7 -3zM237.3 109.2l2.7 3 -2.7 3 -2.7 -3zM342.8 117.6l2.7 3 -2.7 3 -2.7 -3zM221.1 133.5l2.7 3 -2.7 3 -2.7 -3zM317.2 115.3l2.7 3 -2.7 3 -2.7 -3zM220 139.6l2.7 3 -2.7 3 -2.7 -3zM140.4 117l2.7 3 -2.7 3 -2.7 -3zM317.4 81.1l2.7 3 -2.7 3 -2.7 -3zM246.9 127.1l2.7 3 -2.7 3 -2.7 -3zM110.7 71.9l2.7 3 -2.7 3 -2.7 -3zM128.3 123l2.7 3 -2.7 3 -2.7 -3zM278.5 120.4l2.7 3 -2.7 3 -2.7 -3zM377.6 113.1l2.7 3 -2.7 3 -2.7 -3zM287 80.2l2.7 3 -2.7 3 -2.7 -3zM141.1 100.2l2.7 3 -2.7 3 -2.7 -3zM311.5 119.7l2.7 3 -2.7 3 -2.7 -3zM292.3 84.5l2.7 3 -2.7 3 -2.7 -3zM569 73.6l2.7 3 -2.7 3 -2.7 -3zM192.9 127.5l2.7 3 -2.7 3 -2.7 -3z"/><path fill="none" stroke="#800080" stroke-width="2.2" d="M196 124.3h6.9M199.4 120.9v6.9M118.2 104.7h6.9M121.7 101.3v6.9M529.9 97.4h6.9M533.4 93.9v6.9M200.4 135.6h6.9M203.8 132.2v6.9M119.7 90.5h6.9M123.1 87v6.9M451.7 145.6h6.9M455.1 142.2v6.9M510.5 98.2h6.9M513.9 94.8v6.9M590.7 117.8h6.9M594.2 114.4v6.9M150.6 125.6h6.9M154 122.2v6.9M304.7 109.1h6.9M308.1 105.6v6.9M238.8 142h6.9M242.2 138.5v6.9M454.9 142.5h6.9M458.3 139.1v6.9M137.7 124.4h6.9M141.2 121v6.9M554.5 92.8h6.9M557.9 89.4v6.9M519.6 83.5h6.9M523 80v6.9M561.5 115.3h6.9M564.9 111.9v6.9M445.7 126.1h6.9M449.2 122.6v6.9M351.2 114.2h6.9M354.6 110.8v6.9M288.2 131h6.9M291.7 127.6v6.9M210.9 134.3h6.9M214.3 130.9v6.9M569.2 96.4h6.9M572.6 93v6.9"/><path fill="none" stroke="#008080" stroke-width="2.2" d="M268.9 116.8h6.9M272.3 113.3v6.9M322.1 132.1h6.9M325.5 128.7v6.9M595.7 96.3h6.9M599.2 92.9v6.9M157.9 140.2h6.9M161.4 136.8v6.9M154.3 156.3h6.9M157.7 152.9v6.9M126.6 108h6.9M130.1 104.5v6.9M129.2 143.5h6.9M132.7 140.1v6.9M565.1 95.5h6.9M568.5 92.1v6.9M437.9 128.9h6.9M441.3 125.4v6.9M132.8 102.5h6.9M136.2 99.1v6.9M399 127.7h6.9M402.4 124.3v6.9M568.6 83.8h6.9M572.1 80.4v6.9M165.8 145.8h6.9M169.2 142.4v6.9M419.5 129.9h6.9M422.9 126.4v6.9M110.8 129.2h6.9M114.3 125.8v6.9M570.3 91.1h6.9M573.7 87.6v6.9M462.9 135.1h6.9M466.3 131.7v6.9M483.2 125.2h6.9M486.6 121.8v6.9M247 133.1h6.9M250.5 129.7v6.9M497.9 102.9h6.9M501.3 99.5v6.9"/><path fill="#00f" stroke="#000" stroke-width=".6" d="M336.5 100.4h5.8v5.8h-5.8zM604.3 118.2h5.8v5.8h-5.8zM181 119.6h5.8v5.8h-5.8zM452.9 139.5h5.8v5.8h-5.8zM363.9 120.8h5.8v5.8h-5.8zM176.5 152.2h5.8v5.8h-5.8zM558.1 115.4h5.8v5.8h-5.8zM158.5 131.1h5.8v5.8h-5.8zM534.8 110.2h5.8v5.8h-5.8zM240.8 145.8h5.8v5.8h-5.8zM224.8 148.5h5.8v5.8h-5.8zM412.1 141.6h5.8v5.8h-5.8zM483.7 117.5h5.8v5.8h-5.8zM426 125.5h5.8v5.8h-5.8zM206.8 137.5h5.8v5.8h-5.8zM537.7 89.9h5.8v5.8h-5.8zM610.9 127.2h5.8v5.8h-5.8zM551.5 94.8h5.8v5.8h-5.8zM255.9 133.7h5.8v5.8h-5.8zM534.9 98.7h5.8v5.8h-5.8zM613 109h5.8v5.8h-5.8zM278.9 100.3h5.8v5.8h-5.8z"/><path fill="#000080" d="M349.8 141.3l3.2 -5.7h-6.3zM550.6 96.5l3.2 -5.7h-6.3zM552.8 84.7l3.2 -5.7h-6.3zM293.9 123.9l3.2 -5.7h-6.3zM511.6 122.5l3.2 -5.7h-6.3zM552.9 104.9l3.2 -5.7h-6.3zM119.9 121.2l3.2 -5.7h-6.3zM364 120.8l3.2 -5.7h-6.3zM170.9 133.5l3.2 -5.7h-6.3zM334.5 111.9l3.2 -5.7h-6.3zM348.2 133.4l3.2 -5.7h-6.3zM608.1 118.6l3.2 -5.7h-6.3zM427.4 135.7l3.2 -5.7h-6.3zM155.3 139.7l3.2 -5.7h-6.3zM584.6 122.6l3.2 -5.7h-6.3zM107.6 112.4l3.2 -5.7h-6.3zM125.9 117l3.2 -5.7h-6.3zM429 128.5l3.2 -5.7h-6.3z"/><path fill="#f00" stroke="#000" stroke-width=".6" d="M525.7 82.2h5.8v5.8h-5.8zM535.8 69.6h5.8v5.8h-5.8zM562.6 88h5.8v5.8h-5.8zM508.4 98.4h5.8v5.8h-5.8zM255.5 119.5h5.8v5.8h-5.8zM149.1 121.7h5.8v5.8h-5.8zM603.7 94.8h5.8v5.8h-5.8zM168.4 131.2h5.8v5.8h-5.8zM306.6 108.2h5.8v5.8h-5.8zM183.6 115.3h5.8v5.8h-5.8zM113 93.3h5.8v5.8h-5.8zM461.7 128.5h5.8v5.8h-5.8zM542.5 91.2h5.8v5.8h-5.8zM193.7 139.9h5.8v5.8h-5.8zM386.4 117.7h5.8v5.8h-5.8zM272.7 128.6h5.8v5.8h-5.8zM283.2 116.7h5.8v5.8h-5.8zM150.3 130.5h5.8v5.8h-5.8zM428.8 145.7h5.8v5.8h-5.8zM580.8 86.3h5.8v5.8h-5.8z"/><path fill="#000" d="M335.5 113.9l3.2 5.7h-6.3zM213.1 148.4l3.2 5.7h-6.3zM527.8 106.9l3.2 5.7h-6.3zM142.7 131.3l3.2 5.7h-6.3zM431 139.6l3.2 5.7h-6.3zM118.2 88.7l3.2 5.7h-6.3zM126.4 128.5l3.2 5.7h-6.3zM102.5 101.9l3.2 5.7h-6.3zM568 81.1l3.2 5.7h-6.3zM327.1 120.7l3.2 5.7h-6.3zM475.5 114.2l3.2 5.7h-6.3zM468.9 124.5l3.2 5.7h-6.3zM621 131.5l3.2 5.7h-6.3zM337.2 121l3.2 5.7h-6.3zM169.6 157.3l3.2 5.7h-6.3zM390.9 129.9l3.2 5.7h-6.3z"/><path fill="#808080" stroke="#000" stroke-width="1.6" d="M609.8 140.2h6.6v6.6h-6.6zM293.2 109.3h6.6v6.6h-6.6zM570.9 110.2h6.6v6.6h-6.6zM190.6 118.9h6.6v6.6h-6.6z"/><path fill="#000" d="M374.8 138.1a2.6 2.6 0 1 0 5.2 0a2.6 2.6 0 1 0 -5.2 0M353.7 127.2a2.6 2.6 0 1 0 5.2 0a2.6 2.6 0 1 0 -5.2 0M558.3 112a2.6 2.6 0 1 0 5.2 0a2.6 2.6 0 1 0 -5.2 0M525.7 117.2a2.6 2.6 0 1 0 5.2 0a2.6 2.6 0 1 0 -5.2 0M312.4 112.6a2.6 2.6 0 1 0 5.2 0a2.6 2.6 0 1 0 -5.2 0M347.5 124.6a2.6 2.6 0 1 0 5.2 0a2.6 2.6 0 1 0 -5.2 0M298.5 105.3a2.6 2.6 0 1 0 5.2 0a2.6 2.6 0 1 0 -5.2 0M579.3 111.8a2.6 2.6 0 1 0 5.2 0a2.6 2.6 0 1 0 -5.2 0M260.7 109.1a2.6 2.6 0 1 0 5.2 0a2.6 2.6 0 1 0 -5.2 0M571.1 100.3a2.6 2.6 0 1 0 5.2 0a2.6 2.6 0 1 0 -5.2 0M551.3 81.7a2.6 2.6 0 1 0 5.2 0a2.6 2.6 0 1 0 -5.2 0M135.8 134.7a2.6 2.6 0 1 0 5.2 0a2.6 2.6 0 1 0 -5.2 0M358.9 117a2.6 2.6 0 1 0 5.2 0a2.6 2.6 0 1 0 -5.2 0M162.9 130.4a2.6 2.6 0 1 0 5.2 0a2.6 2.6 0 1 0 -5.2 0M391.2 129.4a2.6 2.6 0 1 0 5.2 0a2.6 2.6 0 1 0 -5.2 0M576.5 86.9a2.6 2.6 0 1 0 5.2 0a2.6 2.6 0 1 0 -5.2 0"/><path fill="#008000" d="M561.8 108.5l3.2 5.7h-6.3zM443.6 143l3.2 5.7h-6.3zM548.1 87.6l3.2 5.7h-6.3zM588.3 94.4l3.2 5.7h-6.3zM561.4 91l3.2 5.7h-6.3zM188.8 142.7l3.2 5.7h-6.3zM125.1 106l3.2 5.7h-6.3zM176 128.5l3.2 5.7h-6.3zM185.8 129.7l3.2 5.7h-6.3zM514.9 108.4l3.2 5.7h-6.3zM507.1 116.6l3.2 5.7h-6.3zM256.3 116l3.2 5.7h-6.3zM472.9 124l3.2 5.7h-6.3zM238.7 137.3l3.2 5.7h-6.3zM236.5 120.3l3.2 5.7h-6.3zM452 131.7l3.2 5.7h-6.3zM339.4 90.9l3.2 5.7h-6.3zM228 118.5l3.2 5.7h-6.3zM126.6 106.5l3.2 5.7h-6.3zM280.7 111.4l3.2 5.7h-6.3zM411.3 121.5l3.2 5.7h-6.3zM582.3 89.9l3.2 5.7h-6.3zM195.3 144l3.2 5.7h-6.3zM563.8 108.1l3.2 5.7h-6.3zM467.4 118.7l3.2 5.7h-6.3zM247.6 142.6l3.2 5.7h-6.3zM467.3 128.4l3.2 5.7h-6.3zM394.3 130.2l3.2 5.7h-6.3zM446.3 121.1l3.2 5.7h-6.3zM222.8 136.7l3.2 5.7h-6.3zM159.3 110.2l3.2 5.7h-6.3z"/><path fill="none" stroke="#f00" stroke-width="1.9" d="M224.9 155h8.5M229.1 150.8v8.5M226.1 152l6.1 6.1M226.1 158.1l6.1 -6.1M311.7 109.3h8.5M316 105v8.5M312.9 106.2l6.1 6.1M312.9 112.4l6.1 -6.1M161.8 132.7h8.5M166.1 128.4v8.5M163 129.6l6.1 6.1M163 135.8l6.1 -6.1M131.6 113h8.5M135.8 108.8v8.5M132.8 110l6.1 6.1M132.8 116.1l6.1 -6.1M294.6 109.8h8.5M298.8 105.5v8.5M295.8 106.7l6.1 6.1M295.8 112.9l6.1 -6.1M383.9 136.2h8.5M388.2 131.9v8.5M385.1 133.1l6.1 6.1M385.1 139.2l6.1 -6.1M417.7 126.2h8.5M422 122v8.5M418.9 123.1l6.1 6.1M418.9 129.3l6.1 -6.1M409 117.9h8.5M413.2 113.7v8.5M410.2 114.9l6.1 6.1M410.2 121l6.1 -6.1M184.6 128.9h8.5M188.8 124.6v8.5M185.8 125.8l6.1 6.1M185.8 131.9l6.1 -6.1M103.2 102h8.5M107.4 97.8v8.5M104.4 99l6.1 6.1M104.4 105.1l6.1 -6.1M116.4 126.1h8.5M120.7 121.8v8.5M117.6 123l6.1 6.1M117.6 129.2l6.1 -6.1M141.9 137.5h8.5M146.1 133.3v8.5M143.1 134.4l6.1 6.1M143.1 140.6l6.1 -6.1M178.3 140.6h8.5M182.6 136.3v8.5M179.5 137.5l6.1 6.1M179.5 143.7l6.1 -6.1M325.2 129.6h8.5M329.4 125.3v8.5M326.4 126.5l6.1 6.1M326.4 132.6l6.1 -6.1M382.5 104.6h8.5M386.8 100.3v8.5M383.7 101.5l6.1 6.1M383.7 107.6l6.1 -6.1M159.3 146.8h8.5M163.6 142.5v8.5M160.5 143.7l6.1 6.1M160.5 149.8l6.1 -6.1M298.6 104.8h8.5M302.8 100.5v8.5M299.7 101.7l6.1 6.1M299.7 107.9l6.1 -6.1M501.5 101.2h8.5M505.8 97v8.5M502.7 98.2l6.1 6.1M502.7 104.3l6.1 -6.1M361.1 115.6h8.5M365.4 111.4v8.5M362.3 112.6l6.1 6.1M362.3 118.7l6.1 -6.1M507.4 118.9h8.5M511.6 114.6v8.5M508.6 115.8l6.1 6.1M508.6 121.9l6.1 -6.1M125.2 120.7h8.5M129.4 116.4v8.5M126.4 117.6l6.1 6.1M126.4 123.7l6.1 -6.1M386 124.6h8.5M390.2 120.3v8.5M387.2 121.5l6.1 6.1M387.2 127.7l6.1 -6.1M389.5 127.3h8.5M393.8 123.1v8.5M390.7 124.3l6.1 6.1M390.7 130.4l6.1 -6.1M266.9 114.7h8.5M271.2 110.4v8.5M268.1 111.6l6.1 6.1M268.1 117.8l6.1 -6.1M590.8 106.1h8.5M595.1 101.8v8.5M592 103l6.1 6.1M592 109.1l6.1 -6.1M551.3 88.8h8.5M555.6 84.5v8.5M552.5 85.7l6.1 6.1M552.5 91.8l6.1 -6.1M360.1 120.7h8.5M364.3 116.4v8.5M361.3 117.6l6.1 6.1M361.3 123.8l6.1 -6.1M611.3 115h8.5M615.6 110.7v8.5M612.5 111.9l6.1 6.1M612.5 118.1l6.1 -6.1M563 107.3h8.5M567.2 103.1v8.5M564.2 104.2l6.1 6.1M564.2 110.4l6.1 -6.1M458.2 131.2h8.5M462.4 127v8.5M459.4 128.2l6.1 6.1M459.4 134.3l6.1 -6.1M248.9 123.6h8.5M253.1 119.4v8.5M250 120.6l6.1 6.1M250 126.7l6.1 -6.1M168.7 131.8h8.5M172.9 127.5v8.5M169.9 128.7l6.1 6.1M169.9 134.9l6.1 -6.1M467.1 125.7h8.5M471.4 121.4v8.5M468.3 122.6l6.1 6.1M468.3 128.8l6.1 -6.1M243.1 125.2h8.5M247.4 120.9v8.5M244.3 122.1l6.1 6.1M244.3 128.3l6.1 -6.1M138.5 107.3h8.5M142.8 103v8.5M139.7 104.2l6.1 6.1M139.7 110.4l6.1 -6.1M579.5 95.1h8.5M583.8 90.8v8.5M580.7 92l6.1 6.1M580.7 98.2l6.1 -6.1M126.3 96h8.5M130.6 91.7v8.5M127.5 92.9l6.1 6.1M127.5 99l6.1 -6.1M582.2 111.2h8.5M586.4 106.9v8.5M583.3 108.1l6.1 6.1M583.3 114.3l6.1 -6.1"/><path fill="#800000" d="M215.7 132.6l3.2 5.7h-6.3zM614.5 133.2l3.2 5.7h-6.3zM170.1 127.7l3.2 5.7h-6.3zM349.3 124.7l3.2 5.7h-6.3zM490.3 122.3l3.2 5.7h-6.3zM255.4 144.1l3.2 5.7h-6.3zM445.6 146.5l3.2 5.7h-6.3zM498 125.5l3.2 5.7h-6.3zM102.1 115.4l3.2 5.7h-6.3zM237.4 136l3.2 5.7h-6.3zM313.4 102.1l3.2 5.7h-6.3zM306.8 131l3.2 5.7h-6.3zM560 85.3l3.2 5.7h-6.3zM125.4 94.7l3.2 5.7h-6.3zM550 78.7l3.2 5.7h-6.3zM618.4 118.7l3.2 5.7h-6.3zM293 113.1l3.2 5.7h-6.3zM596.3 107l3.2 5.7h-6.3zM451.2 129.5l3.2 5.7h-6.3zM130.5 140.9l3.2 5.7h-6.3zM270.5 136.2l3.2 5.7h-6.3zM220.2 144.4l3.2 5.7h-6.3z"/><path fill="#008000" d="M279.3 108l3.2 -5.7h-6.3zM414.2 115.1l3.2 -5.7h-6.3zM488.9 109.7l3.2 -5.7h-6.3zM615.9 123.8l3.2 -5.7h-6.3zM480.6 103.2l3.2 -5.7h-6.3zM201.8 152.5l3.2 -5.7h-6.3zM342.8 87.7l3.2 -5.7h-6.3zM534.1 87.8l3.2 -5.7h-6.3zM518.8 103.3l3.2 -5.7h-6.3zM283.2 94.4l3.2 -5.7h-6.3zM211.9 128.4l3.2 -5.7h-6.3zM222.1 120.1l3.2 -5.7h-6.3zM256.3 127.2l3.2 -5.7h-6.3zM104.1 112l3.2 -5.7h-6.3zM458.9 120.3l3.2 -5.7h-6.3zM180.6 131.7l3.2 -5.7h-6.3z"/><path fill="#008080" stroke="#000" stroke-width="1.6" d="M257.2 121.7h6.6v6.6h-6.6zM424.8 143.8h6.6v6.6h-6.6z"/><path stroke="#000" d="M110 43v26m-3 -26h6m-6 26h6"/><path stroke="#800000" d="M107 53v20m-3 -20h6m-6 20h6"/><path stroke="#808080" d="M102 60v24m-3 -24h6m-6 24h6"/><path fill="#000" d="M106.9 56a3.1 3.1 0 1 0 6.2 0a3.1 3.1 0 1 0 -6.2 0"/><path fill="#800000" d="M107 59.3l3.7 6.7h-7.5z"/><path fill="#808080" stroke="#000" stroke-width="1.6" d="M98.1 68.1h7.8v7.8h-7.8z"/><path fill="#000080" d="M596.2 65.3l3.2 3.6 -3.2 3.6 -3.2 -3.6zM541.6 59.3l3.2 3.6 -3.2 3.6 -3.2 -3.6zM246 102.7l3.2 3.6 -3.2 3.6 -3.2 -3.6zM585 64.7l3.2 3.6 -3.2 3.6 -3.2 -3.6zM438 103.3l3.2 3.6 -3.2 3.6 -3.2 -3.6zM424.3 94.8l3.2 3.6 -3.2 3.6 -3.2 -3.6zM173.8 99.4l3.2 3.6 -3.2 3.6 -3.2 -3.6zM122.5 67.3l3.2 3.6 -3.2 3.6 -3.2 -3.6zM424.2 94.7l3.2 3.6 -3.2 3.6 -3.2 -3.6zM534.2 63.6l3.2 3.6 -3.2 3.6 -3.2 -3.6zM324.2 80l3.2 3.6 -3.2 3.6 -3.2 -3.6zM287.1 84.1l3.2 3.6 -3.2 3.6 -3.2 -3.6zM608.6 80.6l3.2 3.6 -3.2 3.6 -3.2 -3.6z"/><path fill="#00f" d="M503.2 81a3.1 3.1 0 1 0 6.2 0a3.1 3.1 0 1 0 -6.2 0M580.8 71.4a3.1 3.1 0 1 0 6.2 0a3.1 3.1 0 1 0 -6.2 0M269.8 86.1a3.1 3.1 0 1 0 6.2 0a3.1 3.1 0 1 0 -6.2 0M524.3 71.8a3.1 3.1 0 1 0 6.2 0a3.1 3.1 0 1 0 -6.2 0M302.4 81.2a3.1 3.1 0 1 0 6.2 0a3.1 3.1 0 1 0 -6.2 0M513 73.8a3.1 3.1 0 1 0 6.2 0a3.1 3.1 0 1 0 -6.2 0M272 85.3a3.1 3.1 0 1 0 6.2 0a3.1 3.1 0 1 0 -6.2 0M220.3 114.9a3.1 3.1 0 1 0 6.2 0a3.1 3.1 0 1 0 -6.2 0M214.8 111a3.1 3.1 0 1 0 6.2 0a3.1 3.1 0 1 0 -6.2 0M500.6 84.6a3.1 3.1 0 1 0 6.2 0a3.1 3.1 0 1 0 -6.2 0M346.1 83.3a3.1 3.1 0 1 0 6.2 0a3.1 3.1 0 1 0 -6.2 0M473.4 96.7a3.1 3.1 0 1 0 6.2 0a3.1 3.1 0 1 0 -6.2 0M372.1 92.6a3.1 3.1 0 1 0 6.2 0a3.1 3.1 0 1 0 -6.2 0M366.5 87.9a3.1 3.1 0 1 0 6.2 0a3.1 3.1 0 1 0 -6.2 0M341.5 84a3.1 3.1 0 1 0 6.2 0a3.1 3.1 0 1 0 -6.2 0M449.4 100.1a3.1 3.1 0 1 0 6.2 0a3.1 3.1 0 1 0 -6.2 0"/><path fill="#008000" d="M450.8 108.5l3.7 -6.7h-7.5zM209.5 112.6l3.7 -6.7h-7.5zM299.5 92.6l3.7 -6.7h-7.5zM305.8 88.2l3.7 -6.7h-7.5zM315.7 90.1l3.7 -6.7h-7.5zM513 86.3l3.7 -6.7h-7.5zM157.3 97.9l3.7 -6.7h-7.5zM157 103.1l3.7 -6.7h-7.5zM183.3 107.3l3.7 -6.7h-7.5zM333.9 84.8l3.7 -6.7h-7.5zM589 76.8l3.7 -6.7h-7.5zM135.8 92.6l3.7 -6.7h-7.5z"/></g><g stroke-width="1.1" fill="none"><path fill="none" stroke="#808080" stroke-width="2" d="M110 200 119.5 193 129 186 138 179 148 173 157 168 168 161M523.7 248.9 534.3 240.2 544.4 230.8 554.3 222.3 562 214 572 206 581 200 591 192 600 186 609 178 618 173"/><path stroke="#008080" d="M115.5 144.8v24.3m-3 -24.3h6m-6 24.3h6M125.4 141.4v23.2m-3 -23.2h6m-6 23.2h6M136 202.2v26.6m-3 -26.6h6m-6 26.6h6M321 179.9v25m-3 -25h6m-6 25h6M311.7 207.2v20.4m-3 -20.4h6m-6 20.4h6M585.5 147v19.9m-3 -19.9h6m-6 19.9h6M595.5 142.8v25.1m-3 -25.1h6m-6 25.1h6M605.8 203.6v24.8m-3 -24.8h6m-6 24.8h6M172.9 264.5v25.4m-3 -25.4h6m-6 25.4h6M183.8 259.8v27.6m-3 -27.6h6m-6 27.6h6M193.2 243.1v28m-3 -28h6m-6 28h6M202.6 281.9v23.7m-3 -23.7h6m-6 23.7h6M222.5 270.4v20.7m-3 -20.7h6m-6 20.7h6M293 239.9v21.7m-3 -21.7h6m-6 21.7h6M302.4 228.4v29.3m-3 -29.3h6m-6 29.3h6M572.5 139.1v34.8m-3 -34.8h6m-6 34.8h6M612.5 164v31.9m-3 -31.9h6m-6 31.9h6"/><path stroke="#800080" d="M129 150.8v34.4m-3 -34.4h6m-6 34.4h6M118.8 159.8v52.4m-3 -52.4h6m-6 52.4h6M138.3 187.6v44m-3 -44h6m-6 44h6M588.9 164.6v42.8m-3 -42.8h6m-6 42.8h6M599.5 146.7v44.2m-3 -44.2h6m-6 44.2h6M609 187.9v41.9m-3 -41.9h6m-6 41.9h6M157.8 250.5v44m-3 -44h6m-6 44h6M238.3 295.6v41m-3 -41h6m-6 41h6M266.7 294.4v38.5m-3 -38.5h6m-6 38.5h6M276.8 293.5v37.2m-3 -37.2h6m-6 37.2h6M257.3 315.1v56m-3 -56h6m-6 56h6M352.5 158.3v23.8m-3 -23.8h6m-6 23.8h6M469.7 163.2v34.8m-3 -34.8h6m-6 34.8h6M395.2 157.3v35.3m-3 -35.3h6m-6 35.3h6"/><path stroke="#000080" d="M156.7 155.2v45.6m-3 -45.6h6m-6 45.6h6M175.4 178.8v39.5m-3 -39.5h6m-6 39.5h6M185.5 196v32m-3 -32h6m-6 32h6M265 268.9v43.7m-3 -43.7h6m-6 43.7h6M360.7 232.6v68m-3 -68h6m-6 68h6"/><path stroke="#008000" d="M146.6 154.8v29.4m-3 -29.4h6m-6 29.4h6M157.2 188.6v35.7m-3 -35.7h6m-6 35.7h6M172.5 172.8v39.3m-3 -39.3h6m-6 39.3h6M167.4 195.3v27.3m-3 -27.3h6m-6 27.3h6M178.4 187.5v41.8m-3 -41.8h6m-6 41.8h6M183 194.3v31.4m-3 -31.4h6m-6 31.4h6M194.7 216.2v33.6m-3 -33.6h6m-6 33.6h6M439.5 153.6v43.6m-3 -43.6h6m-6 43.6h6M618.3 153.6v29.4m-3 -29.4h6m-6 29.4h6M199.6 240.6v33m-3 -33h6m-6 33h6M205 262.6v44.2m-3 -44.2h6m-6 44.2h6M210.2 260.8v30.4m-3 -30.4h6m-6 30.4h6M215.4 240.6v36.4m-3 -36.4h6m-6 36.4h6M219.6 271.9v39.8m-3 -39.8h6m-6 39.8h6M225.5 284.2v41.6m-3 -41.6h6m-6 41.6h6M230.6 268v31.6m-3 -31.6h6m-6 31.6h6M281.5 294v28.6m-3 -28.6h6m-6 28.6h6M265.5 298v36.1m-3 -36.1h6m-6 36.1h6M276.9 319.1v29m-3 -29h6m-6 29h6"/><path stroke="#000" d="M165 192.7v35.3m-3 -35.3h6m-6 35.3h6M174.3 225.1v40.5m-3 -40.5h6m-6 40.5h6M193.2 268.8v33.1m-3 -33.1h6m-6 33.1h6M212 304.2v44m-3 -44h6m-6 44h6M222.6 313.1v48.1m-3 -48.1h6m-6 48.1h6M232.1 335v33.6m-3 -33.6h6m-6 33.6h6M241.5 288.2v45.1m-3 -45.1h6m-6 45.1h6M251.3 256.9v46.1m-3 -46.1h6m-6 46.1h6M267.4 164.9v37.4m-3 -37.4h6m-6 37.4h6M272 148.5v24.6m-3 -24.6h6m-6 24.6h6M248.5 159.6v26.8m-3 -26.8h6m-6 26.8h6M301.3 149.5v31.9m-3 -31.9h6m-6 31.9h6M306.5 163.3v31.2m-3 -31.2h6m-6 31.2h6M311.7 176.5v34.6m-3 -34.6h6m-6 34.6h6"/><path stroke="#800000" d="M223 176.5v36.5m-3 -36.5h6m-6 36.5h6M239.5 157.4v35.3m-3 -35.3h6m-6 35.3h6M250.8 154.6v42.3m-3 -42.3h6m-6 42.3h6M255.6 171.5v30.3m-3 -30.3h6m-6 30.3h6M244.7 203.2v34m-3 -34h6m-6 34h6M260.3 197.9v31.4m-3 -31.4h6m-6 31.4h6M266 184.5v48.8m-3 -48.8h6m-6 48.8h6M271.4 182.1v35.8m-3 -35.8h6m-6 35.8h6M276 176.4v44.2m-3 -44.2h6m-6 44.2h6M281.5 218.3v36.8m-3 -36.8h6m-6 36.8h6M308.9 210.4v32.7m-3 -32.7h6m-6 32.7h6M318.8 212.6v42.5m-3 -42.5h6m-6 42.5h6M303 216.7v39.9m-3 -39.9h6m-6 39.9h6M407.7 160.2v30.4m-3 -30.4h6m-6 30.4h6M423 152.1v37.1m-3 -37.1h6m-6 37.1h6M427.7 158.7v45.3m-3 -45.3h6m-6 45.3h6M443.8 157.6v39.3m-3 -39.3h6m-6 39.3h6M454.2 166.3v41.8m-3 -41.8h6m-6 41.8h6M476 163.4v33.1m-3 -33.1h6m-6 33.1h6M482 147v46.3m-3 -46.3h6m-6 46.3h6M318.9 211.3v44.4m-3 -44.4h6m-6 44.4h6M324.3 227.9v36.3m-3 -36.3h6m-6 36.3h6M329.5 233.3v36.7m-3 -36.7h6m-6 36.7h6M335.4 228.3v46.8m-3 -46.8h6m-6 46.8h6M314.2 240.4v34.8m-3 -34.8h6m-6 34.8h6"/><path stroke="#00f" d="M353.2 171.2v45.2m-3 -45.2h6m-6 45.2h6M363.1 142.2v61.6m-3 -61.6h6m-6 61.6h6M368.3 170.9v65.6m-3 -65.6h6m-6 65.6h6M377.7 179.9v49.9m-3 -49.9h6m-6 49.9h6M383.9 163.9v47.3m-3 -47.3h6m-6 47.3h6M387.9 199.5v46.9m-3 -46.9h6m-6 46.9h6M394.7 173.4v47.2m-3 -47.2h6m-6 47.2h6M398.3 187.7v62.7m-3 -62.7h6m-6 62.7h6M418.3 206.9v55.8m-3 -55.8h6m-6 55.8h6M428.3 217.4v63.1m-3 -63.1h6m-6 63.1h6M443.7 268.9v42.3m-3 -42.3h6m-6 42.3h6M454.3 233.3v58.4m-3 -58.4h6m-6 58.4h6M459 249v44.6m-3 -44.6h6m-6 44.6h6M464.4 248v56.1m-3 -56.1h6m-6 56.1h6"/><path stroke="#808080" d="M495.2 170.6v50.9m-3 -50.9h6m-6 50.9h6M533.6 178.5v43.3m-3 -43.3h6m-6 43.3h6M539.5 185v46.8m-3 -46.8h6m-6 46.8h6"/><path stroke="#f00" d="M465.9 205v50m-3 -50h6m-6 50h6M491.8 206v63.6m-3 -63.6h6m-6 63.6h6M502 209.1v79.5m-3 -79.5h6m-6 79.5h6M495.8 228.9v61.2m-3 -61.2h6m-6 61.2h6M514.2 198.2v80.1m-3 -80.1h6m-6 80.1h6M519 215.3v59.2m-3 -59.2h6m-6 59.2h6"/><path fill="none" stroke="#808080" stroke-width="1.9" d="M104.2 200h11.6M110 194.2v11.6M105.8 195.8l8.4 8.4M105.8 204.2l8.4 -8.4M113.7 193h11.6M119.5 187.2v11.6M115.3 188.8l8.4 8.4M115.3 197.2l8.4 -8.4M123.2 186h11.6M129 180.2v11.6M124.8 181.8l8.4 8.4M124.8 190.2l8.4 -8.4M132.2 179h11.6M138 173.2v11.6M133.8 174.8l8.4 8.4M133.8 183.2l8.4 -8.4M142.2 173h11.6M148 167.2v11.6M143.8 168.8l8.4 8.4M143.8 177.2l8.4 -8.4M151.2 168h11.6M157 162.2v11.6M152.8 163.8l8.4 8.4M152.8 172.2l8.4 -8.4M162.2 161h11.6M168 155.2v11.6M163.8 156.8l8.4 8.4M163.8 165.2l8.4 -8.4M517.9 248.9h11.6M523.7 243.1v11.6M519.5 244.7l8.4 8.4M519.5 253.1l8.4 -8.4M528.5 240.2h11.6M534.3 234.4v11.6M530.1 236l8.4 8.4M530.1 244.4l8.4 -8.4M538.6 230.8h11.6M544.4 225v11.6M540.2 226.6l8.4 8.4M540.2 235l8.4 -8.4M548.5 222.3h11.6M554.3 216.5v11.6M550.1 218.1l8.4 8.4M550.1 226.5l8.4 -8.4M556.2 214h11.6M562 208.2v11.6M557.8 209.8l8.4 8.4M557.8 218.2l8.4 -8.4M566.2 206h11.6M572 200.2v11.6M567.8 201.8l8.4 8.4M567.8 210.2l8.4 -8.4M575.2 200h11.6M581 194.2v11.6M576.8 195.8l8.4 8.4M576.8 204.2l8.4 -8.4M585.2 192h11.6M591 186.2v11.6M586.8 187.8l8.4 8.4M586.8 196.2l8.4 -8.4M594.2 186h11.6M600 180.2v11.6M595.8 181.8l8.4 8.4M595.8 190.2l8.4 -8.4M603.2 178h11.6M609 172.2v11.6M604.8 173.8l8.4 8.4M604.8 182.2l8.4 -8.4M612.2 173h11.6M618 167.2v11.6M613.8 168.8l8.4 8.4M613.8 177.2l8.4 -8.4"/><path fill="#008080" stroke="#000" stroke-width="1.6" d="M111 152.5h9v9h-9zM120.9 148.5h9v9h-9zM131.5 211h9v9h-9zM316.5 187.9h9v9h-9zM307.2 212.9h9v9h-9zM581 152.5h9v9h-9zM591 150.8h9v9h-9zM601.3 211.5h9v9h-9zM168.4 272.7h9v9h-9zM179.3 269.1h9v9h-9zM188.7 252.6h9v9h-9zM198.1 289.2h9v9h-9zM218 276.2h9v9h-9zM288.5 246.3h9v9h-9zM297.9 238.5h9v9h-9z"/><path fill="none" stroke="#800080" stroke-width="2.2" d="M124.3 168h9.4M129 163.3v9.4M114.1 186h9.4M118.8 181.3v9.4M133.6 209.6h9.4M138.3 204.9v9.4M584.2 186h9.4M588.9 181.3v9.4M594.8 168.8h9.4M599.5 164.1v9.4M604.3 208.9h9.4M609 204.2v9.4M153.1 272.5h9.4M157.8 267.8v9.4M233.6 316.1h9.4M238.3 311.4v9.4M262 313.7h9.4M266.7 309v9.4M272.1 312.1h9.4M276.8 307.4v9.4M252.6 343.1h9.4M257.3 338.4v9.4"/><path fill="#000080" d="M156.7 173.9l3.7 4.1 -3.7 4.1 -3.7 -4.1zM175.4 194.4l3.7 4.1 -3.7 4.1 -3.7 -4.1zM185.5 207.9l3.7 4.1 -3.7 4.1 -3.7 -4.1zM265 286.7l3.7 4.1 -3.7 4.1 -3.7 -4.1zM360.7 262.5l3.7 4.1 -3.7 4.1 -3.7 -4.1z"/><path fill="#008000" d="M146.6 173.8l4.3 -7.8h-8.6zM157.2 210.8l4.3 -7.8h-8.6zM172.5 196.7l4.3 -7.8h-8.6zM167.4 213.2l4.3 -7.8h-8.6zM178.4 212.7l4.3 -7.8h-8.6zM183 214.3l4.3 -7.8h-8.6zM194.7 237.3l4.3 -7.8h-8.6zM439.5 179.7l4.3 -7.8h-8.6zM618.3 172.6l4.3 -7.8h-8.6zM199.6 261.4l4.3 -7.8h-8.6zM205 289l4.3 -7.8h-8.6zM210.2 280.3l4.3 -7.8h-8.6zM215.4 263.1l4.3 -7.8h-8.6zM219.6 296.1l4.3 -7.8h-8.6zM225.5 309.3l4.3 -7.8h-8.6zM230.6 288.1l4.3 -7.8h-8.6zM281.5 312.6l4.3 -7.8h-8.6zM265.5 320.3l4.3 -7.8h-8.6zM276.9 337.9l4.3 -7.8h-8.6z"/><path fill="#000" d="M165 206l4.3 7.8h-8.6zM174.3 241l4.3 7.8h-8.6zM193.2 281.1l4.3 7.8h-8.6zM212 321.9l4.3 7.8h-8.6zM222.6 332.9l4.3 7.8h-8.6zM232.1 347.5l4.3 7.8h-8.6zM241.5 306.5l4.3 7.8h-8.6zM251.3 275.7l4.3 7.8h-8.6z"/><path fill="#f00" stroke="#000" stroke-width=".6" d="M146.1 156.1h7.9v7.9h-7.9zM158.1 166.1h7.9v7.9h-7.9zM182.8 190.1h7.9v7.9h-7.9zM365.1 205.7h7.9v7.9h-7.9zM350.3 221h7.9v7.9h-7.9zM415.6 179.7h7.9v7.9h-7.9zM225.6 240.7h7.9v7.9h-7.9zM278.1 261.9h7.9v7.9h-7.9zM283.3 251.6h7.9v7.9h-7.9zM241.5 283.9h7.9v7.9h-7.9zM306.8 251.6h7.9v7.9h-7.9zM372.3 261h7.9v7.9h-7.9z"/><path fill="#800000" d="M223 190.4l4.3 7.8h-8.6zM239.5 170.7l4.3 7.8h-8.6zM250.8 171.5l4.3 7.8h-8.6zM255.6 182.4l4.3 7.8h-8.6zM244.7 215.9l4.3 7.8h-8.6zM260.3 209.3l4.3 7.8h-8.6zM266 204.6l4.3 7.8h-8.6zM271.4 195.7l4.3 7.8h-8.6zM276 194.2l4.3 7.8h-8.6zM281.5 232.4l4.3 7.8h-8.6zM308.9 222.5l4.3 7.8h-8.6zM318.8 229.6l4.3 7.8h-8.6zM303 232.4l4.3 7.8h-8.6zM407.7 171.1l4.3 7.8h-8.6zM423 166.4l4.3 7.8h-8.6zM427.7 177l4.3 7.8h-8.6zM443.8 173l4.3 7.8h-8.6zM454.2 182.9l4.3 7.8h-8.6zM476 175.7l4.3 7.8h-8.6zM482 165.9l4.3 7.8h-8.6zM318.9 229.2l4.3 7.8h-8.6zM324.3 241.7l4.3 7.8h-8.6zM329.5 247.4l4.3 7.8h-8.6zM335.4 247.4l4.3 7.8h-8.6zM314.2 253.5l4.3 7.8h-8.6z"/><path fill="#000" d="M263.8 183.6a3.6 3.6 0 1 0 7.1 0a3.6 3.6 0 1 0 -7.1 0M268.4 160.8a3.6 3.6 0 1 0 7.1 0a3.6 3.6 0 1 0 -7.1 0M244.9 173a3.6 3.6 0 1 0 7.1 0a3.6 3.6 0 1 0 -7.1 0M297.7 165.5a3.6 3.6 0 1 0 7.1 0a3.6 3.6 0 1 0 -7.1 0M302.9 178.9a3.6 3.6 0 1 0 7.1 0a3.6 3.6 0 1 0 -7.1 0M308.1 193.8a3.6 3.6 0 1 0 7.1 0a3.6 3.6 0 1 0 -7.1 0"/><path fill="#00f" stroke="#000" stroke-width=".6" d="M349.3 189.9h7.9v7.9h-7.9zM359.2 169.1h7.9v7.9h-7.9zM364.4 199.8h7.9v7.9h-7.9zM373.8 201h7.9v7.9h-7.9zM380 183.7h7.9v7.9h-7.9zM384 219.1h7.9v7.9h-7.9zM390.8 193.1h7.9v7.9h-7.9zM394.4 215.1h7.9v7.9h-7.9zM414.4 230.9h7.9v7.9h-7.9zM424.4 245h7.9v7.9h-7.9zM439.8 286.2h7.9v7.9h-7.9zM450.4 258.6h7.9v7.9h-7.9zM455.1 267.4h7.9v7.9h-7.9zM460.5 272.1h7.9v7.9h-7.9z"/><path fill="#800080" d="M352.5 166.1l3.7 4.1 -3.7 4.1 -3.7 -4.1zM469.7 176.5l3.7 4.1 -3.7 4.1 -3.7 -4.1zM395.2 170.8l3.7 4.1 -3.7 4.1 -3.7 -4.1z"/><path fill="#808080" stroke="#000" stroke-width="1.6" d="M490.7 191.6h9v9h-9zM529.1 195.6h9v9h-9zM535 203.9h9v9h-9z"/><path fill="#00f" d="M534.7 215a3.6 3.6 0 1 0 7.1 0a3.6 3.6 0 1 0 -7.1 0M543 219.7a3.6 3.6 0 1 0 7.1 0a3.6 3.6 0 1 0 -7.1 0M491.1 165.5a3.6 3.6 0 1 0 7.1 0a3.6 3.6 0 1 0 -7.1 0M147.2 252.4a3.6 3.6 0 1 0 7.1 0a3.6 3.6 0 1 0 -7.1 0M165.3 264.2a3.6 3.6 0 1 0 7.1 0a3.6 3.6 0 1 0 -7.1 0M174.7 269.6a3.6 3.6 0 1 0 7.1 0a3.6 3.6 0 1 0 -7.1 0"/><path fill="none" stroke="#f00" stroke-width="1.9" d="M460.1 230h11.6M465.9 224.2v11.6M461.7 225.8l8.4 8.4M461.7 234.2l8.4 -8.4M486 237.8h11.6M491.8 232v11.6M487.6 233.6l8.4 8.4M487.6 242l8.4 -8.4M496.2 248.9h11.6M502 243.1v11.6M497.8 244.7l8.4 8.4M497.8 253.1l8.4 -8.4M490 259.5h11.6M495.8 253.7v11.6M491.6 255.3l8.4 8.4M491.6 263.7l8.4 -8.4M508.4 238.3h11.6M514.2 232.5v11.6M510 234.1l8.4 8.4M510 242.5l8.4 -8.4M513.2 244.9h11.6M519 239.1v11.6M514.8 240.7l8.4 8.4M514.8 249.1l8.4 -8.4"/><path fill="none" stroke="#008080" stroke-width="2.2" d="M567.8 156.5h9.4M572.5 151.8v9.4M607.8 180h9.4M612.5 175.3v9.4"/></g><g fill="none" stroke-width="1"><rect x="244.3" y="273" width="14" height="14" stroke="#000"/><rect x="273.5" y="300" width="16" height="16" stroke="#008000"/><rect x="270" y="305" width="14" height="14" stroke="#800080"/><rect x="303.8" y="187.2" width="14" height="14" stroke="#808080"/><rect x="313.5" y="184.9" width="15" height="15" stroke="#008080"/><rect x="328.4" y="244.7" width="14" height="14" stroke="#800000"/><rect x="353.7" y="259.6" width="14" height="14" stroke="#00f"/><rect x="457.4" y="269" width="14" height="14" stroke="#00f"/><rect x="487.7" y="158.5" width="14" height="14" stroke="#00f"/><rect x="532.5" y="201.4" width="14" height="14" stroke="#808080"/><rect x="512" y="237.9" width="14" height="14" stroke="#f00"/><circle cx="523.7" cy="248.9" r="6" stroke="#808080"/></g></g>
<g stroke="#444" stroke-width="1.5"><line x1="69" y1="27.1" x2="77.3" y2="27.1"/><line x1="653.5" y1="27.1" x2="646.3" y2="27.1"/><line x1="69" y1="55.0" x2="77.3" y2="55.0"/><line x1="653.5" y1="55.0" x2="646.3" y2="55.0"/><line x1="69" y1="82.9" x2="77.3" y2="82.9"/><line x1="653.5" y1="82.9" x2="646.3" y2="82.9"/><line x1="69" y1="110.8" x2="77.3" y2="110.8"/><line x1="653.5" y1="110.8" x2="646.3" y2="110.8"/><line x1="69" y1="138.7" x2="77.3" y2="138.7"/><line x1="653.5" y1="138.7" x2="646.3" y2="138.7"/><line x1="69" y1="166.6" x2="77.3" y2="166.6"/><line x1="653.5" y1="166.6" x2="646.3" y2="166.6"/><line x1="69" y1="194.5" x2="77.3" y2="194.5"/><line x1="653.5" y1="194.5" x2="646.3" y2="194.5"/><line x1="69" y1="222.4" x2="77.3" y2="222.4"/><line x1="653.5" y1="222.4" x2="646.3" y2="222.4"/><line x1="69" y1="250.3" x2="77.3" y2="250.3"/><line x1="653.5" y1="250.3" x2="646.3" y2="250.3"/><line x1="69" y1="278.2" x2="77.3" y2="278.2"/><line x1="653.5" y1="278.2" x2="646.3" y2="278.2"/><line x1="69" y1="306.1" x2="77.3" y2="306.1"/><line x1="653.5" y1="306.1" x2="646.3" y2="306.1"/><line x1="69" y1="334.0" x2="77.3" y2="334.0"/><line x1="653.5" y1="334.0" x2="646.3" y2="334.0"/><line x1="69" y1="361.9" x2="77.3" y2="361.9"/><line x1="653.5" y1="361.9" x2="646.3" y2="361.9"/><line x1="126.7" y1="403" x2="126.7" y2="395.9"/><line x1="126.7" y1="4" x2="126.7" y2="8.7"/><line x1="173.7" y1="403" x2="173.7" y2="395.9"/><line x1="173.7" y1="4" x2="173.7" y2="8.7"/><line x1="220.7" y1="403" x2="220.7" y2="395.9"/><line x1="220.7" y1="4" x2="220.7" y2="8.7"/><line x1="267.8" y1="403" x2="267.8" y2="395.9"/><line x1="267.8" y1="4" x2="267.8" y2="8.7"/><line x1="314.8" y1="403" x2="314.8" y2="395.9"/><line x1="314.8" y1="4" x2="314.8" y2="8.7"/><line x1="361.8" y1="403" x2="361.8" y2="395.9"/><line x1="361.8" y1="4" x2="361.8" y2="8.7"/><line x1="408.8" y1="403" x2="408.8" y2="395.9"/><line x1="408.8" y1="4" x2="408.8" y2="8.7"/><line x1="455.8" y1="403" x2="455.8" y2="395.9"/><line x1="455.8" y1="4" x2="455.8" y2="8.7"/><line x1="502.9" y1="403" x2="502.9" y2="395.9"/><line x1="502.9" y1="4" x2="502.9" y2="8.7"/><line x1="549.9" y1="403" x2="549.9" y2="395.9"/><line x1="549.9" y1="4" x2="549.9" y2="8.7"/><line x1="596.9" y1="403" x2="596.9" y2="395.9"/><line x1="596.9" y1="4" x2="596.9" y2="8.7"/></g>
<rect x="68.8" y="4" width="585.1" height="399.5" fill="none" stroke="#000" stroke-width="1.9"/>
<text x="64.8" y="32.4" class="yl">19.20</text><text x="64.8" y="60.3" class="yl">19.25</text><text x="64.8" y="88.2" class="yl">19.30</text><text x="64.8" y="116.1" class="yl">19.35</text><text x="64.8" y="144.0" class="yl">19.40</text><text x="64.8" y="171.9" class="yl">19.45</text><text x="64.8" y="199.8" class="yl">19.50</text><text x="64.8" y="227.7" class="yl">19.55</text><text x="64.8" y="255.6" class="yl">19.60</text><text x="64.8" y="283.5" class="yl">19.65</text><text x="64.8" y="311.4" class="yl">19.70</text><text x="64.8" y="339.3" class="yl">19.75</text><text x="64.8" y="367.2" class="yl">19.80</text>
<text x="126.3" y="420.6" class="xl">0.00</text><text x="173.3" y="420.6" class="xl">0.10</text><text x="220.3" y="420.6" class="xl">0.20</text><text x="267.4" y="420.6" class="xl">0.30</text><text x="314.4" y="420.6" class="xl">0.40</text><text x="361.4" y="420.6" class="xl">0.50</text><text x="408.4" y="420.6" class="xl">0.60</text><text x="455.4" y="420.6" class="xl">0.70</text><text x="502.5" y="420.6" class="xl">0.80</text><text x="549.5" y="420.6" class="xl">0.90</text><text x="596.5" y="420.6" class="xl">1.00</text>
<text transform="translate(85.6 32.4) scale(1.16 1)" font-size="24.5" stroke="#000" stroke-width="0.7">(399307) 1991 RJ2</text>
<text x="414" y="31.6" font-size="18.15">Period: 3.4807 ± 0.0002 h</text>
<text x="87.3" y="390" font-size="18">JDo(LTC): 2456896.801818</text>
<text transform="translate(16.2 338.8) rotate(-90)" font-size="16.15">Reduced Magnitude(V) alpha(20.5°)</text>
<rect x="662" y="57" width="83" height="291" fill="#000"/><rect x="659.5" y="54.5" width="82.5" height="290" fill="#fff" stroke="#444" stroke-width="1"/><text x="679.4" y="66.4" class="lg" style="font-size:12.1px">Year: 2014</text><circle cx="669.9" cy="76.5" r="3.42" fill="#800000"/><text x="679.8" y="80.7" class="lg">1 - 08/27</text><path d="M669.9 86.5L674.3 94.7L665.5 94.7Z" fill="#008000"/><text x="679.8" y="95.1" class="lg">2 - 08/28</text><path d="M669.9 109.6L674.1 101.8L665.7 101.8Z" fill="#000080"/><text x="679.8" y="109.6" class="lg">3 - 08/29</text><path d="M669.9 115.7L673.7 119.9L669.9 124.1L666.1 119.9Z" fill="#800080"/><text x="679.8" y="124.1" class="lg">4 - 08/30</text><path d="M664.9 134.3H674.9M669.9 129.3V139.3" stroke="#008080" stroke-width="2.3" fill="none"/><text x="679.8" y="138.6" class="lg">5 - 08/31</text><rect x="666.1" y="145.0" width="7.6" height="7.6" fill="#808080" stroke="#000" stroke-width="1.6"/><text x="679.8" y="153.0" class="lg">6 - 09/01</text><path d="M664.3 163.3H675.5M669.9 157.7V168.9M665.9 159.3L673.9 167.3M665.9 167.3L673.9 159.3" stroke="#ff0000" stroke-width="2.2" fill="none"/><text x="679.8" y="167.5" class="lg">7 - 09/02</text><rect x="665.9" y="173.8" width="8.0" height="8.0" fill="#0000ff" stroke="#000" stroke-width="0.7"/><text x="679.8" y="182.0" class="lg">8 - 09/03</text><circle cx="669.9" cy="192.2" r="3.42" fill="#000000"/><text x="679.8" y="196.4" class="lg">9 - 09/04</text><path d="M669.9 202.3L674.3 210.4L665.5 210.4Z" fill="#800000"/><text x="679.8" y="210.9" class="lg">10 - 09/05</text><path d="M669.9 225.4L674.1 217.6L665.7 217.6Z" fill="#008000"/><text x="679.8" y="225.4" class="lg">11 - 09/06</text><path d="M669.9 231.4L673.7 235.6L669.9 239.8L666.1 235.6Z" fill="#000080"/><text x="679.8" y="239.8" class="lg">12 - 09/13</text><path d="M664.9 250.1H674.9M669.9 245.1V255.1" stroke="#800080" stroke-width="2.3" fill="none"/><text x="679.8" y="254.3" class="lg">13 - 09/14</text><rect x="666.1" y="260.8" width="7.6" height="7.6" fill="#008080" stroke="#000" stroke-width="1.6"/><text x="679.8" y="268.8" class="lg">14 - 09/21</text><path d="M664.3 279.1H675.5M669.9 273.5V284.7M665.9 275.0L673.9 283.1M665.9 283.1L673.9 275.0" stroke="#808080" stroke-width="2.2" fill="none"/><text x="679.8" y="283.3" class="lg">15 - 09/22</text><rect x="665.9" y="289.5" width="8.0" height="8.0" fill="#ff0000" stroke="#000" stroke-width="0.7"/><text x="679.8" y="297.7" class="lg">16 - 09/22</text><circle cx="669.9" cy="308.0" r="3.42" fill="#0000ff"/><text x="679.8" y="312.2" class="lg">17 - 09/28</text><path d="M669.9 318.1L674.3 326.2L665.5 326.2Z" fill="#000000"/><text x="679.8" y="326.7" class="lg">18 - 09/28</text><line x1="663" y1="335.8" x2="677" y2="335.8" stroke="#000" stroke-width="2"/><text x="679.8" y="341.1" class="lg">6th Order</text>
</svg>
</body></html>
